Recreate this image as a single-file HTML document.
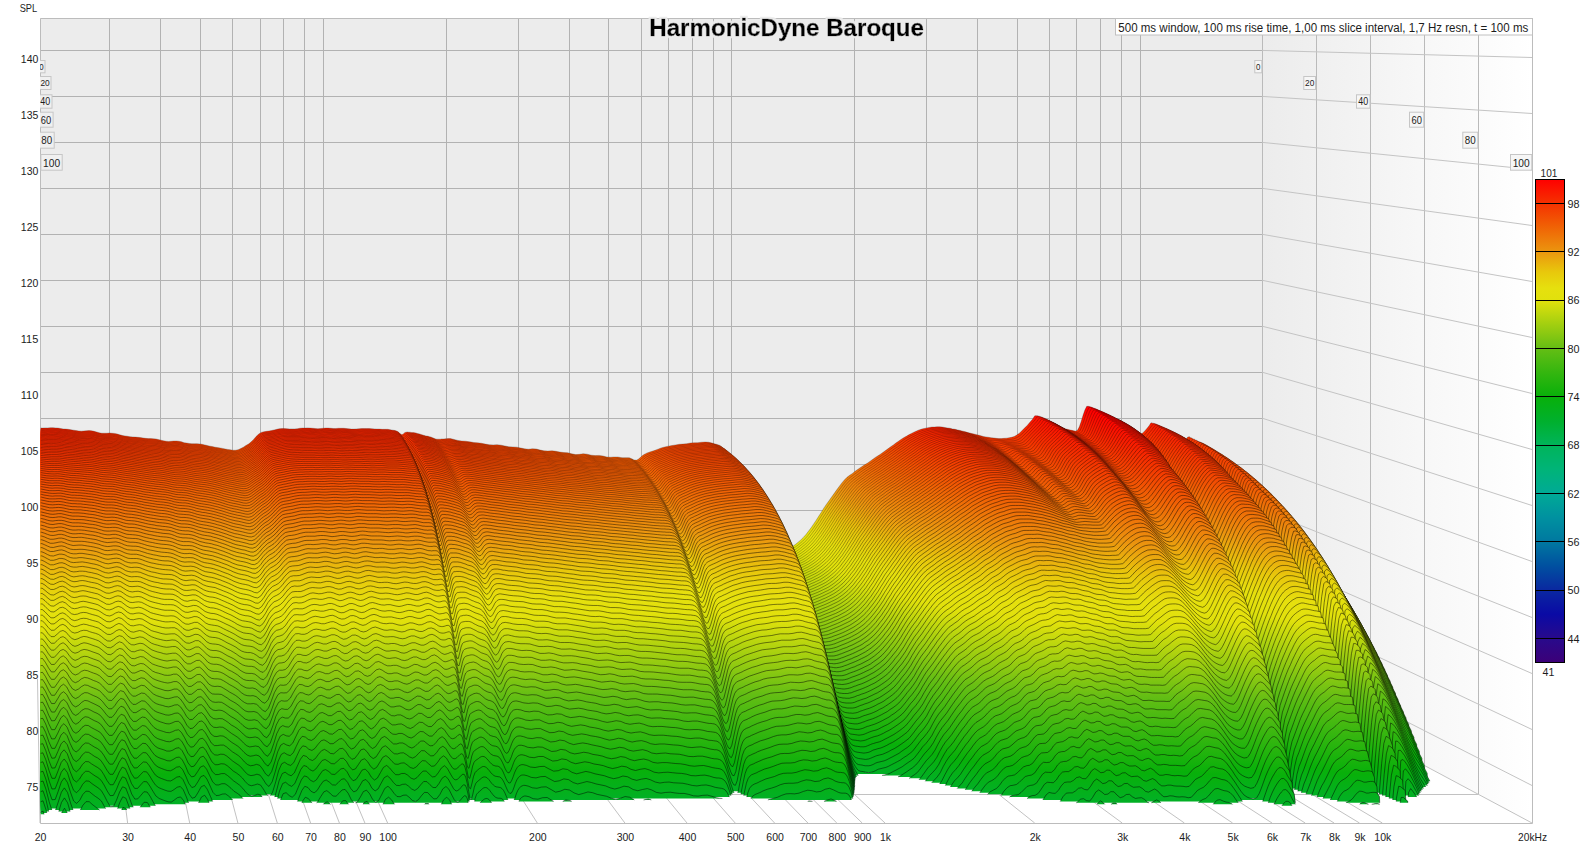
<!DOCTYPE html>
<html><head><meta charset="utf-8"><title>HarmonicDyne Baroque</title>
<style>html,body{margin:0;padding:0;background:#fff}svg{display:block}text{font-family:'Liberation Sans', sans-serif;fill:#1c1c1c}</style></head>
<body>
<svg width="1590" height="849" viewBox="0 0 1590 849">
<defs>
<linearGradient id="rw" x1="0" y1="0" x2="1" y2="0"><stop offset="0" stop-color="#ececec"/><stop offset="1" stop-color="#ffffff"/></linearGradient>
<linearGradient id="lv" gradientUnits="userSpaceOnUse" x1="0" y1="1905.2" x2="0" y2="4593.2"><stop offset="0.0000" stop-color="#ff0000"/><stop offset="0.0500" stop-color="#f53200"/><stop offset="0.1000" stop-color="#f06405"/><stop offset="0.1500" stop-color="#eb960f"/><stop offset="0.1917" stop-color="#e8c80c"/><stop offset="0.2250" stop-color="#e6e00e"/><stop offset="0.2500" stop-color="#e1e10c"/><stop offset="0.3000" stop-color="#a2cf10"/><stop offset="0.3500" stop-color="#64be14"/><stop offset="0.4000" stop-color="#34b60f"/><stop offset="0.4500" stop-color="#08b00a"/><stop offset="0.5000" stop-color="#00b02d"/><stop offset="0.5500" stop-color="#00b45a"/><stop offset="0.6000" stop-color="#00b478"/><stop offset="0.6500" stop-color="#00aa96"/><stop offset="0.7000" stop-color="#0091a0"/><stop offset="0.7500" stop-color="#0078a0"/><stop offset="0.8000" stop-color="#0050a0"/><stop offset="0.8500" stop-color="#0a28a0"/><stop offset="0.9000" stop-color="#0a0aa5"/><stop offset="0.9500" stop-color="#280a8c"/><stop offset="1.0000" stop-color="#3c0078"/></linearGradient>
<linearGradient id="cb" x1="0" y1="0" x2="0" y2="1"><stop offset="0.0000" stop-color="#ff0000"/><stop offset="0.0500" stop-color="#f53200"/><stop offset="0.1000" stop-color="#f06405"/><stop offset="0.1500" stop-color="#eb960f"/><stop offset="0.1917" stop-color="#e8c80c"/><stop offset="0.2250" stop-color="#e6e00e"/><stop offset="0.2500" stop-color="#e1e10c"/><stop offset="0.3000" stop-color="#a2cf10"/><stop offset="0.3500" stop-color="#64be14"/><stop offset="0.4000" stop-color="#34b60f"/><stop offset="0.4500" stop-color="#08b00a"/><stop offset="0.5000" stop-color="#00b02d"/><stop offset="0.5500" stop-color="#00b45a"/><stop offset="0.6000" stop-color="#00b478"/><stop offset="0.6500" stop-color="#00aa96"/><stop offset="0.7000" stop-color="#0091a0"/><stop offset="0.7500" stop-color="#0078a0"/><stop offset="0.8000" stop-color="#0050a0"/><stop offset="0.8500" stop-color="#0a28a0"/><stop offset="0.9000" stop-color="#0a0aa5"/><stop offset="0.9500" stop-color="#280a8c"/><stop offset="1.0000" stop-color="#3c0078"/></linearGradient>
<clipPath id="pc"><rect x="40" y="18" width="1492.5" height="805.5"/></clipPath><clipPath id="pw"><rect x="40.7" y="18" width="1491.3" height="805"/></clipPath>
<filter id="halo" x="-3%" y="-25%" width="106%" height="150%"><feMorphology in="SourceAlpha" operator="dilate" radius="1.5" result="d"/><feFlood flood-color="#ececec" flood-opacity="0.92"/><feComposite in2="d" operator="in" result="h"/><feMerge><feMergeNode in="h"/><feMergeNode in="SourceGraphic"/></feMerge></filter>
</defs>
<rect width="1590" height="849" fill="#fff"/>
<rect x="40.0" y="18.0" width="1222.4" height="660.9" fill="#ececec"/>
<polygon points="1262.4,18.0 1532.0,18.0 1532.0,823.0 1262.4,678.9" fill="url(#rw)"/>
<path clip-path="url(#pc)" d="M37.5 18.0V678.9M109.5 18.0V678.9M160.5 18.0V678.9M200.5 18.0V678.9M232.5 18.0V678.9M260.5 18.0V678.9M283.5 18.0V678.9M304.5 18.0V678.9M323.5 18.0V678.9M446.5 18.0V678.9M518.5 18.0V678.9M569.5 18.0V678.9M608.5 18.0V678.9M641.5 18.0V678.9M668.5 18.0V678.9M692.5 18.0V678.9M713.5 18.0V678.9M731.5 18.0V678.9M854.5 18.0V678.9M926.5 18.0V678.9M977.5 18.0V678.9M1017.5 18.0V678.9M1049.5 18.0V678.9M1076.5 18.0V678.9M1100.5 18.0V678.9M1121.5 18.0V678.9M1140.5 18.0V678.9M1262.5 18.0V678.9M40.0 50.5H1262.4M40.0 96.5H1262.4M40.0 142.5H1262.4M40.0 188.5H1262.4M40.0 234.5H1262.4M40.0 280.5H1262.4M40.0 326.5H1262.4M40.0 372.5H1262.4M40.0 418.5H1262.4M40.0 464.5H1262.4M40.0 510.5H1262.4M40.0 556.5H1262.4M40.0 602.5H1262.4M40.0 648.5H1262.4" stroke="#b2b2b2" stroke-width="1" fill="none"/>
<path d="M1262.5 18.0V678.9M1316.5 18.0V707.7M1370.5 18.0V736.5M1424.5 18.0V765.4M1478.5 18.0V794.2M1532.5 18.0V823.0" stroke="#bababa" stroke-width="1" fill="none"/>
<path d="M1262.4 50.43L1532.0 57.50M1262.4 96.41L1532.0 113.50M1262.4 142.38L1532.0 169.50M1262.4 188.36L1532.0 225.50M1262.4 234.33L1532.0 281.50M1262.4 280.31L1532.0 337.50M1262.4 326.29L1532.0 393.50M1262.4 372.26L1532.0 449.50M1262.4 418.24L1532.0 505.50M1262.4 464.21L1532.0 561.50M1262.4 510.19L1532.0 617.50M1262.4 556.17L1532.0 673.50M1262.4 602.14L1532.0 729.50M1262.4 648.12L1532.0 785.50" stroke="#c4c4c4" stroke-width="1" fill="none"/>
<path d="M37.5 678.9L40.0 823.0M109.4 678.9L127.6 823.0M160.4 678.9L189.7 823.0M200.0 678.9L237.9 823.0M232.3 678.9L277.3 823.0M259.6 678.9L310.6 823.0M283.3 678.9L339.4 823.0M304.2 678.9L364.9 823.0M322.9 678.9L387.6 823.0M445.8 678.9L537.3 823.0M517.7 678.9L624.9 823.0M568.7 678.9L687.0 823.0M608.3 678.9L735.2 823.0M640.6 678.9L774.6 823.0M668.0 678.9L807.9 823.0M691.6 678.9L836.8 823.0M712.5 678.9L862.2 823.0M731.2 678.9L885.0 823.0M854.1 678.9L1034.7 823.0M926.0 678.9L1122.2 823.0M977.0 678.9L1184.4 823.0M1016.6 678.9L1232.6 823.0M1048.9 678.9L1272.0 823.0M1076.3 678.9L1305.2 823.0M1099.9 678.9L1334.1 823.0M1120.8 678.9L1359.5 823.0M1139.5 678.9L1382.3 823.0M1262.4 678.9L1532.0 823.0M40.0 679.5H1262.4M40.0 708.5H1316.3M40.0 737.5H1370.3M40.0 765.5H1424.2M40.0 794.5H1478.1" stroke="#c2c2c2" stroke-width="1" fill="none"/>
<path d="M40.5 18.5H1532.5V823.5H40.5Z" stroke="#bcbcbc" stroke-width="1" fill="none"/>
<g clip-path="url(#pw)"><g transform="translate(26,18) scale(0.25)" fill="url(#lv)" stroke="#000" stroke-opacity="0.78" stroke-linejoin="round">
<path transform="scale(0.82100)" stroke-width="1.46" d="M0 3220l0-1224 56 0 13 1 12 1 13-1 12 0 13-1 12 0 13 1 12 1 13 2 12 2 13 1 12 1 13 2 12 2 13 2 13 2 12 1 13-1 12-1 13-1 12 1 13 3 12 3 13 4 12 2 13 0 12 0 13-1 12 1 13 1 13 3 12 4 13 3 12 2 13 2 12 2 13 1 12 1 13 1 12 1 13 2 12 2 13 1 12 0 13 1 13 1 12 3 13 3 12 3 13 2 12 1 13-1 12-1 13 0 12 1 13 3 12 4 13 2 12 2 13 1 13 0 12 0 13 1 12 2 13 3 12 3 13 3 12 2 13 3 12 2 13 2 12 2 13 3 12 2 13 2 12 2 13 0 13-3 12-5 13-7 12-8 13-7 12-10 13-13 12-14 13-12 12-8 13-3 12-2 13-2 12-2 13-3 13-3 12-3 13-1 12 0 13 1 12 1 13 0 12 0 13-1 12-2 13-1 12 0 13-1 12 1 13 1 13 1 12 1 13-1 12-1 13-1 12 0 13 1 12 1 13 0 12-1 13 0 12 0 13 1 12 1 13 2 13 0 12-1 13-1 12-1 13 0 12 0 13 0 12 1 13 1 12 1 13 0 12 1 13 0 9 0 6 0 6 1 6 1 6 1 6 1 6 1 6 1 6 2 6 3 6 4 6 6 5 4 6 0 6-4 6-5 6-2 6-1 6 1 6 0 6 1 6 1 6 0 6 1 6 1 6 2 6 1 6 2 6 2 6 2 6 2 6 1 6 2 6 1 6 1 6 2 6 1 6 3 6 2 6 3 6 2 6 1 6 0 6 0 5 0 6-1 6 0 6 0 6-1 6 0 6-1 13 0 12 3 5 1 19 5 19 3 19 1 20 3 19 3 19 2 19 2 19 4 19 3 19 1 19-1 19 2 19 4 19 4 20 1 19 1 19 4 19 4 19 2 19-2 19 1 19 5 19 4 19 1 20-1 19 2 19 4 19 2 19 1 19 5 19 4 19-1 19-3 19 2 20 5 19 2 19-1 19 3 19 5 19 1 12-1 7 0 7 0 7 0 8 1 7 1 7 1 7 0 7 0 7 0 8 0 7 1 7 3 7 3 7 4 7 1 8 0 7-4 7-6 7-6 7-6 7-5 8-4 7-4 7-2 7-3 18-5 18-7 18-7 18-5 18-4 17-3 18-3 18-3 18-1 18-2 18-3 18-1 18-1 18-2 18-1 17 1 12 3 8 2 7 2 7 2 7 2 7 2 7 3 8 6 7 10 7 16 7 23 7 30 7 32 8 35 7 35 7 34 7 32 7 31 7 30 7 30 8 29 7 28 7 27 7 25 7 23 7 20 8 16 7 14 7 11 7 7 7 3 7 2 8 1 7 0 7 1 7-1 7-1 7-1 8-1 7-2 7-2 7-2 5-2 12-5 13-6 12-5 13-5 12-6 13-6 13-7 12-9 13-9 12-10 13-11 12-12 13-14 12-16 13-17 12-18 13-19 12-19 13-20 12-20 13-19 13-18 12-17 13-18 12-17 13-18 12-16 13-15 12-12 13-10 12-8 13-10 12-9 13-9 12-8 13-8 13-8 12-9 13-9 12-9 13-8 12-8 13-9 12-9 13-9 12-9 13-9 12-9 13-9 12-9 13-8 13-7 12-7 13-7 12-6 13-6 12-5 13-4 12-3 13-3 12-2 13-2 12 0 13-1 12 0 13 1 12 2 13 2 13 2 12 3 13 2 12 3 13 3 12 3 13 3 12 4 13 3 12 3 13 3 12 3 13 3 12 4 13 2 13 2 12 2 13 1 12 2 13 1 12 0 13-1 12-1 13-2 12-2 13-4 12-7 13-9 12-12 13-13 13-13 12-14 13-15 12-18 13 0 12 3 13 5 12 6 13 6 12 6 13 6 12 6 13 8 12 7 13 6 13 5 3 1 9 2 9 2 9 2 9 2 9 2 9-4 9-17 9-26 9-30 9-26 9-18 9 0 8 2 9 3 9 4 9 3 9 4 9 5 9 4 9 6 9 5 9 6 9 5 9 6 9 6 9 5 9 6 9 5 9 6 9 6 9 6 9 6 9 6 8 5 9 4 9 4 9 4 9 4 9 5 9 3 9 0 9-8 9-10 9-10 9-12 9-14 9 2 9 2 9 3 9 4 9 5 9 5 9 6 9 6 8 6 9 6 9 6 9 6 9 5 9 5 9 5 9 4 9 5 9 4 9-1 9-14 9-2 9 13 9 12 9-1 9-2 9 2 9 3 9 4 9 5 8 6 9 7 9 8 9 8 9 8 9 9 9 7 9 7 9 6 9 7 9 7 9 8 9 8 9 7 9 8 9 7 9 7 9 8 9 7 9 8 3 3 0 993"/>
<path transform="scale(0.82279)" stroke-width="1.49" d="M0 3220l0-1223 56 0 13 1 12 0 13 0 12 0 13-1 12 0 13 1 12 1 13 2 12 1 13 2 12 1 13 1 12 2 13 3 13 1 12 1 13-1 12-1 13 0 12 1 13 2 12 4 13 3 12 2 13 1 12-1 13 0 12 0 13 2 13 3 12 3 13 3 12 3 13 2 12 1 13 1 12 1 13 1 12 2 13 2 12 1 13 1 12 1 13 1 13 1 12 3 13 3 12 3 13 2 12 0 13-1 12 0 13 0 12 1 13 3 12 3 13 3 12 1 13 1 13 0 12 1 13 1 12 2 13 2 12 3 13 3 12 3 13 2 12 3 13 2 12 2 13 2 12 3 13 2 12 2 13 0 13-3 12-6 13-7 12-7 13-8 12-9 13-13 12-14 13-12 12-8 13-3 12-2 13-2 12-3 13-3 13-3 12-2 13-1 12 0 13 0 12 1 13 0 12 0 13-1 12-1 13-1 12-1 13 0 12 1 13 1 13 1 12 0 13 0 12-1 13-1 12 0 13 0 12 1 13 1 12-1 13-1 12 0 13 1 12 2 13 1 13 0 12 0 13-1 12-1 13 0 12 0 13 0 12 1 13 1 12 1 13 0 12 0 13 0 9 1 6 0 6 1 6 0 6 1 6 1 6 1 6 2 6 2 6 3 6 5 6 7 5 5 6 0 6-6 6-6 6-3 6 0 6 0 6 1 6 1 6 0 6 1 6 1 6 1 6 1 6 2 6 2 6 2 6 2 6 1 6 2 6 1 6 1 6 2 6 1 6 2 6 3 6 2 6 3 6 2 6 1 6 0 6 0 5-1 6 0 6-1 6 0 6 0 6-1 6 0 13 0 12 2 5 2 19 5 19 3 19 1 20 2 19 4 19 2 19 2 19 3 19 4 19 1 19-1 19 1 19 4 19 4 20 2 19 1 19 3 19 5 19 1 19-1 19 0 19 5 19 5 19 0 20-1 19 3 19 4 19 1 19 2 19 4 19 4 19-1 19-2 19 2 20 5 19 2 19-1 19 3 19 5 19 1 12-1 7 0 7 0 7 0 8 1 7 1 7 0 7 1 7 0 7 0 8 0 7 1 7 3 7 3 7 4 7 2 8-1 7-4 7-6 7-7 7-5 7-5 8-4 7-4 7-3 7-2 18-5 18-7 18-8 18-5 18-3 17-3 18-4 18-2 18-2 18-2 18-2 18-1 18-1 18-2 18-2 17 2 12 2 8 3 7 2 7 2 7 2 7 2 7 3 8 6 7 10 7 16 7 23 7 29 7 33 8 35 7 35 7 34 7 32 7 30 7 30 7 30 8 29 7 28 7 27 7 26 7 23 7 19 8 17 7 14 7 10 7 7 7 4 7 1 8 2 7 0 7 0 7 0 7-1 7-1 8-1 7-2 7-2 7-3 5-2 12-5 13-5 12-5 13-6 12-5 13-6 13-8 12-8 13-9 12-10 13-11 12-12 13-14 12-16 13-17 12-18 13-19 12-20 13-20 12-19 13-19 13-18 12-17 13-18 12-18 13-17 12-16 13-15 12-12 13-10 12-9 13-9 12-10 13-9 12-8 13-8 13-8 12-8 13-9 12-9 13-8 12-9 13-8 12-9 13-10 12-9 13-8 12-9 13-9 12-9 13-9 13-7 12-7 13-6 12-6 13-6 12-5 13-4 12-3 13-3 12-3 13-1 12-1 13 0 12 0 13 1 12 2 13 2 13 2 12 2 13 3 12 3 13 3 12 3 13 3 12 4 13 4 12 3 13 3 12 4 13 3 12 4 13 3 13 2 12 0 13 1 12 1 13 1 12 1 13-1 12-1 13-1 12-2 13-5 12-7 13-10 12-12 13-14 13-13 12-14 13-14 12-18 13 0 12 3 13 5 12 6 13 6 12 6 13 6 12 7 13 7 12 8 13 6 13 5 3 1 9 2 9 2 9 2 9 2 9 1 9-6 9-19 9-26 9-28 9-24 9-18 9 1 8 2 9 3 9 3 9 4 9 3 9 4 9 4 9 5 9 5 9 5 9 5 9 6 9 5 9 5 9 6 9 5 9 6 9 6 9 7 9 6 9 6 8 6 9 5 9 5 9 6 9 8 9 7 9 3 9-6 9-11 9-11 9-11 9-12 9-11 9 2 9 3 9 3 9 3 9 4 9 5 9 5 9 5 8 6 9 6 9 6 9 5 9 6 9 6 9 6 9 6 9 9 9 6 9-8 9-16 9 1 9 14 9 16 9-3 9-5 9 2 9 3 9 4 9 5 8 6 9 8 9 8 9 8 9 9 9 8 9 8 9 7 9 7 9 7 9 7 9 8 9 8 9 7 9 8 9 8 9 7 9 8 9 8 9 8 3 3 0 986"/>
<path transform="scale(0.82458)" stroke-width="1.52" d="M0 3220l0-1223 56 0 13 1 12 1 13 0 12-1 13 0 12 0 13 0 12 2 13 1 12 2 13 1 12 2 13 1 12 2 13 2 13 2 12 0 13 0 12-1 13 0 12 1 13 2 12 4 13 3 12 2 13 0 12 0 13 0 12 0 13 2 13 3 12 3 13 3 12 2 13 2 12 2 13 1 12 1 13 1 12 2 13 2 12 1 13 1 12 1 13 1 13 1 12 2 13 3 12 3 13 2 12 1 13-1 12-1 13 1 12 1 13 3 12 3 13 3 12 1 13 1 13 0 12 1 13 1 12 2 13 2 12 3 13 3 12 3 13 2 12 3 13 2 12 2 13 2 12 3 13 2 12 1 13 1 13-3 12-6 13-7 12-7 13-8 12-10 13-12 12-14 13-12 12-8 13-4 12-1 13-2 12-3 13-3 13-3 12-2 13-1 12 0 13 0 12 1 13 0 12 0 13-1 12-1 13-1 12-1 13 0 12 1 13 0 13 1 12 1 13-1 12-1 13 0 12 0 13 0 12 1 13 0 12 0 13-1 12 0 13 1 12 2 13 1 13 0 12-1 13 0 12-1 13 0 12 0 13 0 12 1 13 1 12 0 13 1 12 0 13 0 9 1 6 0 6 1 6 0 6 1 6 1 6 1 6 2 6 2 6 3 6 6 6 7 5 5 6 1 6-6 6-7 6-4 6 0 6 0 6 1 6 0 6 1 6 1 6 1 6 1 6 1 6 2 6 2 6 1 6 2 6 2 6 2 6 1 6 1 6 2 6 1 6 2 6 3 6 2 6 3 6 2 6 1 6 0 6 0 5-1 6-1 6 0 6 0 6-1 6 0 6 0 13 0 12 2 5 1 19 5 19 3 19 1 20 3 19 3 19 2 19 2 19 4 19 3 19 1 19 0 19 1 19 4 19 4 20 2 19 1 19 3 19 4 19 2 19-1 19 0 19 5 19 4 19 1 20-1 19 3 19 4 19 1 19 1 19 5 19 4 19-1 19-2 19 2 20 5 19 1 19 0 19 3 19 4 19 2 12-1 7-1 7 0 7 1 8 1 7 0 7 1 7 1 7 0 7 0 8 0 7 1 7 3 7 4 7 3 7 2 8-1 7-4 7-6 7-7 7-5 7-5 8-4 7-4 7-3 7-2 18-6 18-7 18-7 18-5 18-3 17-4 18-3 18-2 18-2 18-2 18-2 18-2 18-1 18-2 18-1 17 1 12 3 8 2 7 3 7 2 7 2 7 2 7 3 8 5 7 11 7 15 7 24 7 29 7 33 8 35 7 35 7 34 7 32 7 30 7 30 7 30 8 29 7 28 7 27 7 26 7 22 7 20 8 17 7 14 7 10 7 7 7 4 7 1 8 1 7 1 7 0 7 0 7-1 7-1 8-2 7-1 7-3 7-2 5-2 12-5 13-5 12-5 13-6 12-5 13-7 13-7 12-8 13-10 12-10 13-10 12-13 13-14 12-16 13-17 12-18 13-18 12-20 13-20 12-19 13-19 13-18 12-18 13-17 12-18 13-17 12-17 13-14 12-12 13-10 12-9 13-9 12-10 13-9 12-8 13-8 13-8 12-9 13-9 12-8 13-9 12-8 13-8 12-10 13-9 12-9 13-8 12-9 13-9 12-9 13-9 13-7 12-7 13-6 12-7 13-5 12-5 13-4 12-4 13-3 12-2 13-1 12-1 13 0 12 0 13 1 12 2 13 2 13 2 12 2 13 3 12 3 13 3 12 3 13 3 12 4 13 4 12 4 13 4 12 4 13 4 12 4 13 3 13 2 12-1 13 0 12 0 13 1 12 1 13 0 12 0 13-1 12-2 13-5 12-8 13-12 12-12 13-13 13-13 12-14 13-14 12-17 13-1 12 4 13 4 12 6 13 7 12 6 13 6 12 7 13 7 12 8 13 6 13 5 3 1 9 2 9 2 9 2 9 1 9 1 9-10 9-19 9-25 9-27 9-23 9-16 9 1 8 2 9 3 9 3 9 3 9 3 9 4 9 4 9 4 9 5 9 5 9 5 9 5 9 5 9 5 9 5 9 6 9 6 9 6 9 7 9 7 9 6 8 6 9 7 9 6 9 10 9 11 9 7 9 0 9-13 9-12 9-11 9-11 9-13 9-8 9 3 9 2 9 3 9 3 9 4 9 4 9 5 9 5 8 6 9 5 9 6 9 6 9 6 9 7 9 7 9 9 9 12 9 6 9-17 9-14 9 1 9 16 9 20 9-5 9-8 9 2 9 3 9 4 9 6 8 6 9 8 9 8 9 9 9 9 9 8 9 8 9 7 9 7 9 7 9 8 9 8 9 8 9 8 9 8 9 8 9 7 9 8 9 8 9 9 3 3 0 979"/>
<path transform="scale(0.82637)" stroke-width="1.56" d="M0 3220l0-1222 56 0 13 1 12 0 13 1 12-1 13 0 12 0 13 0 12 2 13 1 12 2 13 1 12 2 13 1 12 2 13 2 13 1 12 1 13 0 12-1 13 0 12 1 13 2 12 4 13 3 12 1 13 1 12 0 13 0 12 0 13 2 13 3 12 3 13 3 12 2 13 2 12 1 13 2 12 1 13 1 12 2 13 1 12 2 13 1 12 1 13 1 13 1 12 2 13 3 12 3 13 2 12 1 13-1 12-1 13 1 12 1 13 3 12 3 13 2 12 2 13 1 13 0 12 1 13 1 12 2 13 2 12 3 13 3 12 3 13 2 12 3 13 2 12 2 13 2 12 3 13 2 12 2 13 0 13-3 12-6 13-7 12-7 13-8 12-10 13-13 12-13 13-12 12-8 13-4 12-2 13-2 12-2 13-3 13-3 12-2 13-1 12 0 13 0 12 1 13 0 12-1 13 0 12-1 13-1 12-1 13 0 12 1 13 0 13 1 12 1 13-1 12-1 13 0 12-1 13 1 12 1 13 0 12 0 13-1 12 0 13 1 12 2 13 1 13 0 12-1 13-1 12 0 13 0 12 0 13 0 12 1 13 1 12 0 13 1 12 0 13 0 9 1 6 0 6 1 6 0 6 1 6 1 6 1 6 2 6 2 6 3 6 7 6 7 5 6 6 0 6-6 6-8 6-4 6 0 6 0 6 1 6 0 6 1 6 1 6 1 6 1 6 1 6 2 6 2 6 1 6 2 6 2 6 1 6 2 6 1 6 2 6 1 6 3 6 2 6 3 6 2 6 2 6 1 6 0 6 0 5-1 6-1 6 0 6 0 6-1 6 0 6 0 13 0 12 2 5 1 19 5 19 3 19 1 20 3 19 3 19 2 19 2 19 4 19 3 19 1 19 0 19 1 19 4 19 4 20 1 19 2 19 3 19 4 19 2 19-1 19 0 19 5 19 4 19 1 20-1 19 3 19 4 19 1 19 1 19 5 19 3 19 0 19-2 19 2 20 5 19 1 19 0 19 3 19 4 19 1 12 0 7-1 7 0 7 1 8 1 7 0 7 1 7 0 7 1 7 0 8 0 7 2 7 3 7 3 7 4 7 2 8-2 7-4 7-6 7-7 7-5 7-5 8-4 7-4 7-2 7-3 18-6 18-7 18-7 18-5 18-3 17-4 18-3 18-2 18-2 18-2 18-3 18-1 18-1 18-2 18-1 17 2 12 2 8 2 7 3 7 2 7 2 7 2 7 2 8 6 7 10 7 16 7 24 7 29 7 33 8 34 7 36 7 34 7 31 7 31 7 30 7 30 8 29 7 28 7 27 7 26 7 22 7 20 8 17 7 14 7 10 7 7 7 4 7 1 8 1 7 1 7 0 7 0 7-1 7-1 8-2 7-1 7-3 7-2 5-2 12-5 13-5 12-6 13-5 12-5 13-7 13-7 12-8 13-10 12-10 13-10 12-13 13-14 12-16 13-17 12-18 13-19 12-19 13-20 12-19 13-19 13-18 12-18 13-17 12-18 13-17 12-17 13-14 12-12 13-10 12-9 13-9 12-10 13-9 12-8 13-8 13-8 12-9 13-9 12-8 13-9 12-8 13-9 12-9 13-9 12-9 13-9 12-8 13-9 12-9 13-9 13-7 12-7 13-6 12-7 13-5 12-5 13-4 12-4 13-3 12-2 13-1 12-1 13 0 12 0 13 1 12 2 13 2 13 2 12 2 13 3 12 3 13 3 12 3 13 3 12 5 13 4 12 4 13 4 12 5 13 4 12 4 13 4 13 2 12-1 13-2 12 0 13 1 12 1 13 1 12-1 13 0 12-2 13-5 12-9 13-13 12-12 13-14 13-13 12-13 13-14 12-17 13 0 12 3 13 5 12 6 13 6 12 7 13 6 12 7 13 7 12 8 13 6 13 5 3 1 9 3 9 1 9 2 9 1 9-1 9-12 9-20 9-24 9-25 9-22 9-15 9 1 8 2 9 3 9 3 9 3 9 3 9 3 9 4 9 4 9 5 9 4 9 5 9 5 9 5 9 5 9 6 9 5 9 7 9 6 9 7 9 7 9 7 8 7 9 7 9 11 9 13 9 12 9 5 9-10 9-14 9-11 9-12 9-12 9-13 9-4 9 2 9 3 9 2 9 3 9 4 9 4 9 5 9 5 8 5 9 6 9 6 9 6 9 6 9 8 9 7 9 15 9 14 9 0 9-23 9-11 9 2 9 18 9 24 9-9 9-9 9 1 9 4 9 4 9 6 8 6 9 8 9 8 9 9 9 9 9 9 9 8 9 8 9 7 9 7 9 8 9 8 9 8 9 8 9 8 9 8 9 8 9 8 9 9 9 8 3 3 0 973"/>
<path transform="scale(0.82816)" stroke-width="1.59" d="M0 3220l0-1221 56 0 13 1 12 0 13 1 12-1 13 0 12 0 13 1 12 1 13 1 12 2 13 1 12 2 13 1 12 2 13 2 13 1 12 1 13 0 12-1 13 0 12 1 13 2 12 4 13 2 12 2 13 1 12 0 13 0 12 1 13 2 13 2 12 3 13 3 12 2 13 2 12 1 13 2 12 1 13 1 12 2 13 1 12 2 13 1 12 1 13 1 13 1 12 2 13 3 12 3 13 2 12 1 13-1 12 0 13 0 12 2 13 2 12 3 13 3 12 1 13 1 13 0 12 1 13 1 12 2 13 3 12 2 13 3 12 3 13 3 12 2 13 2 12 2 13 3 12 2 13 2 12 2 13 0 13-3 12-6 13-7 12-7 13-8 12-10 13-12 12-14 13-12 12-8 13-4 12-2 13-2 12-2 13-3 13-3 12-2 13-1 12 0 13 0 12 1 13 0 12-1 13 0 12-1 13-1 12 0 13-1 12 1 13 0 13 1 12 1 13-1 12-1 13 0 12 0 13 0 12 1 13 0 12 0 13-1 12 0 13 1 12 2 13 1 13 0 12-1 13 0 12-1 13 0 12 0 13 0 12 1 13 1 12 0 13 1 12 0 13 1 9 0 6 0 6 1 6 1 6 0 6 1 6 1 6 2 6 2 6 4 6 6 6 9 5 6 6 0 6-7 6-8 6-4 6-1 6 0 6 1 6 0 6 1 6 1 6 1 6 1 6 1 6 2 6 2 6 1 6 2 6 2 6 1 6 2 6 1 6 2 6 2 6 2 6 3 6 2 6 3 6 2 6 1 6 0 6-1 5-1 6-1 6 0 6 0 6-1 6 0 6 0 13 1 12 2 5 1 19 4 19 3 19 1 20 3 19 3 19 2 19 2 19 4 19 3 19 1 19 0 19 2 19 3 19 4 20 2 19 1 19 3 19 4 19 2 19-1 19 1 19 4 19 4 19 1 20-1 19 3 19 4 19 1 19 1 19 5 19 3 19 0 19-2 19 2 20 5 19 1 19 0 19 3 19 4 19 1 12 0 7 0 7 0 7 0 8 1 7 0 7 1 7 1 7 0 7 0 8 0 7 2 7 3 7 4 7 4 7 2 8-2 7-4 7-7 7-6 7-6 7-5 8-4 7-3 7-3 7-3 18-6 18-7 18-7 18-5 18-3 17-4 18-3 18-2 18-2 18-2 18-2 18-2 18-1 18-2 18-1 17 2 12 2 8 2 7 3 7 2 7 2 7 2 7 3 8 5 7 11 7 16 7 23 7 29 7 33 8 35 7 35 7 34 7 32 7 30 7 30 7 30 8 29 7 28 7 27 7 26 7 22 7 20 8 17 7 14 7 10 7 7 7 4 7 1 8 1 7 1 7 0 7 0 7-1 7-1 8-2 7-1 7-3 7-2 5-2 12-5 13-5 12-5 13-6 12-5 13-7 13-7 12-8 13-10 12-9 13-11 12-13 13-14 12-16 13-17 12-18 13-18 12-20 13-20 12-19 13-19 13-18 12-18 13-17 12-18 13-17 12-16 13-15 12-12 13-10 12-9 13-9 12-10 13-9 12-8 13-8 13-8 12-9 13-9 12-8 13-9 12-8 13-8 12-10 13-9 12-9 13-9 12-8 13-9 12-9 13-9 13-7 12-7 13-6 12-7 13-5 12-5 13-4 12-4 13-3 12-2 13-1 12-1 13 0 12 0 13 1 12 2 13 2 13 2 12 2 13 3 12 3 13 3 12 3 13 4 12 4 13 5 12 4 13 5 12 5 13 5 12 4 13 4 13 2 12-2 13-3 12-1 13 2 12 1 13 1 12 0 13 0 12-2 13-5 12-10 13-13 12-14 13-13 13-13 12-13 13-14 12-17 13 0 12 4 13 4 12 6 13 7 12 7 13 6 12 7 13 8 12 7 13 6 13 5 3 2 9 2 9 2 9 1 9 1 9-4 9-13 9-20 9-23 9-24 9-20 9-15 9 1 8 3 9 2 9 3 9 3 9 3 9 3 9 4 9 4 9 4 9 5 9 4 9 5 9 5 9 5 9 6 9 6 9 6 9 7 9 7 9 7 9 8 8 7 9 10 9 16 9 16 9 11 9-3 9-16 9-13 9-12 9-12 9-12 9-14 9 0 9 2 9 2 9 3 9 3 9 3 9 4 9 5 9 5 8 5 9 6 9 6 9 6 9 7 9 8 9 11 9 20 9 14 9-11 9-24 9-8 9 3 9 20 9 26 9-10 9-13 9 2 9 3 9 5 9 5 8 7 9 8 9 9 9 9 9 9 9 9 9 9 9 7 9 8 9 7 9 8 9 8 9 9 9 8 9 8 9 9 9 8 9 8 9 9 9 9 3 3 0 965"/>
<path transform="scale(0.82995)" stroke-width="1.62" d="M0 3220l0-1220 56 0 13 1 12 0 13 1 12 0 13-1 12 0 13 1 12 1 13 1 12 2 13 1 12 2 13 1 12 2 13 2 13 1 12 1 13 0 12-1 13 0 12 1 13 3 12 3 13 3 12 1 13 1 12 0 13 0 12 1 13 2 13 2 12 3 13 3 12 2 13 2 12 1 13 2 12 1 13 1 12 2 13 2 12 1 13 1 12 1 13 1 13 1 12 3 13 2 12 3 13 2 12 1 13-1 12 0 13 0 12 2 13 3 12 2 13 3 12 1 13 1 13 1 12 0 13 2 12 1 13 3 12 3 13 3 12 2 13 3 12 2 13 2 12 3 13 2 12 3 13 2 12 1 13 1 13-3 12-6 13-7 12-8 13-8 12-9 13-13 12-14 13-12 12-8 13-3 12-2 13-2 12-3 13-3 13-3 12-2 13-1 12 0 13 0 12 1 13 0 12-1 13 0 12-1 13-1 12 0 13 0 12 0 13 1 13 0 12 1 13 0 12-1 13-1 12 0 13 0 12 1 13 0 12 0 13 0 12 0 13 0 12 2 13 1 13 0 12 0 13-1 12-1 13 0 12 0 13 1 12 0 13 1 12 1 13 0 12 0 13 1 9 0 6 1 6 0 6 1 6 1 6 1 6 1 6 1 6 2 6 4 6 7 6 9 5 6 6 1 6-8 6-9 6-4 6-1 6 0 6 1 6 1 6 0 6 1 6 1 6 1 6 2 6 1 6 2 6 2 6 1 6 2 6 2 6 1 6 1 6 2 6 2 6 2 6 3 6 3 6 2 6 2 6 1 6 0 6-1 5-1 6 0 6-1 6 0 6 0 6-1 6 0 13 1 12 2 5 1 19 5 19 2 19 2 20 2 19 3 19 2 19 2 19 4 19 3 19 1 19 0 19 2 19 4 19 3 20 2 19 1 19 3 19 4 19 2 19-1 19 1 19 4 19 4 19 1 20 0 19 2 19 4 19 1 19 2 19 4 19 3 19 0 19-2 19 3 20 4 19 2 19 0 19 2 19 4 19 2 12-1 7 0 7 0 7 0 8 1 7 1 7 0 7 1 7 0 7 0 8 1 7 2 7 3 7 4 7 4 7 2 8-2 7-5 7-6 7-7 7-6 7-4 8-4 7-4 7-3 7-2 18-7 18-7 18-7 18-5 18-3 17-4 18-3 18-2 18-2 18-2 18-2 18-2 18-1 18-2 18-1 17 2 12 3 8 2 7 2 7 2 7 2 7 2 7 3 8 6 7 10 7 16 7 23 7 29 7 33 8 35 7 35 7 34 7 32 7 30 7 30 7 30 8 29 7 28 7 27 7 26 7 23 7 19 8 17 7 14 7 10 7 8 7 3 7 2 8 1 7 0 7 0 7 0 7-1 7-1 8-1 7-2 7-2 7-3 5-2 12-5 13-5 12-5 13-6 12-5 13-6 13-8 12-8 13-9 12-10 13-11 12-12 13-15 12-15 13-17 12-18 13-19 12-20 13-20 12-19 13-19 13-18 12-17 13-18 12-18 13-17 12-16 13-15 12-12 13-10 12-9 13-9 12-10 13-8 12-9 13-8 13-8 12-8 13-9 12-9 13-8 12-9 13-8 12-9 13-10 12-9 13-8 12-9 13-9 12-9 13-8 13-8 12-7 13-6 12-6 13-6 12-5 13-4 12-3 13-3 12-3 13-1 12-1 13 0 12 0 13 1 12 2 13 2 13 2 12 2 13 3 12 3 13 3 12 3 13 4 12 5 13 5 12 5 13 5 12 5 13 5 12 5 13 4 13 2 12-3 13-4 12-1 13 1 12 2 13 1 12 1 13 0 12-2 13-5 12-11 13-14 12-14 13-13 13-13 12-13 13-13 12-17 13 0 12 3 13 5 12 6 13 7 12 7 13 6 12 8 13 7 12 8 13 6 13 5 3 1 9 2 9 2 9 1 9 1 9-6 9-15 9-20 9-22 9-23 9-19 9-13 9 1 8 2 9 3 9 2 9 3 9 3 9 3 9 4 9 4 9 4 9 4 9 5 9 5 9 5 9 5 9 6 9 6 9 6 9 7 9 8 9 7 9 8 8 9 9 16 9 20 9 16 9 6 9-13 9-18 9-12 9-12 9-12 9-12 9-13 9 2 9 2 9 2 9 3 9 3 9 3 9 4 9 4 9 5 8 6 9 6 9 6 9 7 9 7 9 8 9 18 9 23 9 9 9-21 9-23 9-6 9 5 9 23 9 28 9-13 9-15 9 2 9 3 9 5 9 6 8 7 9 8 9 8 9 10 9 9 9 10 9 8 9 8 9 8 9 7 9 8 9 9 9 8 9 9 9 8 9 9 9 8 9 9 9 9 9 9 3 3 0 958"/>
<path transform="scale(0.83174)" stroke-width="1.65" d="M0 3220l0-1219 56 0 13 1 12 1 13 0 12 0 13 0 12 0 13 0 12 1 13 2 12 1 13 2 12 1 13 1 12 2 13 2 13 1 12 1 13 0 12-1 13 0 12 2 13 2 12 3 13 3 12 1 13 1 12 0 13 0 12 1 13 2 13 3 12 3 13 2 12 2 13 2 12 2 13 1 12 1 13 2 12 1 13 2 12 2 13 1 12 1 13 0 13 2 12 2 13 3 12 3 13 1 12 1 13 0 12-1 13 1 12 1 13 3 12 3 13 2 12 2 13 0 13 1 12 1 13 1 12 2 13 3 12 2 13 3 12 3 13 3 12 2 13 2 12 2 13 3 12 2 13 3 12 1 13 0 13-3 12-6 13-7 12-8 13-7 12-10 13-13 12-13 13-12 12-8 13-4 12-2 13-2 12-3 13-2 13-3 12-2 13-1 12-1 13 1 12 0 13 0 12 0 13-1 12 0 13-1 12-1 13 0 12 0 13 1 13 1 12 0 13 0 12-1 13-1 12 0 13 1 12 0 13 1 12-1 13 0 12 0 13 1 12 1 13 1 13 0 12 0 13-1 12 0 13 0 12 0 13 0 12 1 13 0 12 1 13 0 12 1 13 0 9 1 6 0 6 1 6 0 6 1 6 1 6 1 6 1 6 3 6 4 6 7 6 9 5 7 6 0 6-8 6-9 6-5 6-1 6 1 6 0 6 1 6 1 6 1 6 1 6 1 6 1 6 2 6 1 6 2 6 2 6 1 6 2 6 1 6 2 6 2 6 2 6 2 6 3 6 3 6 2 6 2 6 1 6 0 6-1 5-1 6-1 6-1 6 0 6 0 6 0 6 0 13 0 12 2 5 1 19 5 19 2 19 2 20 3 19 3 19 2 19 2 19 3 19 3 19 2 19 0 19 2 19 3 19 3 20 2 19 2 19 3 19 3 19 2 19 0 19 1 19 4 19 4 19 0 20 0 19 3 19 3 19 2 19 1 19 4 19 3 19 0 19-1 19 2 20 4 19 2 19 0 19 3 19 4 19 1 12 0 7-1 7 0 7 1 8 0 7 1 7 1 7 0 7 0 7 1 8 1 7 2 7 3 7 5 7 4 7 1 8-2 7-5 7-7 7-6 7-6 7-5 8-4 7-3 7-3 7-3 18-6 18-8 18-6 18-5 18-4 17-3 18-3 18-3 18-2 18-2 18-2 18-1 18-1 18-2 18-1 17 2 12 2 8 2 7 2 7 2 7 2 7 2 7 3 8 6 7 10 7 16 7 23 7 30 7 32 8 35 7 35 7 34 7 32 7 31 7 30 7 30 8 29 7 28 7 27 7 25 7 23 7 20 8 17 7 13 7 11 7 7 7 4 7 1 8 1 7 1 7 0 7 0 7-1 7-1 8-2 7-2 7-2 7-2 5-2 12-5 13-5 12-6 13-5 12-6 13-6 13-7 12-9 13-9 12-10 13-11 12-12 13-14 12-16 13-17 12-18 13-19 12-19 13-20 12-20 13-19 13-18 12-17 13-18 12-17 13-18 12-16 13-14 12-13 13-10 12-9 13-9 12-9 13-9 12-8 13-8 13-8 12-9 13-9 12-9 13-8 12-8 13-9 12-9 13-9 12-9 13-9 12-9 13-9 12-9 13-8 13-7 12-7 13-7 12-6 13-6 12-4 13-4 12-4 13-3 12-2 13-2 12 0 13-1 12 0 13 2 12 1 13 2 13 2 12 3 13 3 12 3 13 3 12 3 13 4 12 5 13 5 12 5 13 5 12 6 13 6 12 5 13 4 13 3 12-4 13-6 12-1 13 1 12 2 13 2 12 1 13 1 12-2 13-6 12-12 13-15 12-14 13-13 13-13 12-13 13-13 12-16 13 0 12 3 13 5 12 6 13 7 12 7 13 7 12 7 13 8 12 7 13 7 13 5 3 1 9 2 9 1 9 1 9 0 9-8 9-15 9-20 9-22 9-21 9-18 9-13 9 2 8 2 9 2 9 3 9 2 9 3 9 3 9 4 9 4 9 4 9 4 9 5 9 5 9 5 9 5 9 6 9 6 9 7 9 7 9 8 9 8 9 9 8 14 9 22 9 21 9 13 9-4 9-20 9-15 9-13 9-12 9-12 9-12 9-10 9 2 9 2 9 2 9 3 9 3 9 3 9 4 9 4 9 5 8 6 9 6 9 6 9 7 9 8 9 11 9 25 9 23 9 0 9-27 9-22 9-3 9 7 9 26 9 30 9-17 9-17 9 2 9 3 9 5 9 6 8 7 9 8 9 9 9 10 9 10 9 9 9 9 9 8 9 8 9 8 9 8 9 9 9 8 9 9 9 9 9 8 9 9 9 9 9 9 9 9 3 3 0 951"/>
<path transform="scale(0.83353)" stroke-width="1.68" d="M0 3220l0-1218 56 0 13 1 12 1 13 0 12 1 13-1 12 0 13 1 12 1 13 1 12 2 13 1 12 1 13 2 12 1 13 2 13 1 12 1 13 0 12 0 13 0 12 1 13 3 12 3 13 2 12 2 13 0 12 0 13 1 12 1 13 2 13 3 12 2 13 3 12 2 13 1 12 2 13 1 12 2 13 1 12 2 13 2 12 1 13 1 12 1 13 1 13 1 12 2 13 3 12 3 13 2 12 1 13-1 12 0 13 1 12 1 13 3 12 2 13 3 12 1 13 1 13 1 12 1 13 1 12 2 13 2 12 3 13 3 12 3 13 2 12 3 13 2 12 2 13 3 12 2 13 2 12 2 13 0 13-3 12-6 13-7 12-8 13-8 12-10 13-12 12-14 13-12 12-8 13-3 12-2 13-3 12-2 13-3 13-3 12-2 13-1 12 0 13 0 12 0 13 0 12 0 13 0 12-1 13 0 12-1 13 0 12 0 13 1 13 0 12 1 13-1 12 0 13-1 12 0 13 0 12 1 13 0 12 0 13 0 12 0 13 0 12 1 13 1 13 1 12-1 13 0 12-1 13 0 12 0 13 1 12 0 13 1 12 0 13 1 12 0 13 1 9 1 6 0 6 1 6 0 6 1 6 1 6 1 6 1 6 2 6 5 6 7 6 10 5 7 6 0 6-8 6-10 6-5 6-1 6 0 6 1 6 1 6 0 6 1 6 1 6 1 6 2 6 1 6 2 6 2 6 1 6 2 6 1 6 2 6 2 6 1 6 2 6 3 6 3 6 3 6 2 6 2 6 1 6 0 6-1 5-2 6-1 6 0 6 0 6-1 6 0 6 0 13 1 12 2 5 1 19 4 19 3 19 2 20 2 19 3 19 2 19 2 19 4 19 3 19 1 19 1 19 1 19 4 19 3 20 2 19 1 19 3 19 4 19 1 19 0 19 1 19 4 19 4 19 1 20 0 19 2 19 4 19 1 19 2 19 3 19 4 19 0 19-1 19 2 20 4 19 2 19 0 19 3 19 3 19 1 12 0 7 0 7 0 7 0 8 1 7 1 7 0 7 1 7 0 7 0 8 1 7 3 7 4 7 4 7 4 7 2 8-2 7-6 7-7 7-7 7-6 7-4 8-4 7-3 7-3 7-3 18-7 18-7 18-7 18-5 18-3 17-4 18-3 18-2 18-2 18-2 18-2 18-2 18-1 18-2 18-1 17 2 12 3 8 2 7 2 7 2 7 2 7 2 7 3 8 6 7 10 7 16 7 23 7 29 7 33 8 35 7 35 7 34 7 32 7 30 7 30 7 30 8 29 7 28 7 27 7 26 7 23 7 19 8 17 7 14 7 10 7 8 7 3 7 2 8 1 7 0 7 0 7 0 7-1 7-1 8-1 7-2 7-2 7-3 5-2 12-5 13-5 12-5 13-6 12-5 13-7 13-7 12-8 13-9 12-10 13-11 12-13 13-14 12-15 13-17 12-18 13-19 12-20 13-20 12-19 13-19 13-18 12-17 13-18 12-18 13-17 12-16 13-15 12-12 13-10 12-9 13-9 12-10 13-8 12-9 13-8 13-8 12-8 13-9 12-9 13-8 12-9 13-8 12-10 13-9 12-9 13-8 12-9 13-9 12-9 13-8 13-8 12-7 13-6 12-6 13-6 12-5 13-4 12-3 13-3 12-3 13-1 12-1 13 0 12 0 13 1 12 2 13 2 13 2 12 2 13 3 12 3 13 3 12 4 13 4 12 5 13 5 12 6 13 5 12 6 13 7 12 5 13 5 13 2 12-5 13-6 12-2 13 1 12 3 13 2 12 1 13 1 12-2 13-5 12-13 13-16 12-15 13-13 13-12 12-13 13-13 12-16 13 0 12 3 13 5 12 6 13 7 12 7 13 7 12 8 13 8 12 7 13 7 13 4 3 1 9 3 9 1 9 1 9-2 9-10 9-15 9-20 9-21 9-20 9-17 9-12 9 1 8 3 9 2 9 2 9 3 9 3 9 3 9 3 9 4 9 4 9 5 9 4 9 5 9 5 9 6 9 6 9 6 9 8 9 7 9 8 9 9 9 11 8 22 9 26 9 20 9 5 9-16 9-20 9-14 9-13 9-12 9-12 9-12 9-7 9 2 9 2 9 2 9 3 9 3 9 3 9 4 9 4 9 6 8 5 9 6 9 7 9 8 9 8 9 17 9 31 9 19 9-11 9-31 9-19 9-1 9 9 9 29 9 31 9-19 9-20 9 2 9 3 9 5 9 6 8 7 9 9 9 9 9 10 9 10 9 10 9 9 9 8 9 8 9 8 9 9 9 8 9 9 9 9 9 9 9 9 9 9 9 9 9 9 9 9 3 4 0 943"/>
<path transform="scale(0.83532)" stroke-width="1.71" d="M0 3220l0-1216 56 0 13 1 12 0 13 1 12 0 13 0 12 0 13 0 12 1 13 2 12 1 13 2 12 1 13 1 12 2 13 1 13 2 12 1 13 0 12-1 13 1 12 1 13 2 12 3 13 3 12 1 13 1 12 0 13 0 12 2 13 2 13 2 12 3 13 2 12 2 13 2 12 2 13 1 12 1 13 2 12 1 13 2 12 2 13 1 12 1 13 1 13 1 12 2 13 3 12 3 13 2 12 0 13 0 12 0 13 0 12 2 13 3 12 2 13 2 12 2 13 1 13 1 12 0 13 2 12 2 13 2 12 3 13 3 12 3 13 2 12 3 13 2 12 2 13 3 12 2 13 2 12 2 13 0 13-3 12-6 13-8 12-7 13-8 12-10 13-12 12-14 13-12 12-8 13-4 12-2 13-2 12-2 13-3 13-3 12-2 13-1 12 0 13 0 12 0 13 0 12 0 13-1 12 0 13-1 12 0 13 0 12 0 13 0 13 1 12 0 13 0 12-1 13 0 12-1 13 1 12 0 13 1 12 0 13-1 12 0 13 1 12 1 13 1 13 0 12 0 13-1 12 0 13 0 12 0 13 1 12 0 13 1 12 0 13 1 12 0 13 1 9 0 6 1 6 0 6 1 6 1 6 0 6 1 6 1 6 3 6 5 6 8 6 9 5 8 6 0 6-9 6-10 6-5 6-1 6 0 6 1 6 0 6 1 6 1 6 1 6 1 6 1 6 2 6 2 6 1 6 2 6 2 6 1 6 2 6 1 6 2 6 2 6 3 6 3 6 3 6 3 6 2 6 0 6 0 6-2 5-1 6-1 6-1 6 0 6 0 6 0 6 0 13 1 12 2 5 1 19 4 19 3 19 1 20 3 19 3 19 2 19 2 19 3 19 3 19 2 19 0 19 2 19 3 19 4 20 1 19 2 19 3 19 3 19 2 19 0 19 1 19 4 19 4 19 0 20 1 19 2 19 3 19 2 19 2 19 3 19 3 19 0 19 0 19 2 20 4 19 1 19 1 19 2 19 4 19 1 12 0 7 0 7 0 7 0 8 1 7 0 7 1 7 0 7 1 7 0 8 1 7 3 7 4 7 5 7 4 7 2 8-3 7-5 7-8 7-7 7-6 7-4 8-4 7-4 7-3 7-2 18-7 18-8 18-6 18-5 18-4 17-3 18-3 18-3 18-1 18-2 18-3 18-1 18-1 18-2 18-1 17 2 12 3 8 2 7 2 7 2 7 2 7 2 7 2 8 6 7 10 7 16 7 24 7 29 7 33 8 34 7 36 7 34 7 31 7 31 7 30 7 30 8 29 7 28 7 27 7 26 7 22 7 20 8 17 7 14 7 10 7 7 7 4 7 1 8 1 7 1 7 0 7 0 7-1 7-1 8-1 7-2 7-3 7-2 5-2 12-5 13-5 12-5 13-6 12-6 13-6 13-7 12-8 13-10 12-10 13-10 12-13 13-14 12-16 13-17 12-18 13-18 12-20 13-20 12-20 13-18 13-18 12-18 13-17 12-18 13-17 12-16 13-15 12-12 13-10 12-9 13-10 12-9 13-9 12-8 13-8 13-8 12-9 13-9 12-8 13-9 12-8 13-9 12-9 13-9 12-9 13-9 12-8 13-9 12-9 13-9 13-7 12-7 13-6 12-7 13-5 12-5 13-4 12-4 13-3 12-2 13-1 12-1 13 0 12 0 13 1 12 2 13 2 13 2 12 2 13 3 12 3 13 3 12 4 13 4 12 5 13 6 12 5 13 6 12 7 13 7 12 6 13 4 13 2 12-5 13-8 12-2 13 2 12 2 13 3 12 2 13 1 12-2 13-6 12-13 13-18 12-14 13-13 13-13 12-13 13-12 12-16 13 0 12 3 13 5 12 7 13 7 12 7 13 7 12 8 13 8 12 7 13 7 13 4 3 1 9 2 9 2 9 0 9-4 9-11 9-15 9-19 9-21 9-19 9-16 9-11 9 1 8 3 9 2 9 2 9 3 9 2 9 3 9 4 9 4 9 4 9 4 9 5 9 5 9 5 9 6 9 6 9 7 9 8 9 7 9 9 9 9 9 20 8 28 9 27 9 14 9-7 9-23 9-17 9-14 9-12 9-12 9-12 9-13 9-4 9 2 9 2 9 3 9 2 9 3 9 3 9 4 9 5 9 5 8 6 9 6 9 7 9 8 9 10 9 27 9 33 9 11 9-22 9-31 9-16 9 0 9 11 9 32 9 32 9-21 9-23 9 2 9 3 9 5 9 7 8 7 9 9 9 9 9 10 9 10 9 10 9 10 9 8 9 9 9 8 9 8 9 9 9 9 9 10 9 9 9 9 9 9 9 9 9 9 9 10 3 3 0 936"/>
<path transform="scale(0.83711)" stroke-width="1.74" d="M0 3220l0-1215 56 0 13 1 12 1 13 1 12 0 13 0 12 0 13 0 12 1 13 2 12 1 13 2 12 1 13 1 12 1 13 2 13 1 12 1 13 0 12 0 13 1 12 1 13 2 12 3 13 2 12 2 13 0 12 1 13 0 12 2 13 2 13 2 12 3 13 2 12 2 13 2 12 1 13 2 12 1 13 2 12 1 13 2 12 2 13 1 12 1 13 1 13 1 12 2 13 3 12 2 13 2 12 1 13 0 12 0 13 0 12 2 13 3 12 2 13 2 12 2 13 1 13 1 12 0 13 2 12 2 13 2 12 3 13 3 12 3 13 3 12 2 13 2 12 2 13 3 12 2 13 3 12 1 13 0 13-3 12-6 13-8 12-8 13-7 12-10 13-13 12-13 13-12 12-8 13-4 12-2 13-2 12-3 13-2 13-3 12-2 13-1 12 0 13 0 12 0 13 0 12 0 13-1 12 0 13-1 12 0 13-1 12 1 13 0 13 1 12 0 13 0 12-1 13 0 12-1 13 1 12 0 13 1 12-1 13 0 12 0 13 1 12 1 13 1 13 0 12 0 13-1 12 0 13 0 12 0 13 1 12 0 13 1 12 0 13 1 12 0 13 1 9 0 6 1 6 0 6 1 6 1 6 0 6 1 6 1 6 3 6 5 6 8 6 10 5 8 6 0 6-9 6-11 6-5 6-1 6 0 6 0 6 1 6 1 6 1 6 1 6 1 6 1 6 2 6 1 6 2 6 2 6 1 6 2 6 2 6 1 6 2 6 2 6 3 6 3 6 3 6 3 6 2 6 1 6-1 6-1 5-2 6-1 6-1 6 0 6 0 6 0 6 0 13 1 12 2 5 1 19 4 19 2 19 2 20 3 19 3 19 2 19 2 19 3 19 3 19 2 19 0 19 2 19 3 19 3 20 2 19 2 19 3 19 3 19 2 19 0 19 1 19 4 19 3 19 1 20 1 19 2 19 3 19 2 19 1 19 4 19 3 19 0 19 0 19 2 20 4 19 1 19 1 19 2 19 4 19 1 12 0 7 0 7 0 7 0 8 1 7 0 7 1 7 0 7 1 7 0 8 2 7 3 7 4 7 5 7 4 7 2 8-3 7-6 7-7 7-8 7-6 7-4 8-4 7-4 7-3 7-2 18-7 18-8 18-6 18-5 18-4 17-3 18-3 18-3 18-2 18-2 18-2 18-1 18-1 18-2 18-1 17 2 12 3 8 1 7 2 7 2 7 2 7 2 7 3 8 6 7 10 7 16 7 23 7 30 7 33 8 34 7 35 7 35 7 31 7 31 7 30 7 30 8 29 7 28 7 27 7 25 7 23 7 20 8 17 7 14 7 10 7 7 7 4 7 1 8 1 7 1 7 0 7 0 7-1 7-1 8-2 7-1 7-3 7-2 5-2 12-5 13-5 12-6 13-5 12-6 13-6 13-7 12-9 13-9 12-10 13-11 12-12 13-14 12-16 13-17 12-18 13-19 12-19 13-20 12-20 13-19 13-17 12-18 13-18 12-17 13-17 12-17 13-14 12-13 13-10 12-8 13-10 12-9 13-9 12-8 13-8 13-8 12-9 13-9 12-8 13-9 12-8 13-9 12-9 13-9 12-9 13-9 12-8 13-9 12-10 13-8 13-7 12-7 13-7 12-6 13-5 12-5 13-4 12-4 13-3 12-2 13-2 12 0 13-1 12 1 13 1 12 1 13 2 13 3 12 2 13 3 12 3 13 3 12 4 13 4 12 5 13 6 12 6 13 7 12 6 13 7 12 7 13 4 13 3 12-6 13-9 12-3 13 2 12 3 13 3 12 2 13 1 12-1 13-6 12-15 13-18 12-15 13-13 13-12 12-13 13-12 12-16 13 0 12 3 13 6 12 6 13 7 12 8 13 7 12 8 13 8 12 7 13 7 13 5 3 1 9 1 9 1 9 0 9-5 9-12 9-16 9-18 9-20 9-18 9-16 9-10 9 2 8 2 9 2 9 2 9 3 9 2 9 3 9 4 9 4 9 4 9 4 9 5 9 5 9 6 9 6 9 6 9 7 9 8 9 8 9 9 9 15 9 29 8 31 9 23 9 4 9-19 9-23 9-15 9-13 9-13 9-12 9-12 9-13 9 0 9 2 9 2 9 2 9 3 9 3 9 3 9 4 9 5 9 5 8 6 9 7 9 7 9 8 9 15 9 36 9 31 9-1 9-29 9-29 9-13 9 1 9 12 9 37 9 32 9-24 9-25 9 1 9 4 9 5 9 6 8 8 9 9 9 10 9 10 9 10 9 10 9 10 9 9 9 8 9 9 9 8 9 10 9 9 9 9 9 9 9 10 9 9 9 9 9 10 9 10 3 3 0 928"/>
<path transform="scale(0.83890)" stroke-width="1.77" d="M0 3220l0-1213 56 0 13 1 12 1 13 0 12 1 13 0 12 0 13 0 12 1 13 1 12 2 13 1 12 2 13 1 12 1 13 2 13 1 12 1 13 0 12 0 13 1 12 1 13 2 12 3 13 2 12 2 13 0 12 1 13 0 12 2 13 2 13 2 12 3 13 2 12 2 13 1 12 2 13 2 12 1 13 2 12 1 13 2 12 2 13 1 12 1 13 1 13 1 12 2 13 3 12 2 13 2 12 1 13 0 12 0 13 1 12 1 13 3 12 2 13 3 12 1 13 1 13 1 12 1 13 1 12 2 13 3 12 2 13 3 12 3 13 3 12 2 13 3 12 2 13 2 12 3 13 2 12 2 13 0 13-4 12-6 13-8 12-8 13-7 12-10 13-12 12-14 13-12 12-8 13-4 12-2 13-2 12-3 13-2 13-3 12-2 13-1 12 0 13 0 12 0 13 0 12-1 13 0 12 0 13-1 12 0 13 0 12 0 13 0 13 1 12 0 13 0 12-1 13 0 12-1 13 1 12 0 13 1 12 0 13-1 12 0 13 1 12 1 13 1 13 0 12 0 13-1 12 0 13 0 12 0 13 1 12 0 13 1 12 0 13 1 12 0 13 1 9 0 6 1 6 0 6 1 6 1 6 0 6 1 6 1 6 3 6 5 6 9 6 10 5 8 6 0 6-10 6-10 6-6 6-1 6 0 6 1 6 0 6 1 6 1 6 1 6 1 6 1 6 2 6 2 6 1 6 2 6 1 6 2 6 2 6 1 6 2 6 3 6 3 6 3 6 3 6 3 6 2 6 0 6-1 6-1 5-2 6-1 6-1 6 0 6 0 6 0 6 0 13 1 12 2 5 1 19 4 19 2 19 2 20 3 19 3 19 2 19 2 19 3 19 3 19 2 19 0 19 2 19 3 19 3 20 2 19 2 19 3 19 3 19 2 19 0 19 1 19 4 19 3 19 1 20 1 19 2 19 3 19 2 19 2 19 3 19 3 19 0 19 0 19 2 20 4 19 1 19 1 19 2 19 4 19 1 12 0 7 0 7 0 7 0 8 1 7 0 7 1 7 0 7 1 7 1 8 1 7 3 7 5 7 5 7 5 7 1 8-3 7-6 7-8 7-8 7-6 7-4 8-4 7-3 7-3 7-3 18-7 18-8 18-6 18-5 18-4 17-3 18-3 18-3 18-2 18-2 18-2 18-1 18-1 18-2 18-1 17 2 12 3 8 1 7 3 7 2 7 1 7 2 7 3 8 6 7 10 7 16 7 23 7 30 7 33 8 34 7 35 7 35 7 31 7 31 7 30 7 30 8 29 7 28 7 27 7 25 7 23 7 20 8 17 7 14 7 10 7 7 7 4 7 1 8 1 7 1 7 0 7 0 7-1 7-1 8-1 7-2 7-3 7-2 5-2 12-5 13-5 12-5 13-6 12-6 13-6 13-7 12-8 13-10 12-10 13-11 12-12 13-14 12-16 13-17 12-18 13-19 12-19 13-20 12-20 13-19 13-17 12-18 13-17 12-18 13-17 12-16 13-15 12-13 13-10 12-8 13-10 12-9 13-9 12-8 13-8 13-8 12-9 13-9 12-8 13-9 12-8 13-9 12-9 13-9 12-9 13-9 12-8 13-9 12-9 13-9 13-7 12-7 13-7 12-6 13-5 12-5 13-4 12-4 13-3 12-2 13-1 12-1 13-1 12 1 13 1 12 1 13 3 13 2 12 2 13 3 12 3 13 3 12 4 13 4 12 6 13 6 12 6 13 7 12 7 13 7 12 7 13 5 13 2 12-7 13-9 12-3 13 2 12 3 13 3 12 3 13 1 12-2 13-6 12-15 13-19 12-15 13-13 13-13 12-12 13-12 12-15 13 0 12 3 13 5 12 7 13 7 12 8 13 8 12 8 13 7 12 8 13 6 13 5 3 1 9 1 9 1 9-1 9-7 9-12 9-16 9-18 9-19 9-18 9-14 9-10 9 2 8 2 9 2 9 3 9 2 9 3 9 3 9 3 9 4 9 4 9 5 9 5 9 5 9 6 9 6 9 7 9 7 9 8 9 9 9 10 9 26 9 35 8 31 9 14 9-10 9-24 9-20 9-14 9-14 9-12 9-12 9-12 9-12 9 2 9 1 9 2 9 3 9 2 9 3 9 4 9 4 9 5 9 5 8 6 9 7 9 8 9 8 9 27 9 40 9 24 9-13 9-32 9-28 9-10 9 2 9 14 9 40 9 33 9-27 9-28 9 2 9 3 9 5 9 7 8 8 9 9 9 10 9 10 9 11 9 10 9 10 9 9 9 9 9 9 9 9 9 9 9 9 9 10 9 9 9 10 9 9 9 10 9 10 9 10 3 3 0 920"/>
<path transform="scale(0.84069)" stroke-width="1.80" d="M0 3220l0-1211 56 0 13 1 12 1 13 0 12 1 13 0 12 0 13 0 12 1 13 1 12 2 13 2 12 1 13 1 12 1 13 1 13 2 12 1 13 0 12 0 13 1 12 1 13 2 12 3 13 2 12 2 13 0 12 1 13 0 12 2 13 2 13 2 12 3 13 2 12 2 13 1 12 2 13 2 12 1 13 2 12 1 13 2 12 2 13 1 12 1 13 1 13 1 12 2 13 3 12 3 13 1 12 1 13 0 12 0 13 1 12 2 13 2 12 3 13 2 12 1 13 1 13 1 12 1 13 2 12 2 13 2 12 3 13 3 12 3 13 3 12 2 13 2 12 3 13 2 12 2 13 3 12 1 13 0 13-3 12-7 13-7 12-8 13-8 12-10 13-12 12-14 13-11 12-9 13-4 12-2 13-2 12-2 13-3 13-3 12-2 13-1 12 0 13 0 12 0 13 0 12 0 13-1 12 0 13 0 12-1 13 0 12 0 13 0 13 1 12 0 13 0 12 0 13-1 12 0 13 0 12 0 13 1 12 0 13 0 12 0 13 0 12 1 13 1 13 0 12 0 13-1 12 0 13 0 12 1 13 0 12 1 13 0 12 0 13 1 12 0 13 1 9 1 6 0 6 1 6 0 6 1 6 1 6 0 6 2 6 2 6 5 6 9 6 11 5 8 6 1 6-11 6-11 6-6 6-1 6 0 6 1 6 0 6 1 6 1 6 1 6 1 6 2 6 1 6 2 6 1 6 2 6 2 6 1 6 2 6 2 6 2 6 2 6 3 6 3 6 4 6 2 6 2 6 1 6-1 6-2 5-1 6-2 6 0 6-1 6 0 6 0 6 0 13 1 12 2 5 1 19 4 19 3 19 1 20 3 19 3 19 2 19 2 19 3 19 3 19 2 19 1 19 1 19 4 19 3 20 2 19 1 19 3 19 3 19 2 19 0 19 2 19 3 19 4 19 1 20 0 19 3 19 3 19 1 19 2 19 3 19 3 19 0 19 0 19 2 20 4 19 2 19 0 19 3 19 3 19 1 12 0 7 0 7 0 7 1 8 0 7 1 7 0 7 1 7 0 7 1 8 2 7 3 7 5 7 6 7 4 7 1 8-3 7-6 7-9 7-7 7-6 7-5 8-4 7-3 7-3 7-3 18-7 18-8 18-6 18-5 18-4 17-3 18-3 18-2 18-2 18-2 18-3 18-1 18-1 18-2 18-1 17 2 12 3 8 2 7 2 7 2 7 2 7 2 7 3 8 5 7 11 7 16 7 23 7 29 7 33 8 35 7 35 7 34 7 31 7 31 7 30 7 30 8 29 7 28 7 27 7 26 7 23 7 19 8 17 7 14 7 10 7 8 7 3 7 2 8 1 7 0 7 0 7 0 7-1 7-1 8-1 7-2 7-2 7-3 5-2 12-5 13-5 12-5 13-6 12-5 13-7 13-7 12-8 13-9 12-10 13-11 12-13 13-14 12-16 13-16 12-18 13-19 12-20 13-20 12-19 13-19 13-18 12-18 13-17 12-18 13-17 12-16 13-15 12-12 13-10 12-9 13-9 12-10 13-8 12-9 13-8 13-8 12-9 13-8 12-9 13-8 12-9 13-9 12-9 13-9 12-9 13-9 12-8 13-9 12-9 13-9 13-7 12-7 13-6 12-7 13-5 12-5 13-4 12-3 13-4 12-2 13-1 12-1 13 0 12 0 13 1 12 2 13 2 13 2 12 2 13 3 12 3 13 4 12 3 13 5 12 5 13 7 12 6 13 7 12 8 13 8 12 6 13 5 13 3 12-8 13-10 12-3 13 1 12 3 13 4 12 3 13 2 12-2 13-6 12-16 13-20 12-16 13-12 13-13 12-12 13-12 12-15 13 0 12 4 13 5 12 7 13 7 12 8 13 8 12 8 13 8 12 8 13 6 13 4 3 1 9 2 9 0 9-2 9-9 9-12 9-16 9-18 9-18 9-17 9-14 9-8 9 1 8 2 9 3 9 2 9 2 9 3 9 3 9 3 9 4 9 5 9 4 9 5 9 6 9 6 9 6 9 7 9 8 9 9 9 9 9 19 9 35 9 37 8 25 9 2 9-20 9-26 9-17 9-14 9-13 9-12 9-12 9-12 9-9 9 1 9 2 9 2 9 3 9 2 9 3 9 4 9 4 9 5 9 5 8 7 9 7 9 8 9 13 9 38 9 40 9 12 9-22 9-34 9-25 9-7 9 2 9 16 9 44 9 33 9-30 9-30 9 1 9 4 9 5 9 7 8 8 9 9 9 11 9 10 9 11 9 11 9 10 9 9 9 9 9 9 9 9 9 9 9 10 9 10 9 9 9 10 9 10 9 10 9 10 9 10 3 4 0 911"/>
<path transform="scale(0.84248)" stroke-width="1.83" d="M0 3220l0-1209 56 0 13 1 12 1 13 1 12 0 13 0 12 0 13 0 12 1 13 2 12 1 13 2 12 1 13 1 12 1 13 2 13 1 12 1 13 0 12 0 13 1 12 1 13 3 12 2 13 2 12 2 13 0 12 1 13 1 12 1 13 2 13 3 12 2 13 2 12 2 13 2 12 1 13 2 12 1 13 2 12 2 13 1 12 2 13 1 12 1 13 1 13 2 12 2 13 2 12 3 13 2 12 1 13 0 12 0 13 0 12 2 13 3 12 2 13 2 12 2 13 1 13 1 12 1 13 1 12 2 13 3 12 3 13 3 12 3 13 2 12 3 13 2 12 2 13 3 12 2 13 3 12 1 13 0 13-4 12-6 13-8 12-8 13-8 12-9 13-13 12-13 13-12 12-8 13-4 12-2 13-3 12-2 13-3 13-2 12-2 13-1 12 0 13-1 12 0 13 0 12 0 13 0 12-1 13 0 12 0 13-1 12 0 13 1 13 0 12 1 13 0 12-1 13-1 12 0 13 0 12 1 13 0 12 0 13 0 12 0 13 1 12 0 13 1 13 1 12-1 13 0 12 0 13 0 12 0 13 1 12 0 13 0 12 1 13 0 12 1 13 1 9 0 6 1 6 0 6 1 6 0 6 1 6 1 6 1 6 3 6 5 6 9 6 11 5 9 6 0 6-10 6-12 6-6 6-2 6 1 6 0 6 1 6 1 6 1 6 1 6 1 6 1 6 2 6 1 6 2 6 1 6 2 6 2 6 1 6 2 6 2 6 3 6 3 6 3 6 4 6 2 6 2 6 1 6-1 6-2 5-2 6-1 6-1 6 0 6 0 6 0 6 0 13 1 12 2 5 1 19 3 19 3 19 2 20 2 19 3 19 3 19 2 19 3 19 3 19 1 19 1 19 2 19 3 19 3 20 2 19 2 19 2 19 4 19 1 19 1 19 1 19 4 19 3 19 1 20 1 19 2 19 3 19 2 19 1 19 3 19 3 19 1 19 0 19 2 20 3 19 2 19 1 19 2 19 3 19 1 12 0 7 0 7 1 7 0 8 0 7 1 7 1 7 0 7 1 7 1 8 2 7 3 7 6 7 5 7 5 7 1 8-3 7-7 7-9 7-8 7-6 7-4 8-4 7-3 7-4 7-3 18-7 18-7 18-7 18-5 18-3 17-4 18-3 18-2 18-2 18-2 18-2 18-2 18-1 18-2 18 0 17 2 12 2 8 2 7 2 7 2 7 2 7 2 7 3 8 6 7 10 7 16 7 23 7 29 7 33 8 35 7 35 7 34 7 32 7 30 7 31 7 29 8 29 7 29 7 27 7 25 7 23 7 20 8 17 7 13 7 11 7 7 7 3 7 2 8 1 7 1 7 0 7 0 7-1 7-1 8-2 7-2 7-2 7-2 5-2 12-5 13-6 12-5 13-5 12-6 13-6 13-8 12-8 13-9 12-10 13-11 12-12 13-15 12-15 13-17 12-18 13-19 12-20 13-19 12-20 13-19 13-18 12-17 13-18 12-17 13-18 12-16 13-14 12-13 13-10 12-9 13-9 12-9 13-9 12-8 13-8 13-9 12-8 13-9 12-9 13-8 12-8 13-9 12-9 13-10 12-9 13-8 12-9 13-9 12-9 13-8 13-8 12-6 13-7 12-6 13-6 12-4 13-4 12-4 13-3 12-3 13-1 12-1 13 0 12 0 13 1 12 2 13 2 13 2 12 3 13 2 12 4 13 3 12 4 13 4 12 6 13 6 12 7 13 8 12 8 13 8 12 7 13 5 13 3 12-9 13-11 12-4 13 2 12 3 13 4 12 4 13 2 12-2 13-7 12-16 13-20 12-17 13-12 13-12 12-12 13-13 12-14 13 0 12 3 13 6 12 7 13 7 12 8 13 9 12 8 13 8 12 7 13 7 13 4 3 1 9 1 9 0 9-4 9-9 9-13 9-16 9-17 9-17 9-16 9-14 9-7 9 1 8 2 9 2 9 3 9 2 9 3 9 3 9 3 9 4 9 5 9 4 9 6 9 5 9 6 9 7 9 8 9 8 9 8 9 14 9 32 9 40 9 35 8 14 9-12 9-26 9-23 9-15 9-14 9-13 9-12 9-12 9-12 9-6 9 1 9 2 9 2 9 3 9 2 9 3 9 4 9 4 9 5 9 6 8 7 9 7 9 9 9 22 9 46 9 37 9-2 9-29 9-35 9-22 9-5 9 4 9 18 9 48 9 32 9-33 9-32 9 1 9 4 9 5 9 7 8 9 9 9 9 10 9 11 9 11 9 11 9 11 9 9 9 9 9 9 9 9 9 10 9 10 9 10 9 10 9 9 9 10 9 11 9 10 9 10 3 4 0 903"/>
<path transform="scale(0.84427)" stroke-width="1.86" d="M0 3220l0-1207 56 0 13 1 12 1 13 1 12 0 13 1 12-1 13 1 12 1 13 1 12 2 13 1 12 1 13 1 12 1 13 2 13 1 12 1 13 1 12 0 13 0 12 2 13 2 12 3 13 2 12 1 13 1 12 0 13 1 12 2 13 2 13 2 12 2 13 2 12 2 13 2 12 2 13 1 12 2 13 1 12 2 13 2 12 1 13 2 12 1 13 1 13 1 12 2 13 3 12 2 13 2 12 1 13 0 12 0 13 1 12 2 13 2 12 3 13 2 12 1 13 2 13 0 12 2 13 1 12 2 13 3 12 3 13 2 12 3 13 3 12 3 13 2 12 2 13 3 12 2 13 3 12 1 13 0 13-4 12-6 13-8 12-8 13-8 12-10 13-12 12-13 13-12 12-9 13-4 12-2 13-2 12-3 13-2 13-3 12-1 13-1 12-1 13 0 12 0 13 0 12-1 13 0 12 0 13 0 12-1 13 0 12 0 13 0 13 1 12 0 13 0 12 0 13-1 12 0 13 0 12 0 13 1 12 0 13 0 12 0 13 0 12 1 13 1 13 0 12 0 13-1 12 0 13 0 12 1 13 0 12 1 13 0 12 0 13 1 12 0 13 1 9 1 6 0 6 1 6 0 6 1 6 1 6 0 6 2 6 2 6 6 6 9 6 12 5 8 6 1 6-11 6-12 6-6 6-2 6 0 6 1 6 0 6 1 6 1 6 1 6 1 6 2 6 1 6 2 6 1 6 2 6 2 6 1 6 2 6 2 6 2 6 3 6 3 6 3 6 4 6 3 6 2 6 0 6-1 6-2 5-2 6-2 6-1 6 0 6 0 6 0 6 0 13 2 12 1 5 1 19 4 19 3 19 1 20 3 19 3 19 2 19 2 19 3 19 3 19 2 19 1 19 2 19 3 19 3 20 2 19 1 19 3 19 3 19 2 19 0 19 2 19 3 19 3 19 2 20 0 19 3 19 3 19 1 19 2 19 3 19 3 19 0 19 0 19 2 20 4 19 2 19 0 19 3 19 3 19 1 12 0 7 0 7 0 7 1 8 0 7 1 7 0 7 1 7 0 7 1 8 3 7 4 7 5 7 6 7 5 7 1 8-4 7-7 7-9 7-8 7-6 7-5 8-3 7-4 7-3 7-3 18-7 18-8 18-6 18-5 18-4 17-3 18-3 18-2 18-2 18-3 18-2 18-1 18-1 18-2 18-1 17 2 12 3 8 2 7 2 7 2 7 2 7 2 7 3 8 5 7 11 7 16 7 23 7 29 7 33 8 35 7 35 7 34 7 31 7 31 7 30 7 30 8 29 7 28 7 27 7 26 7 23 7 19 8 17 7 14 7 11 7 7 7 3 7 2 8 1 7 0 7 0 7 0 7-1 7-1 8-1 7-2 7-2 7-3 5-2 12-5 13-5 12-5 13-6 12-5 13-7 13-7 12-8 13-9 12-10 13-11 12-13 13-14 12-16 13-16 12-18 13-19 12-20 13-20 12-19 13-19 13-18 12-18 13-17 12-18 13-17 12-16 13-15 12-12 13-10 12-9 13-9 12-10 13-8 12-9 13-8 13-8 12-9 13-8 12-9 13-8 12-9 13-9 12-9 13-9 12-9 13-9 12-8 13-9 12-9 13-9 13-7 12-7 13-6 12-7 13-5 12-5 13-4 12-3 13-4 12-2 13-1 12-1 13 0 12 0 13 1 12 2 13 2 13 2 12 2 13 3 12 3 13 4 12 3 13 5 12 6 13 7 12 7 13 7 12 9 13 8 12 7 13 6 13 2 12-9 13-12 12-4 13 2 12 4 13 4 12 3 13 3 12-2 13-7 12-17 13-21 12-16 13-13 13-12 12-12 13-12 12-14 13 0 12 4 13 5 12 7 13 8 12 8 13 8 12 9 13 8 12 8 13 6 13 4 3 0 9 1 9 0 9-6 9-10 9-13 9-15 9-17 9-16 9-16 9-13 9-7 9 2 8 2 9 2 9 2 9 3 9 2 9 3 9 4 9 4 9 5 9 5 9 5 9 6 9 6 9 7 9 8 9 9 9 9 9 26 9 41 9 42 9 26 8 0 9-22 9-27 9-19 9-15 9-14 9-13 9-12 9-12 9-12 9-3 9 2 9 1 9 2 9 3 9 3 9 3 9 3 9 5 9 5 9 6 8 7 9 8 9 10 9 37 9 49 9 26 9-14 9-33 9-34 9-19 9-3 9 5 9 21 9 50 9 32 9-35 9-35 9 1 9 4 9 6 9 7 8 8 9 10 9 10 9 11 9 12 9 11 9 10 9 10 9 9 9 10 9 9 9 10 9 10 9 10 9 10 9 10 9 10 9 11 9 10 9 11 3 4 0 894"/>
<path transform="scale(0.84606)" stroke-width="1.89" d="M0 3220l0-1204 56 0 13 0 12 1 13 1 12 1 13 0 12 0 13 0 12 1 13 1 12 2 13 2 12 1 13 1 12 1 13 1 13 2 12 0 13 1 12 0 13 1 12 1 13 3 12 2 13 2 12 2 13 0 12 1 13 1 12 1 13 2 13 3 12 2 13 2 12 2 13 1 12 2 13 2 12 2 13 1 12 2 13 2 12 1 13 1 12 2 13 0 13 2 12 2 13 2 12 3 13 2 12 1 13 0 12 0 13 1 12 2 13 2 12 3 13 2 12 1 13 1 13 1 12 2 13 1 12 2 13 3 12 3 13 3 12 3 13 3 12 2 13 2 12 3 13 2 12 3 13 2 12 2 13-1 13-4 12-6 13-8 12-9 13-7 12-10 13-12 12-14 13-12 12-8 13-4 12-2 13-2 12-3 13-2 13-3 12-2 13-1 12 0 13 0 12 0 13-1 12 0 13 0 12 0 13 0 12-1 13 0 12 0 13 0 13 1 12 0 13 0 12-1 13 0 12-1 13 1 12 0 13 0 12 0 13 0 12 0 13 1 12 1 13 1 13 0 12 0 13-1 12 0 13 0 12 1 13 0 12 0 13 1 12 0 13 1 12 0 13 1 9 1 6 0 6 1 6 0 6 1 6 0 6 1 6 1 6 3 6 6 6 9 6 12 5 9 6 0 6-11 6-12 6-7 6-1 6 0 6 0 6 1 6 1 6 1 6 1 6 1 6 1 6 2 6 2 6 1 6 2 6 1 6 2 6 2 6 2 6 2 6 3 6 3 6 4 6 3 6 3 6 2 6 0 6-1 6-2 5-2 6-2 6-1 6 0 6 0 6 0 6 0 13 1 12 2 5 1 19 4 19 2 19 2 20 3 19 3 19 2 19 2 19 3 19 3 19 2 19 1 19 1 19 3 19 3 20 2 19 2 19 3 19 3 19 2 19 0 19 2 19 3 19 3 19 1 20 1 19 2 19 3 19 2 19 2 19 3 19 2 19 1 19 0 19 2 20 4 19 1 19 1 19 2 19 3 19 2 12 0 7 0 7 0 7 0 8 1 7 0 7 1 7 0 7 1 7 1 8 3 7 4 7 6 7 6 7 5 7 1 8-4 7-8 7-9 7-8 7-6 7-5 8-4 7-3 7-3 7-3 18-8 18-7 18-6 18-5 18-4 17-3 18-3 18-3 18-2 18-2 18-2 18-1 18-2 18-2 18 0 17 2 12 3 8 2 7 2 7 1 7 2 7 2 7 3 8 6 7 10 7 16 7 24 7 29 7 33 8 34 7 35 7 35 7 31 7 31 7 30 7 30 8 29 7 28 7 27 7 25 7 23 7 20 8 17 7 14 7 10 7 7 7 4 7 1 8 1 7 1 7 0 7 0 7-1 7-1 8-1 7-2 7-3 7-2 5-2 12-5 13-5 12-5 13-6 12-6 13-6 13-7 12-9 13-9 12-10 13-11 12-12 13-14 12-16 13-17 12-18 13-19 12-19 13-20 12-20 13-18 13-18 12-18 13-18 12-17 13-17 12-16 13-15 12-13 13-10 12-8 13-10 12-9 13-9 12-8 13-8 13-8 12-9 13-9 12-8 13-9 12-8 13-9 12-9 13-9 12-9 13-9 12-8 13-9 12-9 13-9 13-7 12-7 13-7 12-6 13-5 12-5 13-4 12-4 13-3 12-2 13-2 12 0 13-1 12 1 13 1 12 2 13 2 13 2 12 2 13 3 12 3 13 4 12 3 13 5 12 6 13 7 12 7 13 8 12 9 13 8 12 8 13 5 13 3 12-10 13-12 12-5 13 2 12 4 13 4 12 4 13 3 12-2 13-7 12-18 13-21 12-17 13-13 13-12 12-11 13-12 12-14 13 0 12 4 13 5 12 7 13 8 12 9 13 8 12 9 13 8 12 8 13 6 13 4 3 0 9 1 9-2 9-6 9-11 9-13 9-15 9-16 9-16 9-15 9-12 9-6 9 1 8 2 9 2 9 2 9 3 9 2 9 4 9 3 9 4 9 5 9 5 9 6 9 6 9 7 9 7 9 8 9 9 9 18 9 38 9 46 9 37 9 13 8-14 9-27 9-25 9-16 9-15 9-14 9-13 9-12 9-11 9-12 9-1 9 2 9 2 9 2 9 2 9 3 9 3 9 4 9 5 9 5 9 6 8 8 9 8 9 18 9 48 9 48 9 11 9-22 9-35 9-33 9-16 9-1 9 6 9 24 9 53 9 31 9-38 9-38 9 1 9 4 9 6 9 7 8 9 9 10 9 10 9 12 9 11 9 12 9 10 9 10 9 10 9 9 9 10 9 10 9 10 9 10 9 11 9 10 9 10 9 11 9 11 9 11 3 3 0 886"/>
<path transform="scale(0.84785)" stroke-width="1.92" d="M0 3220l0-1202 56 0 13 1 12 1 13 1 12 1 13 0 12 0 13 0 12 1 13 1 12 2 13 1 12 1 13 1 12 1 13 2 13 1 12 1 13 1 12 0 13 1 12 1 13 2 12 3 13 2 12 1 13 1 12 0 13 1 12 2 13 2 13 3 12 2 13 2 12 1 13 2 12 2 13 2 12 1 13 2 12 2 13 1 12 2 13 1 12 1 13 1 13 2 12 2 13 2 12 3 13 2 12 1 13 0 12 0 13 1 12 2 13 2 12 3 13 2 12 1 13 2 13 1 12 1 13 2 12 2 13 2 12 3 13 3 12 3 13 3 12 3 13 2 12 2 13 3 12 2 13 3 12 1 13 0 13-4 12-7 13-8 12-9 13-7 12-10 13-12 12-14 13-12 12-8 13-4 12-2 13-2 12-3 13-3 13-2 12-2 13-1 12 0 13 0 12 0 13-1 12 0 13 0 12 0 13 0 12-1 13 0 12 0 13 0 13 1 12 0 13 0 12-1 13 0 12-1 13 0 12 1 13 0 12 0 13 0 12 0 13 1 12 1 13 0 13 1 12 0 13-1 12 0 13 0 12 1 13 0 12 0 13 1 12 0 13 0 12 1 13 1 9 1 6 0 6 1 6 0 6 1 6 0 6 1 6 1 6 3 6 6 6 10 6 12 5 9 6 0 6-11 6-13 6-7 6-1 6 0 6 0 6 1 6 1 6 1 6 1 6 1 6 1 6 2 6 2 6 1 6 2 6 1 6 2 6 2 6 2 6 2 6 3 6 3 6 4 6 4 6 3 6 2 6 0 6-2 6-2 5-2 6-2 6-1 6 0 6 0 6 0 6 0 13 1 12 2 5 1 19 4 19 2 19 2 20 3 19 3 19 2 19 2 19 3 19 3 19 2 19 1 19 1 19 3 19 3 20 2 19 2 19 3 19 3 19 2 19 0 19 2 19 3 19 3 19 1 20 1 19 2 19 3 19 2 19 2 19 2 19 3 19 1 19 0 19 2 20 4 19 1 19 1 19 2 19 3 19 2 12 0 7 0 7 0 7 0 8 1 7 0 7 1 7 0 7 1 7 2 8 2 7 5 7 6 7 7 7 4 7 1 8-4 7-8 7-9 7-9 7-6 7-5 8-3 7-4 7-3 7-3 18-8 18-7 18-6 18-5 18-4 17-3 18-3 18-3 18-2 18-2 18-2 18-1 18-2 18-2 18 0 17 2 12 3 8 2 7 2 7 1 7 2 7 2 7 3 8 6 7 10 7 16 7 23 7 30 7 33 8 34 7 35 7 35 7 31 7 31 7 30 7 30 8 29 7 28 7 27 7 25 7 23 7 20 8 17 7 14 7 10 7 7 7 4 7 1 8 1 7 1 7 0 7 0 7-1 7-1 8-1 7-2 7-3 7-2 5-2 12-5 13-5 12-5 13-6 12-6 13-6 13-7 12-9 13-9 12-10 13-11 12-12 13-14 12-16 13-17 12-18 13-19 12-19 13-20 12-20 13-19 13-17 12-18 13-18 12-17 13-17 12-16 13-15 12-13 13-10 12-8 13-10 12-9 13-9 12-8 13-8 13-8 12-9 13-9 12-8 13-9 12-8 13-9 12-9 13-9 12-9 13-9 12-8 13-9 12-9 13-9 13-7 12-7 13-7 12-6 13-5 12-5 13-4 12-4 13-3 12-2 13-2 12 0 13-1 12 1 13 1 12 1 13 3 13 2 12 2 13 3 12 3 13 4 12 3 13 5 12 6 13 7 12 8 13 8 12 9 13 8 12 8 13 6 13 2 12-9 13-14 12-4 13 1 12 4 13 5 12 4 13 3 12-2 13-7 12-18 13-23 12-17 13-12 13-12 12-11 13-12 12-13 13 0 12 3 13 6 12 7 13 8 12 9 13 9 12 9 13 8 12 7 13 6 13 4 3 0 9 1 9-3 9-8 9-11 9-13 9-15 9-15 9-16 9-14 9-12 9-5 9 1 8 2 9 2 9 2 9 3 9 3 9 3 9 4 9 4 9 5 9 5 9 6 9 6 9 7 9 8 9 9 9 11 9 33 9 47 9 45 9 27 9-3 8-23 9-29 9-20 9-16 9-15 9-14 9-12 9-12 9-12 9-10 9 1 9 1 9 2 9 2 9 3 9 3 9 3 9 4 9 5 9 5 9 7 8 7 9 9 9 33 9 55 9 40 9-3 9-28 9-37 9-31 9-13 9 0 9 8 9 28 9 54 9 30 9-40 9-41 9 2 9 4 9 5 9 8 8 9 9 10 9 11 9 11 9 12 9 12 9 11 9 10 9 9 9 10 9 10 9 10 9 11 9 10 9 10 9 11 9 11 9 10 9 11 9 11 3 4 0 877"/>
<path transform="scale(0.84964)" stroke-width="1.95" d="M0 3220l0-1199 56 0 13 1 12 1 13 1 12 0 13 1 12 0 13 0 12 1 13 1 12 2 13 1 12 1 13 1 12 1 13 2 13 1 12 1 13 0 12 1 13 1 12 1 13 2 12 3 13 2 12 1 13 1 12 0 13 1 12 2 13 2 13 3 12 2 13 2 12 1 13 2 12 2 13 2 12 1 13 2 12 2 13 1 12 2 13 1 12 1 13 1 13 2 12 2 13 2 12 3 13 2 12 1 13 0 12 1 13 0 12 2 13 3 12 2 13 2 12 2 13 1 13 1 12 1 13 2 12 2 13 3 12 3 13 3 12 3 13 3 12 2 13 3 12 2 13 2 12 3 13 2 12 2 13-1 13-4 12-7 13-8 12-8 13-8 12-10 13-12 12-13 13-12 12-9 13-4 12-2 13-2 12-3 13-2 13-3 12-1 13-1 12-1 13 0 12 0 13-1 12 0 13 0 12 0 13 0 12-1 13 0 12 0 13 0 13 1 12 0 13 0 12 0 13-1 12-1 13 1 12 0 13 0 12 1 13-1 12 1 13 0 12 1 13 1 13 0 12 0 13-1 12 0 13 0 12 1 13 0 12 1 13 0 12 0 13 1 12 0 13 1 9 1 6 1 6 0 6 1 6 0 6 1 6 0 6 2 6 2 6 6 6 11 6 12 5 9 6 1 6-12 6-13 6-7 6-2 6 0 6 1 6 0 6 1 6 1 6 1 6 1 6 2 6 1 6 2 6 1 6 2 6 1 6 2 6 2 6 2 6 2 6 3 6 4 6 4 6 3 6 3 6 2 6 1 6-2 6-2 5-3 6-2 6-1 6 0 6 0 6 0 6 0 13 2 12 2 5 0 19 4 19 2 19 2 20 3 19 3 19 2 19 2 19 3 19 3 19 2 19 1 19 2 19 3 19 2 20 2 19 2 19 3 19 3 19 2 19 0 19 2 19 3 19 3 19 1 20 1 19 3 19 2 19 2 19 2 19 3 19 2 19 1 19 1 19 2 20 3 19 1 19 2 19 2 19 2 19 2 12 0 7 0 7 0 7 1 8 0 7 1 7 0 7 1 7 0 7 2 8 3 7 5 7 6 7 7 7 5 7 1 8-5 7-8 7-10 7-9 7-6 7-5 8-3 7-4 7-3 7-3 18-8 18-7 18-6 18-5 18-4 17-3 18-3 18-3 18-2 18-2 18-2 18-1 18-2 18-1 18-1 17 2 12 3 8 2 7 2 7 2 7 2 7 1 7 3 8 6 7 11 7 16 7 23 7 29 7 33 8 34 7 36 7 34 7 31 7 31 7 30 7 30 8 29 7 28 7 27 7 26 7 22 7 20 8 17 7 14 7 10 7 8 7 3 7 2 8 1 7 0 7 0 7 0 7-1 7-1 8-1 7-2 7-2 7-3 5-2 12-5 13-5 12-5 13-6 12-6 13-6 13-7 12-8 13-9 12-10 13-11 12-13 13-14 12-16 13-16 12-18 13-19 12-20 13-20 12-20 13-18 13-18 12-18 13-17 12-18 13-17 12-16 13-15 12-12 13-10 12-9 13-9 12-10 13-8 12-9 13-8 13-8 12-9 13-9 12-8 13-9 12-8 13-9 12-9 13-9 12-9 13-9 12-8 13-9 12-9 13-9 13-7 12-7 13-7 12-6 13-5 12-5 13-4 12-4 13-3 12-2 13-1 12-1 13 0 12 0 13 1 12 2 13 2 13 2 12 2 13 3 12 3 13 4 12 4 13 5 12 6 13 7 12 7 13 9 12 9 13 9 12 8 13 5 13 3 12-10 13-14 12-5 13 2 12 4 13 5 12 4 13 3 12-2 13-7 12-19 13-23 12-17 13-13 13-11 12-11 13-12 12-13 13 0 12 4 13 5 12 8 13 8 12 9 13 9 12 9 13 9 12 7 13 6 13 3 3 0 9 0 9-4 9-8 9-11 9-14 9-14 9-15 9-15 9-14 9-11 9-5 9 2 8 1 9 3 9 2 9 2 9 3 9 3 9 4 9 5 9 5 9 5 9 6 9 7 9 7 9 9 9 9 9 23 9 46 9 50 9 39 9 11 9-16 8-28 9-27 9-18 9-15 9-15 9-13 9-13 9-12 9-11 9-7 9 1 9 1 9 2 9 2 9 3 9 3 9 3 9 4 9 5 9 6 9 7 8 8 9 13 9 48 9 57 9 27 9-15 9-32 9-37 9-28 9-11 9 1 9 9 9 32 9 56 9 29 9-43 9-43 9 1 9 4 9 6 9 8 8 9 9 10 9 11 9 12 9 12 9 12 9 11 9 11 9 9 9 10 9 10 9 11 9 10 9 11 9 10 9 11 9 11 9 11 9 11 9 12 3 3 0 868"/>
<path transform="scale(0.85143)" stroke-width="1.98" d="M0 3220l0-1196 56 0 13 0 12 2 13 1 12 0 13 1 12 0 13 0 12 1 13 1 12 2 13 1 12 1 13 1 12 1 13 1 13 2 12 1 13 0 12 1 13 1 12 1 13 3 12 2 13 2 12 1 13 1 12 0 13 1 12 2 13 2 13 3 12 2 13 2 12 1 13 2 12 2 13 2 12 2 13 1 12 2 13 2 12 1 13 2 12 1 13 1 13 1 12 2 13 3 12 2 13 2 12 1 13 1 12 0 13 1 12 2 13 2 12 3 13 2 12 1 13 1 13 2 12 1 13 2 12 2 13 3 12 2 13 3 12 3 13 3 12 3 13 3 12 2 13 2 12 3 13 2 12 2 13-1 13-4 12-7 13-9 12-8 13-8 12-9 13-13 12-13 13-12 12-8 13-4 12-3 13-2 12-2 13-3 13-2 12-2 13-1 12 0 13-1 12 0 13 0 12-1 13 0 12 0 13 0 12 0 13-1 12 0 13 0 13 1 12 0 13 0 12 0 13-1 12 0 13 0 12 0 13 1 12 0 13 0 12 0 13 0 12 1 13 1 13 0 12 0 13 0 12-1 13 1 12 0 13 1 12 0 13 0 12 1 13 0 12 1 13 1 9 0 6 1 6 0 6 1 6 0 6 1 6 1 6 1 6 3 6 6 6 10 6 13 5 10 6 0 6-12 6-14 6-7 6-2 6 0 6 1 6 1 6 0 6 1 6 1 6 2 6 1 6 2 6 1 6 2 6 1 6 2 6 1 6 2 6 2 6 3 6 3 6 4 6 4 6 3 6 3 6 2 6 1 6-2 6-3 5-2 6-2 6-1 6-1 6 0 6 1 6 0 13 1 12 2 5 1 19 3 19 3 19 2 20 2 19 3 19 2 19 2 19 3 19 3 19 2 19 1 19 2 19 3 19 3 20 2 19 2 19 2 19 3 19 2 19 1 19 1 19 4 19 2 19 2 20 1 19 2 19 3 19 2 19 1 19 3 19 3 19 0 19 1 19 2 20 3 19 2 19 1 19 2 19 3 19 1 12 0 7 0 7 1 7 0 8 0 7 1 7 1 7 0 7 1 7 2 8 3 7 5 7 7 7 7 7 5 7 1 8-5 7-9 7-10 7-9 7-7 7-4 8-4 7-3 7-3 7-3 18-8 18-8 18-6 18-5 18-3 17-4 18-3 18-2 18-2 18-2 18-2 18-2 18-1 18-2 18 0 17 2 12 2 8 2 7 2 7 2 7 2 7 2 7 3 8 6 7 10 7 16 7 23 7 29 7 33 8 35 7 35 7 34 7 32 7 30 7 30 7 30 8 29 7 28 7 27 7 26 7 23 7 20 8 17 7 13 7 11 7 7 7 3 7 2 8 1 7 1 7 0 7-1 7 0 7-1 8-2 7-2 7-2 7-3 5-1 12-6 13-5 12-5 13-5 12-6 13-7 13-7 12-8 13-9 12-10 13-11 12-13 13-14 12-15 13-17 12-18 13-19 12-20 13-20 12-19 13-19 13-18 12-17 13-18 12-18 13-17 12-16 13-15 12-12 13-10 12-9 13-9 12-9 13-9 12-8 13-9 13-8 12-8 13-9 12-9 13-8 12-9 13-8 12-10 13-9 12-9 13-8 12-9 13-9 12-9 13-8 13-8 12-7 13-6 12-6 13-6 12-4 13-4 12-4 13-3 12-3 13-1 12-1 13 0 12 0 13 1 12 2 13 2 13 2 12 2 13 3 12 4 13 3 12 4 13 5 12 6 13 7 12 8 13 9 12 9 13 9 12 8 13 6 13 3 12-11 13-14 12-5 13 1 12 5 13 5 12 4 13 4 12-3 13-7 12-20 13-23 12-17 13-13 13-11 12-11 13-11 12-13 13 0 12 4 13 5 12 8 13 9 12 9 13 9 12 9 13 9 12 7 13 5 13 3 3 1 9-1 9-6 9-8 9-12 9-13 9-14 9-15 9-14 9-13 9-11 9-4 9 1 8 2 9 2 9 2 9 3 9 3 9 3 9 4 9 5 9 5 9 6 9 6 9 7 9 8 9 9 9 14 9 40 9 53 9 48 9 26 9-6 9-24 8-29 9-23 9-16 9-16 9-15 9-13 9-12 9-12 9-10 9-6 9 2 9 1 9 2 9 2 9 3 9 3 9 3 9 5 9 5 9 6 9 7 8 8 9 26 9 59 9 53 9 10 9-22 9-36 9-36 9-25 9-9 9 2 9 10 9 36 9 58 9 28 9-46 9-45 9 1 9 4 9 6 9 8 8 9 9 11 9 11 9 12 9 12 9 12 9 12 9 11 9 9 9 11 9 10 9 10 9 11 9 11 9 11 9 11 9 11 9 11 9 11 9 12 3 4 0 858"/>
<path transform="scale(0.85322)" stroke-width="2.01" d="M0 3220l0-1193 56 0 13 1 12 1 13 1 12 1 13 0 12 0 13 0 12 1 13 1 12 2 13 1 12 2 13 0 12 1 13 2 13 1 12 1 13 1 12 0 13 1 12 2 13 2 12 2 13 2 12 1 13 1 12 1 13 1 12 2 13 2 13 2 12 2 13 2 12 2 13 1 12 2 13 2 12 2 13 2 12 1 13 2 12 2 13 1 12 1 13 1 13 2 12 2 13 2 12 3 13 2 12 1 13 0 12 1 13 1 12 1 13 3 12 2 13 3 12 1 13 1 13 1 12 2 13 2 12 2 13 3 12 2 13 3 12 4 13 3 12 2 13 3 12 2 13 2 12 3 13 2 12 2 13-1 13-4 12-8 13-8 12-8 13-8 12-10 13-12 12-13 13-12 12-9 13-4 12-2 13-2 12-3 13-2 13-3 12-2 13 0 12-1 13 0 12 0 13-1 12 0 13 0 12 0 13 0 12 0 13-1 12 0 13 0 13 1 12 0 13 0 12 0 13-1 12-1 13 0 12 1 13 0 12 1 13-1 12 0 13 1 12 1 13 0 13 1 12 0 13-1 12 0 13 0 12 1 13 0 12 1 13 0 12 0 13 1 12 0 13 1 9 1 6 1 6 0 6 1 6 0 6 1 6 0 6 2 6 2 6 7 6 10 6 13 5 10 6 0 6-12 6-14 6-7 6-2 6 0 6 1 6 0 6 1 6 1 6 1 6 1 6 2 6 1 6 2 6 1 6 2 6 1 6 2 6 2 6 2 6 3 6 3 6 4 6 4 6 3 6 4 6 2 6 0 6-2 6-3 5-2 6-2 6-2 6 0 6 0 6 0 6 0 13 2 12 2 5 0 19 4 19 2 19 2 20 3 19 3 19 2 19 2 19 3 19 3 19 2 19 1 19 2 19 3 19 2 20 2 19 2 19 3 19 3 19 2 19 0 19 2 19 3 19 3 19 1 20 1 19 3 19 2 19 2 19 2 19 2 19 3 19 1 19 1 19 2 20 3 19 1 19 2 19 2 19 2 19 2 12 0 7 0 7 0 7 1 8 0 7 1 7 0 7 1 7 1 7 2 8 3 7 6 7 7 7 7 7 5 7 1 8-6 7-9 7-10 7-9 7-7 7-5 8-3 7-3 7-4 7-3 18-8 18-7 18-6 18-5 18-4 17-3 18-3 18-3 18-2 18-2 18-2 18-1 18-2 18-2 18 0 17 2 12 3 8 2 7 2 7 2 7 1 7 2 7 3 8 6 7 10 7 16 7 24 7 29 7 33 8 34 7 35 7 35 7 31 7 31 7 30 7 30 8 29 7 28 7 27 7 26 7 22 7 20 8 17 7 14 7 10 7 7 7 4 7 1 8 1 7 1 7 0 7 0 7-1 7-1 8-1 7-2 7-2 7-3 5-2 12-5 13-5 12-5 13-6 12-6 13-6 13-7 12-8 13-10 12-9 13-11 12-13 13-14 12-16 13-16 12-18 13-19 12-20 13-20 12-20 13-18 13-18 12-18 13-17 12-18 13-17 12-16 13-15 12-12 13-11 12-8 13-9 12-10 13-8 12-9 13-8 13-8 12-9 13-9 12-8 13-9 12-8 13-9 12-9 13-9 12-9 13-9 12-8 13-9 12-9 13-9 13-7 12-7 13-7 12-6 13-5 12-5 13-4 12-4 13-3 12-2 13-2 12 0 13 0 12 0 13 1 12 2 13 2 13 2 12 2 13 3 12 3 13 4 12 4 13 5 12 6 13 7 12 8 13 9 12 9 13 9 12 9 13 6 13 2 12-11 13-14 12-6 13 2 12 5 13 5 12 4 13 4 12-2 13-8 12-20 13-24 12-17 13-13 13-11 12-11 13-11 12-12 13 0 12 4 13 6 12 7 13 9 12 10 13 9 12 9 13 9 12 7 13 5 13 3 3 0 9-2 9-6 9-9 9-12 9-13 9-14 9-14 9-14 9-12 9-11 9-3 9 1 8 2 9 2 9 2 9 3 9 3 9 3 9 4 9 5 9 6 9 6 9 6 9 8 9 8 9 9 9 32 9 51 9 55 9 40 9 7 9-17 9-29 8-28 9-19 9-16 9-16 9-14 9-13 9-12 9-11 9-11 9-2 9 1 9 1 9 2 9 2 9 3 9 3 9 4 9 4 9 6 9 6 9 7 8 10 9 45 9 64 9 42 9-5 9-28 9-37 9-36 9-22 9-6 9 2 9 12 9 41 9 58 9 27 9-48 9-48 9 1 9 4 9 6 9 8 8 10 9 10 9 12 9 12 9 13 9 12 9 12 9 11 9 10 9 10 9 11 9 10 9 11 9 11 9 11 9 11 9 12 9 11 9 12 9 11 3 4 0 849"/>
<path transform="scale(0.85501)" stroke-width="2.04" d="M0 3220l0-1190 56 0 13 1 12 1 13 1 12 1 13 0 12 0 13 0 12 1 13 2 12 1 13 2 12 1 13 1 12 1 13 1 13 1 12 1 13 1 12 1 13 1 12 1 13 2 12 3 13 2 12 1 13 0 12 1 13 1 12 2 13 2 13 3 12 2 13 1 12 2 13 2 12 2 13 2 12 1 13 2 12 2 13 2 12 1 13 2 12 1 13 1 13 1 12 2 13 3 12 2 13 2 12 2 13 0 12 0 13 1 12 2 13 3 12 2 13 2 12 2 13 1 13 1 12 2 13 2 12 2 13 3 12 3 13 3 12 3 13 3 12 3 13 2 12 2 13 3 12 2 13 3 12 1 13 0 13-5 12-8 13-8 12-9 13-7 12-10 13-12 12-14 13-12 12-8 13-4 12-2 13-3 12-2 13-3 13-2 12-2 13-1 12 0 13 0 12-1 13 0 12 0 13 0 12 0 13 0 12-1 13 0 12 0 13 0 13 0 12 1 13 0 12-1 13 0 12-1 13 0 12 1 13 0 12 0 13 0 12 0 13 1 12 0 13 1 13 1 12-1 13 0 12 0 13 0 12 1 13 0 12 1 13 0 12 0 13 0 12 1 13 1 9 1 6 0 6 1 6 0 6 1 6 0 6 1 6 1 6 3 6 7 6 10 6 14 5 10 6 0 6-13 6-14 6-7 6-2 6 0 6 0 6 1 6 1 6 1 6 1 6 1 6 1 6 2 6 1 6 2 6 2 6 1 6 2 6 2 6 2 6 2 6 4 6 4 6 4 6 4 6 3 6 2 6 0 6-2 6-3 5-2 6-3 6-1 6 0 6 0 6 0 6 0 13 2 12 1 5 1 19 3 19 3 19 2 20 3 19 2 19 3 19 2 19 2 19 3 19 2 19 2 19 2 19 2 19 3 20 2 19 2 19 3 19 2 19 2 19 1 19 2 19 3 19 3 19 1 20 1 19 2 19 3 19 2 19 2 19 2 19 3 19 1 19 0 19 3 20 2 19 2 19 1 19 2 19 3 19 1 12 1 7 0 7 0 7 0 8 1 7 0 7 1 7 1 7 1 7 2 8 3 7 6 7 8 7 7 7 5 7 1 8-6 7-10 7-10 7-9 7-7 7-5 8-3 7-4 7-3 7-3 18-8 18-7 18-6 18-5 18-4 17-3 18-3 18-3 18-2 18-2 18-2 18-1 18-2 18-2 18 0 17 2 12 3 8 2 7 1 7 2 7 2 7 2 7 3 8 6 7 10 7 16 7 23 7 30 7 32 8 35 7 35 7 34 7 32 7 31 7 30 7 30 8 29 7 28 7 27 7 25 7 23 7 20 8 17 7 14 7 10 7 7 7 4 7 1 8 1 7 1 7 0 7 0 7-1 7-1 8-1 7-2 7-3 7-2 5-2 12-5 13-5 12-6 13-5 12-6 13-6 13-8 12-8 13-9 12-10 13-11 12-12 13-14 12-16 13-17 12-18 13-19 12-19 13-20 12-20 13-19 13-18 12-17 13-18 12-17 13-17 12-16 13-15 12-13 13-10 12-9 13-9 12-9 13-9 12-8 13-8 13-8 12-9 13-9 12-8 13-9 12-8 13-9 12-9 13-10 12-8 13-9 12-9 13-9 12-9 13-8 13-7 12-7 13-7 12-6 13-5 12-5 13-4 12-4 13-3 12-2 13-2 12 0 13-1 12 1 13 1 12 1 13 2 13 2 12 3 13 3 12 3 13 4 12 4 13 5 12 6 13 7 12 8 13 9 12 9 13 10 12 8 13 6 13 3 12-11 13-15 12-6 13 2 12 5 13 5 12 5 13 3 12-2 13-8 12-20 13-24 12-18 13-12 13-11 12-11 13-11 12-12 13 0 12 4 13 6 12 8 13 9 12 10 13 9 12 10 13 8 12 7 13 5 13 2 3 0 9-3 9-7 9-9 9-12 9-13 9-13 9-14 9-13 9-12 9-11 9-2 9 1 8 2 9 2 9 2 9 3 9 3 9 4 9 4 9 5 9 6 9 6 9 7 9 8 9 8 9 20 9 47 9 59 9 50 9 24 9-8 9-26 9-30 8-24 9-17 9-17 9-15 9-14 9-13 9-12 9-11 9-10 9 0 9 1 9 1 9 2 9 3 9 3 9 3 9 4 9 4 9 6 9 6 9 8 8 20 9 59 9 63 9 26 9-15 9-32 9-39 9-34 9-18 9-4 9 2 9 13 9 45 9 59 9 26 9-50 9-50 9 1 9 4 9 6 9 8 8 9 9 11 9 12 9 13 9 12 9 13 9 12 9 11 9 10 9 11 9 10 9 11 9 11 9 11 9 12 9 11 9 12 9 11 9 12 9 12 3 4 0 839"/>
<path transform="scale(0.85680)" stroke-width="2.06" d="M0 3220l0-1187 56 0 13 1 12 1 13 2 12 1 13 0 12 0 13 0 12 1 13 1 12 2 13 1 12 1 13 1 12 1 13 1 13 2 12 1 13 1 12 0 13 1 12 2 13 2 12 2 13 2 12 1 13 1 12 1 13 1 12 2 13 2 13 2 12 2 13 2 12 2 13 2 12 1 13 2 12 2 13 2 12 2 13 1 12 2 13 2 12 1 13 1 13 1 12 2 13 3 12 2 13 2 12 2 13 0 12 0 13 1 12 2 13 3 12 2 13 3 12 1 13 1 13 2 12 1 13 2 12 3 13 2 12 3 13 3 12 3 13 3 12 3 13 3 12 2 13 3 12 2 13 3 12 1 13-1 13-5 12-7 13-9 12-9 13-7 12-10 13-12 12-14 13-12 12-8 13-4 12-2 13-3 12-2 13-3 13-2 12-2 13-1 12 0 13 0 12-1 13 0 12 0 13 0 12 0 13 0 12-1 13 0 12 0 13 0 13 0 12 1 13 0 12-1 13 0 12-1 13 0 12 1 13 0 12 0 13 0 12 0 13 1 12 0 13 1 13 0 12 0 13 0 12 0 13 0 12 1 13 0 12 1 13 0 12 0 13 0 12 1 13 1 9 1 6 0 6 1 6 0 6 1 6 0 6 1 6 1 6 3 6 7 6 11 6 14 5 10 6 0 6-13 6-15 6-7 6-2 6 0 6 0 6 1 6 1 6 1 6 1 6 1 6 1 6 2 6 1 6 2 6 2 6 1 6 2 6 2 6 2 6 3 6 3 6 4 6 4 6 4 6 4 6 2 6 0 6-2 6-3 5-3 6-3 6-1 6 0 6 0 6 0 6 0 13 2 12 1 5 1 19 3 19 3 19 2 20 3 19 2 19 3 19 2 19 2 19 3 19 2 19 2 19 2 19 2 19 3 20 2 19 2 19 3 19 2 19 2 19 1 19 2 19 3 19 3 19 1 20 1 19 2 19 3 19 2 19 2 19 2 19 3 19 1 19 0 19 3 20 2 19 2 19 1 19 2 19 3 19 1 12 1 7 0 7 0 7 0 8 1 7 0 7 1 7 1 7 1 7 2 8 4 7 6 7 8 7 8 7 5 7 0 8-6 7-10 7-11 7-9 7-7 7-5 8-3 7-4 7-3 7-3 18-8 18-7 18-6 18-5 18-4 17-4 18-2 18-3 18-2 18-2 18-2 18-1 18-2 18-2 18 0 17 2 12 3 8 2 7 1 7 2 7 2 7 2 7 3 8 6 7 10 7 16 7 23 7 30 7 32 8 35 7 35 7 34 7 32 7 31 7 30 7 30 8 29 7 28 7 27 7 25 7 23 7 20 8 17 7 14 7 10 7 7 7 4 7 1 8 1 7 1 7 0 7 0 7-1 7-1 8-1 7-2 7-3 7-2 5-2 12-5 13-5 12-6 13-5 12-6 13-6 13-8 12-8 13-9 12-10 13-11 12-12 13-14 12-16 13-17 12-18 13-19 12-19 13-20 12-20 13-19 13-18 12-17 13-18 12-17 13-17 12-16 13-15 12-13 13-10 12-9 13-9 12-9 13-9 12-8 13-8 13-8 12-9 13-9 12-8 13-9 12-8 13-9 12-9 13-10 12-8 13-9 12-9 13-9 12-9 13-8 13-7 12-7 13-7 12-6 13-5 12-5 13-4 12-4 13-3 12-2 13-2 12 0 13-1 12 1 13 1 12 1 13 2 13 2 12 3 13 3 12 3 13 4 12 4 13 5 12 6 13 7 12 9 13 8 12 10 13 9 12 9 13 6 13 3 12-12 13-15 12-6 13 2 12 5 13 5 12 5 13 4 12-3 13-8 12-21 13-24 12-17 13-13 13-11 12-10 13-11 12-11 13 0 12 3 13 6 12 9 13 9 12 10 13 10 12 9 13 9 12 7 13 4 13 2 3-1 9-4 9-7 9-10 9-11 9-13 9-13 9-14 9-13 9-11 9-10 9-2 9 1 8 2 9 2 9 2 9 3 9 3 9 4 9 5 9 5 9 6 9 6 9 8 9 8 9 11 9 39 9 59 9 58 9 40 9 4 9-19 9-29 9-30 8-20 9-17 9-16 9-15 9-14 9-13 9-11 9-11 9-8 9 0 9 2 9 1 9 2 9 2 9 3 9 4 9 4 9 4 9 6 9 7 9 8 8 38 9 68 9 56 9 8 9-21 9-36 9-39 9-32 9-16 9-2 9 4 9 14 9 49 9 60 9 24 9-52 9-52 9 0 9 4 9 6 9 8 8 10 9 11 9 12 9 13 9 13 9 13 9 12 9 11 9 11 9 11 9 11 9 11 9 11 9 11 9 12 9 11 9 12 9 12 9 12 9 12 3 4 0 829"/>
<path transform="scale(0.85859)" stroke-width="2.09" d="M0 3220l0-1183 56 0 13 1 12 1 13 1 12 1 13 1 12 0 13 0 12 0 13 2 12 2 13 1 12 1 13 1 12 1 13 1 13 1 12 2 13 0 12 1 13 1 12 2 13 2 12 2 13 2 12 1 13 1 12 0 13 2 12 2 13 2 13 2 12 2 13 2 12 2 13 1 12 2 13 2 12 2 13 2 12 2 13 1 12 2 13 2 12 1 13 1 13 1 12 2 13 3 12 2 13 3 12 1 13 0 12 1 13 1 12 2 13 2 12 3 13 2 12 2 13 1 13 1 12 2 13 2 12 2 13 3 12 3 13 3 12 3 13 3 12 3 13 3 12 2 13 2 12 3 13 2 12 2 13-1 13-5 12-8 13-9 12-8 13-8 12-10 13-12 12-13 13-12 12-9 13-4 12-2 13-2 12-3 13-3 13-2 12-1 13-1 12-1 13 0 12-1 13 0 12 0 13 0 12 0 13 0 12 0 13-1 12 0 13 0 13 0 12 1 13 0 12 0 13-1 12-1 13 0 12 1 13 0 12 0 13 0 12 0 13 1 12 1 13 0 13 1 12 0 13-1 12 0 13 0 12 1 13 0 12 1 13 0 12 0 13 0 12 1 13 1 9 1 6 1 6 0 6 1 6 0 6 1 6 0 6 2 6 3 6 6 6 12 6 14 5 10 6 0 6-13 6-15 6-8 6-2 6 0 6 1 6 0 6 1 6 1 6 1 6 1 6 2 6 1 6 2 6 1 6 2 6 1 6 2 6 2 6 2 6 3 6 4 6 4 6 4 6 4 6 4 6 2 6 0 6-2 6-4 5-3 6-2 6-2 6 0 6 0 6 0 6 1 13 1 12 2 5 1 19 3 19 2 19 2 20 3 19 3 19 2 19 2 19 3 19 2 19 3 19 1 19 2 19 3 19 2 20 2 19 2 19 3 19 3 19 1 19 1 19 2 19 3 19 3 19 1 20 1 19 3 19 2 19 2 19 2 19 2 19 3 19 1 19 1 19 2 20 3 19 1 19 2 19 2 19 2 19 1 12 1 7 0 7 0 7 1 8 0 7 1 7 0 7 1 7 1 7 3 8 4 7 7 7 8 7 8 7 5 7 0 8-6 7-11 7-12 7-9 7-7 7-4 8-4 7-3 7-4 7-3 18-8 18-7 18-6 18-5 18-4 17-3 18-3 18-3 18-2 18-2 18-2 18-1 18-2 18-2 18 0 17 2 12 3 8 2 7 2 7 2 7 1 7 2 7 3 8 6 7 10 7 16 7 24 7 29 7 33 8 34 7 35 7 35 7 31 7 31 7 30 7 30 8 29 7 28 7 27 7 26 7 22 7 20 8 17 7 14 7 10 7 7 7 4 7 1 8 1 7 1 7 0 7 0 7-1 7-1 8-1 7-2 7-2 7-3 5-2 12-5 13-5 12-5 13-6 12-6 13-6 13-7 12-8 13-10 12-9 13-11 12-13 13-14 12-16 13-17 12-17 13-19 12-20 13-20 12-20 13-18 13-18 12-18 13-17 12-18 13-17 12-16 13-15 12-12 13-11 12-8 13-9 12-10 13-8 12-9 13-8 13-8 12-9 13-9 12-8 13-9 12-8 13-9 12-9 13-9 12-9 13-9 12-8 13-9 12-9 13-9 13-7 12-7 13-7 12-6 13-5 12-5 13-4 12-4 13-3 12-2 13-2 12 0 13 0 12 0 13 1 12 2 13 2 13 2 12 2 13 3 12 3 13 4 12 4 13 5 12 6 13 8 12 8 13 9 12 9 13 10 12 8 13 7 13 2 12-11 13-16 12-5 13 1 12 5 13 5 12 6 13 3 12-3 13-8 12-21 13-24 12-18 13-12 13-11 12-10 13-10 12-12 13 0 12 4 13 6 12 9 13 9 12 10 13 11 12 9 13 9 12 6 13 5 13 0 3-1 9-4 9-8 9-10 9-12 9-12 9-13 9-13 9-12 9-11 9-10 9-2 9 2 8 2 9 2 9 2 9 3 9 3 9 4 9 5 9 5 9 7 9 6 9 8 9 9 9 26 9 55 9 63 9 52 9 22 9-11 9-26 9-31 9-26 8-18 9-17 9-16 9-15 9-14 9-12 9-11 9-10 9-7 9 1 9 1 9 2 9 2 9 2 9 3 9 4 9 4 9 5 9 6 9 7 9 14 8 56 9 72 9 43 9-7 9-27 9-38 9-38 9-30 9-14 9 0 9 4 9 17 9 53 9 60 9 23 9-55 9-54 9 0 9 4 9 6 9 8 8 10 9 12 9 12 9 13 9 13 9 13 9 13 9 11 9 11 9 11 9 11 9 11 9 12 9 11 9 12 9 11 9 12 9 12 9 13 9 12 3 4 0 819"/>
<path transform="scale(0.86038)" stroke-width="2.12" d="M0 3220l0-1179 56 0 13 1 12 1 13 1 12 1 13 1 12 0 13 0 12 0 13 2 12 1 13 2 12 1 13 1 12 1 13 1 13 1 12 1 13 1 12 1 13 1 12 2 13 2 12 2 13 2 12 1 13 1 12 1 13 1 12 2 13 2 13 3 12 1 13 2 12 2 13 2 12 1 13 2 12 2 13 2 12 2 13 2 12 1 13 2 12 1 13 1 13 2 12 2 13 2 12 3 13 2 12 1 13 1 12 0 13 1 12 2 13 3 12 2 13 3 12 1 13 2 13 1 12 2 13 2 12 2 13 3 12 3 13 3 12 3 13 3 12 3 13 3 12 2 13 3 12 2 13 3 12 1 13-1 13-5 12-8 13-9 12-9 13-8 12-9 13-13 12-13 13-12 12-8 13-4 12-3 13-2 12-3 13-2 13-2 12-2 13-1 12 0 13-1 12 0 13-1 12 0 13 0 12 0 13 0 12 0 13 0 12-1 13 0 13 1 12 0 13 0 12 0 13-1 12 0 13 0 12 0 13 1 12 0 13 0 12 0 13 0 12 1 13 1 13 0 12 0 13 0 12-1 13 1 12 0 13 1 12 0 13 0 12 0 13 1 12 1 13 1 9 1 6 0 6 1 6 0 6 1 6 0 6 1 6 1 6 3 6 7 6 11 6 15 5 10 6 0 6-13 6-15 6-8 6-3 6 0 6 1 6 1 6 0 6 1 6 2 6 1 6 1 6 2 6 1 6 2 6 1 6 2 6 1 6 2 6 3 6 3 6 3 6 4 6 5 6 4 6 4 6 2 6 0 6-3 6-3 5-3 6-3 6-1 6-1 6 0 6 1 6 0 13 1 12 2 5 1 19 3 19 2 19 3 20 2 19 3 19 2 19 2 19 3 19 3 19 2 19 1 19 2 19 3 19 3 20 2 19 2 19 2 19 3 19 2 19 1 19 2 19 3 19 2 19 2 20 1 19 2 19 3 19 2 19 1 19 3 19 2 19 1 19 1 19 2 20 3 19 2 19 1 19 2 19 2 19 2 12 0 7 1 7 0 7 0 8 1 7 0 7 1 7 0 7 2 7 3 8 4 7 7 7 9 7 8 7 5 7 0 8-7 7-11 7-12 7-9 7-7 7-5 8-3 7-4 7-3 7-3 18-8 18-8 18-6 18-5 18-4 17-3 18-3 18-2 18-2 18-2 18-2 18-2 18-2 18-1 18 0 17 2 12 2 8 2 7 2 7 2 7 2 7 2 7 3 8 6 7 10 7 16 7 23 7 29 7 33 8 35 7 35 7 34 7 32 7 30 7 30 7 30 8 29 7 28 7 27 7 26 7 23 7 20 8 17 7 13 7 11 7 7 7 3 7 2 8 1 7 1 7 0 7 0 7-1 7-1 8-2 7-2 7-2 7-3 5-2 12-5 13-5 12-5 13-5 12-6 13-7 13-7 12-8 13-9 12-10 13-11 12-13 13-14 12-15 13-17 12-18 13-19 12-20 13-20 12-19 13-19 13-18 12-17 13-18 12-18 13-17 12-16 13-14 12-13 13-10 12-9 13-9 12-9 13-9 12-8 13-9 13-8 12-8 13-9 12-9 13-8 12-9 13-8 12-10 13-9 12-9 13-8 12-9 13-9 12-9 13-8 13-8 12-7 13-6 12-6 13-6 12-4 13-4 12-4 13-3 12-3 13-1 12-1 13 0 12 0 13 1 12 2 13 2 13 2 12 2 13 3 12 4 13 3 12 4 13 5 12 7 13 7 12 8 13 9 12 10 13 10 12 8 13 6 13 3 12-12 13-15 12-6 13 2 12 5 13 5 12 5 13 4 12-3 13-9 12-21 13-24 12-18 13-12 13-11 12-10 13-10 12-11 13 0 12 4 13 6 12 9 13 10 12 10 13 11 12 9 13 9 12 6 13 4 13 0 3-1 9-6 9-8 9-10 9-12 9-12 9-13 9-12 9-12 9-11 9-9 9-1 9 1 8 2 9 2 9 3 9 3 9 3 9 4 9 5 9 6 9 7 9 7 9 8 9 15 9 47 9 64 9 62 9 38 9 1 9-20 9-30 9-30 9-22 8-17 9-17 9-16 9-15 9-13 9-12 9-11 9-10 9-4 9 1 9 1 9 2 9 2 9 2 9 3 9 4 9 4 9 6 9 6 9 7 9 29 8 70 9 68 9 24 9-15 9-32 9-39 9-38 9-27 9-11 9 1 9 5 9 20 9 56 9 60 9 21 9-57 9-56 9 0 9 4 9 6 9 9 8 10 9 11 9 13 9 13 9 13 9 14 9 12 9 12 9 11 9 11 9 11 9 12 9 11 9 12 9 12 9 12 9 12 9 12 9 13 9 12 3 5 0 808"/>
<path transform="scale(0.86217)" stroke-width="2.15" d="M0 3220l0-1175 56 0 13 1 12 1 13 1 12 1 13 1 12 0 13 0 12 0 13 2 12 2 13 1 12 1 13 1 12 1 13 1 13 1 12 2 13 0 12 1 13 1 12 2 13 2 12 2 13 2 12 1 13 1 12 1 13 1 12 2 13 3 13 2 12 2 13 1 12 2 13 2 12 2 13 2 12 2 13 1 12 2 13 2 12 2 13 1 12 2 13 1 13 1 12 2 13 3 12 2 13 2 12 2 13 0 12 1 13 1 12 2 13 3 12 2 13 2 12 2 13 2 13 1 12 2 13 2 12 2 13 3 12 3 13 3 12 3 13 4 12 2 13 3 12 2 13 3 12 3 13 2 12 1 13-1 13-5 12-9 13-9 12-8 13-8 12-10 13-12 12-13 13-12 12-9 13-4 12-2 13-2 12-3 13-2 13-3 12-1 13-1 12-1 13 0 12-1 13 0 12 0 13 0 12 0 13 0 12 0 13-1 12 0 13 0 13 0 12 1 13 0 12 0 13-1 12-1 13 0 12 1 13 0 12 1 13 0 12 0 13 0 12 1 13 0 13 1 12 0 13-1 12 0 13 0 12 1 13 1 12 0 13 0 12 0 13 0 12 1 13 2 9 0 6 1 6 0 6 1 6 0 6 1 6 0 6 2 6 3 6 7 6 11 6 15 5 11 6 0 6-14 6-16 6-8 6-2 6 0 6 1 6 0 6 1 6 1 6 1 6 1 6 2 6 1 6 2 6 1 6 2 6 1 6 2 6 2 6 2 6 3 6 4 6 5 6 4 6 5 6 3 6 2 6 0 6-2 6-4 5-3 6-3 6-1 6-1 6 0 6 0 6 1 13 1 12 2 5 1 19 3 19 2 19 2 20 3 19 3 19 2 19 2 19 3 19 2 19 3 19 1 19 2 19 3 19 2 20 2 19 2 19 3 19 3 19 1 19 2 19 1 19 3 19 3 19 1 20 2 19 2 19 2 19 2 19 2 19 2 19 3 19 1 19 1 19 2 20 3 19 2 19 1 19 2 19 2 19 2 12 0 7 0 7 0 7 1 8 0 7 1 7 0 7 1 7 2 7 3 8 5 7 7 7 9 7 8 7 5 7 0 8-7 7-12 7-12 7-10 7-7 7-4 8-4 7-3 7-3 7-4 18-8 18-7 18-6 18-5 18-4 17-3 18-3 18-3 18-2 18-2 18-2 18-1 18-2 18-2 18 0 17 3 12 2 8 2 7 2 7 2 7 2 7 1 7 3 8 6 7 11 7 16 7 23 7 29 7 33 8 34 7 36 7 34 7 31 7 31 7 30 7 30 8 29 7 28 7 27 7 26 7 22 7 20 8 17 7 14 7 11 7 7 7 3 7 2 8 1 7 0 7 0 7 0 7 0 7-2 8-1 7-2 7-2 7-3 5-2 12-5 13-5 12-5 13-6 12-6 13-6 13-7 12-8 13-9 12-10 13-11 12-13 13-14 12-16 13-16 12-18 13-19 12-20 13-20 12-20 13-18 13-18 12-18 13-17 12-18 13-17 12-16 13-15 12-12 13-10 12-9 13-9 12-9 13-9 12-9 13-8 13-8 12-9 13-8 12-9 13-9 12-8 13-9 12-9 13-9 12-9 13-9 12-8 13-9 12-9 13-9 13-7 12-7 13-7 12-6 13-5 12-5 13-4 12-3 13-4 12-2 13-2 12 0 13 0 12 0 13 1 12 2 13 2 13 2 12 2 13 3 12 3 13 4 12 4 13 5 12 6 13 8 12 8 13 9 12 10 13 9 12 9 13 6 13 3 12-12 13-16 12-5 13 2 12 4 13 6 12 5 13 4 12-4 13-9 12-21 13-24 12-18 13-12 13-11 12-9 13-10 12-11 13 0 12 4 13 7 12 9 13 10 12 10 13 11 12 10 13 8 12 7 13 3 13-2 3-1 9-6 9-9 9-10 9-11 9-13 9-12 9-12 9-11 9-10 9-9 9-1 9 1 8 2 9 2 9 3 9 3 9 3 9 5 9 5 9 6 9 7 9 8 9 9 9 35 9 61 9 67 9 53 9 18 9-12 9-27 9-32 9-28 9-18 8-17 9-17 9-16 9-14 9-14 9-11 9-11 9-9 9-2 9 1 9 1 9 2 9 2 9 3 9 3 9 4 9 4 9 6 9 6 9 9 9 51 8 76 9 59 9 6 9-22 9-35 9-40 9-36 9-25 9-8 9 1 9 7 9 22 9 59 9 61 9 19 9-59 9-59 9 0 9 4 9 6 9 9 8 10 9 12 9 13 9 13 9 14 9 13 9 13 9 12 9 11 9 12 9 11 9 12 9 12 9 12 9 12 9 12 9 12 9 13 9 12 9 13 3 4 0 798"/>
<path transform="scale(0.86396)" stroke-width="2.18" d="M0 3220l0-1171 56 0 13 1 12 1 13 2 12 1 13 0 12 0 13 0 12 1 13 1 12 2 13 2 12 1 13 1 12 0 13 1 13 2 12 1 13 1 12 1 13 1 12 2 13 2 12 2 13 2 12 1 13 0 12 1 13 2 12 2 13 2 13 2 12 2 13 2 12 2 13 1 12 2 13 2 12 2 13 2 12 2 13 2 12 1 13 2 12 1 13 1 13 2 12 2 13 2 12 3 13 2 12 2 13 0 12 1 13 1 12 2 13 3 12 2 13 3 12 1 13 2 13 1 12 2 13 2 12 3 13 2 12 3 13 4 12 3 13 3 12 3 13 3 12 2 13 3 12 2 13 3 12 1 13-1 13-6 12-8 13-10 12-8 13-8 12-10 13-12 12-13 13-12 12-9 13-4 12-2 13-2 12-3 13-3 13-2 12-1 13-1 12-1 13 0 12-1 13 0 12 0 13 0 12 0 13 0 12 0 13-1 12 0 13 0 13 0 12 1 13 0 12 0 13-1 12-1 13 0 12 1 13 0 12 0 13 0 12 0 13 1 12 1 13 0 13 1 12 0 13-1 12 0 13 0 12 1 13 1 12 0 13 0 12 0 13 0 12 1 13 1 9 1 6 1 6 0 6 1 6 0 6 1 6 0 6 2 6 3 6 7 6 12 6 15 5 11 6 0 6-15 6-15 6-9 6-2 6 0 6 1 6 0 6 1 6 1 6 1 6 1 6 2 6 1 6 2 6 1 6 2 6 1 6 2 6 2 6 2 6 4 6 3 6 5 6 5 6 4 6 4 6 2 6 0 6-3 6-4 5-3 6-3 6-1 6-1 6 0 6 0 6 1 13 1 12 2 5 1 19 3 19 2 19 2 20 3 19 3 19 2 19 2 19 2 19 3 19 2 19 2 19 2 19 3 19 2 20 2 19 2 19 3 19 3 19 1 19 1 19 2 19 3 19 3 19 1 20 1 19 3 19 2 19 2 19 2 19 2 19 3 19 1 19 1 19 2 20 3 19 1 19 2 19 2 19 2 19 1 12 1 7 0 7 0 7 1 8 0 7 1 7 0 7 1 7 2 7 3 8 5 7 8 7 9 7 9 7 5 7-1 8-7 7-12 7-13 7-10 7-7 7-4 8-4 7-3 7-3 7-4 18-8 18-7 18-6 18-5 18-4 17-3 18-3 18-3 18-2 18-2 18-2 18-1 18-2 18-2 18 0 17 3 12 2 8 2 7 2 7 2 7 1 7 2 7 3 8 6 7 10 7 16 7 24 7 29 7 33 8 34 7 35 7 35 7 31 7 31 7 30 7 30 8 29 7 28 7 27 7 26 7 22 7 20 8 17 7 14 7 10 7 7 7 4 7 1 8 1 7 1 7 0 7 0 7-1 7-1 8-1 7-2 7-2 7-3 5-2 12-5 13-5 12-5 13-6 12-6 13-6 13-7 12-8 13-10 12-9 13-11 12-13 13-14 12-16 13-16 12-18 13-19 12-20 13-20 12-20 13-18 13-18 12-18 13-18 12-17 13-17 12-16 13-15 12-12 13-11 12-8 13-9 12-10 13-8 12-9 13-8 13-8 12-9 13-9 12-8 13-9 12-8 13-9 12-9 13-9 12-9 13-9 12-8 13-9 12-9 13-9 13-7 12-7 13-7 12-6 13-5 12-5 13-4 12-4 13-3 12-2 13-2 12 0 13 0 12 0 13 1 12 2 13 2 13 2 12 2 13 3 12 3 13 4 12 4 13 5 12 6 13 8 12 8 13 9 12 9 13 10 12 8 13 7 13 2 12-11 13-16 12-5 13 1 12 5 13 5 12 6 13 3 12-3 13-9 12-21 13-25 12-18 13-12 13-10 12-10 13-9 12-11 13 1 12 3 13 7 12 9 13 11 12 11 13 11 12 10 13 8 12 6 13 2 13-2 3-2 9-6 9-9 9-11 9-11 9-12 9-12 9-11 9-11 9-10 9-9 9 0 9 1 8 2 9 2 9 3 9 3 9 4 9 4 9 6 9 6 9 8 9 8 9 21 9 55 9 69 9 63 9 38 9-2 9-22 9-31 9-31 9-23 9-18 8-17 9-17 9-15 9-15 9-13 9-11 9-10 9-8 9 0 9 1 9 1 9 1 9 3 9 2 9 4 9 4 9 4 9 6 9 7 9 20 9 68 8 77 9 43 9-8 9-27 9-37 9-40 9-35 9-22 9-6 9 1 9 8 9 27 9 61 9 60 9 18 9-61 9-61 9-1 9 4 9 7 9 9 8 10 9 12 9 13 9 14 9 13 9 14 9 13 9 13 9 11 9 12 9 11 9 12 9 12 9 12 9 12 9 13 9 12 9 13 9 13 9 13 3 4 0 787"/>
<path transform="scale(0.86575)" stroke-width="2.21" d="M0 3220l0-1167 56 0 13 1 12 2 13 1 12 1 13 1 12 0 13 0 12 0 13 2 12 2 13 1 12 1 13 1 12 1 13 1 13 1 12 1 13 1 12 1 13 1 12 2 13 2 12 3 13 1 12 1 13 1 12 1 13 1 12 2 13 3 13 2 12 2 13 2 12 1 13 2 12 2 13 2 12 2 13 2 12 2 13 2 12 1 13 2 12 1 13 1 13 2 12 2 13 2 12 3 13 2 12 2 13 0 12 1 13 1 12 2 13 3 12 3 13 2 12 2 13 1 13 2 12 1 13 3 12 2 13 3 12 3 13 3 12 4 13 3 12 3 13 3 12 2 13 2 12 3 13 3 12 1 13-2 13-5 12-9 13-9 12-9 13-8 12-10 13-12 12-13 13-12 12-9 13-4 12-2 13-2 12-3 13-2 13-3 12-1 13-1 12-1 13 0 12-1 13 0 12 0 13 0 12 0 13 0 12 0 13-1 12 0 13 0 13 0 12 1 13 0 12 0 13-1 12-1 13 0 12 1 13 0 12 1 13 0 12 0 13 0 12 1 13 0 13 1 12 0 13-1 12 0 13 0 12 1 13 1 12 0 13 0 12 0 13 0 12 1 13 2 9 0 6 1 6 1 6 0 6 0 6 1 6 0 6 2 6 3 6 7 6 12 6 15 5 12 6 0 6-15 6-16 6-9 6-2 6 0 6 1 6 0 6 1 6 1 6 1 6 1 6 2 6 1 6 2 6 1 6 2 6 2 6 1 6 2 6 3 6 3 6 4 6 4 6 5 6 5 6 4 6 2 6 0 6-3 6-4 5-4 6-3 6-1 6-1 6 0 6 0 6 1 13 1 12 2 5 1 19 3 19 2 19 2 20 3 19 3 19 2 19 2 19 3 19 2 19 3 19 1 19 2 19 3 19 2 20 2 19 2 19 3 19 3 19 1 19 2 19 1 19 3 19 3 19 1 20 2 19 2 19 2 19 2 19 2 19 2 19 3 19 1 19 1 19 2 20 3 19 2 19 1 19 2 19 2 19 2 12 0 7 0 7 1 7 0 8 0 7 1 7 0 7 1 7 2 7 4 8 5 7 8 7 10 7 9 7 5 7-1 8-8 7-13 7-12 7-11 7-7 7-4 8-4 7-3 7-3 7-3 18-9 18-7 18-6 18-5 18-4 17-3 18-3 18-3 18-2 18-2 18-2 18-1 18-2 18-2 18 0 17 3 12 2 8 2 7 2 7 2 7 2 7 1 7 3 8 6 7 11 7 16 7 23 7 29 7 33 8 34 7 36 7 34 7 31 7 31 7 30 7 30 8 29 7 28 7 27 7 26 7 23 7 19 8 17 7 14 7 11 7 7 7 3 7 2 8 1 7 0 7 1 7-1 7 0 7-1 8-2 7-2 7-2 7-3 5-2 12-5 13-5 12-5 13-6 12-6 13-6 13-7 12-8 13-9 12-10 13-11 12-13 13-14 12-16 13-16 12-18 13-19 12-20 13-20 12-20 13-18 13-18 12-18 13-17 12-18 13-17 12-16 13-15 12-12 13-10 12-9 13-9 12-9 13-9 12-9 13-8 13-8 12-9 13-8 12-9 13-9 12-8 13-9 12-9 13-9 12-9 13-9 12-8 13-9 12-9 13-9 13-7 12-7 13-7 12-6 13-5 12-5 13-4 12-3 13-4 12-2 13-1 12-1 13 0 12 0 13 1 12 2 13 2 13 2 12 2 13 3 12 3 13 4 12 4 13 5 12 6 13 8 12 8 13 9 12 9 13 10 12 8 13 6 13 3 12-11 13-16 12-5 13 2 12 4 13 5 12 6 13 3 12-4 13-9 12-21 13-25 12-17 13-12 13-10 12-10 13-9 12-10 13 0 12 4 13 7 12 9 13 11 12 12 13 11 12 10 13 8 12 5 13 2 13-3 3-3 9-6 9-9 9-11 9-11 9-12 9-11 9-12 9-10 9-10 9-8 9 0 9 2 8 2 9 2 9 3 9 3 9 4 9 5 9 5 9 7 9 8 9 11 9 44 9 68 9 71 9 52 9 15 9-14 9-28 9-32 9-29 9-20 9-18 8-17 9-16 9-16 9-14 9-12 9-11 9-9 9-7 9 0 9 1 9 1 9 2 9 2 9 3 9 4 9 4 9 5 9 5 9 7 9 42 9 79 8 71 9 22 9-15 9-31 9-40 9-40 9-32 9-19 9-4 9 1 9 9 9 30 9 64 9 60 9 16 9-63 9-62 9-2 9 4 9 6 9 9 8 11 9 12 9 13 9 14 9 14 9 14 9 14 9 12 9 12 9 12 9 11 9 13 9 12 9 12 9 12 9 13 9 13 9 13 9 13 9 13 3 4 0 776"/>
<path transform="scale(0.86754)" stroke-width="2.24" d="M0 3220l0-1162 56 0 13 1 12 1 13 2 12 1 13 0 12 0 13 0 12 1 13 1 12 2 13 2 12 1 13 1 12 1 13 1 13 1 12 1 13 1 12 1 13 1 12 2 13 2 12 3 13 1 12 1 13 1 12 1 13 1 12 2 13 3 13 2 12 2 13 2 12 1 13 2 12 2 13 2 12 2 13 2 12 2 13 2 12 1 13 2 12 1 13 1 13 2 12 2 13 3 12 2 13 3 12 1 13 1 12 0 13 2 12 2 13 2 12 3 13 3 12 1 13 2 13 1 12 2 13 2 12 3 13 3 12 3 13 3 12 4 13 3 12 3 13 3 12 2 13 3 12 2 13 3 12 1 13-2 13-6 12-8 13-10 12-9 13-8 12-9 13-13 12-13 13-12 12-8 13-4 12-3 13-2 12-2 13-3 13-2 12-2 13-1 12 0 13-1 12 0 13-1 12 0 13 0 12 1 13 0 12-1 13 0 12-1 13 0 13 1 12 0 13 1 12-1 13-1 12 0 13 0 12 0 13 1 12 0 13 0 12 0 13 0 12 1 13 1 13 0 12 0 13 0 12 0 13 0 12 0 13 1 12 0 13 0 12 0 13 1 12 1 13 1 9 1 6 0 6 1 6 0 6 1 6 0 6 1 6 1 6 3 6 7 6 13 6 15 5 12 6 0 6-15 6-16 6-9 6-3 6 0 6 1 6 1 6 1 6 1 6 1 6 1 6 1 6 2 6 1 6 2 6 1 6 2 6 2 6 2 6 2 6 3 6 4 6 5 6 5 6 5 6 4 6 2 6 0 6-3 6-4 5-4 6-3 6-2 6-1 6 0 6 1 6 0 13 2 12 1 5 1 19 3 19 2 19 3 20 2 19 3 19 2 19 2 19 3 19 3 19 2 19 2 19 1 19 3 19 3 20 2 19 2 19 2 19 3 19 2 19 1 19 2 19 3 19 2 19 2 20 1 19 2 19 3 19 2 19 1 19 3 19 2 19 1 19 1 19 3 20 2 19 2 19 1 19 2 19 2 19 2 12 0 7 1 7 0 7 0 8 1 7 0 7 1 7 1 7 2 7 4 8 6 7 8 7 10 7 9 7 5 7-1 8-9 7-13 7-13 7-10 7-7 7-5 8-3 7-4 7-3 7-3 18-8 18-8 18-6 18-5 18-4 17-3 18-3 18-2 18-2 18-2 18-2 18-2 18-2 18-1 18 0 17 2 12 3 8 1 7 2 7 2 7 2 7 2 7 3 8 6 7 10 7 16 7 23 7 29 7 33 8 35 7 35 7 34 7 32 7 30 7 30 7 30 8 29 7 29 7 27 7 25 7 23 7 20 8 17 7 14 7 10 7 7 7 4 7 1 8 1 7 1 7 0 7 0 7-1 7-1 8-2 7-2 7-2 7-3 5-1 12-5 13-5 12-6 13-5 12-6 13-7 13-7 12-8 13-9 12-10 13-11 12-13 13-14 12-15 13-17 12-18 13-19 12-20 13-20 12-19 13-19 13-18 12-17 13-18 12-18 13-17 12-16 13-14 12-13 13-10 12-9 13-9 12-9 13-9 12-8 13-9 13-8 12-8 13-9 12-9 13-8 12-9 13-8 12-10 13-9 12-9 13-8 12-9 13-9 12-9 13-8 13-8 12-7 13-6 12-6 13-6 12-4 13-4 12-4 13-3 12-3 13-1 12-1 13 0 12 0 13 1 12 2 13 2 13 2 12 2 13 3 12 4 13 3 12 4 13 5 12 7 13 7 12 8 13 9 12 9 13 10 12 8 13 6 13 3 12-11 13-15 12-6 13 2 12 4 13 5 12 6 13 3 12-4 13-10 12-21 13-24 12-17 13-12 13-10 12-10 13-9 12-9 13 0 12 4 13 7 12 10 13 11 12 12 13 11 12 10 13 8 12 5 13 1 13-5 3-2 9-7 9-9 9-11 9-11 9-11 9-12 9-11 9-10 9-9 9-7 9 0 9 1 8 2 9 3 9 2 9 4 9 4 9 5 9 6 9 8 9 8 9 29 9 62 9 74 9 65 9 34 9-4 9-23 9-31 9-32 9-26 9-18 9-17 8-17 9-16 9-16 9-13 9-13 9-10 9-9 9-5 9 1 9 1 9 1 9 2 9 2 9 3 9 4 9 4 9 5 9 6 9 14 9 62 9 84 8 60 9 3 9-21 9-35 9-40 9-39 9-31 9-16 9-3 9 2 9 10 9 35 9 66 9 59 9 14 9-64 9-65 9-3 9 5 9 6 9 9 8 11 9 13 9 13 9 14 9 15 9 14 9 14 9 12 9 12 9 12 9 12 9 12 9 13 9 12 9 13 9 12 9 13 9 14 9 13 9 13 3 5 0 764"/>
<path transform="scale(0.86933)" stroke-width="2.26" d="M0 3220l0-1157 56 0 13 1 12 1 13 2 12 1 13 0 12 0 13 0 12 1 13 1 12 2 13 2 12 1 13 1 12 1 13 1 13 1 12 1 13 1 12 1 13 1 12 2 13 2 12 3 13 1 12 1 13 1 12 1 13 1 12 3 13 2 13 2 12 2 13 2 12 1 13 2 12 2 13 2 12 3 13 1 12 2 13 2 12 2 13 1 12 2 13 1 13 1 12 2 13 3 12 3 13 2 12 2 13 0 12 1 13 1 12 2 13 3 12 3 13 2 12 2 13 2 13 1 12 2 13 3 12 2 13 3 12 3 13 4 12 3 13 3 12 3 13 3 12 3 13 2 12 3 13 2 12 2 13-2 13-7 12-9 13-9 12-9 13-8 12-10 13-12 12-13 13-12 12-9 13-4 12-2 13-2 12-3 13-2 13-3 12-1 13-1 12-1 13 0 12-1 13 0 12 0 13 0 12 0 13 0 12 0 13-1 12 0 13 0 13 0 12 1 13 0 12 0 13-1 12-1 13 0 12 1 13 0 12 1 13 0 12 0 13 0 12 1 13 0 13 1 12 0 13-1 12 0 13 0 12 1 13 1 12 0 13 0 12 0 13 0 12 1 13 2 9 1 6 0 6 1 6 0 6 0 6 1 6 0 6 2 6 3 6 7 6 13 6 16 5 11 6 0 6-15 6-16 6-9 6-3 6 0 6 1 6 0 6 1 6 1 6 1 6 1 6 2 6 1 6 2 6 1 6 2 6 2 6 1 6 2 6 3 6 3 6 4 6 5 6 5 6 5 6 4 6 2 6 0 6-3 6-4 5-4 6-3 6-2 6-1 6 0 6 0 6 1 13 1 12 2 5 1 19 3 19 2 19 2 20 3 19 3 19 2 19 2 19 3 19 2 19 3 19 1 19 2 19 3 19 2 20 2 19 3 19 2 19 3 19 1 19 2 19 2 19 2 19 3 19 1 20 2 19 2 19 2 19 2 19 2 19 2 19 3 19 1 19 1 19 2 20 3 19 2 19 1 19 2 19 2 19 2 12 0 7 0 7 1 7 0 8 0 7 1 7 1 7 1 7 2 7 4 8 6 7 9 7 10 7 9 7 5 7-1 8-9 7-14 7-13 7-10 7-7 7-5 8-4 7-3 7-3 7-3 18-9 18-7 18-6 18-5 18-4 17-3 18-3 18-3 18-2 18-2 18-2 18-1 18-2 18-2 18 0 17 3 12 2 8 2 7 2 7 2 7 2 7 1 7 3 8 6 7 11 7 16 7 23 7 29 7 33 8 34 7 36 7 34 7 31 7 31 7 30 7 30 8 29 7 28 7 27 7 26 7 23 7 20 8 16 7 14 7 11 7 7 7 3 7 2 8 1 7 0 7 1 7-1 7 0 7-1 8-2 7-2 7-2 7-3 5-2 12-5 13-5 12-5 13-6 12-6 13-6 13-7 12-8 13-9 12-10 13-11 12-13 13-14 12-16 13-16 12-18 13-19 12-20 13-20 12-20 13-18 13-18 12-18 13-17 12-18 13-17 12-16 13-15 12-12 13-10 12-9 13-9 12-9 13-9 12-9 13-8 13-8 12-9 13-8 12-9 13-8 12-9 13-9 12-9 13-9 12-9 13-9 12-8 13-9 12-9 13-9 13-7 12-7 13-7 12-6 13-5 12-4 13-4 12-4 13-4 12-2 13-1 12-1 13 0 12 0 13 1 12 2 13 2 13 2 12 2 13 3 12 3 13 4 12 4 13 5 12 6 13 7 12 8 13 9 12 9 13 10 12 8 13 6 13 3 12-11 13-15 12-5 13 1 12 5 13 5 12 5 13 3 12-4 13-10 12-21 13-24 12-17 13-12 13-10 12-9 13-9 12-9 13 0 12 4 13 7 12 11 13 11 12 12 13 11 12 11 13 7 12 5 13 0 13-6 3-2 9-8 9-9 9-10 9-11 9-12 9-11 9-10 9-10 9-8 9-7 9 0 9 1 8 2 9 3 9 2 9 4 9 4 9 6 9 7 9 7 9 16 9 52 9 74 9 74 9 51 9 11 9-16 9-28 9-33 9-30 9-21 9-18 9-18 8-16 9-16 9-15 9-14 9-11 9-10 9-9 9-3 9 1 9 1 9 1 9 2 9 3 9 3 9 3 9 5 9 5 9 6 9 31 9 78 9 82 8 42 9-10 9-26 9-37 9-41 9-38 9-29 9-13 9-2 9 3 9 11 9 39 9 68 9 59 9 12 9-67 9-66 9-3 9 4 9 7 9 9 8 11 9 12 9 14 9 14 9 15 9 15 9 13 9 13 9 12 9 12 9 13 9 12 9 13 9 12 9 13 9 13 9 13 9 14 9 13 9 14 3 4 0 753"/>
<path transform="scale(0.87112)" stroke-width="2.29" d="M0 3220l0-1152 56 0 13 1 12 1 13 2 12 1 13 1 12-1 13 0 12 1 13 2 12 1 13 2 12 1 13 1 12 1 13 1 13 1 12 1 13 1 12 1 13 2 12 2 13 2 12 2 13 2 12 1 13 0 12 1 13 2 12 2 13 3 13 2 12 2 13 1 12 2 13 2 12 2 13 2 12 2 13 2 12 2 13 2 12 1 13 2 12 1 13 2 13 1 12 2 13 3 12 3 13 2 12 1 13 1 12 1 13 1 12 2 13 3 12 3 13 2 12 2 13 2 13 2 12 2 13 2 12 3 13 2 12 4 13 3 12 4 13 3 12 3 13 3 12 2 13 3 12 3 13 2 12 1 13-2 13-6 12-9 13-10 12-9 13-8 12-10 13-12 12-13 13-12 12-9 13-4 12-2 13-2 12-3 13-3 13-2 12-1 13-1 12-1 13 0 12-1 13 0 12-1 13 1 12 0 13 0 12 0 13-1 12 0 13 0 13 0 12 1 13 0 12 0 13-1 12-1 13 0 12 1 13 0 12 1 13 0 12 0 13 0 12 1 13 0 13 1 12 0 13-1 12 0 13 0 12 1 13 1 12 0 13 0 12 0 13 0 12 1 13 2 9 1 6 0 6 1 6 0 6 0 6 1 6 0 6 2 6 3 6 7 6 13 6 16 5 12 6 0 6-15 6-17 6-9 6-3 6 0 6 1 6 0 6 1 6 1 6 1 6 1 6 2 6 1 6 2 6 1 6 2 6 2 6 1 6 2 6 3 6 3 6 5 6 5 6 5 6 5 6 4 6 2 6 0 6-3 6-5 5-4 6-3 6-2 6-1 6 0 6 0 6 1 13 1 12 2 5 1 19 3 19 2 19 2 20 3 19 3 19 2 19 2 19 2 19 3 19 2 19 2 19 2 19 3 19 2 20 2 19 2 19 3 19 3 19 1 19 2 19 1 19 3 19 3 19 1 20 2 19 2 19 2 19 2 19 2 19 2 19 2 19 2 19 1 19 2 20 3 19 2 19 1 19 2 19 2 19 1 12 1 7 0 7 1 7 0 8 0 7 1 7 1 7 1 7 2 7 4 8 7 7 9 7 11 7 9 7 5 7-2 8-9 7-14 7-14 7-10 7-8 7-4 8-4 7-3 7-3 7-4 18-8 18-7 18-6 18-5 18-4 17-3 18-3 18-3 18-2 18-2 18-2 18-1 18-2 18-2 18 0 17 3 12 2 8 2 7 2 7 2 7 1 7 2 7 3 8 6 7 11 7 16 7 23 7 29 7 33 8 34 7 35 7 35 7 31 7 31 7 30 7 30 8 29 7 28 7 27 7 26 7 22 7 20 8 17 7 14 7 11 7 7 7 3 7 2 8 1 7 0 7 0 7 0 7 0 7-2 8-1 7-2 7-2 7-3 5-2 12-5 13-5 12-5 13-6 12-6 13-6 13-7 12-8 13-9 12-10 13-11 12-13 13-14 12-16 13-16 12-18 13-19 12-20 13-20 12-20 13-18 13-18 12-18 13-17 12-18 13-17 12-16 13-15 12-12 13-10 12-9 13-9 12-10 13-8 12-9 13-8 13-8 12-9 13-9 12-8 13-9 12-8 13-9 12-9 13-9 12-9 13-9 12-8 13-9 12-9 13-9 13-7 12-7 13-7 12-6 13-5 12-5 13-4 12-3 13-4 12-2 13-2 12 0 13 0 12 0 13 1 12 2 13 2 13 2 12 2 13 3 12 3 13 4 12 4 13 5 12 6 13 7 12 8 13 8 12 9 13 10 12 8 13 6 13 2 12-10 13-15 12-5 13 2 12 4 13 5 12 5 13 3 12-4 13-11 12-20 13-24 12-17 13-12 13-10 12-9 13-8 12-9 13 0 12 4 13 8 12 11 13 11 12 13 13 11 12 10 13 8 12 3 13-1 13-6 3-2 9-8 9-10 9-10 9-11 9-11 9-10 9-11 9-9 9-8 9-7 9 1 9 1 8 2 9 3 9 3 9 4 9 4 9 6 9 7 9 9 9 38 9 70 9 78 9 66 9 31 9-8 9-23 9-32 9-33 9-26 9-19 9-18 9-18 8-16 9-16 9-15 9-13 9-11 9-9 9-8 9-1 9 1 9 1 9 1 9 2 9 2 9 3 9 4 9 5 9 5 9 8 9 55 9 87 9 74 8 20 9-16 9-31 9-39 9-41 9-37 9-26 9-11 9 0 9 3 9 12 9 44 9 69 9 58 9 11 9-69 9-68 9-4 9 4 9 7 9 9 8 12 9 12 9 14 9 15 9 15 9 14 9 15 9 13 9 12 9 12 9 13 9 12 9 13 9 13 9 13 9 13 9 14 9 13 9 14 9 13 3 5 0 741"/>
<path transform="scale(0.87291)" stroke-width="2.32" d="M0 3220l0-1147 56 0 13 1 12 1 13 2 12 2 13 0 12 0 13 0 12 0 13 2 12 2 13 2 12 1 13 1 12 0 13 1 13 2 12 1 13 1 12 1 13 1 12 2 13 2 12 3 13 1 12 1 13 1 12 1 13 1 12 3 13 2 13 3 12 2 13 1 12 1 13 2 12 2 13 3 12 2 13 2 12 2 13 1 12 2 13 2 12 1 13 1 13 2 12 2 13 3 12 3 13 2 12 2 13 0 12 1 13 1 12 3 13 3 12 2 13 3 12 2 13 1 13 2 12 2 13 3 12 2 13 3 12 3 13 4 12 4 13 3 12 3 13 3 12 2 13 3 12 3 13 2 12 1 13-2 13-7 12-9 13-10 12-9 13-8 12-9 13-13 12-13 13-12 12-9 13-4 12-2 13-2 12-3 13-2 13-3 12-1 13-1 12 0 13-1 12-1 13 0 12 0 13 0 12 0 13 1 12-1 13 0 12-1 13 0 13 1 12 0 13 0 12 0 13-1 12-1 13 0 12 1 13 0 12 1 13 0 12 0 13 0 12 1 13 0 13 1 12 0 13-1 12 0 13 1 12 0 13 1 12 0 13 0 12 0 13 0 12 1 13 2 9 1 6 0 6 1 6 0 6 1 6 0 6 0 6 2 6 3 6 8 6 13 6 16 5 12 6 0 6-16 6-17 6-9 6-3 6 0 6 1 6 0 6 1 6 1 6 1 6 2 6 1 6 1 6 2 6 2 6 1 6 2 6 1 6 3 6 2 6 4 6 4 6 5 6 6 6 5 6 4 6 2 6 0 6-4 6-4 5-5 6-3 6-2 6-1 6 0 6 0 6 1 13 1 12 2 5 1 19 3 19 2 19 2 20 3 19 3 19 2 19 2 19 3 19 2 19 3 19 1 19 2 19 3 19 2 20 2 19 3 19 2 19 3 19 1 19 2 19 2 19 2 19 3 19 1 20 2 19 2 19 3 19 1 19 2 19 2 19 3 19 1 19 1 19 2 20 3 19 2 19 1 19 2 19 2 19 2 12 0 7 0 7 1 7 0 8 0 7 1 7 1 7 1 7 3 7 4 8 7 7 10 7 10 7 10 7 5 7-2 8-10 7-14 7-15 7-10 7-7 7-5 8-3 7-4 7-3 7-3 18-9 18-7 18-6 18-5 18-4 17-3 18-3 18-3 18-2 18-2 18-2 18-1 18-2 18-2 18 1 17 2 12 2 8 2 7 2 7 2 7 2 7 2 7 2 8 6 7 11 7 16 7 23 7 29 7 33 8 35 7 35 7 34 7 31 7 31 7 30 7 30 8 29 7 28 7 27 7 26 7 23 7 20 8 16 7 14 7 11 7 7 7 3 7 2 8 1 7 0 7 1 7-1 7 0 7-1 8-2 7-2 7-2 7-3 5-2 12-5 13-5 12-5 13-6 12-6 13-6 13-7 12-8 13-9 12-10 13-11 12-13 13-14 12-16 13-16 12-18 13-19 12-20 13-20 12-20 13-18 13-18 12-17 13-18 12-18 13-17 12-16 13-15 12-12 13-10 12-9 13-9 12-9 13-9 12-9 13-8 13-8 12-9 13-8 12-9 13-8 12-9 13-9 12-9 13-9 12-9 13-9 12-8 13-9 12-9 13-9 13-7 12-7 13-6 12-7 13-5 12-4 13-4 12-4 13-4 12-2 13-1 12-1 13 0 12 0 13 1 12 2 13 2 13 2 12 2 13 3 12 3 13 4 12 4 13 5 12 6 13 7 12 8 13 8 12 9 13 9 12 8 13 6 13 2 12-10 13-14 12-5 13 2 12 4 13 5 12 4 13 4 12-5 13-11 12-21 13-23 12-17 13-11 13-10 12-9 13-8 12-8 13 0 12 4 13 8 12 11 13 12 12 13 13 11 12 10 13 7 12 3 13-2 13-7 3-2 9-8 9-10 9-10 9-11 9-10 9-11 9-10 9-9 9-7 9-6 9 0 9 2 8 2 9 2 9 4 9 4 9 5 9 6 9 7 9 22 9 61 9 80 9 75 9 50 9 7 9-17 9-28 9-34 9-31 9-23 9-18 9-18 9-18 8-16 9-15 9-15 9-12 9-11 9-9 9-7 9 0 9 1 9 1 9 2 9 1 9 3 9 3 9 4 9 5 9 6 9 20 9 74 9 90 9 60 8 1 9-21 9-34 9-41 9-41 9-35 9-23 9-9 9 0 9 5 9 13 9 48 9 70 9 58 9 9 9-71 9-70 9-4 9 4 9 7 9 9 8 12 9 12 9 15 9 14 9 16 9 15 9 14 9 13 9 13 9 12 9 13 9 13 9 13 9 13 9 13 9 13 9 14 9 14 9 14 9 14 3 4 0 729"/>
<path transform="scale(0.87470)" stroke-width="2.35" d="M0 3220l0-1141 56 0 13 0 12 2 13 2 12 1 13 1 12 0 13-1 12 1 13 2 12 2 13 1 12 2 13 0 12 1 13 1 13 1 12 2 13 1 12 1 13 1 12 2 13 2 12 3 13 1 12 1 13 1 12 1 13 1 12 3 13 2 13 3 12 1 13 2 12 1 13 2 12 2 13 3 12 2 13 2 12 2 13 2 12 1 13 2 12 1 13 2 13 1 12 2 13 3 12 3 13 2 12 2 13 1 12 0 13 2 12 2 13 3 12 3 13 3 12 1 13 2 13 2 12 2 13 2 12 3 13 3 12 3 13 4 12 4 13 3 12 3 13 3 12 3 13 2 12 3 13 3 12 1 13-3 13-7 12-9 13-10 12-9 13-8 12-10 13-12 12-13 13-13 12-8 13-4 12-2 13-3 12-2 13-3 13-2 12-2 13-1 12 0 13-1 12 0 13-1 12 0 13 0 12 1 13 0 12 0 13-1 12-1 13 0 13 1 12 1 13 0 12-1 13-1 12 0 13 0 12 0 13 1 12 0 13 0 12 0 13 0 12 1 13 1 13 0 12 0 13 0 12 0 13 0 12 1 13 0 12 1 13 0 12-1 13 1 12 1 13 1 9 1 6 1 6 0 6 1 6 0 6 0 6 1 6 1 6 4 6 7 6 14 6 16 5 12 6 0 6-16 6-17 6-10 6-2 6 0 6 0 6 1 6 1 6 1 6 1 6 1 6 1 6 2 6 1 6 2 6 2 6 1 6 2 6 2 6 3 6 3 6 5 6 5 6 6 6 5 6 4 6 2 6 0 6-4 6-4 5-5 6-3 6-2 6-1 6-1 6 1 6 0 13 2 12 2 5 0 19 3 19 2 19 3 20 2 19 3 19 2 19 2 19 3 19 3 19 2 19 2 19 2 19 2 19 3 20 2 19 2 19 3 19 2 19 2 19 1 19 2 19 3 19 2 19 2 20 1 19 2 19 3 19 2 19 2 19 2 19 2 19 1 19 2 19 2 20 2 19 2 19 2 19 1 19 2 19 2 12 1 7 0 7 0 7 1 8 0 7 0 7 1 7 2 7 3 7 4 8 8 7 10 7 11 7 9 7 5 7-2 8-11 7-15 7-14 7-11 7-7 7-4 8-4 7-3 7-4 7-3 18-8 18-8 18-6 18-5 18-3 17-4 18-3 18-2 18-2 18-2 18-2 18-2 18-1 18-2 18 0 17 2 12 3 8 2 7 1 7 2 7 2 7 2 7 3 8 6 7 10 7 16 7 23 7 30 7 32 8 35 7 35 7 34 7 32 7 30 7 31 7 29 8 30 7 28 7 27 7 25 7 23 7 20 8 17 7 14 7 10 7 7 7 4 7 1 8 1 7 1 7 0 7 0 7-1 7-1 8-2 7-2 7-2 7-2 5-2 12-5 13-5 12-6 13-5 12-6 13-7 13-7 12-8 13-9 12-10 13-11 12-12 13-15 12-15 13-17 12-18 13-19 12-20 13-20 12-19 13-19 13-18 12-17 13-18 12-17 13-17 12-17 13-14 12-13 13-10 12-9 13-9 12-9 13-9 12-8 13-8 13-9 12-8 13-9 12-9 13-8 12-8 13-9 12-10 13-9 12-9 13-8 12-9 13-9 12-9 13-8 13-8 12-6 13-7 12-6 13-6 12-4 13-4 12-4 13-3 12-3 13-1 12-1 13 0 12 0 13 1 12 2 13 2 13 2 12 3 13 2 12 4 13 3 12 4 13 5 12 6 13 7 12 8 13 8 12 8 13 9 12 8 13 6 13 2 12-10 13-13 12-5 13 2 12 4 13 5 12 4 13 3 12-5 13-11 12-21 13-23 12-16 13-11 13-10 12-8 13-8 12-8 13 0 12 4 13 8 12 11 13 13 12 13 13 12 12 10 13 6 12 2 13-3 13-7 3-3 9-8 9-10 9-10 9-10 9-11 9-10 9-9 9-9 9-7 9-6 9 1 9 1 8 2 9 3 9 4 9 4 9 5 9 7 9 11 9 48 9 76 9 82 9 66 9 26 9-9 9-24 9-32 9-33 9-29 9-19 9-19 9-18 9-17 8-16 9-16 9-13 9-13 9-10 9-8 9-5 9 0 9 1 9 1 9 1 9 2 9 3 9 4 9 4 9 5 9 5 9 44 9 87 9 86 9 39 8-10 9-26 9-37 9-42 9-40 9-33 9-21 9-6 9 0 9 5 9 16 9 52 9 71 9 57 9 7 9-72 9-72 9-6 9 5 9 7 9 9 8 12 9 13 9 14 9 15 9 16 9 15 9 15 9 13 9 13 9 13 9 13 9 13 9 13 9 13 9 13 9 14 9 14 9 14 9 14 9 14 3 5 0 716"/>
<path transform="scale(0.87649)" stroke-width="2.38" d="M0 3220l0-1136 56 0 13 1 12 2 13 2 12 1 13 1 12-1 13 0 12 1 13 1 12 2 13 2 12 2 13 0 12 1 13 1 13 1 12 1 13 2 12 1 13 1 12 2 13 2 12 3 13 1 12 1 13 1 12 1 13 1 12 3 13 2 13 3 12 2 13 1 12 2 13 1 12 3 13 2 12 2 13 2 12 2 13 2 12 2 13 1 12 2 13 1 13 2 12 2 13 3 12 3 13 2 12 2 13 0 12 1 13 1 12 3 13 3 12 3 13 2 12 2 13 2 13 2 12 2 13 3 12 2 13 4 12 3 13 3 12 4 13 4 12 3 13 3 12 2 13 3 12 3 13 2 12 1 13-2 13-7 12-10 13-11 12-9 13-8 12-9 13-13 12-13 13-12 12-9 13-3 12-3 13-2 12-3 13-2 13-3 12-1 13-1 12 0 13-1 12-1 13 0 12 0 13 0 12 0 13 1 12-1 13 0 12-1 13 0 13 1 12 0 13 1 12-1 13-1 12-1 13 0 12 1 13 0 12 1 13 0 12 0 13 0 12 1 13 1 13 0 12 0 13-1 12 0 13 1 12 0 13 1 12 0 13 0 12 0 13 0 12 1 13 2 9 1 6 1 6 0 6 0 6 1 6 0 6 1 6 1 6 3 6 8 6 14 6 16 5 13 6 0 6-16 6-18 6-10 6-3 6 0 6 1 6 1 6 0 6 1 6 1 6 2 6 1 6 2 6 1 6 2 6 1 6 2 6 2 6 2 6 3 6 3 6 5 6 5 6 6 6 5 6 5 6 2 6-1 6-3 6-5 5-5 6-3 6-3 6-1 6 0 6 0 6 1 13 2 12 1 5 1 19 3 19 2 19 2 20 3 19 3 19 2 19 2 19 3 19 3 19 2 19 1 19 2 19 3 19 2 20 3 19 2 19 2 19 3 19 2 19 1 19 2 19 3 19 2 19 1 20 2 19 2 19 3 19 2 19 1 19 2 19 3 19 1 19 1 19 3 20 2 19 2 19 1 19 2 19 2 19 2 12 0 7 1 7 0 7 0 8 1 7 0 7 1 7 2 7 3 7 5 8 7 7 11 7 11 7 10 7 4 7-2 8-11 7-15 7-15 7-11 7-7 7-5 8-3 7-4 7-3 7-3 18-9 18-7 18-6 18-5 18-4 17-3 18-3 18-2 18-3 18-2 18-1 18-2 18-2 18-2 18 1 17 2 12 3 8 1 7 2 7 2 7 2 7 2 7 3 8 6 7 10 7 16 7 23 7 29 7 33 8 35 7 35 7 34 7 32 7 30 7 30 7 30 8 29 7 28 7 27 7 26 7 23 7 20 8 17 7 13 7 11 7 7 7 3 7 2 8 1 7 0 7 1 7 0 7-1 7-1 8-2 7-2 7-2 7-3 5-2 12-5 13-5 12-5 13-5 12-6 13-7 13-7 12-8 13-9 12-10 13-11 12-13 13-14 12-16 13-16 12-18 13-19 12-20 13-20 12-19 13-19 13-18 12-17 13-18 12-18 13-17 12-16 13-14 12-13 13-10 12-9 13-9 12-9 13-9 12-9 13-8 13-8 12-8 13-9 12-9 13-8 12-9 13-9 12-9 13-9 12-9 13-8 12-9 13-9 12-9 13-8 13-8 12-7 13-6 12-7 13-5 12-4 13-4 12-4 13-4 12-2 13-1 12-1 13 0 12 0 13 1 12 2 13 2 13 2 12 2 13 3 12 3 13 4 12 4 13 5 12 5 13 7 12 8 13 8 12 8 13 8 12 8 13 6 13 2 12-9 13-13 12-4 13 1 12 4 13 5 12 4 13 3 12-6 13-11 12-20 13-23 12-16 13-11 13-10 12-8 13-7 12-8 13 0 12 4 13 8 12 12 13 12 12 13 13 12 12 11 13 7 12 2 13-3 13-7 3-3 9-9 9-9 9-11 9-11 9-10 9-11 9-9 9-9 9-7 9-5 9 0 9 1 8 3 9 2 9 4 9 4 9 6 9 6 9 12 9 51 9 79 9 84 9 67 9 25 9-11 9-25 9-34 9-34 9-29 9-20 9-19 9-18 9-18 8-16 9-16 9-14 9-12 9-10 9-9 9-5 9 0 9 1 9 1 9 1 9 2 9 3 9 3 9 4 9 5 9 6 9 40 9 89 9 90 9 45 8-9 9-27 9-38 9-44 9-43 9-35 9-22 9-6 9 0 9 6 9 14 9 54 9 74 9 59 9 7 9-74 9-74 9-6 9 4 9 8 9 9 8 12 9 13 9 14 9 16 9 15 9 16 9 14 9 14 9 13 9 13 9 13 9 13 9 13 9 13 9 14 9 13 9 14 9 15 9 14 9 14 3 5 0 706"/>
<path transform="scale(0.87828)" stroke-width="2.40" d="M0 3220l0-1130 56 0 13 1 12 2 13 2 12 1 13 1 12-1 13 0 12 1 13 1 12 3 13 2 12 1 13 0 12 1 13 1 13 1 12 2 13 1 12 1 13 1 12 2 13 3 12 2 13 2 12 1 13 0 12 1 13 2 12 2 13 3 13 2 12 2 13 1 12 2 13 2 12 2 13 2 12 3 13 2 12 2 13 2 12 1 13 2 12 1 13 2 13 1 12 2 13 3 12 3 13 3 12 1 13 1 12 1 13 1 12 3 13 3 12 3 13 3 12 2 13 1 13 2 12 3 13 2 12 3 13 3 12 3 13 4 12 4 13 4 12 3 13 3 12 2 13 3 12 3 13 2 12 1 13-2 13-8 12-10 13-10 12-10 13-8 12-9 13-12 12-14 13-12 12-9 13-3 12-3 13-2 12-3 13-2 13-3 12-1 13-1 12 0 13-1 12-1 13 0 12 0 13 0 12 1 13 0 12 0 13-1 12-1 13 0 13 1 12 0 13 1 12-1 13-1 12-1 13 0 12 1 13 0 12 1 13 0 12 0 13 0 12 1 13 1 13 0 12 0 13-1 12 0 13 1 12 0 13 1 12 0 13 0 12 0 13 0 12 1 13 2 9 1 6 1 6 0 6 0 6 1 6 0 6 1 6 1 6 3 6 8 6 14 6 17 5 13 6 0 6-17 6-18 6-10 6-3 6 0 6 1 6 1 6 0 6 1 6 1 6 2 6 1 6 2 6 1 6 2 6 1 6 2 6 2 6 2 6 3 6 3 6 5 6 6 6 6 6 5 6 4 6 3 6-1 6-4 6-5 5-5 6-3 6-3 6-1 6 0 6 0 6 1 13 2 12 1 5 1 19 3 19 2 19 2 20 3 19 3 19 2 19 2 19 3 19 2 19 3 19 1 19 2 19 3 19 2 20 3 19 2 19 2 19 3 19 2 19 1 19 2 19 3 19 2 19 1 20 2 19 2 19 3 19 2 19 1 19 2 19 3 19 1 19 1 19 3 20 2 19 2 19 1 19 2 19 2 19 2 12 0 7 1 7 0 7 0 8 1 7 0 7 1 7 2 7 3 7 5 8 9 7 10 7 12 7 9 7 5 7-3 8-11 7-16 7-15 7-11 7-7 7-5 8-3 7-3 7-4 7-3 18-9 18-7 18-6 18-5 18-4 17-3 18-3 18-2 18-3 18-2 18-1 18-2 18-2 18-2 18 1 17 2 12 3 8 1 7 2 7 2 7 2 7 2 7 3 8 6 7 10 7 16 7 23 7 29 7 33 8 35 7 35 7 34 7 32 7 30 7 30 7 30 8 29 7 28 7 27 7 26 7 23 7 20 8 17 7 13 7 11 7 7 7 3 7 2 8 1 7 0 7 1 7 0 7-1 7-1 8-2 7-2 7-2 7-3 5-2 12-5 13-5 12-5 13-5 12-6 13-7 13-7 12-8 13-9 12-10 13-11 12-13 13-14 12-16 13-16 12-18 13-19 12-20 13-20 12-19 13-19 13-18 12-17 13-18 12-18 13-17 12-16 13-14 12-13 13-10 12-9 13-9 12-9 13-9 12-9 13-8 13-8 12-8 13-9 12-9 13-8 12-9 13-9 12-9 13-9 12-9 13-8 12-9 13-9 12-9 13-8 13-8 12-7 13-6 12-7 13-5 12-4 13-4 12-4 13-4 12-2 13-1 12-1 13 0 12 0 13 1 12 2 13 2 13 2 12 2 13 3 12 3 13 4 12 4 13 4 12 6 13 7 12 7 13 8 12 8 13 8 12 7 13 6 13 3 12-9 13-12 12-4 13 1 12 4 13 4 12 4 13 2 12-5 13-12 12-20 13-22 12-16 13-11 13-9 12-8 13-7 12-8 13 1 12 4 13 8 12 11 13 13 12 13 13 12 12 11 13 7 12 3 13-3 13-7 3-3 9-9 9-10 9-10 9-12 9-11 9-10 9-10 9-9 9-7 9-5 9 1 9 1 8 2 9 3 9 3 9 5 9 5 9 7 9 13 9 53 9 82 9 87 9 67 9 24 9-12 9-27 9-35 9-36 9-29 9-21 9-19 9-18 9-18 8-17 9-15 9-15 9-12 9-11 9-8 9-5 9 0 9 0 9 1 9 1 9 2 9 3 9 3 9 4 9 5 9 5 9 37 9 90 9 95 9 52 8-8 9-28 9-40 9-46 9-45 9-37 9-23 9-6 9 0 9 5 9 15 9 55 9 77 9 61 9 6 9-76 9-76 9-6 9 4 9 8 9 9 8 12 9 13 9 15 9 15 9 16 9 16 9 14 9 14 9 13 9 13 9 13 9 13 9 13 9 14 9 13 9 14 9 14 9 15 9 14 9 14 3 5 0 696"/>
<path transform="scale(0.88007)" stroke-width="2.43" d="M0 3220l0-1124 56 0 13 1 12 2 13 2 12 2 13 0 12 0 13 0 12 0 13 2 12 2 13 2 12 1 13 1 12 1 13 0 13 2 12 1 13 1 12 1 13 2 12 2 13 2 12 3 13 1 12 1 13 1 12 0 13 2 12 3 13 3 13 2 12 2 13 1 12 2 13 1 12 3 13 2 12 3 13 2 12 1 13 2 12 2 13 2 12 1 13 2 13 1 12 2 13 3 12 4 13 2 12 2 13 0 12 1 13 2 12 2 13 3 12 4 13 2 12 2 13 2 13 2 12 2 13 3 12 3 13 3 12 3 13 4 12 4 13 4 12 3 13 3 12 2 13 3 12 3 13 3 12 1 13-3 13-8 12-11 13-10 12-9 13-8 12-10 13-12 12-13 13-13 12-8 13-4 12-2 13-3 12-2 13-3 13-2 12-2 13-1 12 0 13-1 12 0 13-1 12 0 13 0 12 1 13 0 12 0 13-1 12-1 13 0 13 1 12 1 13 0 12-1 13-1 12 0 13-1 12 1 13 1 12 0 13 0 12 0 13 0 12 1 13 1 13 0 12 0 13 0 12 0 13 0 12 1 13 0 12 1 13 0 12-1 13 1 12 1 13 1 9 1 6 1 6 0 6 1 6 0 6 0 6 1 6 1 6 4 6 8 6 14 6 17 5 13 6 0 6-17 6-18 6-10 6-3 6 0 6 0 6 1 6 1 6 1 6 1 6 1 6 1 6 2 6 1 6 2 6 2 6 1 6 2 6 2 6 3 6 4 6 5 6 5 6 6 6 6 6 4 6 3 6-1 6-4 6-5 5-5 6-4 6-2 6-1 6-1 6 1 6 0 13 2 12 2 5 0 19 3 19 2 19 3 20 2 19 3 19 2 19 2 19 3 19 3 19 2 19 2 19 2 19 2 19 3 20 2 19 2 19 3 19 2 19 2 19 1 19 2 19 3 19 2 19 2 20 1 19 2 19 3 19 2 19 2 19 2 19 2 19 1 19 2 19 2 20 2 19 2 19 2 19 1 19 2 19 2 12 1 7 0 7 0 7 1 8 0 7 1 7 1 7 1 7 4 7 5 8 9 7 11 7 12 7 10 7 4 7-3 8-12 7-16 7-15 7-12 7-7 7-4 8-4 7-3 7-3 7-4 18-8 18-8 18-6 18-5 18-4 17-3 18-3 18-2 18-2 18-2 18-2 18-2 18-1 18-2 18 0 17 2 12 3 8 2 7 1 7 2 7 2 7 2 7 3 8 6 7 10 7 16 7 23 7 30 7 32 8 35 7 35 7 34 7 32 7 30 7 31 7 29 8 30 7 28 7 27 7 25 7 23 7 20 8 17 7 14 7 10 7 7 7 4 7 1 8 1 7 1 7 0 7 0 7-1 7-1 8-2 7-2 7-2 7-3 5-1 12-5 13-5 12-6 13-5 12-6 13-7 13-7 12-8 13-9 12-10 13-11 12-13 13-14 12-15 13-17 12-18 13-19 12-20 13-20 12-19 13-19 13-18 12-17 13-18 12-17 13-17 12-17 13-14 12-13 13-10 12-9 13-9 12-9 13-9 12-8 13-8 13-9 12-8 13-9 12-9 13-8 12-8 13-9 12-10 13-9 12-9 13-8 12-9 13-9 12-9 13-8 13-8 12-6 13-7 12-6 13-6 12-4 13-4 12-4 13-3 12-3 13-1 12-1 13 0 12 0 13 1 12 2 13 2 13 2 12 2 13 3 12 4 13 3 12 4 13 4 12 6 13 7 12 7 13 7 12 8 13 8 12 7 13 5 13 3 12-8 13-12 12-4 13 2 12 3 13 4 12 4 13 2 12-6 13-12 12-19 13-21 12-16 13-11 13-9 12-8 13-7 12-7 13 1 12 4 13 8 12 11 13 13 12 13 13 12 12 11 13 8 12 3 13-2 13-8 3-3 9-9 9-10 9-11 9-11 9-12 9-10 9-10 9-9 9-7 9-5 9 0 9 2 8 2 9 3 9 3 9 5 9 6 9 7 9 13 9 56 9 85 9 89 9 68 9 22 9-13 9-29 9-37 9-37 9-29 9-21 9-19 9-19 9-18 8-17 9-16 9-14 9-13 9-10 9-9 9-5 9-1 9 1 9 1 9 1 9 2 9 2 9 3 9 4 9 5 9 5 9 34 9 90 9 100 9 58 8-6 9-28 9-42 9-48 9-47 9-40 9-24 9-6 9 0 9 5 9 14 9 56 9 80 9 64 9 6 9-79 9-77 9-7 9 5 9 7 9 10 8 12 9 13 9 15 9 15 9 16 9 16 9 15 9 14 9 12 9 14 9 13 9 13 9 13 9 14 9 14 9 14 9 14 9 14 9 14 9 15 3 5 0 685"/>
<path transform="scale(0.88186)" stroke-width="2.46" d="M0 3220l0-1117 56 0 13 1 12 1 13 3 12 1 13 1 12-1 13 0 12 1 13 1 12 3 13 2 12 1 13 1 12 0 13 1 13 1 12 2 13 1 12 1 13 2 12 2 13 2 12 3 13 1 12 1 13 0 12 1 13 2 12 3 13 3 13 2 12 2 13 1 12 2 13 1 12 3 13 2 12 3 13 2 12 2 13 2 12 2 13 1 12 2 13 1 13 1 12 3 13 3 12 3 13 3 12 1 13 1 12 1 13 1 12 3 13 3 12 3 13 3 12 2 13 2 13 2 12 2 13 3 12 3 13 3 12 4 13 3 12 4 13 4 12 4 13 2 12 3 13 2 12 3 13 3 12 1 13-3 13-8 12-11 13-10 12-10 13-8 12-9 13-12 12-14 13-12 12-9 13-4 12-2 13-2 12-3 13-2 13-3 12-1 13-1 12 0 13-1 12-1 13-1 12 0 13 1 12 0 13 1 12-1 13 0 12-1 13 0 13 0 12 1 13 1 12-1 13-1 12-1 13 0 12 0 13 1 12 1 13 0 12 0 13 0 12 1 13 0 13 1 12 0 13-1 12 0 13 0 12 1 13 1 12 0 13 0 12 0 13 0 12 1 13 2 9 1 6 1 6 0 6 0 6 1 6 0 6 0 6 2 6 3 6 8 6 15 6 17 5 13 6 0 6-17 6-19 6-10 6-3 6 0 6 1 6 0 6 1 6 1 6 1 6 2 6 1 6 2 6 1 6 2 6 1 6 2 6 2 6 2 6 3 6 4 6 5 6 5 6 7 6 5 6 5 6 2 6 0 6-4 6-6 5-5 6-4 6-3 6-1 6 0 6 0 6 1 13 1 12 2 5 1 19 3 19 2 19 2 20 3 19 3 19 2 19 2 19 2 19 3 19 3 19 1 19 2 19 3 19 2 20 2 19 3 19 2 19 3 19 1 19 2 19 2 19 2 19 3 19 1 20 2 19 2 19 3 19 1 19 2 19 2 19 2 19 2 19 1 19 2 20 3 19 2 19 1 19 2 19 2 19 2 12 0 7 0 7 1 7 0 8 1 7 0 7 1 7 2 7 4 7 6 8 9 7 11 7 12 7 10 7 5 7-4 8-13 7-16 7-16 7-11 7-7 7-5 8-3 7-4 7-3 7-3 18-9 18-7 18-6 18-5 18-4 17-3 18-3 18-3 18-2 18-2 18-2 18-1 18-2 18-2 18 0 17 3 12 2 8 2 7 2 7 2 7 2 7 2 7 2 8 6 7 11 7 16 7 23 7 29 7 33 8 35 7 35 7 34 7 31 7 31 7 30 7 30 8 29 7 28 7 27 7 26 7 23 7 20 8 17 7 13 7 11 7 7 7 3 7 2 8 1 7 0 7 1 7-1 7 0 7-1 8-2 7-2 7-2 7-3 5-2 12-5 13-5 12-5 13-6 12-6 13-6 13-7 12-8 13-9 12-10 13-11 12-13 13-14 12-16 13-16 12-18 13-19 12-20 13-20 12-20 13-18 13-18 12-17 13-18 12-18 13-17 12-16 13-15 12-12 13-10 12-9 13-9 12-9 13-9 12-9 13-8 13-8 12-9 13-8 12-9 13-8 12-9 13-9 12-9 13-9 12-9 13-9 12-8 13-9 12-9 13-9 13-7 12-7 13-6 12-7 13-5 12-4 13-4 12-4 13-4 12-2 13-2 12 0 13 0 12 0 13 1 12 2 13 2 13 2 12 2 13 3 12 3 13 4 12 3 13 5 12 5 13 7 12 7 13 6 12 8 13 8 12 7 13 5 13 2 12-7 13-11 12-3 13 1 12 3 13 4 12 3 13 2 12-6 13-12 12-19 13-21 12-15 13-11 13-9 12-7 13-7 12-7 13 1 12 4 13 8 12 11 13 13 12 13 13 13 12 11 13 7 12 4 13-2 13-7 3-3 9-9 9-10 9-12 9-12 9-11 9-11 9-10 9-9 9-7 9-5 9 0 9 1 8 3 9 3 9 3 9 5 9 6 9 7 9 14 9 59 9 88 9 91 9 69 9 20 9-14 9-31 9-38 9-38 9-30 9-21 9-20 9-19 9-18 8-17 9-16 9-15 9-13 9-10 9-8 9-6 9-1 9 1 9 1 9 1 9 1 9 3 9 3 9 4 9 4 9 5 9 30 9 92 9 104 9 64 8-4 9-28 9-44 9-50 9-50 9-41 9-25 9-7 9 0 9 5 9 14 9 57 9 83 9 67 9 5 9-82 9-79 9-6 9 4 9 8 9 10 8 12 9 13 9 15 9 15 9 16 9 16 9 15 9 14 9 13 9 13 9 14 9 13 9 13 9 14 9 14 9 14 9 14 9 15 9 14 9 15 3 5 0 674"/>
<path transform="scale(0.88365)" stroke-width="2.48" d="M0 3220l0-1111 56 0 13 1 12 2 13 2 12 2 13 1 12-1 13 0 12 1 13 1 12 3 13 2 12 1 13 1 12 0 13 1 13 1 12 2 13 1 12 1 13 2 12 2 13 2 12 3 13 1 12 1 13 1 12 0 13 2 12 3 13 3 13 2 12 2 13 1 12 2 13 2 12 2 13 3 12 2 13 2 12 2 13 2 12 2 13 2 12 1 13 1 13 2 12 2 13 3 12 4 13 2 12 2 13 1 12 0 13 2 12 3 13 3 12 3 13 3 12 2 13 2 13 2 12 3 13 2 12 4 13 3 12 3 13 4 12 4 13 4 12 3 13 3 12 3 13 2 12 3 13 3 12 1 13-3 13-9 12-11 13-10 12-10 13-8 12-9 13-13 12-13 13-12 12-9 13-4 12-2 13-2 12-3 13-3 13-2 12-2 13 0 12-1 13 0 12-1 13-1 12 0 13 1 12 0 13 1 12-1 13 0 12-1 13 0 13 0 12 1 13 0 12 0 13-1 12-1 13 0 12 0 13 1 12 1 13 0 12 0 13 0 12 1 13 0 13 1 12 0 13-1 12 0 13 0 12 1 13 1 12 0 13 0 12 0 13 0 12 1 13 2 9 1 6 0 6 1 6 0 6 1 6 0 6 0 6 2 6 3 6 8 6 15 6 18 5 13 6 0 6-17 6-19 6-11 6-3 6 0 6 1 6 0 6 1 6 1 6 1 6 1 6 2 6 1 6 2 6 2 6 1 6 2 6 2 6 2 6 3 6 4 6 5 6 6 6 6 6 6 6 5 6 2 6-1 6-4 6-5 5-6 6-4 6-3 6-1 6 0 6 0 6 1 13 1 12 2 5 1 19 3 19 2 19 2 20 3 19 3 19 2 19 2 19 2 19 3 19 3 19 1 19 2 19 3 19 2 20 2 19 3 19 2 19 3 19 1 19 2 19 2 19 2 19 3 19 1 20 2 19 2 19 2 19 2 19 2 19 2 19 2 19 2 19 1 19 2 20 3 19 2 19 1 19 2 19 2 19 1 12 1 7 0 7 1 7 0 8 0 7 1 7 1 7 2 7 4 7 7 8 9 7 12 7 12 7 10 7 4 7-4 8-13 7-17 7-16 7-11 7-8 7-4 8-3 7-4 7-3 7-3 18-9 18-7 18-6 18-5 18-4 17-3 18-3 18-3 18-2 18-2 18-2 18-1 18-2 18-2 18 0 17 3 12 2 8 2 7 2 7 2 7 2 7 1 7 3 8 6 7 11 7 16 7 23 7 29 7 33 8 34 7 36 7 34 7 31 7 31 7 30 7 30 8 29 7 28 7 27 7 26 7 23 7 20 8 16 7 14 7 11 7 7 7 3 7 1 8 2 7 0 7 0 7 0 7 0 7-1 8-2 7-2 7-2 7-3 5-2 12-5 13-5 12-5 13-6 12-6 13-6 13-7 12-8 13-9 12-10 13-11 12-13 13-14 12-16 13-16 12-18 13-19 12-20 13-20 12-20 13-18 13-18 12-18 13-17 12-18 13-17 12-16 13-15 12-12 13-10 12-9 13-9 12-9 13-9 12-9 13-8 13-8 12-9 13-8 12-9 13-9 12-8 13-9 12-9 13-9 12-9 13-9 12-8 13-9 12-9 13-9 13-7 12-7 13-7 12-6 13-5 12-4 13-4 12-4 13-4 12-3 13-1 12 0 13 0 12 0 13 1 12 2 13 2 13 2 12 2 13 3 12 3 13 4 12 3 13 4 12 6 13 6 12 7 13 6 12 7 13 8 12 6 13 5 13 3 12-7 13-10 12-3 13 2 12 3 13 3 12 3 13 2 12-7 13-13 12-18 13-20 12-15 13-11 13-8 12-8 13-6 12-6 13 0 12 4 13 8 12 11 13 13 12 14 13 13 12 11 13 8 12 4 13-2 13-7 3-3 9-9 9-11 9-12 9-12 9-12 9-11 9-10 9-9 9-7 9-5 9 1 9 1 8 2 9 3 9 4 9 5 9 6 9 7 9 15 9 61 9 91 9 94 9 69 9 19 9-16 9-32 9-40 9-39 9-30 9-21 9-21 9-19 9-19 8-17 9-16 9-15 9-13 9-10 9-8 9-6 9-2 9 1 9 1 9 1 9 1 9 3 9 3 9 3 9 5 9 5 9 27 9 91 9 108 9 70 8 0 9-29 9-45 9-52 9-53 9-43 9-27 9-6 9 0 9 4 9 14 9 58 9 86 9 69 9 5 9-84 9-80 9-7 9 4 9 8 9 10 8 12 9 13 9 15 9 16 9 16 9 16 9 15 9 14 9 13 9 14 9 13 9 13 9 14 9 14 9 14 9 14 9 14 9 15 9 14 9 15 3 5 0 663"/>
<path transform="scale(0.88544)" stroke-width="2.51" d="M0 3220l0-1104 56 0 13 1 12 2 13 2 12 2 13 1 12-1 13 0 12 1 13 1 12 3 13 2 12 1 13 1 12 0 13 1 13 1 12 2 13 1 12 2 13 1 12 2 13 3 12 2 13 2 12 1 13 0 12 1 13 1 12 3 13 3 13 3 12 2 13 1 12 1 13 2 12 3 13 2 12 3 13 2 12 2 13 2 12 2 13 2 12 1 13 1 13 2 12 2 13 3 12 4 13 3 12 1 13 1 12 1 13 1 12 3 13 3 12 4 13 3 12 2 13 2 13 2 12 2 13 3 12 3 13 4 12 3 13 4 12 4 13 4 12 3 13 3 12 3 13 2 12 3 13 3 12 2 13-4 13-9 12-11 13-11 12-10 13-8 12-9 13-12 12-14 13-12 12-9 13-4 12-2 13-2 12-3 13-2 13-3 12-1 13-1 12 0 13-1 12-1 13-1 12 0 13 1 12 1 13 0 12 0 13-1 12-1 13 0 13 0 12 1 13 1 12-1 13-1 12-1 13 0 12 0 13 1 12 1 13 0 12 0 13 0 12 1 13 1 13 0 12 0 13-1 12 0 13 0 12 1 13 1 12 0 13 0 12 0 13 0 12 1 13 2 9 1 6 1 6 0 6 1 6 0 6 0 6 1 6 1 6 3 6 9 6 14 6 18 5 14 6 0 6-18 6-19 6-10 6-3 6-1 6 1 6 0 6 1 6 1 6 1 6 2 6 1 6 2 6 1 6 2 6 1 6 2 6 2 6 2 6 3 6 4 6 5 6 6 6 7 6 6 6 5 6 2 6-1 6-4 6-6 5-5 6-5 6-2 6-2 6 0 6 0 6 1 13 2 12 1 5 1 19 3 19 2 19 2 20 3 19 3 19 2 19 2 19 2 19 3 19 3 19 1 19 2 19 3 19 2 20 3 19 2 19 2 19 3 19 1 19 2 19 2 19 3 19 2 19 1 20 2 19 2 19 3 19 2 19 1 19 2 19 2 19 2 19 2 19 2 20 2 19 2 19 1 19 2 19 2 19 2 12 0 7 1 7 0 7 0 8 1 7 0 7 2 7 2 7 4 7 7 8 9 7 13 7 12 7 10 7 4 7-4 8-14 7-17 7-16 7-12 7-7 7-5 8-3 7-3 7-4 7-3 18-9 18-7 18-6 18-5 18-4 17-3 18-3 18-2 18-3 18-2 18-2 18-1 18-2 18-2 18 1 17 2 12 3 8 1 7 2 7 2 7 2 7 2 7 3 8 5 7 11 7 16 7 23 7 29 7 33 8 35 7 35 7 34 7 31 7 31 7 30 7 30 8 29 7 28 7 27 7 26 7 23 7 20 8 17 7 13 7 11 7 7 7 3 7 2 8 1 7 0 7 1 7 0 7-1 7-1 8-2 7-2 7-2 7-3 5-2 12-5 13-5 12-5 13-6 12-6 13-6 13-7 12-8 13-9 12-10 13-11 12-13 13-14 12-16 13-16 12-18 13-19 12-20 13-20 12-20 13-18 13-18 12-17 13-18 12-18 13-17 12-16 13-14 12-13 13-10 12-9 13-9 12-9 13-9 12-9 13-8 13-8 12-8 13-9 12-9 13-8 12-9 13-9 12-9 13-9 12-9 13-9 12-8 13-9 12-9 13-9 13-7 12-7 13-6 12-7 13-5 12-4 13-4 12-4 13-4 12-2 13-1 12-1 13 0 12 0 13 1 12 2 13 2 13 2 12 2 13 3 12 3 13 4 12 3 13 4 12 6 13 6 12 6 13 6 12 7 13 7 12 6 13 5 13 3 12-7 13-8 12-3 13 1 12 3 13 3 12 3 13 1 12-7 13-13 12-18 13-19 12-15 13-10 13-9 12-7 13-6 12-5 13 0 12 4 13 8 12 11 13 13 12 14 13 12 12 12 13 8 12 4 13-1 13-7 3-3 9-9 9-11 9-12 9-12 9-13 9-11 9-11 9-9 9-7 9-4 9 0 9 1 8 3 9 3 9 3 9 5 9 7 9 7 9 17 9 64 9 94 9 95 9 70 9 17 9-18 9-34 9-41 9-40 9-30 9-21 9-21 9-20 9-19 8-17 9-17 9-15 9-13 9-10 9-9 9-5 9-2 9 1 9 0 9 1 9 2 9 2 9 3 9 3 9 5 9 5 9 23 9 91 9 112 9 77 8 3 9-29 9-46 9-55 9-55 9-46 9-28 9-7 9 1 9 4 9 13 9 60 9 89 9 71 9 4 9-86 9-82 9-7 9 5 9 7 9 10 8 12 9 14 9 15 9 16 9 16 9 16 9 15 9 14 9 14 9 13 9 14 9 13 9 14 9 13 9 15 9 14 9 14 9 15 9 15 9 15 3 5 0 651"/>
<path transform="scale(0.88723)" stroke-width="2.54" d="M0 3220l0-1096 56 0 13 0 12 2 13 3 12 2 13 0 12 0 13-1 12 1 13 2 12 2 13 2 12 2 13 0 12 1 13 1 13 1 12 1 13 2 12 1 13 2 12 2 13 3 12 2 13 2 12 0 13 1 12 0 13 2 12 3 13 3 13 3 12 2 13 1 12 1 13 2 12 3 13 2 12 3 13 2 12 2 13 2 12 2 13 2 12 1 13 1 13 2 12 2 13 4 12 3 13 3 12 2 13 0 12 1 13 2 12 2 13 4 12 4 13 2 12 3 13 1 13 3 12 2 13 3 12 3 13 4 12 3 13 4 12 5 13 4 12 3 13 3 12 2 13 3 12 3 13 3 12 1 13-4 13-9 12-11 13-12 12-9 13-8 12-9 13-13 12-13 13-12 12-9 13-4 12-2 13-2 12-3 13-3 13-2 12-2 13-1 12 0 13 0 12-1 13-1 12 0 13 0 12 1 13 1 12-1 13-1 12-1 13 0 13 1 12 1 13 0 12 0 13-1 12-1 13-1 12 1 13 1 12 0 13 0 12 0 13 1 12 0 13 1 13 1 12-1 13 0 12 0 13 0 12 1 13 1 12 0 13 0 12-1 13 0 12 2 13 1 9 2 6 0 6 1 6 0 6 0 6 1 6 0 6 1 6 4 6 8 6 15 6 18 5 14 6 0 6-18 6-19 6-11 6-3 6 0 6 0 6 1 6 1 6 1 6 1 6 1 6 2 6 1 6 2 6 1 6 2 6 2 6 2 6 2 6 3 6 4 6 5 6 6 6 7 6 6 6 5 6 3 6-1 6-5 6-6 5-6 6-4 6-3 6-1 6 0 6 0 6 0 13 2 12 2 5 1 19 2 19 2 19 3 20 3 19 3 19 2 19 1 19 3 19 3 19 2 19 2 19 2 19 2 19 3 20 2 19 2 19 3 19 2 19 2 19 1 19 2 19 3 19 2 19 2 20 1 19 3 19 2 19 2 19 2 19 2 19 2 19 2 19 1 19 2 20 2 19 2 19 2 19 2 19 2 19 1 12 1 7 0 7 0 7 1 8 0 7 1 7 1 7 3 7 4 7 7 8 10 7 13 7 13 7 10 7 4 7-5 8-14 7-19 7-16 7-12 7-7 7-4 8-4 7-3 7-3 7-4 18-8 18-8 18-5 18-5 18-4 17-4 18-2 18-3 18-2 18-2 18-2 18-1 18-2 18-2 18 0 17 2 12 3 8 2 7 2 7 1 7 2 7 2 7 3 8 6 7 10 7 16 7 24 7 29 7 33 8 34 7 35 7 34 7 32 7 30 7 31 7 30 8 29 7 28 7 27 7 25 7 23 7 20 8 17 7 14 7 10 7 7 7 4 7 1 8 1 7 1 7 0 7 0 7-1 7-1 8-1 7-2 7-3 7-2 5-2 12-5 13-5 12-5 13-6 12-6 13-6 13-8 12-8 13-9 12-10 13-11 12-12 13-15 12-15 13-17 12-17 13-19 12-21 13-20 12-19 13-19 13-17 12-18 13-18 12-17 13-17 12-16 13-15 12-13 13-10 12-8 13-10 12-9 13-9 12-8 13-8 13-8 12-9 13-9 12-8 13-9 12-8 13-9 12-9 13-10 12-9 13-8 12-8 13-9 12-10 13-8 13-7 12-7 13-7 12-6 13-5 12-5 13-3 12-5 13-3 12-3 13-1 12 0 13-1 12 0 13 1 12 2 13 3 13 2 12 2 13 2 12 4 13 3 12 4 13 4 12 5 13 6 12 6 13 5 12 7 13 6 12 6 13 5 13 2 12-5 13-7 12-3 13 1 12 3 13 2 12 3 13 1 12-8 13-13 12-17 13-19 12-14 13-10 13-8 12-7 13-6 12-5 13 0 12 4 13 8 12 11 13 13 12 14 13 13 12 11 13 9 12 4 13 0 13-7 3-3 9-9 9-12 9-12 9-13 9-12 9-12 9-11 9-9 9-7 9-4 9 0 9 1 8 2 9 4 9 4 9 5 9 6 9 8 9 17 9 67 9 97 9 98 9 70 9 15 9-19 9-36 9-42 9-41 9-31 9-21 9-22 9-20 9-19 8-18 9-16 9-15 9-14 9-10 9-8 9-6 9-2 9 0 9 1 9 1 9 1 9 2 9 3 9 4 9 4 9 5 9 20 9 90 9 116 9 83 8 7 9-28 9-48 9-57 9-58 9-48 9-29 9-7 9 0 9 4 9 13 9 61 9 92 9 74 9 3 9-89 9-83 9-7 9 4 9 8 9 10 8 12 9 14 9 15 9 16 9 16 9 16 9 16 9 14 9 13 9 14 9 13 9 14 9 14 9 14 9 14 9 14 9 15 9 15 9 15 9 15 3 5 0 639"/>
<path transform="scale(0.88902)" stroke-width="2.57" d="M0 3220l0-1089 56 0 13 1 12 2 13 2 12 2 13 1 12 0 13-1 12 0 13 2 12 3 13 2 12 2 13 0 12 1 13 0 13 2 12 1 13 2 12 1 13 2 12 2 13 3 12 2 13 2 12 0 13 0 12 1 13 2 12 3 13 3 13 3 12 2 13 1 12 1 13 2 12 3 13 2 12 3 13 2 12 2 13 2 12 2 13 2 12 1 13 2 13 1 12 3 13 3 12 4 13 3 12 1 13 1 12 1 13 1 12 3 13 4 12 4 13 3 12 2 13 2 13 2 12 2 13 4 12 3 13 3 12 4 13 4 12 4 13 4 12 4 13 3 12 2 13 3 12 3 13 3 12 1 13-4 13-9 12-12 13-12 12-9 13-8 12-9 13-13 12-13 13-13 12-8 13-4 12-2 13-2 12-3 13-3 13-3 12-1 13-1 12 0 13 0 12-1 13-1 12-1 13 1 12 1 13 1 12-1 13-1 12-1 13 0 13 1 12 1 13 0 12 0 13-2 12-1 13 0 12 1 13 1 12 0 13 0 12 0 13 0 12 1 13 1 13 1 12-1 13 0 12-1 13 1 12 1 13 1 12 0 13-1 12 0 13 0 12 1 13 2 9 2 6 0 6 1 6 0 6 0 6 0 6 1 6 1 6 4 6 8 6 15 6 19 5 14 6 0 6-18 6-20 6-11 6-3 6 0 6 0 6 1 6 1 6 0 6 2 6 1 6 1 6 2 6 2 6 1 6 2 6 2 6 2 6 2 6 3 6 4 6 5 6 7 6 7 6 6 6 5 6 2 6-1 6-4 6-6 5-6 6-5 6-3 6-1 6-1 6 1 6 0 13 2 12 2 5 1 19 2 19 2 19 3 20 2 19 3 19 2 19 2 19 3 19 3 19 2 19 2 19 2 19 2 19 3 20 2 19 2 19 3 19 2 19 2 19 1 19 2 19 3 19 2 19 2 20 1 19 2 19 3 19 2 19 2 19 2 19 2 19 1 19 2 19 2 20 2 19 2 19 2 19 1 19 2 19 2 12 1 7 0 7 0 7 1 8 0 7 1 7 1 7 3 7 5 7 7 8 11 7 12 7 14 7 10 7 3 7-5 8-15 7-18 7-17 7-12 7-7 7-4 8-4 7-3 7-3 7-4 18-8 18-8 18-6 18-5 18-4 17-3 18-3 18-2 18-2 18-3 18-1 18-2 18-1 18-2 18 0 17 2 12 3 8 2 7 1 7 2 7 2 7 2 7 3 8 6 7 10 7 16 7 23 7 30 7 32 8 35 7 35 7 34 7 32 7 30 7 31 7 29 8 30 7 28 7 27 7 25 7 23 7 20 8 17 7 14 7 10 7 7 7 4 7 1 8 1 7 1 7 0 7 0 7-1 7-1 8-2 7-2 7-2 7-3 5-2 12-4 13-5 12-5 13-6 12-6 13-7 13-7 12-8 13-9 12-10 13-11 12-13 13-14 12-15 13-17 12-17 13-20 12-20 13-20 12-19 13-19 13-17 12-18 13-18 12-17 13-17 12-16 13-15 12-13 13-10 12-9 13-9 12-9 13-9 12-8 13-8 13-9 12-8 13-9 12-9 13-8 12-8 13-9 12-10 13-9 12-9 13-8 12-9 13-9 12-9 13-8 13-8 12-6 13-7 12-6 13-5 12-5 13-4 12-4 13-4 12-2 13-1 12-1 13 0 12 0 13 1 12 2 13 3 13 1 12 2 13 3 12 3 13 4 12 3 13 4 12 5 13 6 12 5 13 6 12 6 13 6 12 6 13 4 13 3 12-5 13-6 12-2 13 1 12 2 13 2 12 2 13 1 12-8 13-13 12-18 13-17 12-14 13-10 13-8 12-7 13-5 12-5 13 0 12 4 13 8 12 11 13 13 12 14 13 13 12 12 13 9 12 5 13 0 13-7 3-3 9-9 9-12 9-13 9-13 9-13 9-12 9-11 9-9 9-7 9-4 9 0 9 1 8 3 9 3 9 4 9 5 9 6 9 9 9 18 9 70 9 100 9 100 9 70 9 13 9-21 9-37 9-44 9-42 9-30 9-22 9-22 9-20 9-19 8-18 9-17 9-16 9-13 9-11 9-8 9-5 9-3 9 1 9 0 9 1 9 1 9 2 9 3 9 4 9 4 9 4 9 18 9 88 9 119 9 90 8 12 9-29 9-49 9-59 9-60 9-51 9-31 9-7 9 0 9 4 9 13 9 62 9 95 9 76 9 3 9-91 9-85 9-7 9 4 9 8 9 10 8 12 9 14 9 15 9 16 9 17 9 16 9 15 9 15 9 13 9 14 9 14 9 13 9 14 9 14 9 14 9 15 9 15 9 15 9 15 9 15 3 5 0 627"/>
<path transform="scale(0.89081)" stroke-width="2.59" d="M0 3220l0-1081 56 0 13 0 12 3 13 2 12 2 13 1 12-1 13 0 12 0 13 2 12 3 13 2 12 2 13 0 12 1 13 0 13 2 12 1 13 2 12 1 13 2 12 2 13 3 12 2 13 2 12 1 13 0 12 0 13 2 12 3 13 4 13 2 12 2 13 1 12 2 13 1 12 3 13 3 12 3 13 2 12 2 13 2 12 2 13 2 12 1 13 1 13 2 12 3 13 3 12 4 13 3 12 1 13 1 12 1 13 1 12 3 13 4 12 4 13 3 12 2 13 2 13 2 12 3 13 3 12 4 13 3 12 4 13 4 12 4 13 5 12 3 13 3 12 2 13 3 12 3 13 3 12 1 13-4 13-9 12-13 13-11 12-10 13-8 12-9 13-12 12-14 13-12 12-9 13-4 12-2 13-2 12-3 13-3 13-2 12-2 13-1 12 0 13 0 12-1 13-1 12 0 13 0 12 1 13 1 12-1 13-1 12-1 13 0 13 1 12 1 13 1 12-1 13-1 12-2 13 0 12 1 13 1 12 0 13 0 12 0 13 1 12 0 13 1 13 1 12 0 13-1 12 0 13 0 12 1 13 1 12 0 13 0 12-1 13 0 12 1 13 2 9 2 6 0 6 1 6 0 6 0 6 1 6 0 6 1 6 4 6 9 6 15 6 19 5 14 6 0 6-18 6-21 6-11 6-3 6 0 6 0 6 1 6 1 6 1 6 1 6 1 6 2 6 1 6 2 6 2 6 1 6 2 6 2 6 2 6 3 6 4 6 6 6 6 6 7 6 7 6 5 6 2 6-1 6-4 6-7 5-6 6-5 6-3 6-1 6 0 6 0 6 0 13 2 12 2 5 1 19 2 19 2 19 3 20 3 19 3 19 2 19 1 19 3 19 3 19 2 19 2 19 2 19 2 19 3 20 2 19 2 19 3 19 2 19 2 19 1 19 2 19 3 19 2 19 2 20 1 19 3 19 2 19 2 19 2 19 2 19 2 19 2 19 1 19 2 20 2 19 2 19 2 19 2 19 2 19 1 12 1 7 0 7 1 7 0 8 0 7 1 7 2 7 2 7 5 7 8 8 11 7 13 7 14 7 10 7 3 7-5 8-16 7-19 7-17 7-12 7-7 7-4 8-4 7-3 7-3 7-4 18-8 18-8 18-5 18-5 18-4 17-4 18-2 18-3 18-2 18-2 18-2 18-1 18-2 18-2 18 0 17 3 12 2 8 2 7 2 7 1 7 2 7 2 7 3 8 6 7 10 7 16 7 24 7 29 7 33 8 34 7 35 7 34 7 32 7 31 7 30 7 30 8 29 7 28 7 27 7 26 7 22 7 20 8 17 7 14 7 10 7 7 7 4 7 1 8 1 7 1 7 0 7 0 7-1 7-1 8-1 7-2 7-3 7-2 5-2 12-5 13-5 12-5 13-6 12-6 13-6 13-8 12-8 13-9 12-9 13-12 12-12 13-15 12-15 13-17 12-17 13-19 12-21 13-20 12-19 13-19 13-17 12-18 13-18 12-17 13-17 12-16 13-15 12-13 13-10 12-8 13-9 12-10 13-9 12-8 13-8 13-8 12-9 13-9 12-8 13-9 12-8 13-9 12-9 13-10 12-9 13-8 12-8 13-9 12-10 13-8 13-7 12-7 13-7 12-6 13-5 12-4 13-4 12-5 13-3 12-3 13-1 12 0 13-1 12 0 13 1 12 3 13 2 13 2 12 2 13 2 12 4 13 3 12 3 13 4 12 5 13 5 12 6 13 5 12 5 13 6 12 6 13 4 13 2 12-4 13-5 12-2 13 1 12 2 13 2 12 2 13 0 12-8 13-14 12-16 13-17 12-13 13-10 13-8 12-7 13-5 12-4 13 0 12 4 13 8 12 11 13 13 12 14 13 13 12 12 13 9 12 6 13 0 13-7 3-3 9-9 9-12 9-13 9-13 9-14 9-12 9-12 9-9 9-7 9-3 9 0 9 1 8 2 9 3 9 5 9 5 9 6 9 9 9 20 9 73 9 103 9 102 9 70 9 11 9-23 9-39 9-45 9-43 9-30 9-23 9-21 9-21 9-20 8-18 9-17 9-16 9-13 9-11 9-8 9-5 9-3 9 0 9 0 9 1 9 2 9 2 9 2 9 4 9 4 9 4 9 15 9 86 9 122 9 97 8 17 9-28 9-51 9-61 9-63 9-53 9-33 9-7 9 0 9 4 9 12 9 63 9 98 9 79 9 2 9-93 9-87 9-7 9 5 9 7 9 10 8 13 9 14 9 15 9 16 9 17 9 16 9 15 9 15 9 14 9 13 9 14 9 14 9 14 9 14 9 14 9 15 9 15 9 15 9 15 9 15 3 6 0 614"/>
<path transform="scale(0.89260)" stroke-width="2.62" d="M0 3220l0-1073 56 0 13 0 12 3 13 3 12 2 13 0 12 0 13-1 12 0 13 2 12 3 13 3 12 1 13 1 12 0 13 1 13 1 12 2 13 1 12 1 13 2 12 3 13 2 12 3 13 2 12 0 13 0 12 1 13 2 12 3 13 3 13 3 12 2 13 1 12 1 13 2 12 3 13 3 12 2 13 3 12 2 13 2 12 2 13 2 12 1 13 1 13 2 12 3 13 3 12 4 13 3 12 2 13 0 12 1 13 2 12 3 13 4 12 4 13 3 12 2 13 2 13 2 12 3 13 3 12 4 13 3 12 4 13 4 12 5 13 4 12 4 13 3 12 2 13 3 12 3 13 3 12 1 13-4 13-10 12-13 13-12 12-9 13-8 12-10 13-12 12-13 13-13 12-9 13-3 12-3 13-2 12-2 13-3 13-3 12-2 13 0 12 0 13-1 12-1 13-1 12 0 13 1 12 1 13 0 12 0 13-1 12-1 13 0 13 0 12 2 13 0 12 0 13-2 12-1 13 0 12 0 13 1 12 1 13 0 12 0 13 0 12 1 13 1 13 0 12 0 13-1 12 0 13 0 12 1 13 1 12 1 13-1 12-1 13 1 12 1 13 2 9 1 6 1 6 1 6 0 6 0 6 0 6 1 6 1 6 3 6 9 6 16 6 19 5 14 6 0 6-18 6-21 6-11 6-3 6 0 6 0 6 1 6 0 6 1 6 1 6 2 6 1 6 2 6 1 6 2 6 2 6 2 6 1 6 3 6 3 6 4 6 6 6 6 6 8 6 6 6 5 6 3 6-1 6-5 6-7 5-6 6-5 6-3 6-1 6-1 6 0 6 1 13 2 12 2 5 0 19 3 19 2 19 2 20 3 19 3 19 2 19 2 19 2 19 3 19 3 19 2 19 1 19 3 19 2 20 3 19 2 19 2 19 3 19 2 19 1 19 2 19 3 19 2 19 1 20 2 19 2 19 3 19 2 19 1 19 2 19 2 19 2 19 2 19 2 20 2 19 2 19 1 19 2 19 2 19 2 12 0 7 1 7 0 7 0 8 1 7 1 7 1 7 3 7 6 7 8 8 11 7 14 7 13 7 10 7 4 7-6 8-17 7-19 7-17 7-12 7-7 7-5 8-3 7-3 7-4 7-3 18-9 18-7 18-6 18-5 18-4 17-3 18-3 18-2 18-3 18-2 18-1 18-2 18-2 18-2 18 1 17 2 12 3 8 1 7 2 7 2 7 2 7 2 7 3 8 5 7 11 7 16 7 23 7 29 7 33 8 35 7 35 7 34 7 32 7 30 7 30 7 30 8 29 7 29 7 27 7 25 7 23 7 20 8 17 7 13 7 11 7 7 7 3 7 2 8 1 7 0 7 1 7 0 7-1 7-1 8-2 7-2 7-2 7-3 5-2 12-5 13-5 12-5 13-5 12-6 13-7 13-7 12-8 13-9 12-10 13-11 12-13 13-14 12-16 13-16 12-18 13-19 12-20 13-20 12-20 13-18 13-18 12-17 13-18 12-18 13-17 12-16 13-14 12-13 13-10 12-9 13-9 12-9 13-9 12-9 13-8 13-8 12-8 13-9 12-9 13-8 12-9 13-8 12-10 13-9 12-9 13-8 12-9 13-9 12-9 13-9 13-7 12-7 13-6 12-7 13-5 12-4 13-4 12-4 13-4 12-3 13-1 12 0 13 0 12 0 13 1 12 2 13 2 13 2 12 2 13 3 12 3 13 3 12 4 13 3 12 5 13 5 12 5 13 5 12 5 13 5 12 5 13 4 13 3 12-3 13-5 12-1 13 1 12 2 13 2 12 1 13 0 12-9 13-14 12-16 13-16 12-13 13-9 13-8 12-7 13-4 12-4 13 0 12 4 13 8 12 11 13 13 12 14 13 14 12 12 13 9 12 6 13 1 13-7 3-3 9-10 9-11 9-14 9-14 9-13 9-13 9-12 9-9 9-7 9-3 9 0 9 1 8 2 9 3 9 5 9 5 9 7 9 8 9 22 9 76 9 106 9 104 9 70 9 9 9-25 9-40 9-47 9-44 9-30 9-23 9-22 9-21 9-20 8-18 9-18 9-15 9-14 9-11 9-8 9-5 9-3 9 0 9 0 9 1 9 1 9 2 9 3 9 3 9 4 9 4 9 12 9 85 9 124 9 103 8 23 9-27 9-52 9-64 9-65 9-56 9-34 9-8 9 0 9 4 9 12 9 63 9 102 9 82 9 1 9-96 9-88 9-8 9 5 9 8 9 10 8 13 9 14 9 15 9 16 9 17 9 16 9 16 9 15 9 13 9 14 9 14 9 14 9 14 9 14 9 15 9 14 9 16 9 15 9 15 9 15 3 6 0 601"/>
<path transform="scale(0.89439)" stroke-width="2.65" d="M0 3220l0-1065 56 0 13 1 12 2 13 3 12 2 13 1 12-1 13-1 12 1 13 2 12 3 13 2 12 2 13 0 12 1 13 0 13 2 12 1 13 2 12 1 13 2 12 2 13 3 12 3 13 2 12 0 13 0 12 1 13 2 12 3 13 3 13 3 12 2 13 1 12 1 13 2 12 3 13 3 12 3 13 2 12 2 13 2 12 2 13 2 12 2 13 1 13 1 12 3 13 4 12 4 13 3 12 2 13 0 12 1 13 1 12 4 13 4 12 4 13 3 12 2 13 2 13 3 12 2 13 4 12 3 13 4 12 4 13 4 12 5 13 4 12 4 13 2 12 3 13 3 12 3 13 3 12 1 13-4 13-11 12-13 13-12 12-10 13-7 12-10 13-12 12-13 13-13 12-9 13-4 12-2 13-2 12-2 13-4 13-2 12-2 13 0 12 0 13-1 12-1 13-1 12 0 13 1 12 1 13 0 12 0 13-1 12-1 13-1 13 1 12 2 13 0 12-1 13-1 12-1 13-1 12 1 13 1 12 1 13 0 12 0 13 0 12 1 13 1 13 0 12 0 13-1 12 0 13 0 12 1 13 1 12 1 13-1 12-1 13 0 12 2 13 2 9 1 6 1 6 1 6 0 6 0 6 0 6 0 6 2 6 3 6 9 6 16 6 19 5 15 6 0 6-19 6-21 6-11 6-3 6-1 6 1 6 0 6 1 6 1 6 1 6 1 6 2 6 2 6 1 6 2 6 2 6 1 6 2 6 3 6 3 6 4 6 6 6 7 6 7 6 7 6 5 6 3 6-1 6-5 6-7 5-7 6-5 6-3 6-1 6-1 6 0 6 1 13 2 12 1 5 1 19 3 19 2 19 2 20 3 19 3 19 2 19 2 19 2 19 3 19 3 19 1 19 2 19 3 19 2 20 2 19 3 19 2 19 3 19 1 19 2 19 2 19 3 19 2 19 1 20 2 19 2 19 3 19 2 19 1 19 2 19 2 19 2 19 1 19 3 20 2 19 2 19 1 19 2 19 2 19 2 12 0 7 1 7 0 7 0 8 1 7 1 7 1 7 4 7 5 7 9 8 12 7 14 7 13 7 10 7 4 7-7 8-17 7-20 7-17 7-12 7-7 7-5 8-3 7-3 7-4 7-3 18-9 18-7 18-6 18-5 18-4 17-3 18-3 18-2 18-3 18-2 18-2 18-1 18-2 18-2 18 0 17 3 12 3 8 1 7 2 7 2 7 2 7 2 7 2 8 6 7 11 7 16 7 23 7 29 7 33 8 35 7 35 7 34 7 31 7 31 7 30 7 30 8 29 7 28 7 27 7 26 7 23 7 20 8 17 7 13 7 11 7 7 7 3 7 2 8 1 7 0 7 1 7 0 7-1 7-1 8-2 7-2 7-2 7-3 5-2 12-5 13-5 12-5 13-6 12-6 13-6 13-7 12-8 13-9 12-10 13-11 12-13 13-14 12-16 13-16 12-18 13-19 12-20 13-20 12-20 13-18 13-18 12-17 13-18 12-18 13-17 12-16 13-15 12-12 13-10 12-9 13-9 12-9 13-9 12-9 13-8 13-8 12-8 13-9 12-9 13-8 12-9 13-8 12-10 13-10 12-8 13-9 12-8 13-9 12-9 13-9 13-7 12-7 13-6 12-7 13-5 12-4 13-4 12-4 13-4 12-3 13-1 12 0 13 0 12 0 13 1 12 2 13 2 13 2 12 2 13 3 12 3 13 3 12 3 13 4 12 4 13 5 12 5 13 4 12 5 13 5 12 5 13 3 13 3 12-3 13-3 12 0 13 1 12 1 13 1 12 1 13 0 12-10 13-14 12-15 13-15 12-13 13-9 13-8 12-6 13-4 12-4 13 1 12 3 13 8 12 11 13 14 12 13 13 14 12 12 13 10 12 6 13 1 13-6 3-3 9-9 9-13 9-13 9-15 9-14 9-13 9-12 9-9 9-7 9-3 9 0 9 1 8 2 9 4 9 4 9 6 9 6 9 9 9 23 9 79 9 110 9 106 9 69 9 7 9-26 9-42 9-49 9-44 9-30 9-23 9-23 9-21 9-20 8-19 9-18 9-16 9-13 9-11 9-9 9-5 9-3 9 0 9 1 9 0 9 1 9 2 9 3 9 3 9 4 9 4 9 9 9 82 9 127 9 109 8 30 9-27 9-53 9-66 9-68 9-58 9-36 9-8 9 0 9 3 9 12 9 64 9 105 9 85 9 0 9-98 9-90 9-8 9 5 9 8 9 10 8 13 9 14 9 15 9 17 9 16 9 17 9 16 9 15 9 13 9 14 9 14 9 14 9 15 9 14 9 14 9 15 9 15 9 16 9 15 9 16 3 5 0 588"/>
<path transform="scale(0.89618)" stroke-width="2.67" d="M0 3220l0-1057 56 0 13 1 12 3 13 3 12 2 13 1 12-1 13-1 12 1 13 2 12 3 13 2 12 2 13 0 12 1 13 0 13 2 12 1 13 2 12 1 13 2 12 3 13 3 12 2 13 2 12 0 13 0 12 1 13 2 12 3 13 4 13 3 12 1 13 1 12 2 13 2 12 2 13 3 12 3 13 3 12 2 13 2 12 2 13 2 12 1 13 1 13 2 12 3 13 4 12 4 13 3 12 2 13 0 12 1 13 2 12 3 13 4 12 4 13 3 12 3 13 2 13 2 12 3 13 4 12 3 13 4 12 4 13 4 12 5 13 4 12 4 13 3 12 2 13 3 12 3 13 4 12 1 13-5 13-11 12-13 13-12 12-10 13-8 12-9 13-12 12-14 13-13 12-9 13-3 12-2 13-2 12-3 13-3 13-3 12-2 13 0 12 0 13-1 12-1 13-1 12 0 13 1 12 1 13 1 12-1 13-1 12-1 13 0 13 1 12 1 13 0 12 0 13-2 12-1 13-1 12 1 13 1 12 1 13 0 12 0 13 0 12 1 13 1 13 1 12-1 13 0 12-1 13 0 12 2 13 1 12 0 13-1 12-1 13 0 12 2 13 2 9 2 6 0 6 1 6 0 6 0 6 0 6 1 6 1 6 4 6 9 6 15 6 20 5 15 6 0 6-19 6-21 6-12 6-3 6 0 6 0 6 1 6 0 6 1 6 1 6 2 6 1 6 2 6 2 6 1 6 2 6 2 6 2 6 2 6 3 6 5 6 6 6 7 6 7 6 7 6 5 6 3 6-1 6-5 6-7 5-7 6-5 6-4 6-1 6-1 6 1 6 0 13 2 12 2 5 0 19 3 19 2 19 2 20 3 19 3 19 2 19 2 19 2 19 4 19 2 19 2 19 1 19 3 19 2 20 3 19 2 19 3 19 2 19 2 19 1 19 2 19 3 19 2 19 2 20 1 19 2 19 3 19 2 19 1 19 2 19 2 19 2 19 2 19 2 20 2 19 2 19 2 19 1 19 2 19 2 12 1 7 0 7 0 7 1 8 0 7 1 7 2 7 3 7 6 7 9 8 12 7 15 7 14 7 10 7 3 7-8 8-17 7-20 7-18 7-12 7-7 7-5 8-3 7-3 7-4 7-3 18-9 18-7 18-6 18-5 18-4 17-3 18-3 18-2 18-3 18-2 18-1 18-2 18-2 18-2 18 1 17 2 12 3 8 2 7 1 7 2 7 2 7 2 7 3 8 6 7 10 7 16 7 23 7 30 7 32 8 35 7 35 7 34 7 32 7 30 7 30 7 30 8 30 7 28 7 27 7 25 7 23 7 20 8 17 7 13 7 11 7 7 7 3 7 2 8 1 7 1 7 0 7 0 7-1 7-1 8-2 7-2 7-2 7-3 5-2 12-5 13-4 12-6 13-5 12-6 13-7 13-7 12-8 13-9 12-10 13-11 12-13 13-14 12-16 13-16 12-18 13-19 12-20 13-20 12-20 13-18 13-18 12-17 13-18 12-18 13-16 12-17 13-14 12-13 13-10 12-9 13-9 12-9 13-9 12-9 13-8 13-8 12-8 13-9 12-9 13-8 12-8 13-9 12-10 13-9 12-9 13-8 12-9 13-9 12-9 13-9 13-7 12-7 13-6 12-6 13-6 12-4 13-3 12-5 13-4 12-3 13 0 12-1 13 0 12 0 13 1 12 2 13 3 13 1 12 2 13 3 12 3 13 3 12 3 13 4 12 4 13 5 12 4 13 4 12 4 13 4 12 5 13 4 13 2 12-1 13-2 12-1 13 1 12 1 13 1 12 0 13 0 12-10 13-15 12-14 13-15 12-11 13-10 13-7 12-6 13-4 12-3 13 0 12 4 13 8 12 11 13 13 12 14 13 14 12 13 13 9 12 7 13 1 13-5 3-3 9-10 9-12 9-14 9-15 9-15 9-13 9-12 9-10 9-6 9-3 9 0 9 1 8 2 9 3 9 5 9 5 9 7 9 9 9 25 9 82 9 113 9 108 9 69 9 4 9-28 9-44 9-49 9-45 9-31 9-23 9-23 9-21 9-20 8-20 9-17 9-16 9-14 9-12 9-8 9-5 9-3 9 0 9 0 9 1 9 1 9 2 9 2 9 3 9 4 9 4 9 8 9 78 9 129 9 115 8 37 9-26 9-54 9-68 9-71 9-61 9-38 9-8 9 0 9 3 9 12 9 64 9 109 9 87 9-1 9-100 9-92 9-7 9 4 9 8 9 11 8 12 9 15 9 15 9 17 9 16 9 17 9 16 9 15 9 14 9 14 9 14 9 14 9 14 9 15 9 14 9 15 9 16 9 15 9 16 9 15 3 5 0 575"/>
<path transform="scale(0.89797)" stroke-width="2.70" d="M0 3220l0-1048 56 0 13 1 12 3 13 3 12 3 13 0 12-1 13-1 12 1 13 2 12 3 13 3 12 1 13 1 12 0 13 0 13 2 12 1 13 2 12 2 13 1 12 3 13 3 12 3 13 2 12 0 13 0 12 0 13 2 12 4 13 3 13 3 12 2 13 1 12 1 13 2 12 3 13 3 12 3 13 3 12 2 13 2 12 2 13 2 12 1 13 1 13 2 12 3 13 4 12 4 13 4 12 1 13 1 12 0 13 2 12 3 13 5 12 4 13 3 12 3 13 2 13 2 12 3 13 4 12 3 13 4 12 4 13 5 12 4 13 5 12 4 13 2 12 3 13 3 12 3 13 4 12 1 13-5 13-12 12-13 13-13 12-10 13-7 12-9 13-13 12-13 13-13 12-9 13-4 12-2 13-2 12-2 13-4 13-3 12-1 13 0 12-1 13 0 12-1 13-1 12-1 13 1 12 2 13 1 12-1 13-1 12-2 13 0 13 1 12 2 13 0 12-1 13-1 12-2 13 0 12 1 13 1 12 1 13 0 12 0 13 0 12 1 13 1 13 0 12 0 13-1 12 0 13 0 12 1 13 1 12 1 13-1 12-1 13 0 12 1 13 3 9 1 6 1 6 1 6 0 6 0 6 0 6 0 6 1 6 4 6 9 6 16 6 20 5 15 6 0 6-19 6-21 6-12 6-3 6-1 6 1 6 0 6 1 6 1 6 1 6 1 6 2 6 2 6 1 6 2 6 2 6 2 6 1 6 3 6 3 6 5 6 6 6 7 6 7 6 7 6 6 6 2 6-1 6-5 6-7 5-7 6-6 6-3 6-2 6 0 6 0 6 1 13 1 12 2 5 1 19 3 19 2 19 2 20 3 19 3 19 2 19 2 19 2 19 3 19 3 19 1 19 2 19 2 19 3 20 2 19 3 19 2 19 3 19 1 19 1 19 3 19 2 19 3 19 1 20 2 19 2 19 3 19 2 19 1 19 2 19 2 19 2 19 1 19 2 20 3 19 2 19 1 19 2 19 2 19 1 12 1 7 1 7 0 7 0 8 1 7 1 7 2 7 3 7 7 7 9 8 13 7 14 7 14 7 10 7 3 7-8 8-18 7-21 7-17 7-12 7-8 7-4 8-3 7-4 7-3 7-3 18-9 18-7 18-6 18-5 18-4 17-3 18-3 18-3 18-2 18-2 18-2 18-1 18-2 18-2 18 0 17 3 12 2 8 2 7 2 7 2 7 2 7 1 7 3 8 6 7 11 7 16 7 23 7 29 7 33 8 35 7 35 7 34 7 31 7 31 7 30 7 30 8 29 7 28 7 27 7 26 7 23 7 20 8 16 7 14 7 10 7 7 7 4 7 1 8 1 7 1 7 0 7 0 7 0 7-1 8-2 7-2 7-3 7-2 5-2 12-5 13-5 12-5 13-6 12-6 13-6 13-7 12-9 13-8 12-10 13-11 12-13 13-15 12-15 13-17 12-17 13-19 12-20 13-21 12-19 13-18 13-18 12-17 13-18 12-18 13-17 12-16 13-15 12-12 13-10 12-9 13-9 12-10 13-9 12-8 13-8 13-8 12-9 13-9 12-8 13-9 12-8 13-9 12-9 13-10 12-9 13-8 12-8 13-9 12-9 13-9 13-7 12-7 13-7 12-6 13-5 12-4 13-4 12-4 13-4 12-3 13-1 12 0 13 0 12 0 13 1 12 2 13 2 13 2 12 2 13 2 12 4 13 3 12 3 13 3 12 4 13 5 12 4 13 3 12 3 13 5 12 4 13 3 13 2 12 0 13-1 12 1 13 0 12 1 13 0 12 0 13-1 12-10 13-15 12-14 13-13 12-12 13-9 13-7 12-6 13-3 12-3 13 1 12 3 13 8 12 11 13 13 12 14 13 14 12 13 13 10 12 7 13 2 13-5 3-3 9-10 9-13 9-14 9-15 9-15 9-14 9-12 9-10 9-7 9-2 9 0 9 1 8 2 9 4 9 4 9 6 9 7 9 9 9 26 9 86 9 116 9 110 9 68 9 2 9-30 9-45 9-52 9-45 9-30 9-24 9-23 9-22 9-20 8-20 9-18 9-16 9-14 9-12 9-8 9-5 9-3 9 0 9 0 9 0 9 1 9 2 9 3 9 3 9 3 9 4 9 6 9 74 9 132 9 121 8 44 9-25 9-55 9-70 9-74 9-63 9-40 9-9 9 0 9 3 9 11 9 66 9 112 9 89 9-1 9-103 9-93 9-8 9 5 9 8 9 11 8 12 9 15 9 15 9 17 9 17 9 16 9 16 9 16 9 14 9 14 9 14 9 14 9 14 9 15 9 15 9 15 9 15 9 16 9 16 9 15 3 5 0 561"/>
<path transform="scale(0.89976)" stroke-width="2.72" d="M0 3220l0-1039 56 0 13 1 12 3 13 4 12 2 13 1 12-1 13-1 12 0 13 2 12 3 13 3 12 2 13 0 12 0 13 1 13 1 12 2 13 2 12 1 13 2 12 3 13 3 12 3 13 2 12 0 13-1 12 1 13 2 12 3 13 4 13 4 12 1 13 1 12 1 13 2 12 3 13 3 12 3 13 3 12 2 13 2 12 3 13 1 12 2 13 1 13 2 12 2 13 5 12 4 13 3 12 2 13 1 12 0 13 2 12 3 13 5 12 4 13 4 12 2 13 2 13 2 12 4 13 3 12 4 13 4 12 4 13 5 12 4 13 5 12 4 13 3 12 2 13 3 12 3 13 4 12 1 13-5 13-12 12-14 13-13 12-10 13-7 12-9 13-13 12-13 13-13 12-9 13-4 12-2 13-2 12-2 13-4 13-3 12-1 13-1 12 0 13 0 12-1 13-1 12-1 13 1 12 2 13 1 12-1 13-1 12-2 13 0 13 1 12 2 13 0 12 0 13-2 12-2 13 0 12 1 13 1 12 1 13 0 12 0 13 0 12 1 13 1 13 0 12 0 13-1 12 0 13 0 12 1 13 1 12 1 13-1 12-1 13 0 12 1 13 3 9 1 6 1 6 1 6 0 6 0 6 0 6 0 6 1 6 4 6 9 6 16 6 21 5 15 6 0 6-20 6-21 6-12 6-3 6-1 6 1 6 0 6 1 6 1 6 1 6 1 6 2 6 2 6 1 6 2 6 2 6 2 6 2 6 2 6 3 6 5 6 6 6 7 6 8 6 7 6 6 6 2 6-1 6-5 6-8 5-7 6-5 6-4 6-2 6 0 6 0 6 1 13 1 12 2 5 1 19 3 19 2 19 2 20 3 19 3 19 2 19 1 19 3 19 3 19 3 19 1 19 2 19 2 19 3 20 2 19 3 19 2 19 3 19 1 19 1 19 3 19 2 19 3 19 1 20 1 19 3 19 3 19 2 19 1 19 2 19 2 19 2 19 1 19 2 20 3 19 2 19 1 19 2 19 2 19 1 12 1 7 1 7 0 7 0 8 1 7 1 7 2 7 4 7 6 7 10 8 13 7 15 7 14 7 10 7 3 7-8 8-19 7-21 7-18 7-13 7-7 7-4 8-3 7-4 7-3 7-3 18-9 18-7 18-6 18-5 18-4 17-3 18-3 18-3 18-2 18-2 18-2 18-1 18-2 18-2 18 0 17 3 12 2 8 2 7 2 7 2 7 2 7 1 7 3 8 6 7 11 7 16 7 23 7 29 7 33 8 35 7 35 7 34 7 31 7 31 7 30 7 30 8 29 7 28 7 27 7 26 7 23 7 20 8 16 7 14 7 10 7 7 7 4 7 1 8 1 7 1 7 0 7 0 7 0 7-1 8-2 7-2 7-3 7-2 5-2 12-5 13-5 12-5 13-6 12-6 13-6 13-7 12-9 13-8 12-10 13-11 12-13 13-15 12-15 13-17 12-17 13-19 12-20 13-21 12-19 13-18 13-18 12-17 13-18 12-18 13-17 12-16 13-15 12-12 13-10 12-9 13-9 12-10 13-9 12-8 13-8 13-8 12-9 13-9 12-8 13-9 12-8 13-8 12-10 13-10 12-9 13-8 12-8 13-9 12-10 13-8 13-7 12-7 13-7 12-6 13-5 12-4 13-4 12-4 13-4 12-3 13-1 12 0 13 0 12-1 13 2 12 2 13 2 13 2 12 2 13 2 12 4 13 3 12 3 13 3 12 4 13 4 12 4 13 2 12 3 13 4 12 4 13 3 13 2 12 1 13 0 12 1 13 1 12 0 13 0 12 0 13-2 12-11 13-15 12-13 13-13 12-10 13-10 13-7 12-5 13-3 12-2 13 0 12 4 13 8 12 11 13 13 12 14 13 14 12 13 13 10 12 7 13 3 13-5 3-3 9-10 9-13 9-14 9-16 9-15 9-15 9-12 9-10 9-7 9-2 9 0 9 1 8 3 9 3 9 5 9 5 9 8 9 9 9 28 9 89 9 119 9 112 9 67 9 0 9-32 9-47 9-53 9-46 9-30 9-24 9-23 9-22 9-21 8-20 9-18 9-16 9-15 9-11 9-8 9-6 9-2 9-1 9 0 9 1 9 1 9 1 9 3 9 3 9 3 9 4 9 5 9 69 9 133 9 127 8 52 9-24 9-55 9-72 9-77 9-66 9-42 9-9 9 0 9 2 9 12 9 65 9 116 9 92 9-3 9-104 9-95 9-8 9 5 9 8 9 11 8 13 9 14 9 16 9 16 9 17 9 17 9 16 9 16 9 14 9 14 9 14 9 15 9 14 9 15 9 14 9 16 9 15 9 16 9 16 9 16 3 5 0 546"/>
<path transform="scale(0.90155)" stroke-width="2.75" d="M0 3220l0-1029 56 0 13 1 12 3 13 3 12 3 13 1 12-1 13-2 12 0 13 3 12 3 13 3 12 2 13 0 12 0 13 1 13 1 12 2 13 2 12 1 13 2 12 3 13 3 12 3 13 2 12 0 13-1 12 1 13 2 12 4 13 4 13 3 12 2 13 0 12 1 13 3 12 3 13 3 12 3 13 3 12 2 13 2 12 2 13 2 12 2 13 1 13 1 12 3 13 4 12 5 13 4 12 1 13 1 12 0 13 2 12 3 13 5 12 5 13 3 12 3 13 2 13 2 12 3 13 4 12 4 13 4 12 4 13 5 12 5 13 4 12 4 13 3 12 3 13 2 12 4 13 4 12 1 13-6 13-12 12-14 13-13 12-10 13-8 12-9 13-12 12-14 13-13 12-9 13-3 12-2 13-2 12-3 13-3 13-3 12-2 13 0 12 0 13-1 12-1 13-1 12 0 13 1 12 1 13 1 12 0 13-2 12-1 13-1 13 1 12 2 13 1 12-1 13-2 12-2 13 0 12 1 13 1 12 1 13 0 12 0 13 0 12 1 13 1 13 1 12 0 13-1 12-1 13 0 12 2 13 1 12 0 13-1 12-1 13 0 12 1 13 3 9 2 6 1 6 0 6 0 6 0 6 0 6 1 6 1 6 4 6 9 6 16 6 21 5 15 6 0 6-20 6-21 6-12 6-4 6 0 6 0 6 1 6 0 6 1 6 1 6 2 6 1 6 2 6 2 6 2 6 1 6 2 6 2 6 3 6 3 6 5 6 6 6 7 6 8 6 7 6 6 6 3 6-2 6-5 6-8 5-7 6-6 6-3 6-2 6-1 6 0 6 1 13 2 12 2 5 0 19 3 19 2 19 2 20 3 19 3 19 2 19 2 19 2 19 4 19 2 19 2 19 1 19 3 19 2 20 3 19 2 19 3 19 2 19 2 19 1 19 2 19 3 19 2 19 1 20 2 19 2 19 3 19 2 19 1 19 2 19 2 19 2 19 2 19 2 20 2 19 2 19 1 19 2 19 2 19 2 12 1 7 0 7 0 7 1 8 0 7 1 7 3 7 4 7 7 7 10 8 13 7 16 7 14 7 10 7 2 7-9 8-19 7-22 7-18 7-12 7-7 7-5 8-3 7-3 7-4 7-3 18-9 18-7 18-6 18-5 18-4 17-3 18-3 18-2 18-3 18-2 18-1 18-2 18-2 18-2 18 1 17 2 12 3 8 2 7 1 7 2 7 2 7 2 7 3 8 6 7 10 7 16 7 23 7 30 7 32 8 35 7 35 7 34 7 32 7 30 7 30 7 30 8 30 7 28 7 27 7 25 7 23 7 20 8 17 7 13 7 11 7 7 7 3 7 2 8 1 7 0 7 1 7 0 7-1 7-1 8-2 7-2 7-2 7-3 5-2 12-5 13-4 12-6 13-5 12-6 13-7 13-7 12-8 13-9 12-10 13-11 12-13 13-14 12-16 13-16 12-17 13-20 12-20 13-20 12-20 13-18 13-17 12-18 13-18 12-17 13-17 12-16 13-15 12-13 13-10 12-8 13-10 12-9 13-9 12-9 13-8 13-8 12-8 13-9 12-9 13-8 12-8 13-9 12-10 13-10 12-8 13-8 12-8 13-10 12-9 13-9 13-7 12-7 13-6 12-7 13-5 12-3 13-4 12-5 13-4 12-3 13-1 12 0 13 0 12 0 13 1 12 2 13 3 13 1 12 2 13 3 12 3 13 3 12 3 13 3 12 4 13 4 12 3 13 2 12 3 13 3 12 4 13 3 13 2 12 1 13 2 12 1 13 1 12 0 13-1 12-1 13-2 12-11 13-15 12-14 13-11 12-10 13-10 13-7 12-5 13-2 12-1 13 2 12 5 13 9 12 12 13 13 12 13 13 14 12 11 13 10 12 6 13 3 13-4 3-2 9-10 9-12 9-14 9-15 9-15 9-15 9-13 9-11 9-8 9-4 9 0 9 2 8 3 9 4 9 4 9 6 9 7 9 9 9 29 9 92 9 123 9 113 9 66 9-2 9-34 9-49 9-54 9-46 9-29 9-24 9-23 9-22 9-20 8-19 9-19 9-16 9-15 9-12 9-9 9-6 9-4 9-1 9 0 9 0 9 1 9 2 9 3 9 3 9 3 9 4 9 4 9 63 9 134 9 133 8 60 9-18 9-46 9-65 9-72 9-68 9-54 9-29 9-1 9 4 9 8 9 64 9 120 9 96 9-3 9-107 9-97 9-7 9 5 9 8 9 11 8 12 9 15 9 16 9 16 9 17 9 17 9 17 9 15 9 14 9 15 9 14 9 15 9 14 9 15 9 15 9 15 9 16 9 16 9 15 9 16 3 6 0 531"/>
<path transform="scale(0.90334)" stroke-width="2.75" d="M0 3220l0-1019 56 0 13 0 12 3 13 4 12 3 13 1 12-1 13-2 12 0 13 3 12 3 13 4 12 1 13 1 12 0 13 0 13 1 12 2 13 2 12 2 13 2 12 3 13 3 12 3 13 2 12 0 13-1 12 0 13 2 12 4 13 5 13 3 12 2 13 0 12 1 13 2 12 3 13 4 12 3 13 3 12 2 13 2 12 2 13 2 12 2 13 1 13 1 12 3 13 5 12 5 13 3 12 2 13 0 12 1 13 1 12 4 13 5 12 5 13 3 12 3 13 2 13 2 12 4 13 3 12 4 13 5 12 4 13 5 12 5 13 4 12 4 13 3 12 2 13 3 12 4 13 4 12 1 13-6 13-12 12-15 13-13 12-11 13-7 12-9 13-12 12-14 13-13 12-9 13-4 12-1 13-2 12-3 13-4 13-3 12-1 13 0 12 0 13-1 12-1 13-2 12 0 13 1 12 2 13 1 12 0 13-2 12-2 13 0 13 1 12 2 13 1 12-1 13-2 12-2 13 0 12 0 13 2 12 1 13 0 12 0 13 0 12 1 13 1 13 1 12-1 13-1 12 0 13 0 12 1 13 2 12 0 13-1 12-1 13-1 12 2 13 3 9 2 6 0 6 1 6 0 6 0 6 0 6 0 6 1 6 4 6 10 6 16 6 21 5 15 6 0 6-19 6-22 6-12 6-4 6 0 6 0 6 0 6 1 6 1 6 1 6 1 6 2 6 2 6 2 6 2 6 1 6 2 6 2 6 3 6 3 6 5 6 6 6 7 6 8 6 8 6 6 6 2 6-1 6-5 6-8 5-8 6-6 6-3 6-2 6-1 6 0 6 1 13 2 12 2 5 0 19 3 19 2 19 2 20 3 19 3 19 2 19 2 19 2 19 3 19 3 19 1 19 2 19 2 19 3 20 2 19 3 19 3 19 2 19 1 19 2 19 2 19 3 19 2 19 1 20 2 19 2 19 3 19 2 19 1 19 2 19 2 19 2 19 1 19 3 20 2 19 2 19 1 19 2 19 2 19 2 12 0 7 1 7 0 7 0 8 1 7 1 7 3 7 4 7 7 7 11 8 14 7 15 7 15 7 10 7 2 7-10 8-20 7-22 7-18 7-12 7-8 7-4 8-3 7-3 7-4 7-3 18-9 18-7 18-6 18-5 18-4 17-3 18-3 18-2 18-3 18-2 18-2 18-1 18-2 18-2 18 0 17 3 12 3 8 1 7 2 7 2 7 2 7 1 7 3 8 6 7 11 7 16 7 23 7 30 7 32 8 35 7 35 7 34 7 31 7 31 7 30 7 30 8 29 7 29 7 27 7 25 7 23 7 20 8 17 7 13 7 11 7 6 7 4 7 1 8 1 7 1 7 1 7 0 7-1 7-1 8-2 7-2 7-3 7-2 5-2 12-5 13-5 12-5 13-6 12-6 13-6 13-7 12-8 13-9 12-10 13-11 12-13 13-15 12-15 13-16 12-18 13-19 12-20 13-21 12-19 13-18 13-18 12-17 13-18 12-18 13-17 12-16 13-14 12-13 13-10 12-9 13-9 12-9 13-10 12-8 13-8 13-8 12-8 13-9 12-9 13-8 12-8 13-9 12-10 13-10 12-9 13-8 12-8 13-9 12-9 13-9 13-7 12-7 13-6 12-7 13-5 12-4 13-3 12-5 13-4 12-3 13-1 12 0 13 0 12 0 13 1 12 2 13 2 13 2 12 2 13 2 12 4 13 3 12 3 13 3 12 3 13 4 12 4 13 2 12 2 13 4 12 3 13 3 13 2 12 2 13 1 12 2 13 0 12 0 13 0 12-1 13-2 12-11 13-15 12-13 13-12 12-10 13-9 13-8 12-4 13-3 12-1 13 2 12 6 13 9 12 11 13 13 12 14 13 13 12 12 13 10 12 6 13 3 13-3 3-2 9-9 9-12 9-15 9-15 9-15 9-15 9-14 9-11 9-8 9-5 9 0 9 2 8 3 9 4 9 5 9 6 9 7 9 9 9 31 9 96 9 125 9 115 9 65 9-5 9-35 9-51 9-55 9-47 9-29 9-24 9-23 9-22 9-20 8-20 9-18 9-17 9-15 9-12 9-9 9-7 9-3 9-2 9 0 9 0 9 1 9 2 9 3 9 3 9 3 9 3 9 4 9 58 9 135 9 138 8 69 9-16 9-47 9-66 9-74 9-71 9-56 9-31 9-2 9 5 9 8 9 63 9 123 9 100 9-5 9-109 9-98 9-8 9 5 9 9 9 11 8 12 9 15 9 16 9 17 9 17 9 17 9 16 9 16 9 14 9 15 9 14 9 15 9 14 9 15 9 15 9 16 9 15 9 16 9 16 9 16 3 6 0 516"/>
<path transform="scale(0.90513)" stroke-width="2.74" d="M0 3220l0-1009 56 0 13 1 12 3 13 4 12 3 13 1 12-2 13-1 12 0 13 2 12 4 13 3 12 2 13 0 12 0 13 1 13 1 12 2 13 2 12 1 13 2 12 3 13 4 12 3 13 2 12 0 13-1 12 0 13 2 12 4 13 5 13 3 12 2 13 0 12 1 13 2 12 3 13 4 12 3 13 3 12 2 13 3 12 2 13 2 12 1 13 1 13 2 12 3 13 5 12 5 13 3 12 2 13 0 12 0 13 2 12 4 13 5 12 5 13 4 12 2 13 2 13 3 12 3 13 4 12 4 13 4 12 5 13 5 12 5 13 5 12 4 13 2 12 3 13 3 12 3 13 5 12 1 13-6 13-14 12-15 13-13 12-10 13-8 12-8 13-13 12-14 13-13 12-9 13-3 12-2 13-2 12-3 13-3 13-4 12-1 13 0 12 0 13-1 12-1 13-2 12 0 13 1 12 2 13 2 12-1 13-2 12-2 13 0 13 1 12 2 13 1 12-1 13-2 12-2 13 0 12 0 13 2 12 1 13 0 12 0 13 0 12 1 13 1 13 1 12 0 13-2 12 0 13 0 12 2 13 1 12 0 13-1 12-1 13-1 12 2 13 3 9 2 6 1 6 0 6 1 6-1 6 0 6 0 6 2 6 3 6 10 6 17 6 21 5 15 6 0 6-20 6-22 6-12 6-4 6 0 6 0 6 0 6 1 6 1 6 1 6 2 6 1 6 2 6 2 6 2 6 2 6 1 6 2 6 3 6 3 6 5 6 6 6 8 6 8 6 8 6 6 6 3 6-2 6-5 6-8 5-8 6-6 6-4 6-2 6-1 6 0 6 1 13 2 12 2 5 1 19 2 19 2 19 2 20 3 19 3 19 2 19 2 19 2 19 4 19 2 19 2 19 1 19 3 19 2 20 3 19 2 19 3 19 2 19 2 19 1 19 2 19 3 19 2 19 1 20 2 19 2 19 3 19 2 19 1 19 2 19 2 19 2 19 2 19 2 20 2 19 2 19 1 19 2 19 2 19 2 12 1 7 0 7 0 7 1 8 0 7 2 7 2 7 5 7 7 7 11 8 15 7 16 7 14 7 10 7 2 7-10 8-21 7-23 7-18 7-12 7-8 7-4 8-3 7-3 7-4 7-3 18-9 18-7 18-6 18-5 18-4 17-3 18-3 18-2 18-3 18-2 18-1 18-2 18-2 18-2 18 0 17 3 12 3 8 2 7 1 7 2 7 2 7 2 7 3 8 6 7 10 7 16 7 23 7 30 7 32 8 35 7 35 7 34 7 31 7 31 7 30 7 30 8 30 7 28 7 27 7 25 7 23 7 20 8 17 7 13 7 11 7 7 7 3 7 1 8 2 7 0 7 1 7 0 7-1 7-1 8-2 7-2 7-3 7-2 5-2 12-5 13-4 12-6 13-5 12-6 13-7 13-7 12-8 13-9 12-10 13-11 12-13 13-15 12-15 13-16 12-17 13-19 12-21 13-21 12-19 13-18 13-17 12-18 13-18 12-17 13-17 12-16 13-15 12-13 13-10 12-8 13-10 12-9 13-10 12-8 13-8 13-8 12-8 13-9 12-9 13-8 12-8 13-9 12-10 13-10 12-9 13-7 12-8 13-10 12-9 13-9 13-7 12-7 13-6 12-7 13-5 12-3 13-4 12-5 13-4 12-3 13-1 12 0 13 0 12 0 13 1 12 2 13 3 13 1 12 2 13 2 12 4 13 3 12 3 13 3 12 4 13 4 12 3 13 2 12 2 13 4 12 4 13 3 13 2 12 1 13 2 12 1 13 1 12 0 13-1 12-1 13-2 12-11 13-15 12-13 13-11 12-11 13-9 13-7 12-5 13-2 12-1 13 2 12 5 13 10 12 11 13 13 12 14 13 13 12 12 13 10 12 7 13 3 13-2 3-3 9-9 9-12 9-14 9-16 9-15 9-15 9-14 9-12 9-9 9-4 9 0 9 2 8 3 9 4 9 5 9 5 9 8 9 9 9 33 9 100 9 128 9 117 9 64 9-8 9-37 9-53 9-56 9-48 9-28 9-24 9-23 9-22 9-21 8-20 9-18 9-17 9-15 9-12 9-10 9-6 9-4 9-2 9 0 9 0 9 1 9 2 9 2 9 3 9 3 9 3 9 4 9 52 9 135 9 144 8 77 9-13 9-47 9-68 9-76 9-73 9-59 9-33 9-2 9 4 9 8 9 64 9 127 9 103 9-7 9-111 9-99 9-8 9 5 9 8 9 11 8 13 9 15 9 16 9 17 9 17 9 17 9 17 9 15 9 14 9 15 9 15 9 15 9 14 9 15 9 15 9 16 9 16 9 16 9 16 9 16 3 5 0 501"/>
<path transform="scale(0.90692)" stroke-width="2.73" d="M0 3220l0-999 56 0 13 1 12 3 13 5 12 3 13 1 12-2 13-2 12 0 13 3 12 4 13 3 12 2 13 0 12 0 13 0 13 2 12 2 13 2 12 1 13 2 12 4 13 3 12 4 13 1 12 0 13-1 12 0 13 2 12 4 13 5 13 4 12 1 13 1 12 1 13 2 12 3 13 4 12 3 13 3 12 2 13 3 12 2 13 2 12 1 13 1 13 2 12 3 13 5 12 5 13 4 12 2 13 0 12 0 13 1 12 4 13 6 12 5 13 4 12 2 13 2 13 3 12 3 13 4 12 5 13 4 12 4 13 5 12 5 13 5 12 4 13 3 12 2 13 3 12 4 13 5 12 1 13-7 13-13 12-16 13-14 12-10 13-7 12-9 13-12 12-14 13-13 12-9 13-4 12-1 13-2 12-3 13-4 13-3 12-2 13 0 12 0 13 0 12-2 13-1 12 0 13 1 12 2 13 1 12 0 13-2 12-2 13 0 13 1 12 2 13 1 12-1 13-2 12-2 13-1 12 1 13 2 12 1 13 0 12-1 13 1 12 1 13 1 13 1 12-1 13-1 12-1 13 1 12 1 13 2 12 0 13-2 12-1 13 0 12 2 13 2 9 2 6 1 6 1 6 0 6 0 6 0 6 0 6 1 6 4 6 10 6 16 6 22 5 16 6 0 6-20 6-23 6-12 6-4 6 0 6 0 6 0 6 1 6 0 6 2 6 1 6 2 6 2 6 2 6 2 6 1 6 2 6 2 6 3 6 3 6 5 6 6 6 8 6 8 6 8 6 6 6 3 6-1 6-6 6-8 5-8 6-6 6-4 6-2 6-1 6 0 6 1 13 1 12 2 5 1 19 3 19 1 19 2 20 4 19 3 19 2 19 1 19 3 19 3 19 3 19 1 19 2 19 2 19 3 20 2 19 3 19 2 19 3 19 1 19 1 19 2 19 3 19 3 19 1 20 1 19 3 19 3 19 2 19 1 19 2 19 2 19 2 19 1 19 2 20 3 19 2 19 1 19 2 19 2 19 1 12 1 7 1 7 0 7 0 8 1 7 1 7 3 7 5 7 8 7 11 8 15 7 16 7 15 7 10 7 2 7-11 8-22 7-23 7-19 7-12 7-7 7-4 8-4 7-3 7-3 7-4 18-8 18-8 18-5 18-5 18-4 17-3 18-3 18-3 18-2 18-2 18-2 18-1 18-2 18-2 18 0 17 3 12 2 8 2 7 2 7 2 7 1 7 2 7 3 8 6 7 11 7 16 7 23 7 29 7 33 8 35 7 35 7 33 7 32 7 31 7 30 7 30 8 29 7 29 7 27 7 25 7 23 7 20 8 16 7 14 7 10 7 7 7 4 7 1 8 1 7 1 7 0 7 0 7 0 7-1 8-2 7-2 7-3 7-3 5-2 12-4 13-5 12-5 13-6 12-6 13-6 13-7 12-9 13-9 12-9 13-11 12-13 13-15 12-16 13-16 12-17 13-19 12-20 13-21 12-19 13-18 13-18 12-17 13-18 12-18 13-17 12-16 13-15 12-12 13-10 12-9 13-9 12-10 13-9 12-8 13-8 13-8 12-9 13-9 12-8 13-9 12-8 13-8 12-10 13-10 12-9 13-8 12-8 13-9 12-10 13-8 13-7 12-7 13-7 12-6 13-5 12-4 13-3 12-5 13-5 12-3 13 0 12 0 13 0 12-1 13 1 12 3 13 2 13 2 12 1 13 3 12 3 13 4 12 2 13 3 12 4 13 4 12 3 13 3 12 2 13 3 12 4 13 3 13 2 12 2 13 1 12 2 13 0 12 0 13 0 12-1 13-2 12-11 13-15 12-13 13-11 12-11 13-9 13-7 12-5 13-2 12-1 13 2 12 6 13 9 12 11 13 13 12 14 13 13 12 13 13 10 12 7 13 3 13-1 3-3 9-8 9-13 9-14 9-16 9-16 9-15 9-14 9-12 9-9 9-5 9 0 9 2 8 3 9 4 9 5 9 6 9 7 9 9 9 36 9 103 9 132 9 118 9 62 9-10 9-39 9-55 9-57 9-48 9-28 9-24 9-24 9-22 9-21 8-19 9-19 9-17 9-15 9-12 9-10 9-7 9-4 9-2 9 0 9 0 9 1 9 1 9 3 9 2 9 3 9 4 9 3 9 47 9 134 9 149 8 86 9-10 9-47 9-69 9-78 9-76 9-62 9-34 9-3 9 5 9 8 9 63 9 130 9 106 9-7 9-114 9-101 9-8 9 5 9 9 9 11 8 13 9 15 9 16 9 17 9 17 9 17 9 17 9 16 9 14 9 15 9 15 9 15 9 14 9 15 9 15 9 16 9 16 9 17 9 16 9 16 3 5 0 485"/>
<path transform="scale(0.90871)" stroke-width="2.73" d="M0 3220l0-988 56 0 13 1 12 3 13 5 12 3 13 1 12-2 13-2 12 0 13 3 12 4 13 4 12 2 13 0 12-1 13 1 13 1 12 2 13 2 12 2 13 2 12 3 13 4 12 3 13 2 12 0 13-2 12 0 13 3 12 4 13 5 13 4 12 1 13 1 12 0 13 2 12 4 13 4 12 3 13 3 12 2 13 3 12 2 13 2 12 1 13 1 13 2 12 3 13 5 12 6 13 4 12 1 13 0 12 0 13 2 12 4 13 6 12 5 13 4 12 2 13 3 13 2 12 4 13 4 12 4 13 5 12 4 13 5 12 6 13 5 12 4 13 2 12 3 13 3 12 4 13 4 12 1 13-6 13-14 12-17 13-14 12-10 13-7 12-8 13-13 12-14 13-13 12-10 13-3 12-1 13-2 12-3 13-4 13-3 12-2 13 0 12 0 13 0 12-2 13-1 12 0 13 1 12 2 13 2 12-1 13-2 12-2 13-1 13 2 12 2 13 1 12-1 13-2 12-3 13 0 12 1 13 2 12 1 13 0 12 0 13 0 12 1 13 1 13 1 12-1 13-1 12-1 13 1 12 1 13 2 12 0 13-2 12-1 13 0 12 1 13 3 9 3 6 1 6 0 6 0 6 0 6 0 6 0 6 1 6 4 6 10 6 17 6 21 5 16 6 1 6-21 6-23 6-12 6-4 6 0 6 0 6 0 6 1 6 0 6 2 6 1 6 2 6 2 6 2 6 2 6 2 6 1 6 2 6 3 6 3 6 5 6 7 6 8 6 8 6 8 6 6 6 3 6-1 6-6 6-9 5-8 6-6 6-4 6-2 6-1 6 0 6 1 13 1 12 2 5 1 19 3 19 1 19 2 20 4 19 3 19 2 19 1 19 3 19 3 19 3 19 1 19 2 19 2 19 3 20 2 19 3 19 2 19 3 19 1 19 1 19 2 19 3 19 3 19 1 20 1 19 3 19 3 19 2 19 1 19 2 19 2 19 2 19 1 19 2 20 3 19 2 19 1 19 2 19 2 19 2 12 0 7 1 7 0 7 0 8 1 7 2 7 3 7 5 7 8 7 12 8 15 7 17 7 14 7 10 7 1 7-11 8-22 7-24 7-19 7-12 7-7 7-4 8-4 7-3 7-3 7-3 18-9 18-7 18-6 18-5 18-4 17-3 18-3 18-3 18-2 18-2 18-2 18-1 18-2 18-2 18 0 17 3 12 2 8 2 7 2 7 2 7 2 7 1 7 3 8 6 7 11 7 16 7 23 7 29 7 33 8 35 7 35 7 33 7 32 7 31 7 30 7 30 8 29 7 29 7 27 7 25 7 23 7 20 8 16 7 14 7 10 7 7 7 4 7 1 8 1 7 1 7 0 7 0 7 0 7-1 8-2 7-2 7-3 7-3 5-2 12-4 13-5 12-5 13-6 12-6 13-6 13-7 12-9 13-9 12-9 13-11 12-13 13-15 12-16 13-16 12-17 13-19 12-20 13-21 12-19 13-18 13-18 12-17 13-18 12-18 13-17 12-16 13-15 12-12 13-10 12-9 13-9 12-10 13-9 12-8 13-8 13-8 12-9 13-9 12-8 13-9 12-7 13-9 12-10 13-10 12-9 13-8 12-8 13-9 12-10 13-8 13-7 12-7 13-7 12-6 13-5 12-4 13-3 12-5 13-5 12-3 13 0 12 0 13 0 12-1 13 1 12 3 13 2 13 2 12 1 13 3 12 3 13 4 12 2 13 3 12 4 13 4 12 4 13 2 12 2 13 3 12 4 13 3 13 2 12 2 13 1 12 2 13 0 12 0 13 0 12-1 13-2 12-11 13-15 12-13 13-11 12-10 13-9 13-7 12-5 13-2 12-1 13 2 12 5 13 9 12 12 13 13 12 14 13 13 12 13 13 10 12 7 13 4 13-1 3-2 9-9 9-12 9-14 9-16 9-17 9-15 9-15 9-12 9-9 9-5 9-1 9 2 8 4 9 4 9 5 9 6 9 7 9 9 9 38 9 107 9 135 9 120 9 60 9-12 9-42 9-56 9-59 9-47 9-29 9-24 9-24 9-22 9-21 8-19 9-19 9-17 9-15 9-13 9-10 9-7 9-4 9-2 9-1 9 0 9 1 9 2 9 2 9 3 9 2 9 3 9 4 9 41 9 134 9 153 8 95 9-7 9-46 9-70 9-80 9-79 9-64 9-37 9-3 9 4 9 8 9 64 9 134 9 108 9-8 9-116 9-103 9-8 9 6 9 8 9 11 8 13 9 15 9 16 9 17 9 18 9 17 9 17 9 16 9 14 9 15 9 15 9 15 9 15 9 15 9 15 9 16 9 16 9 17 9 16 9 16 3 6 0 468"/>
<path transform="scale(0.91050)" stroke-width="2.72" d="M0 3220l0-977 56 0 13 1 12 3 13 5 12 4 13 1 12-2 13-3 12 0 13 3 12 5 13 4 12 2 13 0 12-1 13 0 13 2 12 2 13 2 12 1 13 3 12 3 13 4 12 4 13 1 12 0 13-2 12 0 13 2 12 5 13 5 13 4 12 2 13 0 12 1 13 2 12 3 13 4 12 4 13 3 12 2 13 3 12 2 13 2 12 1 13 1 13 2 12 3 13 5 12 6 13 4 12 2 13 0 12-1 13 2 12 4 13 6 12 6 13 4 12 2 13 2 13 3 12 4 13 4 12 4 13 5 12 4 13 6 12 5 13 5 12 4 13 3 12 2 13 3 12 4 13 5 12 1 13-7 13-14 12-17 13-14 12-10 13-7 12-9 13-12 12-14 13-14 12-9 13-3 12-2 13-1 12-3 13-4 13-4 12-1 13 0 12 0 13-1 12-1 13-2 12 0 13 1 12 3 13 1 12 0 13-3 12-2 13 0 13 1 12 3 13 1 12-1 13-3 12-2 13-1 12 1 13 2 12 1 13 0 12 0 13 0 12 1 13 2 13 1 12-1 13-1 12-1 13 0 12 2 13 1 12 0 13-1 12-2 13 0 12 2 13 3 9 2 6 1 6 1 6 0 6 0 6 0 6-1 6 1 6 4 6 10 6 17 6 22 5 17 6 0 6-21 6-23 6-12 6-4 6-1 6 0 6 1 6 0 6 1 6 1 6 2 6 1 6 2 6 2 6 2 6 2 6 2 6 2 6 3 6 3 6 5 6 7 6 8 6 8 6 8 6 7 6 3 6-2 6-6 6-9 5-8 6-6 6-5 6-2 6-1 6 0 6 1 13 2 12 2 5 1 19 2 19 2 19 2 20 3 19 4 19 1 19 2 19 2 19 4 19 2 19 2 19 1 19 3 19 2 20 3 19 2 19 3 19 3 19 1 19 1 19 2 19 3 19 2 19 1 20 2 19 2 19 3 19 2 19 2 19 1 19 2 19 2 19 2 19 2 20 2 19 2 19 2 19 1 19 2 19 2 12 1 7 0 7 0 7 1 8 1 7 1 7 3 7 6 7 9 7 12 8 15 7 17 7 15 7 10 7 1 7-13 8-22 7-24 7-19 7-13 7-7 7-4 8-3 7-3 7-4 7-3 18-9 18-7 18-6 18-5 18-4 17-3 18-3 18-2 18-3 18-2 18-1 18-1 18-2 18-3 18 0 17 3 12 3 8 2 7 2 7 1 7 2 7 2 7 3 8 6 7 10 7 16 7 24 7 29 7 33 8 34 7 35 7 34 7 32 7 30 7 31 7 30 8 29 7 28 7 27 7 26 7 22 7 20 8 17 7 13 7 11 7 7 7 3 7 1 8 2 7 0 7 1 7 0 7-1 7-1 8-2 7-2 7-3 7-2 5-2 12-5 13-4 12-5 13-6 12-6 13-7 13-7 12-8 13-9 12-10 13-11 12-13 13-15 12-15 13-16 12-17 13-19 12-21 13-21 12-19 13-18 13-17 12-18 13-18 12-17 13-17 12-16 13-15 12-13 13-9 12-9 13-9 12-10 13-10 12-8 13-8 13-7 12-9 13-9 12-9 13-8 12-8 13-9 12-10 13-10 12-9 13-7 12-8 13-9 12-10 13-9 13-7 12-6 13-7 12-7 13-5 12-3 13-4 12-4 13-5 12-3 13-1 12 1 13-1 12 0 13 1 12 2 13 3 13 2 12 1 13 2 12 4 13 3 12 3 13 3 12 4 13 4 12 3 13 2 12 2 13 4 12 4 13 3 13 2 12 1 13 2 12 1 13 1 12 0 13-1 12 0 13-2 12-12 13-14 12-13 13-11 12-10 13-9 13-8 12-4 13-2 12-1 13 2 12 5 13 9 12 12 13 13 12 14 13 14 12 12 13 10 12 8 13 4 13-1 3-2 9-8 9-12 9-14 9-17 9-16 9-16 9-15 9-13 9-9 9-5 9-1 9 2 8 4 9 4 9 5 9 6 9 7 9 10 9 40 9 111 9 139 9 120 9 58 9-15 9-43 9-58 9-60 9-48 9-27 9-25 9-24 9-22 9-21 8-20 9-19 9-17 9-15 9-13 9-10 9-7 9-5 9-2 9-1 9 0 9 1 9 1 9 3 9 2 9 3 9 3 9 3 9 36 9 132 9 158 8 103 9-1 9-46 9-71 9-83 9-82 9-67 9-38 9-4 9 4 9 8 9 63 9 138 9 112 9-10 9-118 9-104 9-8 9 5 9 9 9 11 8 13 9 15 9 16 9 17 9 18 9 18 9 16 9 16 9 15 9 15 9 15 9 15 9 15 9 15 9 15 9 16 9 17 9 16 9 17 9 16 3 6 0 451"/>
<path transform="scale(0.91229)" stroke-width="2.72" d="M0 3220l0-966 56 0 13 1 12 4 13 5 12 4 13 1 12-2 13-3 12 0 13 3 12 5 13 4 12 2 13 0 12-1 13 0 13 2 12 2 13 2 12 2 13 2 12 4 13 4 12 3 13 2 12-1 13-1 12-1 13 3 12 4 13 6 13 4 12 1 13 1 12 0 13 2 12 4 13 4 12 4 13 3 12 2 13 3 12 2 13 2 12 1 13 1 13 2 12 3 13 6 12 5 13 5 12 2 13-1 12 0 13 1 12 5 13 6 12 6 13 4 12 2 13 2 13 3 12 4 13 4 12 5 13 4 12 5 13 5 12 6 13 5 12 4 13 3 12 2 13 3 12 5 13 5 12 1 13-7 13-15 12-18 13-14 12-10 13-7 12-8 13-13 12-14 13-14 12-9 13-4 12-1 13-1 12-3 13-5 13-3 12-2 13 0 12 1 13-1 12-1 13-2 12 0 13 1 12 3 13 1 12 0 13-3 12-2 13 0 13 1 12 3 13 1 12-1 13-3 12-3 13 0 12 1 13 2 12 1 13 0 12 0 13 0 12 1 13 2 13 1 12-1 13-2 12-1 13 1 12 2 13 1 12 0 13-1 12-2 13-1 12 2 13 4 9 2 6 1 6 1 6 0 6 0 6-1 6 0 6 1 6 4 6 10 6 18 6 22 5 16 6 0 6-20 6-23 6-13 6-4 6-1 6 0 6 0 6 1 6 1 6 1 6 1 6 2 6 2 6 2 6 2 6 2 6 2 6 2 6 3 6 3 6 5 6 7 6 8 6 9 6 8 6 7 6 3 6-2 6-6 6-9 5-9 6-6 6-5 6-2 6-1 6 0 6 1 13 2 12 2 5 1 19 2 19 2 19 2 20 3 19 4 19 1 19 1 19 3 19 4 19 2 19 2 19 1 19 2 19 3 20 3 19 2 19 3 19 3 19 1 19 1 19 2 19 3 19 2 19 1 20 2 19 2 19 3 19 2 19 2 19 1 19 2 19 2 19 2 19 2 20 2 19 2 19 1 19 2 19 2 19 2 12 1 7 0 7 0 7 1 8 1 7 1 7 4 7 5 7 10 7 12 8 16 7 17 7 15 7 10 7 1 7-14 8-23 7-24 7-19 7-13 7-7 7-4 8-3 7-3 7-4 7-3 18-9 18-7 18-6 18-5 18-4 17-3 18-3 18-2 18-3 18-2 18-1 18-1 18-2 18-3 18 0 17 3 12 3 8 2 7 1 7 2 7 2 7 2 7 3 8 5 7 11 7 16 7 23 7 30 7 33 8 34 7 35 7 34 7 31 7 31 7 30 7 31 8 29 7 28 7 27 7 26 7 22 7 20 8 17 7 13 7 11 7 7 7 3 7 1 8 1 7 1 7 1 7 0 7-1 7-1 8-2 7-2 7-3 7-3 5-1 12-5 13-4 12-5 13-6 12-6 13-7 13-7 12-8 13-9 12-10 13-11 12-13 13-15 12-16 13-15 12-17 13-19 12-21 13-21 12-19 13-18 13-17 12-18 13-18 12-17 13-17 12-16 13-15 12-13 13-9 12-9 13-9 12-10 13-10 12-8 13-8 13-8 12-8 13-9 12-9 13-8 12-8 13-9 12-10 13-10 12-9 13-7 12-8 13-9 12-10 13-9 13-7 12-6 13-7 12-7 13-5 12-3 13-4 12-4 13-6 12-2 13-1 12 0 13 0 12-1 13 2 12 2 13 3 13 2 12 1 13 2 12 4 13 3 12 3 13 3 12 4 13 4 12 3 13 2 12 2 13 4 12 4 13 3 13 2 12 1 13 2 12 1 13 1 12 0 13-1 12 0 13-2 12-12 13-14 12-13 13-11 12-10 13-9 13-7 12-5 13-2 12 0 13 1 12 6 13 9 12 12 13 13 12 14 13 13 12 13 13 10 12 8 13 4 13 0 3-1 9-8 9-12 9-15 9-16 9-17 9-16 9-16 9-13 9-10 9-5 9 0 9 2 8 3 9 4 9 5 9 6 9 8 9 10 9 43 9 115 9 141 9 122 9 55 9-17 9-45 9-60 9-60 9-48 9-28 9-25 9-24 9-22 9-21 8-20 9-19 9-18 9-15 9-13 9-10 9-7 9-5 9-3 9-1 9 0 9 1 9 1 9 3 9 2 9 3 9 3 9 3 9 31 9 130 9 161 8 112 9 4 9-45 9-72 9-85 9-85 9-69 9-41 9-5 9 5 9 8 9 63 9 141 9 115 9-11 9-121 9-105 9-8 9 5 9 9 9 11 8 13 9 15 9 17 9 17 9 18 9 17 9 17 9 16 9 15 9 15 9 16 9 15 9 14 9 15 9 16 9 16 9 17 9 16 9 17 9 16 3 6 0 434"/>
<path transform="scale(0.91408)" stroke-width="2.71" d="M0 3220l0-954 56 0 13 1 12 4 13 6 12 4 13 0 12-2 13-3 12 0 13 3 12 5 13 4 12 2 13 0 12 0 13 0 13 1 12 2 13 2 12 2 13 3 12 3 13 5 12 3 13 2 12-1 13-2 12 0 13 2 12 5 13 6 13 4 12 1 13 1 12 0 13 2 12 4 13 4 12 4 13 3 12 3 13 2 12 3 13 2 12 1 13 0 13 2 12 4 13 5 12 7 13 4 12 2 13-1 12 0 13 1 12 5 13 6 12 6 13 5 12 2 13 2 13 3 12 4 13 4 12 5 13 5 12 4 13 6 12 6 13 5 12 4 13 3 12 2 13 3 12 4 13 5 12 2 13-8 13-15 12-18 13-15 12-10 13-7 12-8 13-12 12-15 13-14 12-9 13-3 12-1 13-2 12-3 13-4 13-4 12-2 13 1 12 0 13 0 12-2 13-2 12 0 13 2 12 2 13 2 12-1 13-2 12-3 13 0 13 2 12 2 13 2 12-2 13-3 12-2 13-1 12 1 13 2 12 2 13 0 12-1 13 0 12 2 13 2 13 0 12 0 13-2 12-1 13 0 12 2 13 2 12 0 13-2 12-2 13-1 12 2 13 4 9 3 6 1 6 0 6 1 6-1 6 0 6 0 6 1 6 4 6 9 6 18 6 22 5 17 6 1 6-21 6-24 6-13 6-4 6 0 6 0 6 0 6 0 6 1 6 1 6 2 6 2 6 2 6 2 6 2 6 2 6 2 6 2 6 2 6 4 6 5 6 7 6 8 6 9 6 8 6 7 6 3 6-1 6-7 6-9 5-9 6-7 6-4 6-2 6-1 6 0 6 0 13 2 12 2 5 1 19 3 19 1 19 2 20 4 19 3 19 2 19 1 19 2 19 4 19 3 19 1 19 1 19 3 19 3 20 2 19 2 19 3 19 3 19 1 19 1 19 2 19 3 19 3 19 1 20 1 19 2 19 4 19 2 19 1 19 2 19 2 19 1 19 2 19 2 20 3 19 2 19 1 19 1 19 2 19 2 12 1 7 1 7 0 7 0 8 1 7 2 7 4 7 6 7 9 7 13 8 17 7 17 7 15 7 9 7 1 7-14 8-24 7-25 7-19 7-12 7-7 7-5 8-3 7-3 7-3 7-4 18-8 18-8 18-5 18-5 18-5 17-3 18-2 18-3 18-2 18-3 18-1 18-1 18-2 18-2 18 0 17 2 12 3 8 2 7 2 7 2 7 1 7 2 7 3 8 6 7 10 7 17 7 23 7 29 7 33 8 35 7 34 7 34 7 32 7 30 7 31 7 30 8 29 7 29 7 27 7 25 7 23 7 19 8 17 7 14 7 10 7 7 7 3 7 2 8 1 7 1 7 0 7 0 7 0 7-2 8-1 7-3 7-3 7-2 5-2 12-4 13-5 12-5 13-6 12-6 13-6 13-8 12-8 13-9 12-9 13-11 12-13 13-16 12-15 13-16 12-17 13-19 12-21 13-21 12-19 13-17 13-18 12-17 13-19 12-17 13-17 12-16 13-15 12-12 13-10 12-9 13-9 12-10 13-10 12-8 13-7 13-8 12-9 13-9 12-9 13-8 12-7 13-9 12-10 13-11 12-9 13-7 12-8 13-9 12-10 13-9 13-7 12-6 13-7 12-6 13-5 12-3 13-4 12-5 13-5 12-3 13-1 12 1 13-1 12 0 13 1 12 3 13 3 13 1 12 1 13 2 12 4 13 4 12 2 13 3 12 4 13 4 12 3 13 2 12 2 13 4 12 4 13 3 13 2 12 1 13 2 12 1 13 1 12 0 13 0 12-1 13-2 12-11 13-15 12-12 13-11 12-10 13-9 13-7 12-5 13-2 12 0 13 1 12 6 13 9 12 11 13 14 12 14 13 13 12 13 13 11 12 7 13 5 13 1 3-2 9-7 9-12 9-15 9-17 9-17 9-16 9-16 9-13 9-10 9-6 9 0 9 2 8 3 9 4 9 5 9 7 9 7 9 10 9 46 9 119 9 145 9 122 9 53 9-19 9-48 9-61 9-62 9-48 9-27 9-25 9-24 9-23 9-21 8-20 9-19 9-18 9-15 9-13 9-10 9-8 9-5 9-3 9-1 9 0 9 0 9 2 9 2 9 3 9 2 9 3 9 3 9 26 9 127 9 166 8 120 9 10 9-45 9-73 9-87 9-87 9-72 9-43 9-6 9 5 9 7 9 63 9 145 9 119 9-13 9-123 9-107 9-8 9 6 9 8 9 12 8 13 9 15 9 17 9 17 9 18 9 18 9 17 9 16 9 15 9 15 9 15 9 15 9 15 9 15 9 16 9 16 9 17 9 17 9 16 9 17 3 6 0 416"/>
<path transform="scale(0.91587)" stroke-width="2.71" d="M0 3220l0-942 56 0 13 1 12 4 13 6 12 5 13 0 12-2 13-3 12-1 13 4 12 5 13 4 12 3 13-1 12-1 13 0 13 2 12 2 13 2 12 2 13 3 12 3 13 5 12 4 13 1 12-1 13-2 12 0 13 2 12 5 13 6 13 4 12 2 13 0 12 0 13 3 12 3 13 5 12 4 13 3 12 3 13 2 12 3 13 2 12 1 13 0 13 2 12 4 13 6 12 6 13 5 12 1 13 0 12-1 13 2 12 4 13 7 12 6 13 5 12 2 13 2 13 3 12 4 13 5 12 4 13 5 12 5 13 6 12 6 13 5 12 4 13 3 12 2 13 3 12 5 13 5 12 1 13-7 13-17 12-18 13-15 12-10 13-7 12-8 13-12 12-15 13-14 12-9 13-3 12-1 13-2 12-3 13-4 13-4 12-2 13 0 12 1 13 0 12-2 13-2 12-1 13 2 12 3 13 2 12-1 13-2 12-3 13-1 13 2 12 3 13 2 12-2 13-3 12-3 13-1 12 2 13 2 12 2 13 0 12-1 13 0 12 2 13 2 13 0 12 0 13-2 12-2 13 1 12 2 13 2 12 0 13-2 12-3 13 0 12 2 13 4 9 3 6 1 6 0 6 1 6-1 6 0 6 0 6 0 6 4 6 10 6 18 6 23 5 17 6 0 6-21 6-24 6-12 6-5 6 0 6 0 6 0 6 0 6 1 6 1 6 2 6 2 6 2 6 2 6 2 6 2 6 2 6 2 6 2 6 4 6 5 6 7 6 8 6 10 6 8 6 7 6 3 6-2 6-6 6-9 5-9 6-8 6-4 6-3 6 0 6 0 6 0 13 2 12 2 5 1 19 2 19 2 19 2 20 4 19 3 19 2 19 1 19 2 19 4 19 3 19 1 19 1 19 3 19 2 20 3 19 2 19 3 19 3 19 1 19 1 19 2 19 3 19 3 19 1 20 1 19 2 19 3 19 3 19 1 19 1 19 2 19 2 19 2 19 2 20 3 19 2 19 1 19 1 19 2 19 2 12 1 7 0 7 1 7 0 8 1 7 2 7 4 7 6 7 10 7 14 8 16 7 18 7 15 7 9 7 0 7-14 8-25 7-25 7-19 7-13 7-7 7-4 8-3 7-3 7-3 7-4 18-8 18-8 18-5 18-6 18-4 17-3 18-2 18-3 18-3 18-2 18-1 18-1 18-2 18-3 18 0 17 3 12 3 8 2 7 2 7 2 7 1 7 2 7 3 8 6 7 10 7 16 7 24 7 29 7 33 8 34 7 35 7 34 7 32 7 30 7 31 7 30 8 29 7 29 7 27 7 25 7 23 7 19 8 17 7 14 7 10 7 7 7 3 7 1 8 2 7 0 7 1 7 0 7 0 7-2 8-2 7-2 7-3 7-3 5-1 12-5 13-4 12-5 13-6 12-6 13-7 13-7 12-8 13-9 12-9 13-11 12-14 13-15 12-16 13-15 12-17 13-19 12-21 13-21 12-19 13-18 13-17 12-18 13-18 12-17 13-17 12-16 13-15 12-12 13-10 12-9 13-9 12-10 13-10 12-8 13-8 13-7 12-9 13-9 12-9 13-8 12-8 13-8 12-11 13-10 12-9 13-7 12-8 13-9 12-10 13-9 13-7 12-6 13-7 12-7 13-4 12-4 13-3 12-5 13-5 12-4 13 0 12 1 13-1 12 0 13 1 12 3 13 2 13 2 12 1 13 2 12 4 13 3 12 3 13 3 12 4 13 4 12 3 13 2 12 2 13 4 12 4 13 3 13 2 12 1 13 2 12 1 13 1 12 0 13 0 12-1 13-2 12-11 13-15 12-12 13-11 12-10 13-9 13-7 12-4 13-2 12-1 13 2 12 5 13 9 12 12 13 13 12 14 13 14 12 13 13 10 12 8 13 6 13 1 3-2 9-7 9-12 9-15 9-16 9-18 9-16 9-16 9-14 9-11 9-6 9 0 9 2 8 3 9 5 9 5 9 6 9 8 9 10 9 49 9 123 9 148 9 123 9 50 9-22 9-49 9-63 9-63 9-47 9-28 9-25 9-24 9-23 9-21 8-20 9-19 9-18 9-16 9-13 9-10 9-8 9-5 9-3 9-2 9 0 9 1 9 1 9 2 9 3 9 2 9 3 9 3 9 21 9 124 9 169 8 128 9 17 9-43 9-74 9-90 9-89 9-76 9-45 9-6 9 4 9 8 9 62 9 149 9 122 9-15 9-125 9-108 9-8 9 5 9 9 9 12 8 13 9 15 9 17 9 17 9 18 9 18 9 17 9 17 9 15 9 15 9 16 9 15 9 15 9 15 9 16 9 16 9 17 9 17 9 17 9 16 3 6 0 398"/>
<path transform="scale(0.91766)" stroke-width="2.70" d="M0 3220l0-929 56 0 13 0 12 5 13 6 12 5 13 1 12-3 13-3 12-1 13 3 12 6 13 5 12 2 13 0 12-1 13 0 13 1 12 2 13 2 12 2 13 3 12 4 13 5 12 4 13 1 12-1 13-2 12-1 13 3 12 5 13 6 13 5 12 1 13 0 12 0 13 2 12 4 13 5 12 4 13 4 12 2 13 3 12 2 13 2 12 1 13 1 13 1 12 4 13 6 12 7 13 5 12 2 13-1 12-1 13 1 12 5 13 7 12 7 13 4 12 3 13 2 13 3 12 4 13 4 12 5 13 5 12 5 13 6 12 6 13 6 12 4 13 3 12 2 13 3 12 4 13 6 12 2 13-9 13-16 12-19 13-16 12-10 13-6 12-8 13-12 12-15 13-14 12-10 13-3 12-1 13-1 12-3 13-5 13-4 12-2 13 1 12 0 13 0 12-2 13-2 12 0 13 2 12 3 13 2 12-1 13-3 12-3 13 0 13 2 12 3 13 1 12-1 13-4 12-3 13-1 12 2 13 2 12 2 13 0 12-1 13 1 12 1 13 2 13 1 12-1 13-2 12-1 13 0 12 2 13 2 12 0 13-2 12-2 13-1 12 2 13 4 9 3 6 1 6 1 6 0 6 0 6-1 6 0 6 1 6 4 6 10 6 18 6 23 5 17 6 0 6-21 6-24 6-13 6-4 6-1 6 0 6 0 6 0 6 1 6 1 6 2 6 2 6 2 6 2 6 3 6 2 6 1 6 2 6 3 6 4 6 5 6 7 6 8 6 10 6 8 6 7 6 3 6-1 6-7 6-9 5-10 6-7 6-5 6-2 6-1 6 0 6 0 13 2 12 3 5 0 19 3 19 1 19 2 20 4 19 4 19 1 19 1 19 2 19 4 19 3 19 1 19 1 19 3 19 3 20 2 19 3 19 3 19 2 19 1 19 1 19 2 19 4 19 2 19 1 20 1 19 3 19 3 19 2 19 1 19 2 19 2 19 2 19 1 19 2 20 3 19 2 19 1 19 1 19 2 19 3 12 0 7 1 7 0 7 1 8 1 7 2 7 4 7 6 7 11 7 14 8 17 7 18 7 15 7 9 7 0 7-16 8-25 7-26 7-19 7-12 7-7 7-4 8-4 7-3 7-3 7-4 18-8 18-7 18-6 18-5 18-5 17-2 18-3 18-2 18-3 18-3 18-1 18-1 18-2 18-2 18 0 17 3 12 3 8 1 7 2 7 2 7 2 7 1 7 3 8 6 7 11 7 16 7 23 7 30 7 32 8 35 7 35 7 33 7 32 7 31 7 30 7 30 8 30 7 28 7 27 7 25 7 23 7 20 8 16 7 14 7 10 7 7 7 3 7 2 8 1 7 1 7 0 7 0 7 0 7-1 8-2 7-3 7-3 7-2 5-2 12-4 13-4 12-6 13-6 12-6 13-6 13-8 12-8 13-9 12-9 13-11 12-13 13-16 12-15 13-16 12-16 13-19 12-22 13-21 12-19 13-17 13-17 12-18 13-18 12-18 13-16 12-17 13-15 12-12 13-10 12-8 13-10 12-10 13-10 12-8 13-7 13-8 12-8 13-10 12-9 13-8 12-7 13-9 12-10 13-11 12-9 13-7 12-7 13-10 12-10 13-9 13-7 12-6 13-7 12-6 13-5 12-3 13-3 12-6 13-5 12-3 13 0 12 0 13 0 12-1 13 1 12 3 13 3 13 1 12 1 13 3 12 3 13 4 12 2 13 3 12 4 13 5 12 3 13 1 12 2 13 4 12 4 13 4 13 1 12 2 13 1 12 2 13 0 12 0 13 0 12-1 13-2 12-11 13-14 12-12 13-11 12-10 13-9 13-7 12-5 13-1 12-1 13 2 12 5 13 9 12 12 13 13 12 14 13 14 12 13 13 11 12 8 13 5 13 2 3-1 9-7 9-11 9-16 9-16 9-18 9-17 9-16 9-15 9-11 9-6 9 0 9 2 8 3 9 5 9 5 9 6 9 8 9 11 9 51 9 127 9 151 9 124 9 47 9-23 9-52 9-65 9-63 9-48 9-27 9-25 9-25 9-23 9-21 8-20 9-19 9-18 9-16 9-13 9-10 9-8 9-6 9-3 9-2 9 0 9 0 9 2 9 2 9 2 9 2 9 3 9 3 9 17 9 121 9 172 8 136 9 24 9-42 9-75 9-92 9-92 9-78 9-48 9-7 9 4 9 8 9 61 9 153 9 125 9-16 9-127 9-109 9-9 9 6 9 9 9 11 8 14 9 15 9 17 9 17 9 18 9 18 9 18 9 16 9 15 9 16 9 15 9 16 9 15 9 15 9 16 9 16 9 17 9 17 9 17 9 17 3 6 0 379"/>
<path transform="scale(0.91945)" stroke-width="2.70" d="M0 3220l0-916 56 0 13 0 12 5 13 7 12 5 13 0 12-3 13-3 12-1 13 4 12 6 13 5 12 2 13 0 12-2 13 0 13 2 12 2 13 2 12 2 13 3 12 4 13 5 12 4 13 2 12-2 13-2 12-1 13 2 12 6 13 7 13 4 12 2 13-1 12 0 13 3 12 4 13 5 12 4 13 3 12 3 13 3 12 2 13 2 12 1 13 1 13 1 12 4 13 7 12 7 13 5 12 1 13-1 12-1 13 2 12 5 13 7 12 7 13 4 12 3 13 2 13 3 12 4 13 5 12 5 13 5 12 5 13 6 12 6 13 6 12 4 13 3 12 2 13 3 12 5 13 5 12 2 13-8 13-18 12-19 13-16 12-10 13-6 12-8 13-12 12-15 13-15 12-9 13-3 12-1 13-1 12-3 13-5 13-4 12-2 13 0 12 1 13 0 12-2 13-3 12 0 13 2 12 4 13 2 12-1 13-3 12-3 13-1 13 3 12 3 13 1 12-1 13-4 12-3 13-1 12 1 13 3 12 2 13 0 12-1 13 0 12 2 13 2 13 1 12-1 13-2 12-2 13 1 12 2 13 2 12 0 13-2 12-3 13-1 12 3 13 4 9 3 6 1 6 1 6 0 6 0 6-1 6 0 6 0 6 4 6 10 6 19 6 23 5 17 6 1 6-22 6-24 6-13 6-4 6-1 6 0 6 0 6 0 6 1 6 1 6 2 6 2 6 2 6 2 6 3 6 2 6 2 6 2 6 2 6 4 6 5 6 7 6 9 6 9 6 9 6 7 6 3 6-1 6-7 6-10 5-9 6-8 6-5 6-2 6-1 6 0 6 0 13 2 12 2 5 1 19 3 19 1 19 2 20 4 19 3 19 2 19 1 19 2 19 4 19 3 19 1 19 1 19 3 19 3 20 2 19 2 19 4 19 2 19 1 19 1 19 2 19 3 19 3 19 1 20 1 19 2 19 4 19 2 19 1 19 2 19 2 19 1 19 2 19 2 20 3 19 2 19 1 19 1 19 2 19 2 12 1 7 1 7 0 7 1 8 1 7 2 7 4 7 7 7 11 7 14 8 18 7 18 7 15 7 9 7-1 7-16 8-26 7-26 7-19 7-13 7-7 7-4 8-3 7-3 7-3 7-4 18-8 18-8 18-5 18-6 18-4 17-3 18-2 18-3 18-2 18-3 18-1 18-1 18-2 18-2 18-1 17 3 12 3 8 2 7 2 7 2 7 1 7 2 7 3 8 6 7 10 7 17 7 23 7 30 7 32 8 35 7 34 7 34 7 32 7 30 7 31 7 30 8 30 7 28 7 27 7 25 7 23 7 19 8 17 7 14 7 10 7 7 7 3 7 1 8 2 7 1 7 0 7 0 7 0 7-1 8-2 7-3 7-3 7-3 5-1 12-5 13-4 12-5 13-6 12-6 13-6 13-8 12-8 13-9 12-9 13-11 12-13 13-16 12-16 13-15 12-17 13-19 12-21 13-21 12-19 13-17 13-17 12-18 13-18 12-18 13-17 12-16 13-15 12-12 13-10 12-8 13-10 12-10 13-10 12-8 13-7 13-8 12-9 13-9 12-9 13-8 12-7 13-9 12-10 13-11 12-9 13-7 12-7 13-10 12-10 13-9 13-7 12-6 13-7 12-6 13-5 12-3 13-3 12-6 13-6 12-3 13 0 12 1 13-1 12 0 13 1 12 3 13 3 13 1 12 1 13 2 12 4 13 4 12 2 13 3 12 4 13 4 12 4 13 1 12 2 13 4 12 4 13 4 13 1 12 2 13 1 12 2 13 0 12 0 13 0 12-1 13-2 12-11 13-14 12-12 13-11 12-9 13-10 13-7 12-4 13-2 12 0 13 1 12 6 13 9 12 11 13 14 12 14 13 14 12 13 13 11 12 8 13 6 13 2 3-1 9-6 9-12 9-15 9-17 9-18 9-17 9-17 9-15 9-11 9-7 9 0 9 2 8 4 9 4 9 5 9 7 9 8 9 11 9 55 9 130 9 155 9 124 9 43 9-25 9-54 9-66 9-64 9-48 9-27 9-25 9-25 9-23 9-21 8-20 9-20 9-18 9-16 9-13 9-10 9-8 9-6 9-4 9-2 9 0 9 0 9 2 9 2 9 2 9 2 9 3 9 3 9 13 9 116 9 175 8 144 9 32 9-41 9-75 9-94 9-95 9-81 9-51 9-8 9 4 9 8 9 61 9 157 9 128 9-17 9-130 9-110 9-9 9 6 9 9 9 11 8 14 9 15 9 17 9 18 9 18 9 18 9 17 9 17 9 15 9 16 9 16 9 15 9 15 9 15 9 16 9 17 9 17 9 17 9 17 9 17 3 6 0 360"/>
<path transform="scale(0.92124)" stroke-width="2.69" d="M0 3220l0-903 56 0 13 1 12 5 13 7 12 5 13 1 12-4 13-4 12 0 13 3 12 7 13 5 12 2 13 0 12-2 13 0 13 2 12 2 13 2 12 2 13 3 12 5 13 5 12 4 13 2 12-2 13-3 12-1 13 2 12 6 13 7 13 5 12 2 13-1 12 0 13 2 12 5 13 5 12 4 13 4 12 2 13 3 12 3 13 2 12 1 13 0 13 1 12 4 13 7 12 8 13 5 12 2 13-2 12-1 13 1 12 5 13 8 12 7 13 5 12 3 13 2 13 2 12 5 13 5 12 5 13 5 12 5 13 6 12 7 13 6 12 4 13 2 12 2 13 3 12 5 13 7 12 1 13-9 13-17 12-20 13-16 12-11 13-6 12-7 13-12 12-16 13-14 12-10 13-3 12 0 13-1 12-4 13-5 13-4 12-2 13 1 12 1 13-1 12-2 13-2 12-1 13 3 12 3 13 3 12-1 13-4 12-3 13-1 13 3 12 3 13 2 12-2 13-3 12-4 13-1 12 1 13 3 12 2 13 0 12 0 13 0 12 1 13 3 13 1 12-1 13-3 12-1 13 0 12 2 13 2 12 0 13-2 12-3 13-1 12 3 13 4 9 3 6 2 6 1 6 0 6-1 6-1 6 0 6 1 6 4 6 10 6 18 6 24 5 17 6 1 6-22 6-24 6-13 6-5 6 0 6-1 6 0 6 0 6 1 6 1 6 2 6 2 6 2 6 3 6 2 6 2 6 2 6 2 6 3 6 3 6 5 6 8 6 8 6 10 6 9 6 7 6 4 6-2 6-7 6-10 5-10 6-7 6-5 6-3 6-1 6 0 6 0 13 2 12 3 5 1 19 2 19 1 19 2 20 4 19 4 19 1 19 1 19 2 19 4 19 3 19 1 19 1 19 3 19 3 20 2 19 3 19 3 19 3 19 1 19 0 19 2 19 4 19 2 19 1 20 1 19 3 19 3 19 2 19 1 19 2 19 2 19 2 19 1 19 3 20 2 19 2 19 1 19 1 19 3 19 2 12 1 7 0 7 0 7 1 8 1 7 3 7 4 7 7 7 11 7 15 8 18 7 19 7 15 7 9 7-2 7-17 8-26 7-26 7-20 7-12 7-7 7-4 8-3 7-4 7-3 7-3 18-9 18-7 18-6 18-5 18-4 17-3 18-3 18-2 18-3 18-3 18-1 18 0 18-2 18-3 18 0 17 3 12 3 8 2 7 1 7 2 7 2 7 1 7 3 8 6 7 11 7 16 7 23 7 30 7 33 8 34 7 35 7 34 7 31 7 31 7 30 7 30 8 30 7 28 7 27 7 26 7 22 7 20 8 17 7 13 7 10 7 7 7 3 7 2 8 1 7 1 7 0 7 1 7-1 7-1 8-2 7-3 7-3 7-2 5-2 12-4 13-4 12-5 13-6 12-7 13-6 13-7 12-9 13-9 12-9 13-11 12-13 13-16 12-16 13-15 12-16 13-19 12-21 13-22 12-19 13-17 13-17 12-18 13-18 12-17 13-17 12-16 13-15 12-13 13-9 12-9 13-9 12-11 13-10 12-8 13-7 13-8 12-8 13-10 12-9 13-7 12-8 13-8 12-11 13-11 12-9 13-7 12-7 13-9 12-11 13-9 13-6 12-6 13-7 12-7 13-5 12-3 13-3 12-5 13-6 12-4 13 1 12 0 13 0 12-1 13 1 12 3 13 3 13 2 12 0 13 3 12 3 13 4 12 2 13 3 12 4 13 5 12 3 13 1 12 2 13 4 12 5 13 3 13 2 12 1 13 1 12 2 13 1 12-1 13 0 12 0 13-2 12-11 13-15 12-11 13-11 12-10 13-9 13-7 12-4 13-2 12 0 13 1 12 6 13 9 12 11 13 14 12 14 13 14 12 13 13 11 12 8 13 6 13 3 3-1 9-6 9-11 9-15 9-17 9-18 9-18 9-17 9-15 9-12 9-7 9 0 9 2 8 4 9 4 9 6 9 6 9 8 9 11 9 58 9 135 9 158 9 125 9 39 9-27 9-56 9-68 9-65 9-47 9-27 9-26 9-24 9-24 9-21 8-20 9-20 9-18 9-16 9-13 9-11 9-8 9-6 9-4 9-2 9 0 9 0 9 1 9 3 9 2 9 2 9 2 9 3 9 10 9 111 9 177 8 151 9 41 9-39 9-76 9-95 9-99 9-84 9-53 9-9 9 4 9 8 9 60 9 161 9 132 9-20 9-131 9-112 9-9 9 6 9 9 9 12 8 14 9 15 9 17 9 18 9 18 9 18 9 18 9 16 9 16 9 16 9 15 9 16 9 15 9 15 9 16 9 17 9 17 9 18 9 17 9 17 3 5 0 341"/>
<path transform="scale(0.92303)" stroke-width="2.69" d="M0 3220l0-889 56 0 13 0 12 6 13 7 12 6 13 0 12-3 13-5 12 0 13 3 12 7 13 6 12 2 13-1 12-1 13-1 13 2 12 2 13 3 12 2 13 3 12 4 13 6 12 5 13 1 12-2 13-3 12-2 13 3 12 6 13 8 13 4 12 2 13-1 12 0 13 2 12 5 13 5 12 5 13 3 12 3 13 3 12 3 13 2 12 0 13 1 13 1 12 4 13 7 12 8 13 6 12 1 13-1 12-2 13 1 12 6 13 8 12 7 13 5 12 3 13 2 13 2 12 5 13 5 12 5 13 5 12 6 13 6 12 7 13 6 12 4 13 3 12 1 13 3 12 6 13 6 12 2 13-9 13-19 12-20 13-17 12-10 13-6 12-7 13-12 12-16 13-15 12-9 13-3 12 0 13-1 12-4 13-5 13-5 12-1 13 0 12 2 13-1 12-2 13-3 12 0 13 2 12 4 13 3 12-1 13-4 12-3 13-1 13 3 12 3 13 2 12-1 13-5 12-4 13-1 12 2 13 3 12 2 13 0 12-1 13 1 12 1 13 3 13 1 12-1 13-3 12-2 13 1 12 2 13 2 12 0 13-2 12-3 13-1 12 2 13 5 9 3 6 2 6 1 6 0 6-1 6-1 6 0 6 0 6 4 6 11 6 18 6 24 5 18 6 1 6-22 6-25 6-13 6-4 6-2 6 0 6 0 6 0 6 1 6 1 6 2 6 2 6 2 6 3 6 2 6 2 6 2 6 2 6 3 6 3 6 6 6 7 6 9 6 10 6 9 6 7 6 4 6-2 6-7 6-10 5-10 6-8 6-5 6-3 6-1 6 0 6 0 13 2 12 3 5 1 19 2 19 1 19 2 20 4 19 4 19 1 19 1 19 2 19 4 19 3 19 1 19 1 19 3 19 3 20 2 19 3 19 3 19 3 19 0 19 1 19 2 19 4 19 2 19 1 20 1 19 3 19 3 19 2 19 1 19 2 19 2 19 2 19 1 19 2 20 3 19 2 19 1 19 1 19 2 19 3 12 1 7 0 7 0 7 1 8 1 7 3 7 4 7 8 7 12 7 15 8 18 7 19 7 15 7 9 7-2 7-18 8-27 7-27 7-19 7-13 7-6 7-4 8-4 7-3 7-3 7-4 18-8 18-7 18-6 18-5 18-5 17-2 18-3 18-2 18-3 18-3 18-1 18 0 18-2 18-3 18 0 17 3 12 3 8 2 7 1 7 2 7 2 7 1 7 3 8 6 7 11 7 16 7 23 7 30 7 33 8 34 7 35 7 33 7 32 7 31 7 30 7 30 8 30 7 28 7 27 7 26 7 22 7 20 8 16 7 14 7 10 7 7 7 3 7 1 8 2 7 1 7 0 7 1 7-1 7-1 8-2 7-3 7-3 7-3 5-1 12-4 13-4 12-5 13-6 12-7 13-6 13-8 12-8 13-9 12-9 13-11 12-13 13-16 12-16 13-15 12-16 13-19 12-22 13-21 12-19 13-17 13-17 12-18 13-18 12-18 13-16 12-16 13-15 12-13 13-9 12-9 13-9 12-11 13-10 12-8 13-7 13-8 12-8 13-10 12-9 13-7 12-8 13-8 12-11 13-11 12-9 13-7 12-7 13-9 12-11 13-9 13-7 12-6 13-6 12-7 13-5 12-3 13-3 12-5 13-7 12-3 13 0 12 1 13 0 12-1 13 1 12 3 13 3 13 2 12 0 13 2 12 4 13 4 12 2 13 3 12 4 13 5 12 3 13 1 12 2 13 4 12 5 13 3 13 2 12 1 13 1 12 2 13 1 12-1 13 0 12 0 13-2 12-11 13-15 12-11 13-10 12-10 13-10 13-7 12-4 13-2 12 0 13 2 12 5 13 9 12 12 13 13 12 14 13 14 12 14 13 11 12 8 13 7 13 3 3-1 9-5 9-11 9-15 9-18 9-18 9-18 9-18 9-15 9-12 9-7 9-1 9 2 8 4 9 5 9 5 9 7 9 8 9 11 9 62 9 139 9 160 9 126 9 36 9-30 9-58 9-69 9-66 9-46 9-27 9-27 9-25 9-23 9-21 8-20 9-20 9-18 9-16 9-14 9-10 9-9 9-6 9-4 9-2 9-1 9 0 9 2 9 2 9 2 9 2 9 2 9 2 9 8 9 105 9 179 8 159 9 50 9-37 9-77 9-97 9-101 9-88 9-55 9-10 9 4 9 7 9 60 9 165 9 135 9-21 9-134 9-113 9-9 9 6 9 10 9 11 8 14 9 15 9 17 9 18 9 19 9 18 9 17 9 17 9 16 9 16 9 16 9 15 9 15 9 16 9 16 9 17 9 17 9 18 9 17 9 17 3 6 0 320"/>
<path transform="scale(0.92482)" stroke-width="2.68" d="M0 3220l0-875 56 0 13 0 12 6 13 8 12 6 13 0 12-4 13-4 12-1 13 4 12 7 13 6 12 2 13 0 12-2 13-1 13 2 12 2 13 3 12 2 13 3 12 5 13 6 12 4 13 2 12-2 13-4 12-2 13 3 12 7 13 7 13 5 12 2 13-1 12 0 13 2 12 5 13 5 12 5 13 4 12 3 13 2 12 3 13 2 12 1 13 0 13 1 12 5 13 7 12 8 13 6 12 1 13-1 12-2 13 1 12 6 13 8 12 8 13 5 12 3 13 1 13 3 12 4 13 6 12 5 13 6 12 5 13 6 12 7 13 7 12 4 13 2 12 2 13 3 12 6 13 6 12 2 13-9 13-19 12-22 13-16 12-10 13-6 12-7 13-12 12-16 13-15 12-10 13-3 12 0 13 0 12-4 13-6 13-4 12-2 13 1 12 1 13 0 12-3 13-3 12 0 13 3 12 4 13 3 12-1 13-4 12-4 13-1 13 3 12 4 13 2 12-2 13-4 12-4 13-2 12 2 13 3 12 3 13 0 12-1 13 0 12 2 13 2 13 1 12-1 13-3 12-2 13 1 12 3 13 2 12 0 13-3 12-3 13-1 12 2 13 6 9 3 6 2 6 0 6 0 6 0 6-1 6-1 6 1 6 4 6 10 6 19 6 24 5 18 6 1 6-22 6-25 6-13 6-5 6-1 6 0 6-1 6 0 6 1 6 1 6 2 6 2 6 3 6 2 6 3 6 2 6 2 6 2 6 2 6 4 6 5 6 8 6 9 6 10 6 9 6 8 6 3 6-2 6-7 6-10 5-10 6-8 6-6 6-2 6-2 6 0 6 1 13 2 12 2 5 1 19 2 19 1 19 2 20 4 19 4 19 2 19 0 19 2 19 5 19 3 19 1 19 0 19 3 19 3 20 3 19 2 19 4 19 2 19 1 19 0 19 2 19 4 19 3 19 0 20 1 19 3 19 4 19 2 19 1 19 1 19 2 19 2 19 2 19 2 20 3 19 2 19 0 19 2 19 2 19 2 12 1 7 0 7 1 7 0 8 2 7 2 7 5 7 8 7 12 7 16 8 19 7 19 7 15 7 8 7-2 7-19 8-27 7-27 7-20 7-12 7-7 7-4 8-3 7-3 7-4 7-3 18-9 18-7 18-6 18-5 18-4 17-3 18-2 18-3 18-3 18-2 18-1 18-1 18-2 18-3 18 0 17 3 12 3 8 2 7 2 7 2 7 1 7 2 7 2 8 6 7 11 7 16 7 24 7 29 7 33 8 34 7 35 7 34 7 31 7 31 7 31 7 30 8 29 7 29 7 27 7 25 7 23 7 19 8 17 7 13 7 10 7 7 7 3 7 2 8 1 7 1 7 1 7 0 7 0 7-2 8-2 7-3 7-2 7-3 5-2 12-4 13-4 12-5 13-6 12-6 13-7 13-7 12-9 13-8 12-9 13-11 12-14 13-16 12-16 13-15 12-16 13-19 12-21 13-22 12-18 13-18 13-17 12-17 13-19 12-17 13-17 12-16 13-15 12-12 13-10 12-8 13-10 12-11 13-10 12-8 13-7 13-7 12-9 13-9 12-9 13-8 12-7 13-9 12-11 13-11 12-9 13-6 12-7 13-10 12-11 13-9 13-6 12-6 13-7 12-7 13-5 12-2 13-3 12-6 13-6 12-4 13 1 12 1 13-1 12-1 13 1 12 4 13 3 13 1 12 0 13 3 12 4 13 3 12 3 13 2 12 4 13 5 12 3 13 1 12 2 13 4 12 5 13 4 13 1 12 1 13 2 12 1 13 1 12 0 13 0 12-1 13-2 12-11 13-14 12-12 13-10 12-9 13-10 13-7 12-4 13-2 12 0 13 2 12 5 13 9 12 12 13 13 12 14 13 15 12 13 13 11 12 9 13 6 13 4 3 0 9-5 9-11 9-15 9-18 9-18 9-19 9-18 9-15 9-13 9-7 9-1 9 2 8 4 9 5 9 5 9 7 9 8 9 12 9 65 9 144 9 163 9 125 9 33 9-33 9-59 9-71 9-67 9-46 9-27 9-26 9-25 9-23 9-22 8-20 9-20 9-18 9-16 9-14 9-11 9-8 9-6 9-5 9-3 9 0 9 0 9 1 9 2 9 2 9 2 9 2 9 3 9 5 9 99 9 180 8 166 9 60 9-35 9-77 9-99 9-104 9-91 9-58 9-11 9 3 9 8 9 59 9 169 9 139 9-23 9-136 9-115 9-8 9 6 9 9 9 12 8 14 9 15 9 17 9 18 9 19 9 18 9 18 9 16 9 16 9 17 9 16 9 15 9 15 9 16 9 16 9 17 9 17 9 18 9 18 9 17 3 5 0 300"/>
<path transform="scale(0.92661)" stroke-width="2.68" d="M0 3220l0-861 56 0 13 1 12 6 13 8 12 7 13 0 12-4 13-5 12-1 13 4 12 7 13 7 12 2 13-1 12-2 13 0 13 1 12 3 13 2 12 3 13 3 12 5 13 6 12 5 13 1 12-2 13-4 12-2 13 3 12 7 13 7 13 6 12 1 13-1 12 0 13 2 12 5 13 6 12 5 13 4 12 2 13 3 12 3 13 2 12 1 13 0 13 1 12 4 13 8 12 9 13 6 12 1 13-2 12-2 13 1 12 6 13 9 12 8 13 5 12 3 13 1 13 3 12 5 13 5 12 6 13 5 12 6 13 6 12 7 13 7 12 4 13 3 12 1 13 3 12 6 13 7 12 2 13-10 13-19 12-22 13-17 12-11 13-5 12-7 13-12 12-16 13-15 12-10 13-3 12 1 13-1 12-4 13-6 13-5 12-2 13 1 12 2 13 0 12-3 13-3 12 0 13 3 12 4 13 3 12-1 13-4 12-4 13-1 13 3 12 4 13 2 12-2 13-4 12-5 13-1 12 2 13 3 12 3 13 0 12-1 13 0 12 2 13 3 13 1 12-2 13-3 12-2 13 1 12 3 13 2 12 0 13-3 12-4 13-1 12 3 13 5 9 4 6 2 6 1 6-1 6 0 6-1 6-1 6 0 6 4 6 11 6 19 6 24 5 19 6 0 6-22 6-24 6-14 6-5 6-1 6 0 6-1 6 0 6 1 6 1 6 2 6 2 6 3 6 3 6 2 6 2 6 2 6 2 6 3 6 3 6 6 6 7 6 9 6 10 6 10 6 8 6 3 6-2 6-7 6-11 5-10 6-8 6-6 6-2 6-2 6 0 6 1 13 2 12 2 5 1 19 2 19 1 19 2 20 4 19 4 19 2 19 0 19 2 19 5 19 3 19 1 19 0 19 3 19 3 20 2 19 3 19 4 19 2 19 1 19 0 19 2 19 4 19 3 19 0 20 1 19 3 19 4 19 2 19 1 19 1 19 2 19 2 19 1 19 3 20 3 19 2 19 0 19 1 19 3 19 2 12 1 7 0 7 1 7 1 8 1 7 3 7 5 7 8 7 13 7 16 8 19 7 19 7 15 7 8 7-2 7-20 8-28 7-27 7-20 7-12 7-7 7-4 8-3 7-4 7-3 7-3 18-9 18-7 18-6 18-5 18-4 17-3 18-2 18-3 18-3 18-3 18 0 18-1 18-2 18-3 18 0 17 3 12 3 8 2 7 2 7 2 7 1 7 2 7 2 8 6 7 11 7 16 7 24 7 29 7 33 8 34 7 35 7 34 7 31 7 31 7 31 7 30 8 29 7 29 7 27 7 25 7 23 7 19 8 17 7 13 7 10 7 7 7 3 7 2 8 1 7 1 7 1 7 0 7 0 7-2 8-2 7-3 7-3 7-3 5-1 12-4 13-4 12-5 13-6 12-6 13-7 13-7 12-9 13-8 12-10 13-10 12-14 13-16 12-16 13-15 12-16 13-19 12-21 13-22 12-19 13-17 13-17 12-17 13-19 12-17 13-17 12-16 13-15 12-12 13-10 12-8 13-10 12-11 13-10 12-8 13-7 13-7 12-9 13-9 12-9 13-8 12-7 13-9 12-11 13-11 12-9 13-6 12-7 13-10 12-11 13-9 13-6 12-6 13-7 12-7 13-5 12-2 13-3 12-6 13-6 12-4 13 1 12 1 13-1 12-1 13 1 12 4 13 3 13 1 12 0 13 2 12 5 13 3 12 2 13 3 12 4 13 5 12 3 13 1 12 2 13 4 12 5 13 4 13 1 12 1 13 2 12 1 13 1 12 0 13 0 12-1 13-2 12-11 13-14 12-11 13-10 12-10 13-9 13-8 12-4 13-1 12 0 13 1 12 6 13 9 12 11 13 14 12 14 13 14 12 14 13 11 12 9 13 7 13 3 3 0 9-4 9-10 9-16 9-17 9-19 9-19 9-18 9-16 9-13 9-8 9-1 9 2 8 4 9 5 9 6 9 7 9 8 9 12 9 69 9 148 9 166 9 125 9 29 9-35 9-62 9-72 9-67 9-45 9-27 9-27 9-25 9-23 9-22 8-20 9-20 9-18 9-17 9-14 9-11 9-8 9-6 9-5 9-3 9-1 9 0 9 1 9 3 9 2 9 1 9 2 9 3 9 3 9 93 9 180 8 173 9 70 9-32 9-77 9-101 9-107 9-94 9-61 9-13 9 4 9 8 9 58 9 173 9 142 9-25 9-138 9-116 9-8 9 6 9 9 9 12 8 14 9 16 9 17 9 18 9 18 9 19 9 18 9 16 9 17 9 16 9 16 9 16 9 15 9 15 9 16 9 18 9 17 9 18 9 18 9 17 3 6 0 278"/>
<path transform="scale(0.92840)" stroke-width="2.67" d="M0 3220l0-846 56 0 13 1 12 6 13 9 12 7 13 0 12-5 13-5 12-1 13 4 12 8 13 7 12 3 13-2 12-2 13-1 13 2 12 3 13 2 12 3 13 3 12 5 13 6 12 6 13 1 12-3 13-4 12-2 13 3 12 7 13 8 13 6 12 1 13-1 12-1 13 3 12 5 13 6 12 5 13 4 12 3 13 3 12 3 13 2 12 0 13 0 13 1 12 5 13 8 12 9 13 6 12 2 13-3 12-2 13 1 12 6 13 9 12 8 13 6 12 3 13 1 13 3 12 4 13 6 12 6 13 6 12 5 13 7 12 7 13 7 12 4 13 2 12 2 13 3 12 6 13 7 12 3 13-10 13-21 12-23 13-17 12-10 13-5 12-7 13-12 12-16 13-16 12-10 13-2 12 0 13 0 12-4 13-6 13-5 12-2 13 1 12 1 13 0 12-3 13-3 12 0 13 3 12 5 13 3 12-1 13-5 12-4 13-1 13 3 12 5 13 2 12-2 13-5 12-5 13-1 12 2 13 4 12 2 13 0 12-1 13 0 12 3 13 2 13 2 12-2 13-3 12-2 13 0 12 3 13 3 12 0 13-4 12-4 13-1 12 3 13 6 9 4 6 1 6 1 6 0 6 0 6-2 6-1 6 1 6 4 6 10 6 20 6 24 5 19 6 1 6-22 6-25 6-14 6-5 6-1 6-1 6 0 6 0 6 0 6 1 6 2 6 3 6 3 6 2 6 3 6 2 6 2 6 2 6 3 6 3 6 5 6 8 6 9 6 11 6 9 6 8 6 4 6-2 6-8 6-10 5-11 6-8 6-6 6-3 6-1 6 0 6 0 13 2 12 3 5 1 19 2 19 1 19 1 20 5 19 4 19 1 19 0 19 3 19 4 19 4 19 0 19 1 19 2 19 3 20 3 19 3 19 3 19 3 19 0 19 0 19 3 19 4 19 3 19 0 20 0 19 3 19 4 19 2 19 1 19 2 19 2 19 1 19 2 19 2 20 3 19 2 19 1 19 1 19 2 19 3 12 1 7 0 7 0 7 1 8 2 7 3 7 5 7 9 7 13 7 16 8 20 7 19 7 15 7 8 7-3 7-20 8-29 7-28 7-20 7-12 7-7 7-4 8-3 7-3 7-3 7-4 18-8 18-7 18-6 18-5 18-5 17-3 18-2 18-2 18-4 18-2 18-1 18 0 18-2 18-3 18-1 17 3 12 4 8 2 7 1 7 2 7 2 7 1 7 3 8 6 7 10 7 17 7 24 7 29 7 33 8 34 7 35 7 33 7 32 7 30 7 31 7 30 8 30 7 28 7 27 7 26 7 22 7 20 8 16 7 14 7 10 7 6 7 4 7 1 8 1 7 1 7 1 7 1 7-1 7-1 8-2 7-3 7-3 7-3 5-2 12-4 13-3 12-5 13-7 12-6 13-6 13-8 12-8 13-9 12-9 13-11 12-13 13-17 12-16 13-14 12-16 13-19 12-22 13-21 12-19 13-17 13-17 12-18 13-18 12-17 13-17 12-16 13-15 12-13 13-9 12-8 13-10 12-11 13-11 12-8 13-6 13-8 12-8 13-10 12-9 13-8 12-6 13-9 12-11 13-12 12-9 13-6 12-7 13-9 12-11 13-10 13-6 12-5 13-7 12-7 13-5 12-2 13-3 12-6 13-7 12-4 13 1 12 1 13 0 12-2 13 1 12 4 13 4 13 1 12 0 13 2 12 4 13 4 12 2 13 2 12 5 13 5 12 3 13 1 12 1 13 4 12 6 13 3 13 2 12 1 13 1 12 2 13 1 12-1 13 0 12 0 13-2 12-11 13-14 12-11 13-10 12-10 13-9 13-8 12-4 13-1 12 0 13 1 12 6 13 9 12 11 13 14 12 14 13 14 12 14 13 11 12 9 13 7 13 4 3 1 9-4 9-10 9-15 9-18 9-19 9-19 9-19 9-16 9-14 9-8 9-1 9 2 8 5 9 5 9 5 9 7 9 9 9 11 9 74 9 152 9 169 9 125 9 25 9-37 9-64 9-74 9-68 9-44 9-27 9-27 9-25 9-24 9-21 8-21 9-20 9-18 9-17 9-14 9-11 9-8 9-6 9-6 9-3 9-1 9 0 9 1 9 2 9 2 9 2 9 2 9 2 9 3 9 85 9 180 8 180 9 81 9-30 9-76 9-104 9-110 9-97 9-64 9-14 9 4 9 8 9 57 9 177 9 146 9-27 9-140 9-117 9-9 9 6 9 10 9 12 8 14 9 16 9 17 9 18 9 19 9 18 9 18 9 17 9 16 9 17 9 16 9 16 9 15 9 15 9 17 9 17 9 18 9 18 9 17 9 18 3 6 0 256"/>
<path transform="scale(0.93019)" stroke-width="2.67" d="M0 3220l0-831 56 0 13 1 12 7 13 9 12 7 13 1 12-5 13-6 12-2 13 5 12 8 13 7 12 3 13-1 12-3 13-1 13 2 12 3 13 3 12 2 13 3 12 6 13 7 12 5 13 1 12-3 13-5 12-2 13 3 12 8 13 8 13 6 12 2 13-2 12-1 13 3 12 5 13 6 12 6 13 4 12 3 13 3 12 3 13 2 12 0 13 0 13 1 12 5 13 8 12 10 13 6 12 2 13-3 12-3 13 1 12 6 13 10 12 9 13 5 12 3 13 1 13 3 12 5 13 6 12 6 13 5 12 6 13 7 12 8 13 6 12 5 13 2 12 1 13 3 12 7 13 7 12 3 13-11 13-21 12-23 13-18 12-10 13-5 12-6 13-12 12-17 13-16 12-10 13-2 12 1 13-1 12-4 13-6 13-6 12-2 13 2 12 2 13-1 12-3 13-3 12 0 13 3 12 5 13 4 12-2 13-4 12-5 13-1 13 3 12 5 13 3 12-2 13-6 12-5 13-2 12 3 13 4 12 2 13 0 12-1 13 1 12 2 13 3 13 1 12-2 13-3 12-3 13 1 12 3 13 3 12 0 13-4 12-4 13-2 12 4 13 6 9 4 6 2 6 1 6 0 6-1 6-1 6-1 6 0 6 4 6 10 6 20 6 25 5 19 6 1 6-23 6-25 6-14 6-5 6-1 6-1 6 0 6 0 6 0 6 1 6 2 6 3 6 3 6 3 6 2 6 3 6 2 6 2 6 2 6 4 6 5 6 7 6 10 6 10 6 10 6 8 6 4 6-2 6-8 6-11 5-10 6-9 6-6 6-3 6-1 6 0 6 0 13 2 12 3 5 1 19 2 19 1 19 1 20 5 19 4 19 1 19 0 19 3 19 5 19 3 19 0 19 1 19 2 19 4 20 2 19 3 19 3 19 3 19 1 19-1 19 3 19 4 19 3 19 0 20 0 19 3 19 4 19 3 19 0 19 2 19 2 19 2 19 1 19 2 20 3 19 2 19 1 19 1 19 2 19 3 12 1 7 0 7 1 7 0 8 2 7 3 7 6 7 9 7 13 7 18 8 19 7 20 7 15 7 7 7-3 7-22 8-29 7-28 7-20 7-12 7-7 7-4 8-3 7-3 7-3 7-4 18-8 18-7 18-6 18-5 18-5 17-2 18-3 18-2 18-3 18-3 18-1 18 0 18-2 18-3 18-1 17 3 12 4 8 2 7 2 7 1 7 2 7 1 7 3 8 6 7 11 7 16 7 24 7 29 7 33 8 34 7 35 7 33 7 32 7 30 7 31 7 31 8 29 7 29 7 27 7 25 7 22 7 20 8 16 7 14 7 10 7 6 7 4 7 1 8 1 7 1 7 1 7 1 7-1 7-1 8-2 7-3 7-3 7-3 5-2 12-4 13-3 12-5 13-6 12-7 13-6 13-8 12-8 13-9 12-9 13-10 12-14 13-17 12-16 13-14 12-16 13-19 12-22 13-21 12-19 13-17 13-17 12-18 13-18 12-17 13-17 12-16 13-15 12-13 13-9 12-8 13-10 12-11 13-11 12-8 13-6 13-7 12-9 13-10 12-9 13-7 12-7 13-9 12-11 13-12 12-9 13-6 12-6 13-10 12-11 13-10 13-6 12-5 13-7 12-7 13-5 12-2 13-3 12-6 13-7 12-4 13 1 12 1 13 0 12-2 13 1 12 4 13 4 13 1 12 0 13 2 12 4 13 4 12 2 13 2 12 5 13 5 12 3 13 1 12 1 13 4 12 6 13 4 13 1 12 1 13 1 12 2 13 1 12-1 13 0 12 0 13-2 12-11 13-14 12-11 13-10 12-9 13-10 13-8 12-4 13-1 12 0 13 2 12 5 13 9 12 12 13 14 12 14 13 15 12 13 13 12 12 9 13 7 13 4 3 0 9-4 9-11 9-15 9-19 9-19 9-19 9-18 9-17 9-13 9-8 9-1 9 2 8 5 9 5 9 6 9 7 9 9 9 13 9 85 9 158 9 167 9 117 9 15 9-40 9-66 9-74 9-66 9-42 9-27 9-27 9-25 9-23 9-21 8-21 9-19 9-19 9-16 9-14 9-11 9-8 9-7 9-5 9-4 9-2 9 0 9 2 9 2 9 2 9 2 9 1 9 2 9 3 9 76 9 180 8 184 9 89 9-27 9-75 9-102 9-111 9-99 9-67 9-17 9 3 9 8 9 49 9 176 9 154 9-16 9-139 9-123 9-12 9 7 9 9 9 12 8 14 9 16 9 17 9 19 9 18 9 19 9 18 9 17 9 16 9 17 9 16 9 16 9 15 9 16 9 16 9 17 9 18 9 18 9 18 9 17 3 6 0 236"/>
<path transform="scale(0.93198)" stroke-width="2.66" d="M0 3220l0-815 56 0 13 1 12 7 13 10 12 7 13 1 12-6 13-6 12-2 13 5 12 9 13 8 12 3 13-2 12-3 13-1 13 2 12 3 13 3 12 2 13 4 12 5 13 7 12 6 13 1 12-3 13-5 12-3 13 3 12 8 13 9 13 6 12 2 13-2 12-1 13 2 12 6 13 7 12 5 13 4 12 3 13 3 12 3 13 2 12 0 13 0 13 1 12 5 13 9 12 10 13 7 12 1 13-3 12-3 13 1 12 6 13 10 12 9 13 6 12 3 13 1 13 3 12 5 13 6 12 6 13 6 12 6 13 7 12 8 13 6 12 5 13 2 12 1 13 3 12 7 13 8 12 3 13-11 13-22 12-24 13-19 12-10 13-4 12-6 13-12 12-17 13-16 12-11 13-2 12 2 13-1 12-4 13-7 13-5 12-2 13 1 12 2 13 0 12-3 13-4 12 0 13 4 12 5 13 4 12-2 13-5 12-5 13-1 13 4 12 5 13 3 12-2 13-6 12-6 13-2 12 3 13 4 12 3 13 0 12-1 13 0 12 3 13 3 13 1 12-2 13-3 12-3 13 1 12 3 13 3 12 0 13-4 12-5 13-1 12 3 13 7 9 4 6 2 6 1 6 0 6-1 6-2 6-1 6 0 6 4 6 11 6 20 6 25 5 19 6 1 6-22 6-26 6-14 6-5 6-1 6-1 6-1 6 0 6 1 6 1 6 2 6 3 6 3 6 3 6 2 6 3 6 2 6 2 6 2 6 4 6 5 6 8 6 9 6 11 6 10 6 8 6 4 6-2 6-8 6-11 5-11 6-9 6-6 6-3 6-1 6-1 6 1 13 2 12 3 5 0 19 3 19 0 19 2 20 5 19 4 19 1 19 0 19 2 19 5 19 4 19 0 19 0 19 3 19 3 20 3 19 2 19 4 19 3 19 0 19 0 19 2 19 5 19 3 19-1 20 1 19 3 19 4 19 3 19 0 19 1 19 2 19 2 19 2 19 2 20 3 19 2 19 1 19 0 19 3 19 3 12 1 7 0 7 0 7 1 8 2 7 3 7 6 7 10 7 14 7 17 8 20 7 20 7 15 7 7 7-4 7-22 8-30 7-28 7-21 7-12 7-6 7-4 8-3 7-3 7-4 7-3 18-9 18-7 18-5 18-6 18-4 17-3 18-2 18-2 18-4 18-2 18-1 18 0 18-2 18-4 18 0 17 3 12 4 8 2 7 1 7 2 7 2 7 1 7 3 8 6 7 10 7 17 7 23 7 30 7 33 8 34 7 34 7 34 7 31 7 31 7 31 7 30 8 30 7 29 7 27 7 25 7 22 7 20 8 16 7 13 7 10 7 7 7 3 7 2 8 1 7 1 7 1 7 0 7 0 7-1 8-3 7-3 7-3 7-3 5-1 12-4 13-3 12-5 13-7 12-6 13-7 13-7 12-8 13-9 12-9 13-11 12-14 13-16 12-16 13-15 12-15 13-19 12-22 13-22 12-19 13-16 13-17 12-18 13-18 12-18 13-16 12-16 13-16 12-12 13-9 12-8 13-10 12-12 13-10 12-8 13-7 13-7 12-8 13-10 12-9 13-8 12-6 13-9 12-11 13-12 12-9 13-6 12-7 13-9 12-12 13-9 13-6 12-6 13-7 12-7 13-4 12-2 13-3 12-6 13-8 12-3 13 1 12 1 13-1 12-1 13 1 12 4 13 4 13 1 12-1 13 2 12 5 13 4 12 2 13 2 12 4 13 6 12 3 13 0 12 1 13 5 12 5 13 4 13 2 12 1 13 1 12 2 13 0 12 0 13 0 12 0 13-2 12-11 13-14 12-11 13-10 12-9 13-10 13-8 12-4 13-1 12 0 13 2 12 5 13 10 12 12 13 13 12 15 13 15 12 13 13 12 12 9 13 7 13 3 3 1 9-5 9-11 9-16 9-19 9-19 9-19 9-19 9-16 9-14 9-7 9-1 9 3 8 5 9 5 9 6 9 7 9 10 9 16 9 97 9 162 9 165 9 108 9 6 9-44 9-67 9-74 9-65 9-39 9-27 9-27 9-25 9-23 9-21 8-20 9-19 9-19 9-16 9-14 9-11 9-8 9-7 9-5 9-5 9-1 9 0 9 1 9 2 9 2 9 2 9 1 9 2 9 3 9 68 9 177 8 189 9 98 9-24 9-73 9-103 9-111 9-101 9-70 9-20 9 3 9 8 9 42 9 173 9 163 9-6 9-137 9-128 9-16 9 6 9 10 9 12 8 14 9 16 9 17 9 19 9 19 9 19 9 18 9 17 9 16 9 17 9 17 9 15 9 15 9 16 9 16 9 17 9 18 9 18 9 17 9 18 3 5 0 216"/>
<path transform="scale(0.93377)" stroke-width="2.66" d="M0 3220l0-799 56 0 13 1 12 7 13 11 12 8 13 0 12-5 13-7 12-2 13 5 12 9 13 8 12 3 13-1 12-3 13-2 13 2 12 3 13 3 12 3 13 3 12 6 13 8 12 5 13 2 12-4 13-6 12-3 13 3 12 9 13 9 13 7 12 1 13-2 12-1 13 2 12 6 13 7 12 6 13 4 12 3 13 3 12 3 13 2 12 0 13 0 13 1 12 5 13 10 12 10 13 7 12 1 13-3 12-4 13 1 12 6 13 11 12 10 13 6 12 2 13 2 13 2 12 5 13 7 12 6 13 6 12 6 13 7 12 8 13 7 12 5 13 2 12 1 13 3 12 7 13 8 12 3 13-11 13-23 12-25 13-18 12-10 13-4 12-6 13-12 12-17 13-17 12-10 13-2 12 1 13 0 12-4 13-7 13-6 12-2 13 1 12 3 13-1 12-3 13-4 12 0 13 4 12 6 13 4 12-2 13-5 12-6 13-1 13 4 12 6 13 3 12-3 13-6 12-6 13-2 12 3 13 4 12 3 13 1 12-2 13 0 12 3 13 3 13 2 12-2 13-4 12-3 13 1 12 3 13 3 12 0 13-4 12-5 13-2 12 4 13 7 9 4 6 2 6 1 6 0 6-1 6-1 6-2 6 0 6 4 6 11 6 20 6 25 5 20 6 1 6-22 6-26 6-14 6-5 6-2 6-1 6 0 6-1 6 1 6 1 6 2 6 3 6 3 6 3 6 3 6 2 6 2 6 2 6 3 6 3 6 6 6 7 6 10 6 11 6 10 6 8 6 4 6-2 6-8 6-11 5-11 6-9 6-6 6-4 6-1 6 0 6 0 13 2 12 3 5 1 19 2 19 0 19 2 20 5 19 5 19 0 19 0 19 2 19 6 19 3 19 0 19 0 19 3 19 3 20 3 19 3 19 4 19 3 19 0 19-1 19 2 19 5 19 3 19 0 20 0 19 3 19 5 19 2 19 0 19 2 19 2 19 1 19 2 19 2 20 4 19 1 19 1 19 1 19 2 19 3 12 1 7 0 7 1 7 1 8 1 7 4 7 6 7 10 7 14 7 19 8 20 7 20 7 15 7 7 7-5 7-23 8-31 7-28 7-20 7-12 7-7 7-4 8-3 7-3 7-3 7-4 18-8 18-7 18-6 18-5 18-5 17-2 18-2 18-3 18-4 18-2 18-1 18 0 18-2 18-3 18-1 17 3 12 4 8 2 7 2 7 1 7 2 7 1 7 3 8 6 7 11 7 16 7 24 7 29 7 33 8 34 7 35 7 33 7 32 7 30 7 31 7 31 8 29 7 29 7 27 7 25 7 22 7 20 8 16 7 14 7 10 7 6 7 3 7 2 8 1 7 1 7 1 7 1 7-1 7-1 8-2 7-3 7-4 7-3 5-1 12-4 13-3 12-5 13-6 12-7 13-6 13-8 12-8 13-9 12-9 13-10 12-14 13-17 12-16 13-15 12-15 13-19 12-22 13-22 12-18 13-17 13-17 12-17 13-19 12-17 13-17 12-16 13-15 12-13 13-9 12-8 13-10 12-11 13-11 12-8 13-7 13-6 12-9 13-10 12-9 13-7 12-7 13-9 12-11 13-12 12-9 13-6 12-6 13-10 12-11 13-10 13-6 12-5 13-7 12-8 13-4 12-1 13-3 12-7 13-8 12-3 13 1 12 2 13-1 12-2 13 1 12 4 13 4 13 1 12 0 13 2 12 4 13 4 12 2 13 2 12 5 13 5 12 3 13 1 12 1 13 4 12 6 13 4 13 1 12 1 13 1 12 2 13 1 12-1 13 0 12 0 13-2 12-11 13-14 12-11 13-9 12-10 13-10 13-8 12-3 13-1 12 0 13 2 12 5 13 9 12 13 13 14 12 14 13 15 12 14 13 11 12 9 13 7 13 4 3 0 9-5 9-12 9-16 9-19 9-20 9-19 9-18 9-17 9-13 9-8 9 0 9 3 8 5 9 6 9 6 9 7 9 10 9 21 9 108 9 165 9 162 9 99 9-2 9-47 9-69 9-73 9-64 9-37 9-27 9-26 9-25 9-23 9-20 8-20 9-19 9-19 9-17 9-13 9-11 9-8 9-7 9-6 9-4 9-3 9 0 9 2 9 2 9 2 9 1 9 2 9 2 9 2 9 60 9 175 8 193 9 106 9-20 9-71 9-102 9-112 9-103 9-72 9-24 9 3 9 7 9 35 9 171 9 170 9 6 9-135 9-133 9-20 9 6 9 9 9 13 8 14 9 16 9 17 9 19 9 19 9 19 9 18 9 17 9 17 9 17 9 16 9 16 9 15 9 15 9 16 9 17 9 19 9 17 9 18 9 17 3 6 0 194"/>
<path transform="scale(0.93556)" stroke-width="2.65" d="M0 3220l0-782 56 0 13 0 12 9 13 11 12 8 13 1 12-7 13-7 12-2 13 5 12 10 13 9 12 3 13-2 12-4 13-1 13 1 12 4 13 3 12 3 13 3 12 7 13 7 12 7 13 1 12-4 13-7 12-3 13 3 12 9 13 10 13 7 12 1 13-2 12-2 13 3 12 6 13 7 12 7 13 4 12 3 13 3 12 3 13 2 12 0 13-1 13 1 12 6 13 10 12 11 13 7 12 1 13-4 12-4 13 0 12 8 13 10 12 11 13 6 12 3 13 1 13 2 12 5 13 7 12 6 13 6 12 6 13 8 12 8 13 8 12 4 13 2 12 1 13 3 12 7 13 9 12 3 13-11 13-24 12-26 13-19 12-10 13-3 12-5 13-12 12-18 13-17 12-11 13-1 12 1 13 0 12-4 13-7 13-7 12-2 13 2 12 2 13 0 12-3 13-4 12-1 13 4 12 7 13 4 12-1 13-6 12-6 13-1 13 4 12 6 13 3 12-2 13-7 12-6 13-3 12 3 13 5 12 3 13 1 12-2 13 0 12 3 13 4 13 1 12-2 13-4 12-3 13 0 12 4 13 4 12-1 13-4 12-6 13-2 12 4 13 8 9 4 6 3 6 1 6-1 6-1 6-1 6-2 6 0 6 4 6 11 6 20 6 26 5 19 6 2 6-23 6-26 6-14 6-5 6-1 6-2 6 0 6-1 6 1 6 1 6 2 6 3 6 3 6 3 6 3 6 3 6 2 6 2 6 2 6 4 6 5 6 8 6 9 6 11 6 11 6 8 6 4 6-2 6-8 6-11 5-12 6-9 6-6 6-4 6-1 6-1 6 1 13 2 12 3 5 1 19 2 19 0 19 2 20 5 19 5 19 0 19 0 19 2 19 6 19 3 19 0 19 0 19 3 19 3 20 3 19 3 19 4 19 3 19 0 19-1 19 2 19 5 19 3 19 0 20 0 19 3 19 5 19 2 19 0 19 2 19 2 19 1 19 2 19 2 20 4 19 1 19 1 19 1 19 2 19 3 12 1 7 0 7 1 7 1 8 2 7 3 7 7 7 10 7 15 7 19 8 20 7 20 7 15 7 7 7-6 7-23 8-32 7-29 7-20 7-12 7-6 7-4 8-3 7-3 7-4 7-3 18-8 18-7 18-6 18-6 18-4 17-3 18-1 18-3 18-4 18-2 18-1 18 0 18-2 18-4 18 0 17 3 12 4 8 2 7 2 7 1 7 2 7 1 7 3 8 6 7 10 7 17 7 24 7 30 7 32 8 34 7 35 7 33 7 32 7 30 7 31 7 31 8 29 7 29 7 27 7 25 7 23 7 19 8 16 7 14 7 10 7 6 7 3 7 2 8 1 7 1 7 1 7 1 7-1 7-1 8-3 7-3 7-3 7-3 5-2 12-3 13-3 12-5 13-6 12-7 13-6 13-8 12-8 13-9 12-9 13-10 12-14 13-17 12-16 13-15 12-15 13-18 12-23 13-22 12-19 13-16 13-16 12-18 13-19 12-17 13-17 12-16 13-15 12-13 13-8 12-9 13-10 12-12 13-10 12-8 13-7 13-6 12-9 13-10 12-9 13-7 12-7 13-9 12-11 13-12 12-9 13-6 12-6 13-10 12-12 13-9 13-6 12-5 13-7 12-8 13-4 12-1 13-3 12-7 13-8 12-4 13 1 12 3 13-1 12-2 13 1 12 4 13 4 13 1 12-1 13 2 12 5 13 4 12 2 13 2 12 5 13 5 12 3 13 0 12 1 13 5 12 6 13 4 13 1 12 1 13 1 12 2 13 1 12-1 13 0 12 0 13-2 12-11 13-14 12-11 13-9 12-10 13-10 13-8 12-3 13-1 12 0 13 2 12 5 13 10 12 12 13 14 12 15 13 16 12 13 13 12 12 8 13 7 13 4 3 0 9-6 9-12 9-17 9-19 9-20 9-19 9-19 9-16 9-13 9-7 9 0 9 3 8 5 9 6 9 7 9 7 9 10 9 27 9 118 9 168 9 158 9 89 9-9 9-50 9-70 9-73 9-62 9-35 9-27 9-26 9-24 9-23 9-20 8-20 9-19 9-19 9-16 9-14 9-11 9-8 9-7 9-6 9-5 9-2 9 0 9 1 9 2 9 2 9 2 9 1 9 2 9 2 9 52 9 173 8 196 9 115 9-16 9-70 9-101 9-112 9-105 9-75 9-27 9 2 9 7 9 29 9 167 9 176 9 18 9-131 9-138 9-25 9 6 9 9 9 13 8 14 9 16 9 17 9 19 9 19 9 19 9 19 9 17 9 17 9 17 9 17 9 15 9 15 9 15 9 16 9 18 9 18 9 18 9 17 9 17 3 6 0 172"/>
<path transform="scale(0.93735)" stroke-width="2.65" d="M0 3220l0-765 56 0 13 1 12 8 13 12 12 9 13 0 12-7 13-7 12-3 13 6 12 10 13 9 12 4 13-2 12-4 13-2 13 2 12 3 13 3 12 3 13 4 12 7 13 8 12 6 13 1 12-4 13-7 12-4 13 4 12 9 13 11 13 7 12 1 13-3 12-1 13 2 12 6 13 8 12 7 13 4 12 3 13 3 12 3 13 2 12 0 13-1 13 1 12 6 13 10 12 12 13 7 12 1 13-4 12-5 13 1 12 7 13 12 12 10 13 7 12 2 13 1 13 3 12 5 13 7 12 7 13 6 12 6 13 7 12 9 13 8 12 4 13 2 12 0 13 4 12 7 13 10 12 3 13-12 13-24 12-27 13-19 12-10 13-3 12-5 13-12 12-18 13-18 12-10 13-2 12 2 13 0 12-4 13-8 13-6 12-3 13 2 12 3 13 0 12-4 13-4 12-1 13 5 12 7 13 4 12-1 13-6 12-7 13-1 13 4 12 7 13 3 12-3 13-7 12-6 13-3 12 3 13 6 12 3 13 0 12-1 13 0 12 3 13 3 13 2 12-2 13-5 12-3 13 1 12 4 13 3 12 0 13-5 12-6 13-2 12 4 13 8 9 5 6 3 6 1 6-1 6-1 6-2 6-1 6 0 6 3 6 11 6 21 6 26 5 20 6 1 6-23 6-26 6-14 6-5 6-2 6-1 6-1 6 0 6 0 6 1 6 2 6 3 6 4 6 3 6 3 6 3 6 2 6 2 6 2 6 3 6 6 6 8 6 9 6 12 6 10 6 9 6 4 6-2 6-8 6-12 5-12 6-9 6-6 6-4 6-2 6 0 6 0 13 2 12 3 5 1 19 3 19 0 19 1 20 6 19 4 19 1 19-1 19 3 19 5 19 4 19 0 19 0 19 2 19 4 20 2 19 3 19 4 19 3 19 0 19-1 19 3 19 5 19 3 19-1 20 0 19 4 19 4 19 3 19 0 19 1 19 2 19 2 19 1 19 3 20 3 19 2 19 0 19 1 19 3 19 3 12 1 7 0 7 0 7 1 8 2 7 4 7 7 7 11 7 15 7 19 8 21 7 20 7 15 7 7 7-7 7-24 8-32 7-29 7-20 7-12 7-7 7-3 8-3 7-4 7-3 7-3 18-9 18-7 18-5 18-6 18-5 17-2 18-2 18-2 18-4 18-3 18 0 18 0 18-2 18-4 18-1 17 4 12 3 8 3 7 1 7 2 7 1 7 2 7 2 8 6 7 11 7 17 7 24 7 29 7 33 8 34 7 34 7 34 7 31 7 31 7 31 7 30 8 30 7 29 7 27 7 25 7 22 7 19 8 17 7 13 7 10 7 7 7 3 7 1 8 1 7 2 7 1 7 0 7 0 7-1 8-3 7-3 7-4 7-3 5-1 12-3 13-3 12-5 13-7 12-6 13-7 13-7 12-9 13-9 12-8 13-11 12-14 13-17 12-16 13-14 12-15 13-19 12-22 13-23 12-18 13-16 13-17 12-18 13-18 12-18 13-16 12-16 13-16 12-12 13-9 12-8 13-10 12-12 13-11 12-8 13-6 13-7 12-8 13-11 12-9 13-7 12-6 13-9 12-12 13-12 12-9 13-5 12-6 13-10 12-12 13-10 13-6 12-5 13-7 12-7 13-4 12-1 13-3 12-7 13-8 12-5 13 2 12 2 13-1 12-2 13 1 12 5 13 4 13 1 12-1 13 2 12 4 13 4 12 2 13 2 12 5 13 6 12 3 13 0 12 0 13 5 12 6 13 5 13 1 12 0 13 2 12 2 13 0 12 0 13 0 12 0 13-2 12-11 13-14 12-11 13-9 12-10 13-10 13-8 12-3 13-1 12 0 13 2 12 5 13 10 12 13 13 14 12 15 13 15 12 14 13 12 12 8 13 7 13 3 3 0 9-6 9-13 9-17 9-19 9-20 9-20 9-18 9-16 9-13 9-7 9 0 9 4 8 5 9 6 9 7 9 8 9 10 9 35 9 126 9 170 9 155 9 78 9-16 9-52 9-71 9-73 9-60 9-34 9-26 9-26 9-24 9-23 9-20 8-19 9-19 9-19 9-16 9-14 9-10 9-9 9-6 9-7 9-5 9-3 9 0 9 1 9 2 9 2 9 2 9 1 9 1 9 3 9 45 9 169 8 199 9 123 9-11 9-68 9-100 9-113 9-106 9-78 9-31 9 2 9 7 9 23 9 162 9 183 9 30 9-128 9-142 9-31 9 6 9 10 9 12 8 15 9 16 9 17 9 19 9 20 9 19 9 18 9 18 9 17 9 17 9 16 9 16 9 15 9 15 9 16 9 17 9 18 9 18 9 18 9 16 3 6 0 150"/>
<path transform="scale(0.93914)" stroke-width="2.64" d="M0 3220l0-747 56 0 13 0 12 9 13 13 12 9 13 1 12-8 13-8 12-3 13 6 12 11 13 10 12 3 13-2 12-4 13-2 13 1 12 4 13 3 12 3 13 4 12 7 13 9 12 6 13 2 12-5 13-8 12-4 13 3 12 10 13 12 13 7 12 1 13-3 12-2 13 2 12 7 13 8 12 7 13 5 12 3 13 3 12 3 13 2 12 0 13-1 13 0 12 6 13 11 12 13 13 8 12 0 13-5 12-5 13 1 12 7 13 12 12 12 13 7 12 2 13 1 13 2 12 5 13 7 12 7 13 6 12 7 13 8 12 9 13 7 12 5 13 1 12 1 13 3 12 8 13 10 12 4 13-13 13-25 12-27 13-20 12-10 13-3 12-4 13-12 12-19 13-17 12-12 13-1 12 3 13 0 12-5 13-8 13-7 12-2 13 2 12 3 13 0 12-4 13-4 12-1 13 5 12 7 13 5 12-2 13-6 12-7 13-1 13 5 12 6 13 4 12-3 13-8 12-7 13-2 12 3 13 6 12 3 13 1 12-2 13 0 12 3 13 4 13 2 12-2 13-5 12-4 13 1 12 4 13 4 12-1 13-5 12-6 13-2 12 4 13 8 9 6 6 2 6 1 6 0 6-1 6-2 6-2 6 0 6 3 6 11 6 21 6 26 5 21 6 1 6-23 6-26 6-14 6-5 6-2 6-2 6-1 6 0 6 0 6 1 6 3 6 3 6 3 6 3 6 4 6 2 6 2 6 2 6 3 6 3 6 5 6 8 6 10 6 11 6 11 6 9 6 4 6-2 6-8 6-12 5-12 6-10 6-6 6-4 6-1 6-1 6 0 13 3 12 3 5 1 19 2 19 0 19 1 20 6 19 5 19 0 19-1 19 3 19 5 19 4 19 0 19 0 19 2 19 4 20 3 19 2 19 5 19 3 19 0 19-2 19 3 19 5 19 3 19-1 20 0 19 4 19 5 19 2 19 0 19 1 19 2 19 2 19 2 19 2 20 3 19 2 19 0 19 1 19 3 19 3 12 1 7 0 7 1 7 1 8 2 7 4 7 7 7 12 7 15 7 20 8 21 7 20 7 15 7 6 7-7 7-25 8-33 7-29 7-20 7-12 7-6 7-4 8-3 7-3 7-4 7-3 18-9 18-6 18-6 18-6 18-4 17-3 18-2 18-2 18-4 18-3 18 0 18 0 18-2 18-4 18-1 17 4 12 4 8 2 7 2 7 1 7 2 7 1 7 3 8 6 7 10 7 17 7 24 7 30 7 32 8 34 7 35 7 33 7 31 7 31 7 31 7 31 8 30 7 28 7 27 7 25 7 22 7 20 8 16 7 13 7 10 7 7 7 3 7 1 8 1 7 2 7 1 7 1 7-1 7-1 8-3 7-3 7-4 7-3 5-1 12-3 13-3 12-5 13-7 12-6 13-7 13-7 12-9 13-8 12-9 13-10 12-15 13-17 12-16 13-14 12-15 13-18 12-23 13-23 12-18 13-16 13-16 12-18 13-19 12-17 13-17 12-16 13-15 12-13 13-8 12-8 13-11 12-12 13-11 12-8 13-6 13-6 12-9 13-10 12-10 13-7 12-6 13-8 12-12 13-13 12-9 13-5 12-6 13-10 12-12 13-10 13-6 12-4 13-7 12-8 13-4 12-1 13-2 12-8 13-8 12-5 13 2 12 2 13-1 12-2 13 1 12 5 13 5 13 0 12-1 13 2 12 5 13 4 12 1 13 2 12 5 13 6 12 3 13 0 12 0 13 5 12 7 13 4 13 1 12 1 13 1 12 2 13 1 12-1 13 0 12 0 13-2 12-11 13-14 12-11 13-9 12-9 13-11 13-8 12-3 13 0 12 0 13 2 12 5 13 10 12 13 13 14 12 15 13 16 12 14 13 11 12 9 13 6 13 4 3-1 9-7 9-13 9-17 9-20 9-20 9-19 9-19 9-16 9-13 9-7 9 1 9 4 8 6 9 6 9 7 9 8 9 10 9 44 9 135 9 172 9 149 9 67 9-21 9-55 9-72 9-72 9-59 9-32 9-26 9-25 9-25 9-22 9-20 8-19 9-19 9-18 9-17 9-13 9-11 9-8 9-7 9-6 9-6 9-3 9 0 9 1 9 2 9 2 9 2 9 0 9 2 9 2 9 38 9 166 8 202 9 131 9-6 9-66 9-100 9-113 9-107 9-82 9-34 9 2 9 6 9 19 9 155 9 190 9 42 9-124 9-146 9-36 9 6 9 9 9 13 8 14 9 16 9 18 9 19 9 20 9 19 9 18 9 18 9 17 9 17 9 17 9 16 9 15 9 14 9 16 9 18 9 18 9 18 9 17 9 17 3 5 0 127"/>
<path transform="scale(0.94093)" stroke-width="2.64" d="M0 3220l0-729 56 0 13 0 12 10 13 14 12 9 13 1 12-8 13-10 12-2 13 6 12 11 13 11 12 3 13-2 12-5 13-2 13 1 12 4 13 4 12 3 13 4 12 7 13 9 12 7 13 1 12-5 13-8 12-5 13 4 12 10 13 12 13 8 12 1 13-3 12-2 13 2 12 7 13 8 12 8 13 4 12 3 13 4 12 3 13 2 12-1 13-1 13 0 12 7 13 11 12 13 13 8 12 1 13-5 12-6 13 0 12 8 13 13 12 12 13 7 12 2 13 0 13 3 12 5 13 8 12 7 13 6 12 6 13 9 12 9 13 8 12 4 13 2 12 0 13 3 12 9 13 10 12 4 13-13 13-26 12-28 13-21 12-9 13-2 12-5 13-12 12-18 13-19 12-11 13-1 12 3 13 0 12-4 13-9 13-7 12-2 13 2 12 3 13 0 12-4 13-5 12 0 13 5 12 8 13 4 12-1 13-7 12-7 13-2 13 5 12 8 13 3 12-3 13-8 12-7 13-3 12 4 13 5 12 4 13 1 12-2 13 0 12 3 13 4 13 2 12-2 13-6 12-3 13 0 12 5 13 4 12 0 13-6 12-7 13-2 12 4 13 9 9 6 6 2 6 1 6 0 6-1 6-2 6-2 6-1 6 4 6 11 6 21 6 26 5 21 6 2 6-23 6-26 6-15 6-5 6-2 6-2 6-1 6 0 6 0 6 1 6 2 6 3 6 4 6 4 6 3 6 3 6 2 6 2 6 2 6 3 6 6 6 7 6 11 6 11 6 11 6 9 6 4 6-2 6-8 6-12 5-13 6-9 6-7 6-4 6-1 6-1 6 0 13 3 12 3 5 1 19 2 19 0 19 1 20 6 19 5 19 0 19-1 19 2 19 6 19 4 19 0 19-1 19 3 19 4 20 2 19 3 19 5 19 3 19-1 19-1 19 3 19 5 19 3 19-1 20 0 19 4 19 5 19 2 19 0 19 1 19 2 19 2 19 1 19 3 20 3 19 2 19 0 19 1 19 3 19 3 12 1 7 0 7 1 7 1 8 2 7 5 7 7 7 12 7 16 7 20 8 21 7 20 7 15 7 6 7-8 7-26 8-33 7-30 7-20 7-11 7-7 7-3 8-3 7-4 7-3 7-3 18-9 18-6 18-6 18-6 18-5 17-2 18-2 18-2 18-4 18-3 18 0 18 0 18-2 18-4 18-1 17 4 12 4 8 2 7 2 7 1 7 2 7 1 7 2 8 6 7 11 7 17 7 24 7 30 7 32 8 34 7 35 7 33 7 31 7 31 7 31 7 31 8 30 7 28 7 27 7 25 7 22 7 20 8 16 7 13 6 9M3639 3220l10-2 13-3 12-5 13-7 12-6 13-7 13-7 12-9 13-9 12-8 13-10 12-15 13-17 12-17 13-13 12-15 13-18 12-23 13-23 12-18 13-16 13-16 12-18 13-19 12-17 13-17 12-16 13-16 12-12 13-8 12-8 13-11 12-12 13-11 12-8 13-6 13-6 12-9 13-10 12-10 13-7 12-6 13-8 12-13 13-12 12-9 13-5 12-6 13-10 12-12 13-10 13-6 12-4 13-7 12-8 13-4 12-1 13-2 12-8 13-9 12-4 13 2 12 2 13-1 12-2 13 1 12 5 13 5 13 0 12-1 13 1 12 5 13 5 12 1 13 2 12 5 13 6 12 3 13 0 12 0 13 5 12 6 13 5 13 1 12 1 13 1 12 2 13 1 12-1 13 0 12 0 13-1 12-12 13-14 12-11 13-8 12-10 13-11 13-8 12-3 13 0 12 0 13 2 12 5 13 10 12 13 13 15 12 15 13 16 12 14 13 11 12 9 13 6 13 3 3 0 9-7 9-14 9-18 9-20 9-20 9-20 9-18 9-16 9-13 9-6 9 1 9 4 8 6 9 7 9 7 9 8 9 11 9 54 9 141 9 173 9 144 9 56 9-26 9-57 9-73 9-72 9-56 9-31 9-25 9-26 9-24 9-22 9-20 8-19 9-18 9-19 9-16 9-14 9-10 9-8 9-7 9-7 9-6 9-4 9 0 9 1 9 3 9 2 9 1 9 1 9 1 9 2 9 32 9 161 8 205 9 139 9-1 9-64 9-98 9-114 9-109 9-84 9-38 9 1 9 6 9 15 9 148 9 195 9 56 9-120 9-150 9-42 9 6 9 10 9 12 8 14 9 16 9 18 9 19 9 20 9 19 9 19 9 18 9 17 9 18 9 16 9 16 9 15 9 15 9 15 9 18 9 18 9 18 9 17 9 17 3 5 0 103"/>
<path transform="scale(0.94272)" stroke-width="2.63" d="M0 3220l0-710 56 0 13 0 12 10 13 14 12 11 13 0 12-8 13-10 12-3 13 6 12 12 13 11 12 4 13-3 12-5 13-2 13 1 12 4 13 4 12 3 13 4 12 8 13 9 12 8 13 1 12-6 13-9 12-5 13 4 12 11 13 12 13 8 12 2 13-4 12-3 13 3 12 7 13 9 12 7 13 5 12 4 13 3 12 3 13 2 12-1 13-2 13 1 12 7 13 12 12 13 13 9 12 0 13-6 12-6 13 0 12 9 13 13 12 12 13 8 12 2 13 0 13 2 12 6 13 8 12 7 13 6 12 7 13 8 12 10 13 8 12 5 13 1 12 0 13 3 12 9 13 11 12 4 13-13 13-27 12-29 13-22 12-9 13-1 12-4 13-12 12-19 13-19 12-12 13-1 12 4 13 0 12-4 13-9 13-8 12-2 13 2 12 4 13 0 12-5 13-5 12 0 13 5 12 8 13 6 12-2 13-7 12-8 13-1 13 5 12 8 13 4 12-4 13-8 12-8 13-3 12 4 13 6 12 4 13 0 12-1 13 0 12 3 13 4 13 2 12-2 13-6 12-4 13 0 12 5 13 5 12-1 13-6 12-7 13-3 12 5 13 9 9 7 6 2 6 1 6 0 6-1 6-3 6-2 6 0 6 3 6 11 6 21 6 27 5 21 6 2 6-23 6-26 6-15 6-5 6-2 6-2 6-1 6-1 6 0 6 1 6 3 6 3 6 4 6 4 6 3 6 3 6 2 6 2 6 2 6 3 6 6 6 7 6 11 6 11 6 12 6 8 6 5 6-2 6-9 6-12 5-13 6-9 6-7 6-4 6-2 6 0 6 0 13 2 12 3 5 1 19 3 19-1 19 1 20 6 19 6 19 0 19-2 19 3 19 6 19 4 19-1 19 0 19 2 19 4 20 3 19 3 19 5 19 3 19-1 19-1 19 2 19 6 19 3 19-1 20-1 19 4 19 5 19 3 19 0 19 1 19 2 19 2 19 1 19 3 20 3 19 2 19 0 19 0 19 3 19 4 12 1 7 0 7 1 7 1 8 2 7 5 7 8 7 12 7 16 7 20 8 22 7 21 7 14 7 6 7-9 7-27 8-34 7-29 7-20 7-12 7-6 7-4 8-3 7-3 7-4 7-3 18-8 18-7 18-5 18-6 18-5 17-2 18-2 18-3 18-4 18-3 18 0 18 1 18-2 18-4 18-2 17 4 12 4 8 3 7 1 7 2 7 1 7 1 7 3 8 6 7 11 7 17 7 24 7 29 7 33 8 34 7 34 7 33 7 32 7 30 7 31 7 31 8 30 7 29 7 27 7 25 7 22 7 19 7 15M3700 3220l12-6 13-8 12-8 13-9 12-8 13-11 12-14 13-18 12-16 13-14 12-14 13-19 12-23 13-23 12-18 13-16 13-16 12-18 13-19 12-17 13-16 12-16 13-16 12-12 13-9 12-7 13-11 12-13 13-11 12-8 13-6 13-6 12-8 13-11 12-9 13-7 12-6 13-8 12-13 13-13 12-9 13-5 12-5 13-10 12-13 13-10 13-5 12-5 13-7 12-8 13-4 12 0 13-2 12-8 13-9 12-5 13 2 12 3 13-1 12-3 13 1 12 6 13 5 13 0 12-2 13 2 12 5 13 4 12 2 13 1 12 6 13 6 12 3 13-1 12 0 13 5 12 7 13 5 13 1 12 0 13 2 12 1 13 1 12 0 13 0 12 0 13-2 12-11 13-14 12-11 13-8 12-10 13-11 13-8 12-3 13 0 12 0 13 2 12 6 13 10 12 13 13 14 12 16 13 16 12 14 13 11 12 9 13 6 13 3 3-1 9-7 9-15 9-18 9-20 9-20 9-20 9-18 9-17 9-12 9-6 9 1 9 4 8 7 9 7 9 7 9 9 9 11 9 65 9 148 9 173 9 137 9 45 9-29 9-60 9-74 9-71 9-54 9-29 9-26 9-25 9-24 9-22 9-19 8-19 9-19 9-18 9-17 9-13 9-10 9-8 9-7 9-7 9-6 9-4 9-1 9 1 9 3 9 2 9 1 9 1 9 1 9 2 9 26 9 156 8 208 9 146 9 5 9-62 9-97 9-114 9-111 9-86 9-43 9 1 9 6 9 12 9 140 9 200 9 68 9-114 9-154 9-49 9 6 9 10 9 13 8 14 9 16 9 18 9 20 9 19 9 20 9 19 9 18 9 17 9 17 9 17 9 16 9 15 9 14 9 16 9 17 9 19 9 18 9 17 9 16 3 6 0 78"/>
<path transform="scale(0.94451)" stroke-width="2.63" d="M0 3220l0-691 56 0 13 0 12 10 13 16 12 11 13 0 12-9 13-11 12-3 13 7 12 13 13 11 12 4 13-3 12-5 13-3 13 2 12 4 13 3 12 4 13 4 12 8 13 10 12 8 13 1 12-6 13-10 12-5 13 3 12 12 13 13 13 9 12 1 13-4 12-3 13 2 12 7 13 10 12 8 13 5 12 3 13 4 12 3 13 2 12-1 13-2 13 0 12 7 13 13 12 14 13 9 12 0 13-6 12-7 13 0 12 9 13 13 12 14 13 7 12 2 13 0 13 3 12 5 13 8 12 8 13 6 12 7 13 8 12 10 13 9 12 4 13 1 12 0 13 3 12 10 13 12 12 4 13-14 13-28 12-30 13-22 12-9 13-1 12-3 13-12 12-20 13-19 12-12 13 0 12 3 13 1 12-5 13-9 13-8 12-3 13 3 12 4 13 0 12-5 13-5 12-1 13 6 12 9 13 6 12-2 13-8 12-8 13-2 13 6 12 8 13 5 12-4 13-9 12-9 13-3 12 4 13 7 12 4 13 1 12-2 13 0 12 3 13 5 13 2 12-3 13-6 12-4 13 0 12 5 13 5 12 0 13-6 12-8 13-3 12 5 13 10 9 6 6 3 6 1 6 0 6-2 6-2 6-3 6 0 6 3 6 11 6 22 6 27 5 21 6 2 6-23 6-26 6-15 6-6 6-2 6-2 6-1 6-1 6 0 6 1 6 3 6 3 6 4 6 4 6 4 6 3 6 2 6 2 6 2 6 3 6 5 6 8 6 10 6 12 6 12 6 9 6 4 6-2 6-8 6-13 5-13 6-10 6-7 6-4 6-2 6 0 6 0 13 2 12 4 5 1 19 2 19-1 19 1 20 7 19 5 19 0 19-2 19 3 19 6 19 4 19 0 19-1 19 2 19 5 20 2 19 3 19 5 19 3 19-1 19-1 19 2 19 6 19 3 19-1 20-1 19 4 19 6 19 2 19 0 19 1 19 2 19 2 19 1 19 3 20 3 19 2 19 0 19 0 19 3 19 4 12 1 7 0 7 1 7 1 8 3 7 4 7 9 7 12 7 17 7 21 8 22 7 21 7 14 7 6 7-10 7-28 8-34 7-30 7-20 7-12 7-6 7-4 8-3 7-3 7-3 7-4 18-8 18-7 18-5 18-6 18-5 17-2 18-2 18-2 18-4 18-3 18-1 18 1 18-2 18-4 18-1 17 3 12 5 8 2 7 2 7 1 7 2 7 1 7 2 8 6 7 11 7 17 7 24 7 30 7 32 8 34 7 34 7 34 7 31 7 31 7 31 7 31 8 30 7 28 7 27 7 25 7 22 4 10M3740 3220l10-7 12-8 13-10 12-15 13-18 12-16 13-14 12-13 13-19 12-24 13-23 12-18 13-15 13-16 12-18 13-19 12-17 13-16 12-17 13-16 12-12 13-8 12-8 13-11 12-12 13-12 12-8 13-5 13-6 12-9 13-11 12-9 13-7 12-5 13-9 12-13 13-13 12-9 13-4 12-5 13-10 12-14 13-10 13-5 12-4 13-7 12-8 13-4 12 0 13-2 12-8 13-10 12-5 13 2 12 3 13-1 12-3 13 1 12 6 13 5 13 0 12-2 13 2 12 5 13 4 12 2 13 2 12 5 13 6 12 3 13-1 12 0 13 5 12 7 13 5 13 2 12-1 13 2 12 2 13 0 12 0 13 0 12 0 13-1 12-12 13-14 12-10 13-9 12-10 13-10 13-9 12-3 13 0 12 1 13 2 12 5 13 10 12 14 13 15 12 16 13 16 12 14 13 11 12 8 13 6 13 3 3-1 9-8 9-14 9-19 9-21 9-20 9-20 9-18 9-16 9-13 9-5 9 1 9 5 8 6 9 8 9 8 9 8 9 12 9 77 9 154 9 172 9 131 9 34 9-33 9-62 9-74 9-71 9-52 9-27 9-26 9-25 9-24 9-22 9-19 8-18 9-19 9-18 9-17 9-13 9-11 9-7 9-7 9-7 9-7 9-4 9-1 9 1 9 3 9 2 9 1 9 0 9 1 9 3 9 20 9 150 8 210 9 154 9 11 9-59 9-97 9-114 9-112 9-89 9-46 9 0 9 6 9 10 9 130 9 204 9 82 9-109 9-157 9-55 9 6 9 10 9 12 8 14 9 17 9 18 9 19 9 20 9 20 9 19 9 18 9 17 9 18 9 17 9 16 9 14 9 15 9 15 9 18 9 18 9 18 9 17 9 16 3 6 0 53"/>
<path transform="scale(0.94630)" stroke-width="2.62" d="M0 3220l0-672 56 0 13 0 12 12 13 16 12 12 13 0 12-10 13-11 12-4 13 7 12 14 13 12 12 4 13-3 12-6 13-3 13 1 12 5 13 4 12 3 13 5 12 8 13 11 12 8 13 1 12-7 13-10 12-6 13 3 12 12 13 14 13 9 12 1 13-4 12-3 13 2 12 8 13 10 12 8 13 5 12 4 13 3 12 4 13 2 12-2 13-2 13 0 12 7 13 14 12 15 13 9 12 0 13-7 12-7 13-1 12 9 13 15 12 14 13 7 12 2 13 0 13 3 12 5 13 8 12 8 13 7 12 7 13 8 12 11 13 8 12 5 13 1 12-1 13 4 12 9 13 13 12 5 13-14 13-29 12-32 13-22 12-9 13 0 12-3 13-12 12-20 13-20 12-12 13 0 12 4 13 1 12-5 13-10 13-9 12-2 13 3 12 4 13 0 12-5 13-6 12 0 13 6 12 10 13 6 12-2 13-9 12-8 13-2 13 6 12 9 13 4 12-3 13-10 12-10 13-3 12 5 13 7 12 5 13 0 12-2 13 0 12 3 13 6 13 2 12-3 13-7 12-5 13 1 12 5 13 5 12 0 13-7 12-8 13-3 12 5 13 10 9 7 6 3 6 2 6-1 6-2 6-2 6-3 6-1 6 4 6 11 6 22 6 27 5 22 6 2 6-23 6-27 6-15 6-5 6-3 6-1 6-2 6-1 6 0 6 1 6 3 6 3 6 4 6 4 6 4 6 3 6 2 6 2 6 2 6 4 6 5 6 8 6 10 6 12 6 12 6 9 6 5 6-2 6-9 6-13 5-13 6-10 6-7 6-5 6-2 6 0 6 0 13 2 12 4 5 1 19 2 19-1 19 1 20 7 19 5 19 0 19-2 19 3 19 6 19 5 19-1 19-2 19 3 19 4 20 3 19 3 19 5 19 4 19-1 19-3 19 3 19 6 19 3 19-1 20-1 19 4 19 6 19 2 19 0 19 1 19 2 19 2 19 1 19 3 20 4 19 1 19 0 19 0 19 3 19 4 12 1 7 1 7 0 7 1 8 3 7 5 7 9 7 13 7 17 7 21 8 23 7 20 7 15 7 5 7-11 7-28 8-35 7-30 7-21 7-11 7-6 7-4 8-3 7-3 7-3 7-4 18-8 18-6 18-6 18-6 18-5 17-2 18-1 18-3 18-4 18-4 18 0 18 2 18-3 18-4 18-2 17 4 12 5 8 2 7 2 7 1 7 2 7 1 7 2 8 6 7 11 7 17 7 24 7 30 7 33 8 33 7 34 7 34 7 31 7 31 7 31 7 31 8 30 7 29 7 27 7 25 2 6M3775 3220l12-15 13-18 12-17 13-13 12-13 13-19 12-24 13-23 12-18 13-15 13-16 12-18 13-19 12-17 13-16 12-17 13-16 12-12 13-8 12-7 13-11 12-14 13-11 12-8 13-5 13-6 12-9 13-11 12-9 13-7 12-5 13-9 12-13 13-13 12-9 13-4 12-5 13-10 12-14 13-10 13-5 12-4 13-7 12-9 13-3 12 0 13-2 12-8 13-11 12-5 13 3 12 4 13-2 12-3 13 1 12 6 13 5 13 0 12-2 13 2 12 5 13 5 12 1 13 1 12 6 13 6 12 3 13-1 12 0 13 5 12 7 13 6 13 1 12-1 13 2 12 2 13 1 12-1 13 0 12 1 13-2 12-12 13-14 12-10 13-8 12-10 13-11 13-9 12-3 13 0 12 1 13 2 12 6 13 10 12 14 13 15 12 16 13 16 12 14 13 11 12 8 13 7 13 2 3-1 9-9 9-15 9-19 9-21 9-20 9-20 9-18 9-16 9-12 9-6 9 2 9 5 8 7 9 8 9 8 9 8 9 14 9 89 9 159 9 171 9 123 6 15M5268 3220l7-28 9-64 9-74 9-70 9-50 9-26 9-26 9-25 9-24 9-21 9-19 8-18 9-19 9-18 9-17 9-13 9-10 9-8 9-7 9-7 9-7 9-5 9-1 9 2 9 2 9 2 9 1 9 1 9 1 9 2 9 15 9 145 8 211 9 162 7 13M5580 3220l8-53 9-95 9-115 9-113 9-91 9-50 9-2 9 6 9 9 9 120 9 207 9 95 9-102 9-159 9-63 9 6 9 10 9 12 8 15 9 16 9 18 9 20 9 20 9 20 9 19 9 18 9 18 9 17 9 18 9 15 9 15 9 14 9 15 9 18 9 18 9 18 9 17 9 16 3 6 0 27"/>
<path transform="scale(0.94809)" stroke-width="2.62" d="M0 3220l0-651 56 0 13-1 12 12 13 18 12 12 13 0 12-10 13-12 12-4 13 7 12 15 13 12 12 5 13-4 12-6 13-4 13 2 12 4 13 4 12 4 13 5 12 9 13 11 12 8 13 1 12-7 13-11 12-7 13 4 12 13 13 15 13 9 12 1 13-5 12-3 13 2 12 8 13 10 12 9 13 5 12 4 13 4 12 3 13 2 12-2 13-2 13 0 12 7 13 14 12 16 13 10 12 0 13-8 12-8 13-1 12 10 13 15 12 14 13 8 12 2 13 0 13 2 12 6 13 8 12 8 13 7 12 7 13 9 12 11 13 9 12 4 13 1 12-1 13 4 12 10 13 13 12 5 13-14 13-30 12-33 13-23 12-8 13 0 12-3 13-12 12-20 13-21 12-12 13 0 12 5 13 1 12-5 13-10 13-9 12-3 13 4 12 4 13 0 12-5 13-6 12-1 13 7 12 10 13 6 12-2 13-9 12-9 13-2 13 6 12 10 13 5 12-4 13-11 12-9 13-4 12 5 13 7 12 5 13 1 12-2 13-1 12 4 13 6 13 2 12-3 13-7 12-5 13 0 12 6 13 5 12 0 13-7 12-9 13-4 12 6 13 11 9 7 6 4 6 1 6-1 6-2 6-2 6-3 6-1 6 3 6 12 6 21 6 28 5 22 6 3 6-24 6-26 6-15 6-6 6-2 6-3 6-1 6-1 6-1 6 2 6 2 6 4 6 4 6 5 6 3 6 4 6 2 6 2 6 2 6 3 6 5 6 8 6 10 6 12 6 12 6 9 6 5 6-1 6-10 6-13 5-13 6-10 6-8 6-4 6-2 6-1 6 1 13 2 12 3 5 2 19 2 19-1 19 1 20 6 19 6 19 0 19-3 19 3 19 7 19 5 19-2 19-1 19 3 19 4 20 3 19 3 19 5 19 4 19-2 19-2 19 3 19 6 19 3 19-1 20-1 19 4 19 6 19 2 19 0 19 1 19 2 19 2 19 1 19 3 20 3 19 2 19 0 19 0 19 3 19 4 12 1 7 1 7 0 7 1 8 3 7 6 7 8 7 14 7 18 7 21 8 23 7 21 7 14 7 5 7-11 7-30 8-36 7-30 7-20 7-11 7-6 7-4 8-3 7-3 7-4 7-3 18-8 18-7 18-5 18-7 18-4 17-2 18-2 18-2 18-5 18-3 18 0 18 1 18-2 18-5 18-1 17 4 12 4 8 3 7 2 7 1 7 1 7 1 7 3 8 6 7 11 7 17 7 24 7 30 7 32 8 34 7 34 7 33 7 32 7 30 7 32 7 31 8 30 7 29 7 27 2 5M3794 3220l6-8 12-16 13-13 12-13 13-19 12-24 13-23 12-19 13-14 13-16 12-18 13-19 12-17 13-16 12-17 13-16 12-12 13-8 12-7 13-11 12-14 13-12 12-8 13-5 13-5 12-9 13-11 12-10 13-6 12-5 13-9 12-13 13-14 12-9 13-4 12-4 13-10 12-14 13-11 13-4 12-4 13-8 12-8 13-4 12 1 13-2 12-8 13-11 12-5 13 3 12 3 13-1 12-3 13 1 12 6 13 5 13 0 12-2 13 1 12 6 13 4 12 1 13 2 12 5 13 7 12 3 13-1 12-1 13 5 12 8 13 6 13 1 12-1 13 2 12 2 13 0 12 0 13 0 12 1 13-2 12-12 13-14 12-10 13-8 12-10 13-11 13-9 12-3 13 0 12 1 13 2 12 6 13 10 12 14 13 15 12 17 13 16 12 14 13 11 12 8 13 6 13 3 3-2 9-9 9-15 9-20 9-21 9-21 9-19 9-18 9-16 9-12 9-6 9 2 9 5 8 8 9 8 9 8 9 10 9 17 9 100 9 163 9 168 7 95M5274 3220l1-5 9-66 9-75 9-68 9-48 9-25 9-26 9-25 9-23 9-21 9-19 8-18 9-18 9-19 9-17 9-13 9-10 9-8 9-6 9-8 9-7 9-5 9-2 9 2 9 2 9 3 9 1 9 0 9 1 9 2 9 11 9 138 8 212 9 160M5585 3220l3-21 9-94 9-115 9-114 9-94 9-53 9-4 9 6 9 9 9 109 9 210 9 108 9-95 9-162 9-70 9 6 9 10 9 12 8 15 9 16 9 18 9 20 9 20 9 20 9 19 9 19 9 17 9 19 9 17 9 15 9 15 9 14 9 15 9 18 9 18 9 18 9 17 9 16 3 5 0 1"/>
<path transform="scale(0.94988)" stroke-width="2.61" d="M0 3220l0-631 56 0 13 0 12 13 13 18 12 13 13 0 12-11 13-13 12-4 13 8 12 15 13 13 12 5 13-4 12-7 13-4 13 2 12 4 13 5 12 4 13 5 12 9 13 11 12 9 13 1 12-8 13-12 12-6 13 3 12 14 13 15 13 10 12 1 13-5 12-4 13 2 12 9 13 11 12 9 13 5 12 4 13 3 12 4 13 2 12-2 13-3 13 0 12 8 13 15 12 16 13 10 12 0 13-8 12-9 13-1 12 10 13 16 12 15 13 8 12 2 13-1 13 2 12 7 13 8 12 8 13 7 12 7 13 10 12 11 13 9 12 5 13 0 12-1 13 3 12 11 13 14 12 6 13-15 13-32 12-33 13-23 12-9 13 1 12-2 13-12 12-21 13-21 12-12 13 0 12 5 13 2 12-6 13-11 13-9 12-3 13 4 12 4 13 0 12-5 13-7 12 0 13 7 12 11 13 7 12-3 13-9 12-10 13-2 13 7 12 10 13 5 12-4 13-11 12-11 13-3 12 5 13 8 12 5 13 0 12-2 13 0 12 4 13 6 13 2 12-3 13-7 12-6 13 1 12 6 13 5 12 0 13-8 12-9 13-4 12 6 13 11 9 8 6 4 6 1 6-1 6-2 6-3 6-3 6-1 6 3 6 12 6 22 6 28 5 22 6 3 6-23 6-27 6-15 6-6 6-3 6-2 6-2 6-1 6 0 6 1 6 3 6 4 6 4 6 4 6 4 6 4 6 2 6 2 6 2 6 3 6 5 6 8 6 10 6 12 6 12 6 10 6 5 6-2 6-9 6-13 5-14 6-10 6-8 6-4 6-2 6-1 6 0 13 2 12 4 5 1 19 3 19-2 19 1 20 7 19 6 19 0 19-3 19 2 19 8 19 4 19-1 19-2 19 3 19 5 20 2 19 4 19 5 19 3 19-1 19-3 19 3 19 7 19 3 19-2 20-1 19 4 19 7 19 2 19 0 19 0 19 2 19 2 19 1 19 3 20 4 19 2 19-1 19 0 19 4 19 3 12 2 7 0 7 1 7 1 8 3 7 6 7 9 7 14 7 18 7 22 8 23 7 21 7 14 7 5 7-13 7-30 8-36 7-31 7-20 7-11 7-6 7-4 8-3 7-3 7-3 7-4 18-8 18-6 18-6 18-6 18-5 17-2 18-1 18-3 18-4 18-4 18 1 18 1 18-2 18-5 18-2 17 5 12 4 8 2 7 2 7 2 7 1 7 1 7 2 8 6 7 11 7 17 7 25 7 30 7 32 8 34 7 34 7 33 7 31 7 31 7 31 7 31 8 31 7 28 1 6M3814 3220l11-11 12-13 13-18 12-25 13-23 12-18 13-15 13-15 12-19 13-19 12-17 13-16 12-16 13-16 12-12 13-8 12-8 13-11 12-14 13-12 12-8 13-4 13-6 12-8 13-12 12-9 13-7 12-4 13-9 12-13 13-15 12-9 13-3 12-4 13-11 12-14 13-10 13-5 12-4 13-7 12-8 13-4 12 1 13-2 12-9 13-11 12-5 13 3 12 4 13-1 12-4 13 1 12 7 13 5 13 0 12-3 13 2 12 5 13 5 12 1 13 1 12 6 13 7 12 3 13-2 12-1 13 5 12 9 13 5 13 1 12 0 13 1 12 2 13 1 12 0 13 0 12 0 13-1 12-12 13-14 12-10 13-8 12-10 13-12 13-8 12-4 13 1 12 1 13 2 12 6 13 11 12 13 13 16 12 17 13 16 12 14 13 11 12 8 13 6 13 2 3-2 9-9 9-16 9-20 9-22 9-21 9-19 9-18 9-16 9-12 9-4 9 1 9 6 8 8 9 9 9 8 9 9 9 23 9 110 9 166 9 166 4 51M5277 3220l7-49 9-75 9-67 9-46 9-25 9-25 9-25 9-23 9-21 9-18 8-18 9-19 9-18 9-17 9-13 9-10 9-7 9-7 9-8 9-7 9-6 9-2 9 2 9 3 9 2 9 1 9 0 9 0 9 2 9 8 9 130 8 214 8 144M5589 3220l8-82 9-114 9-115 9-96 9-57 9-6 9 6 9 9 9 98 9 212 9 120 9-87 9-163 9-78 9 5 9 10 9 13 8 14 9 17 9 18 9 20 9 20 9 20 9 20 9 18 9 18 9 18 9 18 9 15 9 14 9 14 9 16 9 17 9 19 9 18 6 11"/>
<path transform="scale(0.95167)" stroke-width="2.61" d="M0 3220l0-609 56 0 13-1 12 14 13 19 12 14 13 0 12-12 13-14 12-5 13 9 12 16 13 14 12 5 13-4 12-8 13-4 13 2 12 4 13 5 12 4 13 5 12 10 13 12 12 9 13 1 12-9 13-12 12-8 13 4 12 14 13 17 13 10 12 1 13-6 12-4 13 2 12 9 13 11 12 10 13 6 12 3 13 4 12 4 13 1 12-1 13-4 13 0 12 8 13 16 12 17 13 11 12-1 13-9 12-9 13-1 12 9 13 17 12 16 13 9 12 1 13 0 13 1 12 7 13 8 12 9 13 7 12 7 13 10 12 11 13 10 12 4 13 0 12-1 13 4 12 11 13 15 12 6 13-16 13-32 12-35 13-24 12-8 13 1 12-1 13-12 12-21 13-22 12-12 13 0 12 5 13 3 12-6 13-12 13-10 12-2 13 4 12 5 13 0 12-6 13-7 12-1 13 8 12 11 13 8 12-3 13-10 12-10 13-2 13 7 12 11 13 5 12-4 13-12 12-11 13-4 12 5 13 9 12 6 13 0 12-3 13 0 12 5 13 6 13 2 12-3 13-8 12-6 13 1 12 6 13 6 12-1 13-8 12-10 13-4 12 6 13 13 9 8 6 3 6 2 6-1 6-2 6-3 6-3 6-2 6 3 6 12 6 22 6 29 5 22 6 3 6-23 6-27 6-16 6-5 6-3 6-2 6-3 6-1 6 0 6 1 6 3 6 4 6 4 6 5 6 4 6 4 6 2 6 2 6 2 6 2 6 6 6 7 6 11 6 12 6 13 6 9 6 6 6-2 6-10 6-13 5-14 6-11 6-7 6-5 6-2 6-1 6 0 13 3 12 3 5 2 19 2 19-2 19 1 20 7 19 7 19-1 19-3 19 2 19 8 19 5 19-2 19-2 19 3 19 5 20 3 19 3 19 5 19 4 19-2 19-3 19 3 19 7 19 4 19-3 20-1 19 5 19 6 19 3 19-1 19 0 19 3 19 1 19 1 19 3 20 4 19 2 19-1 19 0 19 4 19 4 12 1 7 1 7 0 7 2 8 3 7 6 7 9 7 15 7 19 7 22 8 23 7 21 7 14 7 4 7-13 7-32 8-36 7-31 7-20 7-11 7-6 7-3 8-3 7-4 7-3 7-3 18-9 18-6 18-5 18-7 18-5 17-2 18-1 18-2 18-5 18-4 18 1 18 2 18-2 18-6 18-2 17 5 12 4 8 3 7 2 7 1 7 1 7 1 7 3 8 6 7 11 7 17 7 24 7 30 7 33 8 33 7 34 7 33 7 31 7 31 7 31 7 32 8 30 1 7M3840 3220l10-15 12-24 13-24 12-18 13-14 13-16 12-18 13-19 12-17 13-16 12-17 13-16 12-12 13-8 12-7 13-11 12-14 13-13 12-8 13-4 13-5 12-9 13-11 12-10 13-6 12-5 13-8 12-14 13-15 12-9 13-3 12-4 13-10 12-14 13-11 13-5 12-3 13-8 12-8 13-4 12 2 13-2 12-9 13-12 12-5 13 3 12 4 13-1 12-4 13 1 12 7 13 6 13-1 12-3 13 2 12 5 13 5 12 1 13 1 12 6 13 7 12 3 13-2 12-1 13 5 12 9 13 6 13 1 12-1 13 1 12 3 13 0 12 0 13 0 12 1 13-2 12-12 13-14 12-10 13-8 12-10 13-11 13-9 12-3 13 1 12 1 13 2 12 6 13 10 12 15 13 15 12 17 13 17 12 14 13 11 12 8 13 5 13 2 3-2 9-10 9-16 9-21 9-21 9-21 9-20 9-18 9-15 9-12 9-5 9 2 9 6 8 9 9 9 9 9 9 9 9 29 9 119 9 170 9 162 1 7M5281 3220l3-27 9-75 9-66 9-43 9-24 9-25 9-25 9-23 9-21 9-18 8-18 9-18 9-18 9-17 9-14 9-9 9-8 9-7 9-7 9-8 9-6 9-2 9 2 9 2 9 3 9 1 9 0 9 0 9 2 9 5 9 122 8 214 7 128M5593 3220l4-47 9-114 9-116 9-99 9-60 9-8 9 5 9 9 9 88 9 212 9 130M5687 3220l9-75 9-164 9-87 9 6 9 10 9 12 8 15 9 16 9 19 9 20 9 20 9 20 9 20 9 19 9 18 9 18 9 18 9 15 9 14 9 14 9 15 9 17 9 19 0 1"/>
<path transform="scale(0.95346)" stroke-width="2.60" d="M0 3220l0-588 56 0 13 0 12 14 13 21 12 15 13 0 12-13 13-15 12-5 13 8 12 17 13 15 12 6 13-5 12-8 13-4 13 1 12 5 13 5 12 4 13 5 12 10 13 13 12 10 13 1 12-10 13-13 12-8 13 4 12 14 13 18 13 11 12 0 13-6 12-5 13 3 12 9 13 12 12 10 13 6 12 4 13 4 12 3 13 2 12-2 13-4 13 0 12 8 13 16 12 19 13 11 12-1 13-10 12-10 13-1 12 10 13 18 12 16 13 9 12 2 13-1 13 1 12 7 13 9 12 8 13 7 12 8 13 10 12 12 13 10 12 4 13 0 12-2 13 4 12 12 13 15 12 7 13-16 13-34 12-36 13-24 12-8 13 2 12-1 13-12 12-22 13-22 12-13 13 1 12 6 13 2 12-6 13-12 13-10 12-3 13 4 12 6 13 0 12-6 13-7 12-1 13 8 12 12 13 8 12-3 13-10 12-11 13-3 13 8 12 11 13 6 12-4 13-13 12-12 13-4 12 5 13 10 12 6 13 0 12-3 13 0 12 5 13 6 13 3 12-4 13-8 12-6 13 0 12 7 13 6 12 0 13-9 12-11 13-4 12 6 13 14 9 8 6 4 6 2 6-1 6-3 6-3 6-3 6-2 6 3 6 12 6 22 6 29 5 23 6 3 6-23 6-27 6-16 6-6 6-3 6-2 6-3 6-1 6 0 6 1 6 3 6 4 6 5 6 5 6 4 6 3 6 3 6 2 6 1 6 3 6 5 6 8 6 11 6 12 6 12 6 10 6 6 6-2 6-10 6-13 5-14 6-11 6-8 6-5 6-2 6-1 6 0 13 3 12 4 5 1 19 2 19-2 19 1 20 7 19 7 19-1 19-3 19 2 19 8 19 5 19-2 19-2 19 3 19 5 20 3 19 3 19 6 19 3 19-1 19-4 19 3 19 7 19 4 19-2 20-2 19 5 19 6 19 3 19-1 19 0 19 3 19 1 19 2 19 2 20 5 19 1 19-1 19 0 19 4 19 4 12 1 7 1 7 1 7 1 8 3 7 6 7 11 7 14 7 20 7 23 8 23 7 21 7 14 7 4 7-15 7-32 8-37 7-31 7-20 7-11 7-6 7-3 8-3 7-4 7-3 7-3 18-8 18-7 18-5 18-7 18-5 17-1 18-1 18-3 18-5 18-4 18 1 18 2 18-2 18-6 18-2 17 5 12 5 8 2 7 2 7 2 7 0 7 1 7 3 8 6 7 11 7 17 7 24 7 30 7 33 8 34 7 33 7 33 7 31 7 31 7 32 7 31 3 9M3857 3220l5-11 13-24 12-18 13-14 13-16 12-18 13-19 12-17 13-16 12-17 13-16 12-12 13-7 12-7 13-12 12-14 13-13 12-8 13-4 13-5 12-9 13-11 12-10 13-6 12-5 13-8 12-14 13-15 12-9 13-3 12-3 13-11 12-14 13-11 13-5 12-3 13-7 12-9 13-4 12 2 13-1 12-10 13-12 12-6 13 4 12 5 13-2 12-4 13 1 12 7 13 6 13 0 12-4 13 1 12 6 13 5 12 1 13 1 12 6 13 8 12 3 13-3 12-1 13 5 12 9 13 6 13 1 12-1 13 2 12 2 13 0 12 0 13 0 12 1 13-2 12-11 13-15 12-9 13-8 12-10 13-12 13-9 12-3 13 1 12 2 13 1 12 6 13 11 12 14 13 16 12 17 13 17 12 15 13 10 12 8 13 5 13 2 3-2 9-11 9-17 9-21 9-22 9-21 9-19 9-18 9-15 9-12 9-4 9 2 9 7 8 9 9 9 9 9 9 10 9 37 9 127 9 172 7 121M5284 3220l0-4 9-75 9-64 9-41 9-24 9-24 9-25 9-24 9-20 9-18 8-17 9-19 9-18 9-17 9-13 9-10 9-7 9-7 9-8 9-8 9-6 9-2 9 1 9 3 9 2 9 1 9 0 9 0 9 2 9 4 9 113 8 214 6 111M5596 3220l1-11 9-114 9-118 9-101 9-63 9-10 9 5 9 9 9 77 9 212 7 114M5691 3220l5-37 9-165 9-96 9 6 9 10 9 13 8 14 9 17 9 18 9 21 9 20 9 20 9 20 9 19 9 18 9 19 9 17 9 16 9 14 9 13 9 15 4 8"/>
<path transform="scale(0.95525)" stroke-width="2.60" d="M0 3220l0-565 56 0 13-1 12 15 13 22 12 16 13 0 12-14 13-16 12-6 13 10 12 18 13 16 12 5 13-5 12-9 13-5 13 2 12 5 13 5 12 4 13 6 12 11 13 13 12 10 13 1 12-10 13-15 12-8 13 4 12 15 13 19 13 11 12 1 13-7 12-5 13 2 12 10 13 12 12 11 13 6 12 4 13 4 12 4 13 1 12-2 13-5 13 0 12 9 13 17 12 19 13 12 12-1 13-11 12-11 13-2 12 11 13 19 12 17 13 9 12 2 13-2 13 2 12 6 13 10 12 9 13 7 12 8 13 10 12 12 13 10 12 5 13-1 12-2 13 4 12 12 13 17 12 7 13-17 13-34 12-38 13-25 12-8 13 3 12 0 13-12 12-22 13-23 12-13 13 1 12 6 13 3 12-6 13-13 13-11 12-3 13 5 12 6 13 0 12-7 13-7 12-1 13 8 12 13 13 9 12-3 13-11 12-12 13-3 13 8 12 13 13 6 12-5 13-13 12-13 13-4 12 5 13 10 12 7 13 0 12-3 13 0 12 5 13 7 13 3 12-4 13-9 12-7 13 1 12 7 13 7 12-1 13-9 12-12 13-5 12 7 13 14 9 9 6 4 6 2 6-1 6-2 6-4 6-4 6-1 6 2 6 12 6 23 6 29 5 23 6 4 6-24 6-27 6-15 6-6 6-3 6-3 6-3 6-1 6-1 6 2 6 2 6 5 6 5 6 5 6 5 6 3 6 3 6 1 6 2 6 3 6 4 6 8 6 11 6 13 6 12 6 10 6 6 6-2 6-10 6-13 5-14 6-12 6-8 6-5 6-2 6-1 6 0 13 3 12 4 5 1 19 2 19-2 19 1 20 7 19 7 19-1 19-4 19 3 19 8 19 5 19-2 19-2 19 3 19 5 20 3 19 3 19 6 19 4 19-2 19-4 19 3 19 7 19 4 19-3 20-1 19 4 19 7 19 3 19-1 19 0 19 3 19 1 19 1 19 3 20 5 19 2 19-2 19 0 19 4 19 4 12 2 7 0 7 1 7 1 8 4 7 6 7 11 7 15 7 20 7 23 8 24 7 20 7 14 7 4 7-16 7-33 8-38 7-30 7-20 7-11 7-6 7-3 8-3 7-4 7-3 7-4 18-8 18-6 18-5 18-7 18-5 17-2 18 0 18-3 18-5 18-4 18 1 18 2 18-2 18-6 18-2 17 5 12 5 8 2 7 2 7 2 7 0 7 1 7 3 8 6 7 11 7 17 7 24 7 30 7 33 8 34 7 33 7 33 7 31 7 31 7 31 3 12M3871 3220l4-7 12-18 13-13 13-15 12-19 13-19 12-17 13-16 12-17 13-16 12-12 13-7 12-7 13-12 12-15 13-13 12-7 13-4 13-5 12-9 13-11 12-11 13-5 12-4 13-9 12-14 13-16 12-9 13-2 12-3 13-11 12-15 13-11 13-4 12-3 13-7 12-9 13-4 12 2 13-1 12-9 13-14 12-6 13 5 12 5 13-2 12-5 13 1 12 8 13 7 13-1 12-4 13 1 12 6 13 5 12 1 13 1 12 6 13 8 12 3 13-3 12-2 13 6 12 9 13 7 13 0 12-1 13 1 12 3 13 0 12 0 13 0 12 1 13-1 12-12 13-15 12-9 13-8 12-10 13-12 13-9 12-3 13 1 12 2 13 2 12 6 13 11 12 14 13 16 12 18 13 17 12 14 13 11 12 7 13 5 13 1 3-2 9-11 9-17 9-22 9-22 9-21 9-19 9-18 9-15 9-11 9-4 9 2 9 7 8 9 9 10 9 9 9 10 9 46 9 135 9 174 4 72M5286 3220l7-55 9-63 9-38 9-23 9-25 9-25 9-23 9-20 9-18 8-17 9-18 9-19 9-17 9-13 9-10 9-7 9-6 9-8 9-8 9-7 9-3 9 2 9 3 9 2 9 1 9-1 9 1 9 1 9 4 9 102 8 214 5 94M5599 3220l7-89 9-118 9-103 9-67 9-13 9 5 9 9 9 67 9 212 5 97M5696 3220l9-164 9-104 9 5 9 10 9 13 8 14 9 17 9 19 9 20 9 21 9 20 9 20 9 19 9 18 9 19 9 18 9 15 9 14 4 6"/>
<path transform="scale(0.95704)" stroke-width="2.59" d="M0 3220l0-542 56 0 13-1 12 16 13 23 12 17 13 0 12-15 13-17 12-6 13 9 12 20 13 16 12 6 13-5 12-10 13-5 13 2 12 5 13 5 12 4 13 7 12 11 13 14 12 11 13 0 12-11 13-15 12-9 13 4 12 16 13 19 13 12 12 1 13-7 12-6 13 2 12 10 13 13 12 11 13 7 12 4 13 4 12 4 13 1 12-3 13-4 13-1 12 9 13 18 12 20 13 13 12-2 13-11 12-12 13-2 12 11 13 20 12 18 13 9 12 2 13-2 13 1 12 7 13 9 12 10 13 7 12 8 13 11 12 12 13 11 12 4 13-1 12-2 13 4 12 13 13 17 12 7 13-16 13-36 12-39 13-25 12-8 13 4 12 0 13-12 12-23 13-24 12-13 13 1 12 8 13 3 12-7 13-13 13-12 12-3 13 5 12 6 13 1 12-7 13-8 12-1 13 9 12 14 13 9 12-3 13-12 12-13 13-3 13 9 12 13 13 7 12-5 13-15 12-13 13-5 12 6 13 11 12 7 13 0 12-3 13 0 12 5 13 7 13 4 12-5 13-9 12-8 13 1 12 7 13 8 12-1 13-10 12-12 13-5 12 7 13 15 9 10 6 4 6 2 6-1 6-3 6-4 6-4 6-2 6 3 6 11 6 23 6 30 5 24 6 3 6-23 6-27 6-16 6-6 6-3 6-3 6-3 6-2 6 0 6 1 6 3 6 5 6 5 6 5 6 5 6 4 6 2 6 2 6 1 6 3 6 5 6 7 6 11 6 13 6 13 6 10 6 6 6-2 6-10 6-14 5-14 6-12 6-8 6-5 6-2 6-1 6 0 13 2 12 4 5 2 19 2 19-3 19 1 20 8 19 7 19-1 19-4 19 2 19 9 19 5 19-2 19-3 19 3 19 5 20 3 19 4 19 6 19 4 19-3 19-4 19 3 19 8 19 4 19-3 20-2 19 5 19 7 19 3 19-1 19 0 19 2 19 2 19 1 19 3 20 5 19 1 19-1 19 0 19 3 19 5 12 1 7 1 7 1 7 1 8 4 7 7 7 11 7 15 7 21 7 23 8 24 7 21 7 13 7 4 7-17 7-34 8-38 7-31 7-20 7-11 7-5 7-4 8-3 7-3 7-4 7-3 18-8 18-6 18-5 18-7 18-5 17-2 18 0 18-3 18-5 18-4 18 0 18 3 18-2 18-6 18-3 17 5 12 5 8 3 7 2 7 1 7 1 7 1 7 2 8 6 7 11 7 18 7 24 7 30 7 33 8 34 7 33 7 33 7 31 7 31 3 13M3892 3220l8-9 13-14 12-19 13-19 12-17 13-16 12-17 13-16 12-12 13-7 12-7 13-12 12-15 13-13 12-8 13-4 13-4 12-9 13-12 12-10 13-5 12-4 13-8 12-15 13-16 12-9 13-2 12-3 13-11 12-15 13-11 13-4 12-3 13-8 12-9 13-3 12 3 13-1 12-10 13-14 12-6 13 4 12 6 13-2 12-5 13 1 12 8 13 7 13-1 12-5 13 1 12 7 13 5 12 1 13 0 12 6 13 9 12 2 13-3 12-1 13 5 12 10 13 7 13 0 12-1 13 1 12 3 13 0 12 0 13 0 12 1 13-1 12-13 13-14 12-9 13-8 12-10 13-12 13-10 12-2 13 1 12 2 13 2 12 6 13 11 12 15 13 16 12 18 13 17 12 14 13 11 12 7 13 5 13 1 3-3 9-11 9-18 9-22 9-22 9-22 9-19 9-17 9-15 9-11 9-4 9 3 9 7 8 10 9 10 9 10 9 10 9 56 9 142 9 174 2 23M5289 3220l4-30 9-61 9-37 9-22 9-25 9-25 9-23 9-20 9-17 8-17 9-18 9-19 9-17 9-13 9-10 9-6 9-7 9-8 9-8 9-7 9-3 9 1 9 3 9 2 9 1 9 0 9 0 9 1 9 4 9 92 8 213 4 76M5602 3220l4-51 9-120 9-105 9-70 9-16 9 5 9 9 9 57 9 210 4 81M5698 3220l7-125 9-112 9 4 9 10 9 13 8 14 9 17 9 19 9 20 9 21 9 20 9 20 9 19 9 19 9 19 9 18 2 4"/>
<path transform="scale(0.95883)" stroke-width="2.59" d="M0 3220l0-518 56 0 13-1 12 16 13 25 12 17 13 0 12-15 13-19 12-6 13 10 12 20 13 18 12 6 13-6 12-10 13-6 13 2 12 5 13 6 12 4 13 7 12 11 13 15 12 11 13 1 12-12 13-16 12-10 13 4 12 17 13 20 13 13 12 0 13-7 12-6 13 2 12 10 13 14 12 12 13 7 12 4 13 3 12 4 13 2 12-3 13-5 13-1 12 9 13 19 12 21 13 13 12-1 13-13 12-12 13-3 12 12 13 20 12 19 13 10 12 1 13-2 13 1 12 7 13 10 12 9 13 8 12 8 13 11 12 13 13 11 12 5 13-2 12-2 13 3 12 14 13 18 12 8 13-17 13-37 12-40 13-26 12-8 13 5 12 1 13-12 12-24 13-24 12-14 13 2 12 8 13 3 12-6 13-14 13-13 12-3 13 5 12 7 13 0 12-7 13-8 12-1 13 9 12 15 13 9 12-3 13-13 12-13 13-3 13 9 12 14 13 7 12-5 13-15 12-14 13-5 12 6 13 11 12 8 13 0 12-3 13-1 12 6 13 8 13 3 12-5 13-10 12-8 13 1 12 8 13 8 12-1 13-10 12-13 13-6 12 8 13 15 9 11 6 4 6 2 6-1 6-3 6-4 6-4 6-3 6 3 6 12 6 23 6 30 5 24 6 4 6-23 6-28 6-16 6-6 6-3 6-3 6-3 6-2 6-1 6 1 6 3 6 5 6 6 6 5 6 5 6 4 6 3 6 1 6 2 6 2 6 5 6 7 6 11 6 13 6 13 6 11 6 5 6-1 6-10 6-14 5-15 6-12 6-8 6-5 6-3 6-1 6 0 13 3 12 4 5 2 19 2 19-3 19 0 20 9 19 7 19-1 19-5 19 3 19 9 19 5 19-3 19-3 19 3 19 6 20 3 19 4 19 6 19 4 19-3 19-4 19 3 19 8 19 4 19-3 20-2 19 5 19 7 19 3 19-1 19 0 19 2 19 2 19 1 19 3 20 4 19 2 19-2 19 0 19 4 19 5 12 1 7 1 7 1 7 1 8 4 7 7 7 11 7 17 7 21 7 24 8 24 7 20 7 14 7 2 7-17 7-35 8-39 7-31 7-19 7-11 7-6 7-3 8-3 7-4 7-3 7-3 18-8 18-6 18-6 18-7 18-5 17-1 18-1 18-3 18-5 18-4 18 1 18 3 18-2 18-7 18-2 17 5 12 5 8 3 7 2 7 1 7 1 7 1 7 2 8 6 7 11 7 18 7 24 7 30 7 33 8 33 7 34 7 32 7 31 3 14M3918 3220l7-11 13-20 12-16 13-16 12-17 13-16 12-12 13-7 12-7 13-12 12-16 13-13 12-8 13-3 13-4 12-9 13-12 12-10 13-6 12-3 13-8 12-16 13-16 12-9 13-2 12-2 13-11 12-16 13-11 13-4 12-2 13-8 12-9 13-3 12 3 13-1 12-11 13-14 12-6 13 4 12 6 13-1 12-6 13 1 12 9 13 7 13-1 12-5 13 1 12 6 13 6 12 0 13 1 12 6 13 8 12 3 13-3 12-2 13 5 12 11 13 7 13 0 12-1 13 1 12 2 13 1 12-1 13 1 12 1 13-1 12-13 13-14 12-9 13-7 12-11 13-12 13-10 12-3 13 2 12 2 13 2 12 6 13 11 12 15 13 17 12 17 13 18 12 15 13 10 12 7 13 5 13 0 3-3 9-12 9-18 9-22 9-23 9-21 9-19 9-18 9-15 9-11 9-3 9 3 9 8 8 10 9 11 9 10 9 10 9 68 9 148 8 147M5292 3220l1-4 9-60 9-34 9-22 9-25 9-25 9-23 9-19 9-18 8-16 9-18 9-19 9-17 9-13 9-10 9-6 9-7 9-8 9-9 9-7 9-3 9 1 9 3 9 3 9 0 9 0 9 0 9 1 9 3 9 83 8 211 3 58M5605 3220l1-13 9-120 9-108 9-73 9-19 9 6 9 8 9 48 9 207 3 64M5700 3220l5-85 9-119 9 2 9 10 9 13 8 14 9 17 9 19 9 20 9 21 9 21 9 20 9 19 9 19 4 9"/>
<path transform="scale(0.96062)" stroke-width="2.58" d="M0 3220l0-494 56 0 13-1 12 17 13 26 12 19 13 0 12-17 13-19 12-7 13 10 12 22 13 18 12 6 13-6 12-10 13-7 13 2 12 6 13 5 12 5 13 7 12 12 13 15 12 12 13 1 12-13 13-17 12-11 13 4 12 18 13 21 13 14 12 0 13-8 12-7 13 2 12 11 13 15 12 12 13 7 12 4 13 4 12 4 13 1 12-3 13-5 13-1 12 9 13 20 12 22 13 14 12-2 13-13 12-14 13-3 12 12 13 22 12 20 13 10 12 1 13-3 13 1 12 7 13 11 12 9 13 8 12 8 13 12 12 13 13 11 12 5 13-2 12-3 13 4 12 14 13 19 12 9 13-18 13-38 12-42 13-27 12-7 13 6 12 2 13-12 12-24 13-26 12-14 13 2 12 9 13 4 12-7 13-15 13-13 12-3 13 6 12 7 13 0 12-8 13-9 12-1 13 10 12 16 13 10 12-3 13-14 12-14 13-3 13 10 12 14 13 8 12-6 13-16 12-15 13-5 12 7 13 11 12 8 13 1 12-4 13 0 12 6 13 8 13 3 12-5 13-10 12-9 13 1 12 9 13 8 12-1 13-11 12-14 13-6 12 8 13 16 9 11 6 5 6 2 6-1 6-3 6-5 6-4 6-3 6 3 6 12 6 23 6 31 5 24 6 4 6-23 6-28 6-15 6-7 6-3 6-4 6-3 6-2 6-1 6 1 6 4 6 5 6 5 6 6 6 5 6 4 6 3 6 1 6 2 6 2 6 5 6 7 6 11 6 13 6 13 6 11 6 6 6-2 6-10 6-14 5-15 6-12 6-8 6-5 6-3 6-1 6 0 13 2 12 5 5 1 19 2 19-3 19 0 20 9 19 8 19-1 19-6 19 3 19 10 19 5 19-3 19-3 19 3 19 5 20 3 19 4 19 6 19 5 19-3 19-5 19 3 19 8 19 5 19-4 20-2 19 5 19 8 19 3 19-2 19 0 19 2 19 2 19 1 19 3 20 5 19 2 19-2 19-1 19 4 19 5 12 2 7 1 7 0 7 2 8 4 7 8 7 11 7 17 7 21 7 25 8 24 7 21 7 13 7 2 7-18 7-36 8-40 7-31 7-19 7-11 7-5 7-4 8-3 7-3 7-4 7-3 18-8 18-5 18-6 18-7 18-5 17-2 18 0 18-3 18-5 18-5 18 2 18 3 18-2 18-7 18-3 17 5 12 6 8 3 7 2 7 1 7 1 7 0 7 2 8 6 7 12 7 17 7 25 7 30 7 33 8 33 7 33 7 33 3 13M3938 3220l12-16 13-15 12-17 13-17 12-12 13-6 12-7 13-12 12-16 13-14 12-8 13-3 13-4 12-8 13-13 12-10 13-5 12-3 13-9 12-15 13-17 12-9 13-1 12-2 13-11 12-16 13-12 13-4 12-2 13-7 12-10 13-3 12 4 13-1 12-11 13-15 12-7 13 6 12 6 13-2 12-6 13 1 12 9 13 8 13-2 12-5 13 1 12 7 13 5 12 0 13 1 12 6 13 9 12 3 13-4 12-2 13 6 12 10 13 7 13 1 12-2 13 1 12 3 13 1 12-1 13 1 12 1 13-2 12-12 13-14 12-9 13-7 12-11 13-13 13-10 12-2 13 2 12 2 13 2 12 6 13 12 12 15 13 16 12 18 13 18 12 15 13 10 12 6 13 5 13 0 3-3 9-12 9-19 9-23 9-23 9-21 9-19 9-17 9-15 9-11 9-3 9 3 9 9 8 10 9 12 9 10 9 11 9 79 9 154 5 96M5296 3220l6-35 9-32 9-22 9-25 9-25 9-23 9-19 9-17 8-17 9-18 9-18 9-18 9-13 9-9 9-6 9-7 9-8 9-9 9-7 9-4 9 1 9 3 9 3 9 1 9-1 9-1 9 2 9 3 9 73 8 209 2 39M5608 3220l7-95 9-109 9-76 9-23 9 6 9 8 9 40 9 203 2 46M5702 3220l3-43 9-127 9-1 9 11 9 12 8 15 9 17 9 19 9 20 9 21 9 21 9 20 7 15"/>
<path transform="scale(0.96241)" stroke-width="2.58" d="M0 3220l0-469 56 0 13-1 12 18 13 27 12 20 13 0 12-18 13-20 12-8 13 11 12 23 13 19 12 7 13-7 12-11 13-7 13 1 12 6 13 6 12 5 13 8 12 12 13 17 12 12 13 0 12-13 13-19 12-11 13 4 12 19 13 22 13 14 12 0 13-8 12-8 13 2 12 12 13 15 12 13 13 7 12 5 13 4 12 4 13 1 12-4 13-6 13-1 12 10 13 21 12 23 13 14 12-2 13-14 12-15 13-3 12 13 13 22 12 21 13 11 12 0 13-2 13 0 12 7 13 11 12 10 13 8 12 8 13 12 12 14 13 11 12 5 13-2 12-4 13 4 12 15 13 21 12 9 13-19 13-40 12-42 13-28 12-7 13 7 12 3 13-12 12-25 13-27 12-14 13 2 12 10 13 4 12-7 13-16 13-13 12-4 13 6 12 8 13 0 12-8 13-9 12-1 13 11 12 16 13 11 12-4 13-14 12-15 13-3 13 10 12 15 13 9 12-7 13-16 12-17 13-5 12 7 13 12 12 9 13 0 12-3 13-1 12 6 13 9 13 4 12-6 13-11 12-9 13 1 12 9 13 8 12 0 13-12 12-15 13-6 12 8 13 18 9 11 6 5 6 2 6-1 6-3 6-5 6-5 6-3 6 3 6 12 6 23 6 31 5 25 6 4 6-23 6-27 6-16 6-7 6-3 6-4 6-3 6-3 6-1 6 2 6 3 6 5 6 6 6 6 6 6 6 4 6 2 6 2 6 1 6 2 6 5 6 7 6 11 6 13 6 14 6 11 6 6 6-2 6-10 6-15 5-14 6-13 6-9 6-5 6-3 6-1 6 0 13 3 12 4 5 2 19 2 19-4 19 1 20 9 19 8 19-2 19-6 19 3 19 10 19 6 19-4 19-3 19 3 19 5 20 4 19 4 19 6 19 4 19-3 19-5 19 3 19 9 19 4 19-3 20-3 19 5 19 9 19 3 19-2 19-1 19 3 19 1 19 1 19 4 20 5 19 1 19-2 19 0 19 4 19 5 12 2 7 0 7 1 7 2 8 4 7 8 7 12 7 17 7 22 7 25 8 24 7 21 3 5M2958 3220l3-10 7-37 8-39 7-32 7-19 7-11 7-5 7-3 8-4 7-3 7-3 7-4 18-7 18-6 18-6 18-7 18-5 17-1 18 0 18-3 18-6 18-4 18 1 18 3 18-2 18-7 18-3 17 6 12 5 8 3 7 2 7 1 7 1 7 1 7 2 8 6 7 11 7 18 7 25 7 30 7 32 8 34 7 33 3 13M3964 3220l11-15 13-17 12-12 13-6 12-7 13-13 12-16 13-14 12-8 13-2 13-4 12-9 13-12 12-11 13-5 12-3 13-8 12-16 13-17 12-9 13-1 12-1 13-11 12-17 13-12 13-3 12-2 13-8 12-9 13-3 12 4 13 0 12-12 13-16 12-7 13 6 12 6 13-1 12-6 13 1 12 9 13 7 13-1 12-6 13 1 12 7 13 6 12 0 13 0 12 6 13 10 12 3 13-5 12-3 13 7 12 11 13 7 13 0 12-1 13 1 12 2 13 1 12 0 13 0 12 2 13-2 12-12 13-15 12-9 13-7 12-10 13-13 13-10 12-3 13 3 12 2 13 2 12 6 13 12 12 15 13 17 12 18 13 18 12 15 13 9 12 7 13 4 13 0 3-3 9-13 9-19 9-23 9-24 9-21 9-19 9-17 9-15 9-10 9-3 9 4 9 8 8 12 9 11 9 11 9 14 9 90 9 158 3 44M5301 3220l1-6 9-30 9-22 9-24 9-25 9-22 9-20 9-17 8-16 9-18 9-19 9-17 9-13 9-9 9-6 9-7 9-8 9-9 9-8 9-4 9 1 9 3 9 3 9 1 9-1 9-1 9 2 9 3 9 63 8 206 1 20M5611 3220l4-56 9-111 9-79 9-26 9 5 9 9 9 32 9 198 1 28M5705 3220l0-1 9-133 9-4 9 10 9 13 8 14 9 17 9 19 9 21 9 21 9 21 1 2"/>
<path transform="scale(0.96420)" stroke-width="2.57" d="M0 3220l0-443 56 0 13-2 12 19 13 29 12 21 13 0 12-19 13-22 12-8 13 12 12 23 13 21 12 7 13-7 12-12 13-8 13 2 12 6 13 6 12 6 13 7 12 13 13 17 12 13 13 0 12-14 13-20 12-12 13 5 12 19 13 24 13 15 12 0 13-10 12-8 13 2 12 12 13 17 12 13 13 8 12 4 13 4 12 4 13 1 12-4 13-6 13-2 12 11 13 22 12 24 13 15 12-2 13-16 12-16 13-3 12 13 13 23 12 22 13 11 12 1 13-4 13 1 12 7 13 11 12 10 13 9 12 8 13 12 12 15 13 12 12 4 13-2 12-4 13 4 12 16 13 21 12 10 13-19 13-42 12-44 13-28 12-7 13 8 12 4 13-12 12-26 13-27 12-15 13 3 12 10 13 4 12-7 13-16 13-14 12-4 13 6 12 8 13 1 12-9 13-10 12-1 13 12 12 17 13 11 12-3 13-15 12-16 13-4 13 11 12 16 13 9 12-6 13-18 12-17 13-6 12 7 13 14 12 8 13 1 12-4 13 0 12 6 13 9 13 4 12-6 13-12 12-9 13 1 12 9 13 9 12 0 13-13 12-15 13-7 12 8 13 19 9 12 6 5 6 2 6-1 6-3 6-5 6-6 6-3 6 3 6 11 6 24 6 32 5 25 6 5 6-23 6-28 6-16 6-7 6-4 6-3 6-4 6-3 6-1 6 2 6 3 6 5 6 7 6 6 6 6 6 4 6 3 6 1 6 1 6 2 6 4 6 8 6 11 6 13 6 14 6 11 6 6 6-1 6-11 6-14 5-15 6-13 6-9 6-5 6-4 6-1 6 0 13 3 12 5 5 1 19 2 19-4 19 1 20 9 19 9 19-2 19-7 19 3 19 11 19 5 19-3 19-4 19 3 19 6 20 3 19 4 19 7 19 4 19-3 19-6 19 3 19 9 19 5 19-4 20-3 19 5 19 9 19 3 19-2 19 0 19 2 19 2 19 1 19 3 20 5 19 2 19-2 19-1 19 4 19 5 12 2 7 1 7 1 7 2 8 4 7 8 7 13 7 17 7 23 7 25 5 14M2966 3220l2-13 8-40 7-32 7-19 7-10 7-6 7-3 8-3 7-4 7-3 7-3 18-8 18-6 18-5 18-7 18-6 17-1 18 0 18-3 18-6 18-4 18 1 18 4 18-2 18-8 18-3 17 6 12 6 8 3 7 2 7 1 7 0 7 1 7 2 8 6 7 11 7 18 7 25 7 30 7 33 8 33 2 13M3989 3220l11-10 13-7 12-6 13-13 12-17 13-14 12-8 13-2 13-3 12-9 13-13 12-11 13-5 12-2 13-8 12-16 13-18 12-9 13-1 12-1 13-10 12-18 13-12 13-3 12-2 13-7 12-10 13-3 12 4 13 1 12-12 13-17 12-7 13 6 12 7 13-2 12-6 13 1 12 9 13 8 13-1 12-6 13 0 12 7 13 6 12 0 13 0 12 7 13 9 12 3 13-5 12-3 13 6 12 12 13 8 13 0 12-2 13 1 12 3 13 1 12-1 13 1 12 1 13-1 12-13 13-14 12-9 13-7 12-10 13-14 13-10 12-3 13 3 12 3 13 2 12 6 13 12 12 15 13 17 12 19 13 18 12 14 13 10 12 6 13 5 13-2 3-3 9-13 9-20 9-23 9-24 9-21 9-19 9-17 9-14 9-10 9-3 9 4 9 9 8 12 9 12 9 11 9 18 9 100 9 153M5310 3220l1-3 9-22 9-24 9-25 9-23 9-19 9-16 8-16 9-18 9-19 9-18 9-13 9-8 9-6 9-7 9-8 9-10 9-8 9-4 9 1 9 3 9 3 9 1 9-1 9-1 9 1 9 3 9 55 8 202M5614 3220l1-15 9-113 9-82 9-30 9 5 9 8 9 26 9 191 0 10M5707 3220l7-97 9-8 9 11 9 13 8 14 9 17 9 19 9 21 4 10"/>
<path transform="scale(0.96599)" stroke-width="2.57" d="M0 3220l0-417 56 0 13-2 12 20 13 31 12 22 13 0 12-20 13-24 12-8 13 12 12 25 13 22 12 7 13-8 12-13 13-7 13 1 12 6 13 7 12 5 13 8 12 14 13 18 12 14 13 0 12-15 13-22 12-13 13 5 12 21 13 24 13 16 12 0 13-10 12-9 13 2 12 13 13 17 12 14 13 8 12 4 13 4 12 4 13 1 12-4 13-7 13-2 12 11 13 23 12 26 13 15 12-2 13-17 12-17 13-4 12 14 13 24 12 23 13 12 12 0 13-4 13 1 12 7 13 11 12 11 13 8 12 9 13 12 12 15 13 13 12 4 13-3 12-4 13 4 12 17 13 22 6 5M1012 3220l9-14 13-43 12-46 13-29 12-6 13 9 12 4 13-12 12-26 13-28 12-15 13 3 12 11 13 5 12-8 13-17 13-15 12-4 13 7 12 9 13 0 12-9 13-10 12-2 13 13 12 18 13 12 12-4 13-16 12-16 13-4 13 11 12 17 13 10 12-7 13-19 12-18 13-6 12 8 13 13 12 10 13 0 12-4 13 0 12 6 13 10 13 5 12-6 13-13 12-10 13 0 12 10 13 10 12-1 13-13 12-16 13-8 12 9 13 20 9 13 6 5 6 3 6-1 6-4 6-6 6-5 6-4 6 2 6 12 6 24 6 32 5 26 6 5 6-23 6-28 6-16 6-7 6-4 6-4 6-4 6-3 6-1 6 1 6 4 6 6 6 6 6 7 6 6 6 4 6 3 6 1 6 1 6 2 6 4 6 8 6 11 6 13 6 14 6 11 6 7 6-2 6-10 6-15 5-15 6-13 6-9 6-6 6-3 6-2 6 0 13 3 12 5 5 2 19 2 19-5 19 0 20 10 19 9 19-2 19-7 19 3 19 11 19 6 19-4 19-4 19 3 19 6 20 3 19 4 19 7 19 5 19-4 19-6 19 3 19 10 19 5 19-5 20-3 19 6 19 9 19 3 19-2 19-1 19 2 19 2 19 1 19 3 20 6 19 1 19-2 19-1 19 4 19 6 12 2 7 0 7 1 7 2 8 5 7 8 7 13 7 19 7 22 1 3M2972 3220l4-20 7-31 7-19 7-10 7-6 7-3 8-3 7-3 7-4 7-3 18-8 18-5 18-6 18-7 18-6 17-1 18 0 18-2 18-7 18-4 18 1 18 4 18-2 18-7 18-4 17 6 12 6 8 3 7 2 7 1 7 1 7 0 7 2 8 6 7 12 7 18 7 25 7 30 7 33 3 11M4037 3220l1-1 12-18 13-14 12-8 13-2 13-3 12-9 13-13 12-11 13-4 12-2 13-8 12-17 13-18 12-10 13 1 12-1 13-11 12-18 13-12 13-3 12-1 13-8 12-10 13-3 12 5 13 1 12-13 13-17 12-8 13 7 12 7 13-2 12-6 13 0 12 11 13 8 13-2 12-6 13 0 12 8 13 6 12-1 13 0 12 7 13 10 12 3 13-6 12-3 13 6 12 13 13 8 13 0 12-2 13 0 12 3 13 1 12-1 13 1 12 2 13-2 12-12 13-15 12-8 13-7 12-10 13-14 13-11 12-2 13 3 12 3 13 1 12 7 13 12 12 15 13 18 12 18 13 18 12 15 13 10 12 6 13 4 13-2 3-3 9-14 9-20 9-24 9-24 9-21 9-19 9-16 9-15 9-10 9-2 9 4 9 10 8 12 9 13 9 11 9 24 9 109 6 102M5323 3220l6-15 9-25 9-23 9-19 9-16 8-16 9-18 9-19 9-17 9-13 9-9 9-5 9-7 9-8 9-10 9-9 9-4 9 1 9 3 9 3 9 1 9-1 9-1 9 1 9 3 9 46 8 177M5617 3220l7-88 9-85 9-34 9 5 9 8 9 20 8 174M5710 3220l4-59 9-11 9 10 9 13 8 15 9 16 8 16"/>
<path transform="scale(0.96778)" stroke-width="2.56" d="M0 3220l0-390 56 0 13-2 12 21 13 33 12 23 13-1 12-21 13-25 12-9 13 13 12 26 13 23 12 8 13-8 12-14 13-9 13 2 12 7 13 7 12 5 13 8 12 15 13 19 12 14 13 0 12-16 13-23 12-14 13 5 12 22 13 26 13 16 12 0 13-11 12-9 13 2 12 13 13 18 12 14 13 9 12 4 13 4 12 5 13 0 12-4 13-8 13-2 12 12 13 24 12 27 13 16 12-3 13-18 12-18 13-5 12 15 13 25 12 24 13 12 12 0 13-4 13 0 12 8 13 11 12 11 13 9 12 9 13 13 12 15 13 13 12 4 13-3 12-5 13 4 5 8M1028 3220l6-20 12-47 13-30 12-6 13 10 12 5 13-12 12-27 13-29 12-16 13 4 12 12 13 5 12-8 13-18 13-15 12-5 13 8 12 9 13 1 12-10 13-11 12-1 13 12 12 20 13 13 12-4 13-17 12-18 13-4 13 12 12 18 13 10 12-7 13-20 12-19 13-7 12 9 13 14 12 10 13 1 12-4 13-1 12 7 13 10 13 5 12-6 13-14 12-11 13 1 12 11 13 10 12-1 13-14 12-17 13-8 12 9 13 21 9 14 6 5 6 3 6-1 6-4 6-6 6-6 6-4 6 2 6 12 6 24 6 33 5 26 6 5 6-23 6-28 6-16 6-7 6-4 6-4 6-5 6-3 6-1 6 1 6 4 6 6 6 7 6 7 6 6 6 5 6 2 6 2 6 0 6 2 6 4 6 7 6 11 6 14 6 14 6 11 6 7 6-1 6-11 6-15 5-15 6-13 6-10 6-6 6-3 6-2 6 0 13 3 12 5 5 2 19 2 19-4 19-1 20 11 19 9 19-2 19-8 19 3 19 12 19 6 19-5 19-5 19 4 19 6 20 4 19 4 19 7 19 5 19-4 19-7 19 3 19 10 19 5 19-5 20-3 19 6 19 9 19 4 19-3 19-1 19 3 19 1 19 1 19 4 20 5 19 2 19-3 19-1 19 4 19 6 12 2 7 1 7 1 7 2 8 5 7 9 7 13 3 7M2979 3220l4-16 7-19 7-10 7-5 7-4 8-3 7-3 7-4 7-3 18-8 18-5 18-5 18-8 18-5 17-1 18 0 18-3 18-6 18-5 18 2 18 4 18-2 18-8 18-4 17 6 12 6 8 4 7 2 7 1 7 0 7 1 7 1 8 6 7 12 7 18 7 25 7 31 2 8M4065 3220l10-6 13-2 13-2 12-9 13-13 12-12 13-4 12-2 13-7 12-18 13-19 12-9 13 1 12 0 13-11 12-19 13-12 13-3 12-1 13-7 12-11 13-2 12 5 13 1 12-13 13-19 12-7 13 7 12 8 13-2 12-7 13 0 12 11 13 9 13-2 12-7 13 0 12 8 13 6 12-1 13 0 12 7 13 10 12 3 13-6 12-3 13 6 12 13 13 8 13 0 12-2 13 1 12 3 13 0 12 0 13 1 12 1 13-1 12-13 13-14 12-9 13-6 12-10 13-15 13-11 12-2 13 3 12 3 13 2 12 7 13 12 12 16 13 17 12 19 13 18 12 15 13 9 12 6 13 4 13-2 3-4 9-14 9-21 9-24 9-24 9-22 9-18 9-16 9-14 9-10 9-2 9 4 9 11 8 13 9 13 9 12 9 30 9 118 3 49M5336 3220l2-5 9-23 9-19 9-15 8-16 9-18 9-19 9-18 9-13 9-8 9-6 9-6 9-8 9-11 9-8 9-5 9 1 9 3 9 3 9 1 9-2 9-1 9 1 9 3 9 39 6 150M5620 3220l4-47 9-88 9-37 9 4 9 8 9 14 7 146M5713 3220l1-18 9-17 9 11 9 13 7 11"/>
<path transform="scale(0.96957)" stroke-width="2.56" d="M0 3220l0-363 56 0 13-1 12 22 13 34 12 24 13 0 12-23 13-26 12-10 13 14 12 27 13 25 12 8 13-9 12-15 13-9 13 1 12 8 13 7 12 6 13 8 12 15 13 20 12 15 13 0 12-17 13-24 12-15 13 5 12 22 13 28 13 17 12 0 13-12 12-10 13 2 12 14 13 19 12 15 13 8 12 5 13 4 12 5 13 1 12-6 13-8 13-2 12 12 13 25 12 29 13 16 12-3 13-19 12-19 13-5 12 14 13 27 12 25 13 13 12 0 13-5 13 0 12 8 13 11 12 12 13 8 12 9 12 13M1038 3220l8-31 13-31 12-5 13 11 12 6 13-12 12-28 13-30 12-16 13 4 12 13 13 6 12-9 13-18 13-17 12-4 13 8 12 9 13 1 12-10 13-12 12-1 13 13 12 21 13 14 12-4 13-19 12-18 13-5 13 13 12 19 13 11 12-8 13-21 12-20 13-7 12 9 13 15 12 11 13 1 12-5 13-1 12 8 13 11 13 4 12-6 13-15 12-11 13 1 12 11 13 11 12-1 13-15 12-18 13-9 12 10 13 22 9 14 6 7 6 2 6-1 6-4 6-7 6-6 6-4 6 2 6 12 6 24 6 33 5 27 6 5 6-23 6-27 6-16 6-7 6-5 6-5 6-4 6-4 6-1 6 1 6 4 6 6 6 7 6 8 6 6 6 5 6 3 6 1 6 1 6 1 6 4 6 7 6 11 6 14 6 14 6 12 6 6 6-1 6-10 6-16 5-15 6-14 6-9 6-6 6-4 6-1 6 0 13 3 12 5 5 2 19 2 19-5 19-1 20 11 19 10 19-3 19-8 19 3 19 12 19 6 19-5 19-5 19 4 19 6 20 4 19 4 19 8 19 5 19-5 19-7 19 3 19 11 19 5 19-5 20-4 19 6 19 10 19 3 19-3 19-1 19 3 19 2 19 0 19 4 20 6 19 1 19-3 19-1 19 5 19 6 12 2 12 1M2991 3220l6-9 7-5 7-4 8-3 7-3 7-3 7-4 18-7 18-5 18-6 18-8 18-5 17-1 18 0 18-2 18-7 18-5 18 2 18 5 18-2 18-9 18-4 17 6 12 7 8 3 7 2 7 1 7 1 7 0 7 2 8 6 7 11 7 18 7 26 1 2M4130 3220l8-7 13-5 12-1 13-8 12-17 13-20 12-9 13 1 12 1 13-12 12-19 13-13 13-2 12 0 13-8 12-11 13-2 12 6 13 1 12-13 13-20 12-8 13 8 12 8 13-2 12-8 13 1 12 12 13 9 13-3 12-7 13 0 12 8 13 6 12 0 13-1 12 7 13 11 12 3 13-6 12-5 13 7 12 13 13 9 13 0 12-3 13 1 12 3 13 1 12-1 13 1 12 2 13-1 12-13 13-15 12-8 13-6 12-11 13-15 13-11 12-2 13 4 12 3 13 2 12 6 13 13 12 16 13 18 12 19 13 18 12 15 13 9 12 5 13 4 13-3 3-3 9-15 9-21 9-25 9-24 9-22 9-18 9-16 9-14 9-9 9-2 9 5 9 10 8 14 9 14 9 12 9 38 9 121M5351 3220l5-10 9-16 8-16 9-17 9-20 9-17 9-14 9-8 9-5 9-6 9-8 9-11 9-9 9-5 9 1 9 3 9 3 9 1 9-2 9-1 9 1 9 3 9 31 5 122M5624 3220l0-5 9-91 9-41 9 4 9 8 9 11 6 114"/>
<path transform="scale(0.97136)" stroke-width="2.55" d="M0 3220l0-334 56 0 13-2 12 23 13 36 12 26 13-1 12-23 13-28 12-11 13 14 12 29 13 26 12 8 13-9 12-16 13-9 13 1 12 7 13 8 12 6 13 9 12 16 13 21 12 15 13 0 12-18 13-26 12-16 13 5 12 24 13 29 13 18 12 0 13-13 12-10 13 1 12 15 13 19 12 16 13 9 12 5 13 5 12 4 13 1 12-6 13-9 13-2 12 12 13 27 12 29 13 18 12-4 13-20 12-21 13-5 12 15 13 28 12 27 13 13 12-1 13-5 13-1 12 8 13 12 5 5M1048 3220l11-26 12-4 13 12 12 7 13-12 12-29 13-31 12-16 13 4 12 14 13 6 12-8 13-20 13-18 12-4 13 8 12 11 13 1 12-11 13-12 12-2 13 14 12 22 13 15 12-5 13-19 12-20 13-4 13 13 12 20 13 12 12-8 13-23 12-21 13-8 12 10 13 16 12 12 13 0 12-5 13 0 12 7 13 12 13 5 12-7 13-15 12-12 13 0 12 12 13 12 12-1 13-16 12-19 13-10 12 11 13 23 9 15 6 7 6 2 6-1 6-5 6-6 6-7 6-4 6 1 6 12 6 25 6 33 5 28 6 6 6-23 6-28 6-16 6-7 6-5 6-5 6-5 6-4 6-1 6 1 6 4 6 6 6 8 6 8 6 6 6 5 6 3 6 1 6 1 6 1 6 4 6 7 6 11 6 14 6 14 0 1M2010 3220l4-9 5-16 6-14 6-9 6-7 6-3 6-2 6 0 13 3 12 5 5 2 19 2 19-5 19-1 20 11 19 11 19-4 19-8 19 3 19 12 19 7 19-5 19-6 19 3 19 7 20 4 19 4 19 8 19 5 19-5 19-7 19 3 19 11M2543 3220l20-4 12 4M3055 3220l3-1 18-5 18-5 18-8 18-6 17-1 18 1 18-3 18-7 18-5 18 2 18 5 18-2 18-9 18-4 17 7 12 6 8 4 7 2 7 1 7 0 7 0 7 2 8 6 7 12 3 8M4188 3220l0-1 13-20 12-10 13 3 12 1 13-12 12-19 13-14 13-2 12 0 13-7 12-11 13-3 12 7 13 1 12-14 13-20 12-8 13 8 12 9 13-2 12-9 13 1 12 12 13 10 13-3 12-8 13-1 12 9 13 7 12-1 13-1 12 7 13 11 12 3 13-6 12-5 13 7 12 14 13 9 13 0 12-3 13 0 12 3 13 1 12 0 13 1 12 2 13-2 12-13 13-15 12-7 13-6 12-11 13-15 13-12 12-2 13 5 12 3 13 2 12 6 13 13 12 16 13 18 12 19 13 19 12 15 13 9 12 5 13 3 13-3 3-4 9-15 9-22 9-25 9-25 9-21 9-18 9-16 9-13 9-10 9-1 9 5 9 11 8 15 9 14 9 12 9 48 5 72M5371 3220l2-4 9-18 9-19 9-18 9-13 9-8 9-5 9-6 9-8 9-11 9-10 9-5 9 1 9 3 9 3 9 1 9-2 9-1 9 1 9 3 9 24 4 92M5628 3220l5-55 9-45 9 3 9 8 9 8 5 81"/>
<path transform="scale(0.97315)" stroke-width="2.55" d="M0 3220l0-305 56 0 13-2 12 24 13 38 12 27 13 0 12-25 13-30 12-11 13 14 12 31 13 27 12 9 13-10 12-17 13-10 13 1 12 8 13 8 12 6 13 10 12 16 13 22 12 16 13 0 12-19 13-27 12-18 13 5 12 26 13 30 13 19 12-1 13-13 12-11 13 1 12 15 13 21 12 17 13 9 12 5 13 5 12 4 13 1 12-7 13-9 13-2 12 12 13 28 12 31 13 18 12-4 13-21 12-22 13-6 12 16 13 29 9 21M1116 3220l5-13 13-32 12-17 13 5 12 15 13 7 12-9 13-21 13-18 12-5 13 9 12 11 13 1 12-11 13-13 12-2 13 15 12 24 13 15 12-5 13-20 12-21 13-5 13 14 12 22 13 11 12-8 13-24 12-22 13-8 12 10 13 17 12 12 13 1 12-5 13-1 12 8 13 12 13 6 12-8 13-16 12-13 13 1 12 12 13 12 12 0 13-17 12-21 13-9 12 11 13 24 9 16 6 7 6 3 6-2 6-4 6-7 6-8 6-4 6 1 6 12 6 25 5 30M1844 3220l2-12 6-17 6-7 6-5 6-5 6-6 6-4 6-1 6 1 6 4 6 7 6 8 6 8 6 7 6 5 6 3 6 1 6 0 6 1 6 4 6 7 0 1M2026 3220l5-10 6-6 6-4 6-2 6 0 13 3 12 6 5 2 19 2 19-6 19-1 20 12 7 4M2206 3220l13-6 19 3 5 3M3213 3220l6-2 14 2M3280 3220l11-5 18-5 17 7 6 3M4251 3220l12-20 13-14 13-1 12 0 13-8 12-11 13-2 12 7 13 2 12-15 13-21 12-9 13 9 12 10 13-3 12-9 13 1 12 13 13 10 13-3 12-9 13-1 12 9 13 7 12-1 13-1 12 7 13 12 12 3 13-7 12-6 13 8 12 14 13 10 13-1 12-3 13 1 12 3 13 1 12-1 13 1 12 3 13-2 12-13 13-15 12-7 13-6 12-11 13-16 13-12 12-1 13 4 12 4 13 2 12 6 13 13 12 16 13 19 12 19 10 15M5083 3220l4-10 9-26 9-25 9-21 9-18 9-15 9-14 9-9 9-1 9 5 9 12 8 16 9 14 9 13 9 58 2 21M5390 3220l1-3 9-18 9-13 9-8 9-4 9-6 9-8 9-12 9-10 9-5 9 1 9 3 9 4 9 0 9-2 9-1 9 0 9 3 9 19 3 60M5632 3220l1-13 9-49 9 2 9 8 9 7 3 45"/>
<path transform="scale(0.97494)" stroke-width="2.54" d="M0 3220l0-275 56 0 13-3 12 26 13 40 12 29 13-1 12-27 13-31 12-12 13 15 12 33 13 28 12 9 13-10 12-18 13-11 13 1 12 8 13 9 12 6 13 10 12 18 13 22 12 17 13 0 12-21 13-28 12-19 13 6 12 26 13 32 13 20 12-1 13-14 12-12 13 1 12 16 13 22 12 17 13 10 12 5 13 5 12 4 13 1 12-7 13-10 13-3 12 13 13 30 9 24M708 3220l12-24 13-7 12 17 6 14M1132 3220l2-6 12-17 13 6 12 15 3 2M1192 3220l4-3 13-22 13-20 12-5 13 10 12 12 13 1 12-12 13-14 12-2 13 16 12 25 11 14M1352 3220l7-3 13-21 12-22 13-6 13 15 12 23 13 12 12-8 13-25 12-24 13-9 12 11 13 18 12 13 13 1 12-6 13-1 12 9 13 13 13 5 12-8 13-17 12-13 13 1 12 13 13 13 12-1 13-17 12-23 13-10 12 11 13 26 9 17 6 7 6 3 6-1 6-5 6-8 6-7 6-5 6 1 6 12 3 16M1863 3220l1-1 6-6 6-5 6-4 6-2 6 1 6 4 6 7 4 6M4309 3220l5-3 12-12 13-2 12 8 13 2 12-15 13-22 12-9 13 9 12 10 13-2 12-10 13 1 12 13 13 11 13-4 12-9 13-1 12 10 13 7 12-2 13-1 12 7 13 12 6 2M4617 3220l10-6 12-6 13 7 4 5M4810 3220l5-5 12-8 13-5 12-11 13-16 13-12 12-2 13 5 12 4 13 2 12 6 13 13 12 17 9 12M5097 3220l8-23 9-21 9-18 9-15 9-13 9-9 9-1 9 6 9 12 8 17 9 15 9 13 5 37M5416 3220l2-2 9-4 9-5 9-9 9-12 9-10 9-6 9 1 9 3 9 4 9 0 9-2 9-1 9 0 9 3 9 14 1 26M5638 3220l4-22 9 0 9 8 9 7 0 7"/>
<path transform="scale(0.97673)" stroke-width="2.54" d="M0 3220l0-245 56 0 13-3 12 28 13 42 12 30 13-1 12-28 13-33 12-13 13 16 12 34 13 30 12 10 13-11 12-19 13-12 13 1 12 9 13 8 12 7 13 10 12 19 13 24 12 17 13 0 12-22 13-30 12-20 13 6 12 27 13 34 13 20 12 0 13-15 12-13 13 1 12 17 13 22 12 19 13 10 12 5 13 5 12 4 13 1 12-8 13-10 13-3 12 14 7 16M1218 3220l4-5 12-5 13 10M1285 3220l12-14 12-1 12 15M1381 3220l3-7 13-5 10 12M1462 3220l10-20 13-9 12 11 12 18M1632 3220l3-3 13 0 2 3M1701 3220l9-18 13-11 12 12 8 17M4386 3220l3-4 12-10 13 10 4 4M4444 3220l7-5 13 0 4 5M4862 3220l3-4 13-13 12-2 13 6 12 4 13 2 12 6 1 1M5112 3220l2-6 9-17 9-15 9-12 9-9 9-1 9 7 9 13 8 17 9 16 5 7M5462 3220l1-2 9-5 9 0 9 4 8 3M5511 3220l6-1 9-2 9 0 9 3"/>
<path transform="scale(0.97852)" stroke-width="2.53" d="M0 3220l0-213 56 0 13-3 12 28 13 44 12 32 13 0 12-30 13-35 12-14 13 17 12 36 13 32 12 9 13-12 12-20 13-12 13 1 12 9 13 9 12 7 13 11 12 19 13 25 12 19 13-1 12-23 13-32 12-21 13 5 12 29 13 36 13 21 12-1 13-15 12-14 13 1 12 17 13 24 9 15M5134 3220l7-9 9-9 9 0 9 6 7 12"/>
<path transform="scale(0.98031)" stroke-width="2.53" d="M0 3220l0-181 56 0 13-4 12 30 13 47 12 34 13-1 12-31 13-37 12-15 13 17 12 38 13 34 12 10 13-13 12-21 13-14 13 1 12 10 13 9 12 8 13 11 12 20 13 26 12 20 13-1 12-25 13-34 12-21 13 5 12 31 13 37 6 10M465 3220l5-5 12-15 13 1 12 18 1 1"/>
<path transform="scale(0.98210)" stroke-width="2.53" d="M0 3220l0-148 56 0 13-4 12 32 13 49 12 35 13-1 12-33 13-39 12-16 13 19 12 39 13 36 12 10 13-13 12-23 13-14 13 1 12 10 13 10 12 8 13 11 12 22 5 9M373 3220l9-25 12-23 13 6 12 32 4 10"/>
<path transform="scale(0.98389)" stroke-width="2.52" d="M0 3220l0-114 56 0 13-4 12 33 13 51 11 34M120 3220l11-32 13-41 12-17 13 19 12 42 10 29M221 3220l10-19 13-15 13 0 12 11 13 10 12 9 5 4M389 3220l5-11 13 5 2 6"/>
<path transform="scale(0.98568)" stroke-width="2.52" d="M0 3220l0-79 56 0 13-5 12 35 11 49M133 3220l11-37 12-18 13 20 10 35"/>
<path transform="scale(0.98747)" stroke-width="2.51" d="M0 3220l0-44 56 0 13-5 12 36 3 13M144 3220l12-19 11 19"/>
<path transform="scale(0.98926)" stroke-width="2.51" d="M0 3220l0-7 56 0 13-6 4 13"/>
</g></g>
<g>
<rect x="1254.8" y="60.5" width="7.0" height="12.3" fill="#f6f6f6" stroke="#c6c6c6"/>
<text x="1258.3" y="69.9" font-size="9.00" text-anchor="middle" textLength="4.4" lengthAdjust="spacingAndGlyphs">0</text>
<rect x="1303.8" y="76.5" width="11.7" height="13.0" fill="#f6f6f6" stroke="#c6c6c6"/>
<text x="1309.7" y="86.4" font-size="9.50" text-anchor="middle" textLength="9.3" lengthAdjust="spacingAndGlyphs">20</text>
<rect x="1356.5" y="94.8" width="13.5" height="13.4" fill="#f6f6f6" stroke="#c6c6c6"/>
<text x="1363.2" y="105.2" font-size="10.20" text-anchor="middle" textLength="9.9" lengthAdjust="spacingAndGlyphs">40</text>
<rect x="1409.5" y="112.2" width="14.3" height="15.0" fill="#f6f6f6" stroke="#c6c6c6"/>
<text x="1416.7" y="123.6" font-size="10.70" text-anchor="middle" textLength="10.4" lengthAdjust="spacingAndGlyphs">60</text>
<rect x="1462.8" y="132.2" width="15.0" height="16.0" fill="#f6f6f6" stroke="#c6c6c6"/>
<text x="1470.3" y="144.2" font-size="11.20" text-anchor="middle" textLength="10.9" lengthAdjust="spacingAndGlyphs">80</text>
<rect x="1510.5" y="154.5" width="21.3" height="15.7" fill="#f6f6f6" stroke="#c6c6c6"/>
<text x="1521.2" y="166.5" font-size="11.60" text-anchor="middle" textLength="17.0" lengthAdjust="spacingAndGlyphs">100</text>
</g><g clip-path="url(#pc)">
<rect x="38.0" y="60.5" width="7.0" height="12.3" fill="#f0f0f0" stroke="#c6c6c6"/>
<text x="41.5" y="69.9" font-size="9.00" text-anchor="middle" textLength="4.4" lengthAdjust="spacingAndGlyphs">0</text>
<rect x="39.3" y="76.5" width="11.7" height="13.0" fill="#f0f0f0" stroke="#c6c6c6"/>
<text x="45.1" y="86.4" font-size="9.50" text-anchor="middle" textLength="9.3" lengthAdjust="spacingAndGlyphs">20</text>
<rect x="38.5" y="94.8" width="13.5" height="13.4" fill="#f0f0f0" stroke="#c6c6c6"/>
<text x="45.2" y="105.2" font-size="10.20" text-anchor="middle" textLength="9.9" lengthAdjust="spacingAndGlyphs">40</text>
<rect x="38.8" y="112.2" width="14.3" height="15.0" fill="#f0f0f0" stroke="#c6c6c6"/>
<text x="46.0" y="123.6" font-size="10.70" text-anchor="middle" textLength="10.4" lengthAdjust="spacingAndGlyphs">60</text>
<rect x="39.2" y="132.2" width="15.0" height="16.0" fill="#f0f0f0" stroke="#c6c6c6"/>
<text x="46.7" y="144.2" font-size="11.20" text-anchor="middle" textLength="10.9" lengthAdjust="spacingAndGlyphs">80</text>
<rect x="40.9" y="154.5" width="21.3" height="15.7" fill="#f0f0f0" stroke="#c6c6c6"/>
<text x="51.6" y="166.5" font-size="11.60" text-anchor="middle" textLength="17.0" lengthAdjust="spacingAndGlyphs">100</text>
</g>
<rect x="1115.5" y="18.5" width="417" height="16.5" fill="#fff" stroke="#c0c0c0"/>
<text x="1118.3" y="32.0" font-size="12.00" textLength="410.0" lengthAdjust="spacingAndGlyphs">500 ms window, 100 ms rise time, 1,00 ms slice interval, 1,7 Hz resn, t = 100 ms</text>
<text x="649.3" y="36.0" font-size="23.70" textLength="274.7" lengthAdjust="spacingAndGlyphs" font-weight="bold" filter="url(#halo)" style="fill:#000;stroke:#000;stroke-width:.45">HarmonicDyne Baroque</text>
<text x="19.7" y="12.0" font-size="11.60" textLength="17.5" lengthAdjust="spacingAndGlyphs">SPL</text>
<text x="38.3" y="63.2" font-size="11.60" text-anchor="end" textLength="17.5" lengthAdjust="spacingAndGlyphs">140</text>
<text x="38.3" y="119.2" font-size="11.60" text-anchor="end" textLength="17.5" lengthAdjust="spacingAndGlyphs">135</text>
<text x="38.3" y="175.2" font-size="11.60" text-anchor="end" textLength="17.5" lengthAdjust="spacingAndGlyphs">130</text>
<text x="38.3" y="231.2" font-size="11.60" text-anchor="end" textLength="17.5" lengthAdjust="spacingAndGlyphs">125</text>
<text x="38.3" y="287.2" font-size="11.60" text-anchor="end" textLength="17.5" lengthAdjust="spacingAndGlyphs">120</text>
<text x="38.3" y="343.2" font-size="11.60" text-anchor="end" textLength="17.5" lengthAdjust="spacingAndGlyphs">115</text>
<text x="38.3" y="399.2" font-size="11.60" text-anchor="end" textLength="17.5" lengthAdjust="spacingAndGlyphs">110</text>
<text x="38.3" y="455.2" font-size="11.60" text-anchor="end" textLength="17.5" lengthAdjust="spacingAndGlyphs">105</text>
<text x="38.3" y="511.2" font-size="11.60" text-anchor="end" textLength="17.5" lengthAdjust="spacingAndGlyphs">100</text>
<text x="38.3" y="567.2" font-size="11.60" text-anchor="end" textLength="11.7" lengthAdjust="spacingAndGlyphs">95</text>
<text x="38.3" y="623.2" font-size="11.60" text-anchor="end" textLength="11.7" lengthAdjust="spacingAndGlyphs">90</text>
<text x="38.3" y="679.2" font-size="11.60" text-anchor="end" textLength="11.7" lengthAdjust="spacingAndGlyphs">85</text>
<text x="38.3" y="735.2" font-size="11.60" text-anchor="end" textLength="11.7" lengthAdjust="spacingAndGlyphs">80</text>
<text x="38.3" y="791.2" font-size="11.60" text-anchor="end" textLength="11.7" lengthAdjust="spacingAndGlyphs">75</text>
<text x="40.5" y="841.2" font-size="11.60" text-anchor="middle" textLength="11.7" lengthAdjust="spacingAndGlyphs">20</text>
<text x="128.1" y="841.2" font-size="11.60" text-anchor="middle" textLength="11.7" lengthAdjust="spacingAndGlyphs">30</text>
<text x="190.2" y="841.2" font-size="11.60" text-anchor="middle" textLength="11.7" lengthAdjust="spacingAndGlyphs">40</text>
<text x="238.4" y="841.2" font-size="11.60" text-anchor="middle" textLength="11.7" lengthAdjust="spacingAndGlyphs">50</text>
<text x="277.8" y="841.2" font-size="11.60" text-anchor="middle" textLength="11.7" lengthAdjust="spacingAndGlyphs">60</text>
<text x="311.1" y="841.2" font-size="11.60" text-anchor="middle" textLength="11.7" lengthAdjust="spacingAndGlyphs">70</text>
<text x="339.9" y="841.2" font-size="11.60" text-anchor="middle" textLength="11.7" lengthAdjust="spacingAndGlyphs">80</text>
<text x="365.4" y="841.2" font-size="11.60" text-anchor="middle" textLength="11.7" lengthAdjust="spacingAndGlyphs">90</text>
<text x="388.1" y="841.2" font-size="11.60" text-anchor="middle" textLength="17.5" lengthAdjust="spacingAndGlyphs">100</text>
<text x="537.8" y="841.2" font-size="11.60" text-anchor="middle" textLength="17.5" lengthAdjust="spacingAndGlyphs">200</text>
<text x="625.4" y="841.2" font-size="11.60" text-anchor="middle" textLength="17.5" lengthAdjust="spacingAndGlyphs">300</text>
<text x="687.5" y="841.2" font-size="11.60" text-anchor="middle" textLength="17.5" lengthAdjust="spacingAndGlyphs">400</text>
<text x="735.7" y="841.2" font-size="11.60" text-anchor="middle" textLength="17.5" lengthAdjust="spacingAndGlyphs">500</text>
<text x="775.1" y="841.2" font-size="11.60" text-anchor="middle" textLength="17.5" lengthAdjust="spacingAndGlyphs">600</text>
<text x="808.4" y="841.2" font-size="11.60" text-anchor="middle" textLength="17.5" lengthAdjust="spacingAndGlyphs">700</text>
<text x="837.3" y="841.2" font-size="11.60" text-anchor="middle" textLength="17.5" lengthAdjust="spacingAndGlyphs">800</text>
<text x="862.7" y="841.2" font-size="11.60" text-anchor="middle" textLength="17.5" lengthAdjust="spacingAndGlyphs">900</text>
<text x="885.5" y="841.2" font-size="11.60" text-anchor="middle" textLength="11.1" lengthAdjust="spacingAndGlyphs">1k</text>
<text x="1035.2" y="841.2" font-size="11.60" text-anchor="middle" textLength="11.1" lengthAdjust="spacingAndGlyphs">2k</text>
<text x="1122.7" y="841.2" font-size="11.60" text-anchor="middle" textLength="11.1" lengthAdjust="spacingAndGlyphs">3k</text>
<text x="1184.9" y="841.2" font-size="11.60" text-anchor="middle" textLength="11.1" lengthAdjust="spacingAndGlyphs">4k</text>
<text x="1233.1" y="841.2" font-size="11.60" text-anchor="middle" textLength="11.1" lengthAdjust="spacingAndGlyphs">5k</text>
<text x="1272.5" y="841.2" font-size="11.60" text-anchor="middle" textLength="11.1" lengthAdjust="spacingAndGlyphs">6k</text>
<text x="1305.7" y="841.2" font-size="11.60" text-anchor="middle" textLength="11.1" lengthAdjust="spacingAndGlyphs">7k</text>
<text x="1334.6" y="841.2" font-size="11.60" text-anchor="middle" textLength="11.1" lengthAdjust="spacingAndGlyphs">8k</text>
<text x="1360.0" y="841.2" font-size="11.60" text-anchor="middle" textLength="11.1" lengthAdjust="spacingAndGlyphs">9k</text>
<text x="1382.8" y="841.2" font-size="11.60" text-anchor="middle" textLength="17.0" lengthAdjust="spacingAndGlyphs">10k</text>
<text x="1532.5" y="841.2" font-size="11.60" text-anchor="middle" textLength="29.0" lengthAdjust="spacingAndGlyphs">20kHz</text>
<rect x="1535.5" y="179.5" width="29" height="483.0" fill="url(#cb)" stroke="#000"/>
<text x="1567.6" y="207.8" font-size="11.60" textLength="12.0" lengthAdjust="spacingAndGlyphs">98</text>
<text x="1567.6" y="256.1" font-size="11.60" textLength="12.0" lengthAdjust="spacingAndGlyphs">92</text>
<text x="1567.6" y="304.4" font-size="11.60" textLength="12.0" lengthAdjust="spacingAndGlyphs">86</text>
<text x="1567.6" y="352.7" font-size="11.60" textLength="12.0" lengthAdjust="spacingAndGlyphs">80</text>
<text x="1567.6" y="401.0" font-size="11.60" textLength="12.0" lengthAdjust="spacingAndGlyphs">74</text>
<text x="1567.6" y="449.2" font-size="11.60" textLength="12.0" lengthAdjust="spacingAndGlyphs">68</text>
<text x="1567.6" y="497.6" font-size="11.60" textLength="12.0" lengthAdjust="spacingAndGlyphs">62</text>
<text x="1567.6" y="545.9" font-size="11.60" textLength="12.0" lengthAdjust="spacingAndGlyphs">56</text>
<text x="1567.6" y="594.1" font-size="11.60" textLength="12.0" lengthAdjust="spacingAndGlyphs">50</text>
<text x="1567.6" y="642.5" font-size="11.60" textLength="12.0" lengthAdjust="spacingAndGlyphs">44</text>
<path d="M1535.5 203.5H1564.5M1535.5 251.5H1564.5M1535.5 300.5H1564.5M1535.5 348.5H1564.5M1535.5 396.5H1564.5M1535.5 445.5H1564.5M1535.5 493.5H1564.5M1535.5 541.5H1564.5M1535.5 590.5H1564.5M1535.5 638.5H1564.5" stroke="#000" stroke-width="1" fill="none"/>
<text x="1549.0" y="176.6" font-size="11.60" text-anchor="middle" textLength="16.8" lengthAdjust="spacingAndGlyphs">101</text>
<text x="1548.5" y="676.0" font-size="11.60" text-anchor="middle" textLength="11.8" lengthAdjust="spacingAndGlyphs">41</text>
</svg></body></html>
